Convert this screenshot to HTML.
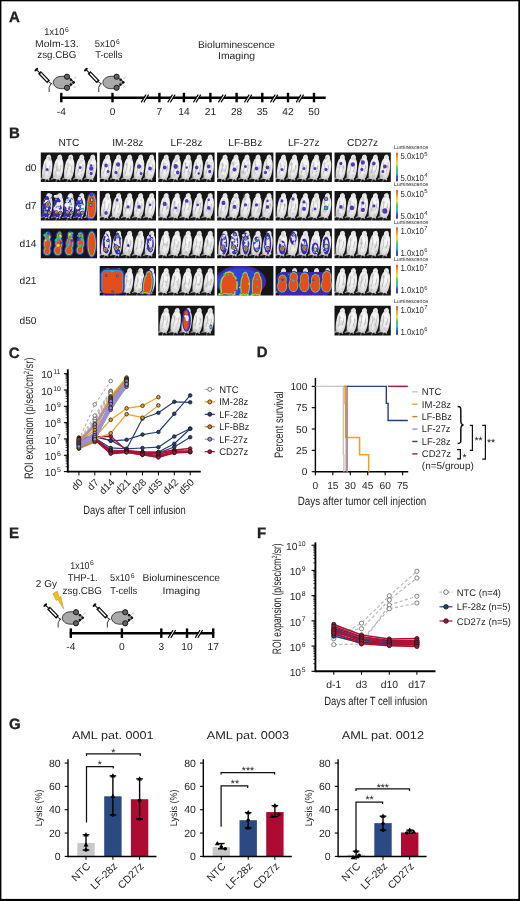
<!DOCTYPE html>
<html><head><meta charset="utf-8"><style>
html,body{margin:0;padding:0;background:#fff;}
svg{display:block;will-change:transform;}
text{font-family:"Liberation Sans", sans-serif;fill:#262626;text-rendering:geometricPrecision;}
</style></head><body>
<svg width="520" height="901" viewBox="0 0 520 901">
<defs>
<radialGradient id="mg" cx="0.55" cy="0.45" r="0.6" fx="0.6" fy="0.4">
<stop offset="0" stop-color="#fcfcfc"/><stop offset="0.55" stop-color="#ececec"/><stop offset="0.85" stop-color="#d0d0d0"/><stop offset="1" stop-color="#9a9a9a"/>
</radialGradient>
<filter id="soft" x="-5%" y="-5%" width="110%" height="110%"><feGaussianBlur stdDeviation="0.35"/></filter>
<linearGradient id="cb" x1="0" y1="0" x2="0" y2="1">
<stop offset="0" stop-color="#e0401a"/><stop offset="0.2" stop-color="#f0a020"/><stop offset="0.38" stop-color="#e8e030"/><stop offset="0.55" stop-color="#40c040"/><stop offset="0.72" stop-color="#20b0e0"/><stop offset="0.86" stop-color="#2040d0"/><stop offset="1" stop-color="#401a90"/>
</linearGradient>
</defs>
<rect x="0.00" y="0.00" width="520.00" height="901.00" fill="#fff" />
<text x="9.10" y="21.70" font-size="15" font-weight="bold" fill="#000" stroke="#000" stroke-width="0.3">A</text>
<text x="44.30" y="34.60" font-size="10.0" textLength="20.00" lengthAdjust="spacingAndGlyphs" >1x10</text>
<text x="65.00" y="31.60" font-size="6.8" >6</text>
<text x="35.10" y="47.35" font-size="10.0" textLength="43.50" lengthAdjust="spacingAndGlyphs" >Molm-13.</text>
<text x="37.30" y="58.30" font-size="10.0" textLength="39.10" lengthAdjust="spacingAndGlyphs" >zsg.CBG</text>
<text x="94.80" y="47.35" font-size="10.0" textLength="20.50" lengthAdjust="spacingAndGlyphs" >5x10</text>
<text x="116.00" y="44.20" font-size="6.8" >6</text>
<text x="95.20" y="58.30" font-size="10.0" textLength="27.20" lengthAdjust="spacingAndGlyphs" >T-cells</text>
<text x="198.00" y="47.70" font-size="10.0" textLength="77.00" lengthAdjust="spacingAndGlyphs" >Bioluminescence</text>
<text x="218.00" y="59.30" font-size="10.0" textLength="37.00" lengthAdjust="spacingAndGlyphs" >Imaging</text>
<g transform="translate(0.00 0.00)"><path d="M51.2,83.4 Q48.0,87 49.2,92.0" fill="none" stroke="#3a3a3a" stroke-width="1.0"/><ellipse cx="36.3" cy="69.6" rx="2.4" ry="1.1" transform="rotate(-45 36.3 69.6)" fill="#111"/><line x1="36.4" y1="69.6" x2="39.8" y2="72.8" stroke="#111" stroke-width="1.1"/><line x1="39.4" y1="72.4" x2="48.6" y2="81.8" stroke="#111" stroke-width="4.0"/><line x1="40.6" y1="73.6" x2="47.5" y2="80.7" stroke="#fff" stroke-width="1.5"/><line x1="48.4" y1="81.6" x2="52.2" y2="84.2" stroke="#111" stroke-width="0.9"/><path d="M53.2,82.5 C54,77.6 58.5,75.9 64,76.3 C68.5,76.8 71.6,79.2 74.3,82.3 C71.6,85.6 68.5,87.9 64,88.6 C58.5,89.2 54,87.4 53.2,82.5 Z" fill="#a9a9a9" stroke="#1a1a1a" stroke-width="0.8"/><circle cx="71.0" cy="79.8" r="1.25" fill="#111"/><circle cx="70.8" cy="84.4" r="1.25" fill="#111"/><circle cx="73.6" cy="82.3" r="1.35" fill="#111"/><circle cx="67.0" cy="76.7" r="2.6" fill="#626262" stroke="#111" stroke-width="0.9"/><circle cx="67.0" cy="87.8" r="2.6" fill="#626262" stroke="#111" stroke-width="0.9"/><path d="M73.6,78.4 l2.2,-2.0 M74.4,79.2 l2.2,-2.0 M73.0,86.4 l2.0,1.8 M73.8,85.6 l2.0,1.8" stroke="#c4c4c4" stroke-width="0.7"/></g>
<g transform="translate(49.60 0.00)"><path d="M51.2,83.4 Q48.0,87 49.2,92.0" fill="none" stroke="#3a3a3a" stroke-width="1.0"/><ellipse cx="36.3" cy="69.6" rx="2.4" ry="1.1" transform="rotate(-45 36.3 69.6)" fill="#111"/><line x1="36.4" y1="69.6" x2="39.8" y2="72.8" stroke="#111" stroke-width="1.1"/><line x1="39.4" y1="72.4" x2="48.6" y2="81.8" stroke="#111" stroke-width="4.0"/><line x1="40.6" y1="73.6" x2="47.5" y2="80.7" stroke="#fff" stroke-width="1.5"/><line x1="48.4" y1="81.6" x2="52.2" y2="84.2" stroke="#111" stroke-width="0.9"/><path d="M53.2,82.5 C54,77.6 58.5,75.9 64,76.3 C68.5,76.8 71.6,79.2 74.3,82.3 C71.6,85.6 68.5,87.9 64,88.6 C58.5,89.2 54,87.4 53.2,82.5 Z" fill="#a9a9a9" stroke="#1a1a1a" stroke-width="0.8"/><circle cx="71.0" cy="79.8" r="1.25" fill="#111"/><circle cx="70.8" cy="84.4" r="1.25" fill="#111"/><circle cx="73.6" cy="82.3" r="1.35" fill="#111"/><circle cx="67.0" cy="76.7" r="2.6" fill="#626262" stroke="#111" stroke-width="0.9"/><circle cx="67.0" cy="87.8" r="2.6" fill="#626262" stroke="#111" stroke-width="0.9"/><path d="M73.6,78.4 l2.2,-2.0 M74.4,79.2 l2.2,-2.0 M73.0,86.4 l2.0,1.8 M73.8,85.6 l2.0,1.8" stroke="#c4c4c4" stroke-width="0.7"/></g>
<line x1="60.30" y1="97.80" x2="325.70" y2="97.80" stroke="#000" stroke-width="2.4" />
<line x1="61.30" y1="92.80" x2="61.30" y2="102.30" stroke="#000" stroke-width="2.4" />
<line x1="112.50" y1="92.80" x2="112.50" y2="102.30" stroke="#000" stroke-width="2.4" />
<line x1="159.40" y1="92.80" x2="159.40" y2="102.30" stroke="#000" stroke-width="2.4" />
<line x1="183.90" y1="92.80" x2="183.90" y2="102.30" stroke="#000" stroke-width="2.4" />
<line x1="210.40" y1="92.80" x2="210.40" y2="102.30" stroke="#000" stroke-width="2.4" />
<line x1="236.60" y1="92.80" x2="236.60" y2="102.30" stroke="#000" stroke-width="2.4" />
<line x1="262.30" y1="92.80" x2="262.30" y2="102.30" stroke="#000" stroke-width="2.4" />
<line x1="288.00" y1="92.80" x2="288.00" y2="102.30" stroke="#000" stroke-width="2.4" />
<line x1="314.00" y1="92.80" x2="314.00" y2="102.30" stroke="#000" stroke-width="2.4" />
<polygon points="141.60,102.40 146.40,94.60 148.20,94.60 143.40,102.40" fill="#fff"/>
<line x1="141.20" y1="102.40" x2="146.00" y2="94.60" stroke="#000" stroke-width="1.1" />
<line x1="143.80" y1="102.40" x2="148.60" y2="94.60" stroke="#000" stroke-width="1.1" />
<polygon points="168.10,102.40 172.90,94.60 174.70,94.60 169.90,102.40" fill="#fff"/>
<line x1="167.70" y1="102.40" x2="172.50" y2="94.60" stroke="#000" stroke-width="1.1" />
<line x1="170.30" y1="102.40" x2="175.10" y2="94.60" stroke="#000" stroke-width="1.1" />
<polygon points="193.80,102.40 198.60,94.60 200.40,94.60 195.60,102.40" fill="#fff"/>
<line x1="193.40" y1="102.40" x2="198.20" y2="94.60" stroke="#000" stroke-width="1.1" />
<line x1="196.00" y1="102.40" x2="200.80" y2="94.60" stroke="#000" stroke-width="1.1" />
<polygon points="218.80,102.40 223.60,94.60 225.40,94.60 220.60,102.40" fill="#fff"/>
<line x1="218.40" y1="102.40" x2="223.20" y2="94.60" stroke="#000" stroke-width="1.1" />
<line x1="221.00" y1="102.40" x2="225.80" y2="94.60" stroke="#000" stroke-width="1.1" />
<polygon points="244.80,102.40 249.60,94.60 251.40,94.60 246.60,102.40" fill="#fff"/>
<line x1="244.40" y1="102.40" x2="249.20" y2="94.60" stroke="#000" stroke-width="1.1" />
<line x1="247.00" y1="102.40" x2="251.80" y2="94.60" stroke="#000" stroke-width="1.1" />
<polygon points="270.80,102.40 275.60,94.60 277.40,94.60 272.60,102.40" fill="#fff"/>
<line x1="270.40" y1="102.40" x2="275.20" y2="94.60" stroke="#000" stroke-width="1.1" />
<line x1="273.00" y1="102.40" x2="277.80" y2="94.60" stroke="#000" stroke-width="1.1" />
<polygon points="296.60,102.40 301.40,94.60 303.20,94.60 298.40,102.40" fill="#fff"/>
<line x1="296.20" y1="102.40" x2="301.00" y2="94.60" stroke="#000" stroke-width="1.1" />
<line x1="298.80" y1="102.40" x2="303.60" y2="94.60" stroke="#000" stroke-width="1.1" />
<text x="61.30" y="115.00" font-size="10.2" text-anchor="middle" >-4</text>
<text x="112.50" y="115.00" font-size="10.2" text-anchor="middle" >0</text>
<text x="159.40" y="115.00" font-size="10.2" text-anchor="middle" >7</text>
<text x="183.90" y="115.00" font-size="10.2" text-anchor="middle" >14</text>
<text x="210.40" y="115.00" font-size="10.2" text-anchor="middle" >21</text>
<text x="236.60" y="115.00" font-size="10.2" text-anchor="middle" >28</text>
<text x="262.30" y="115.00" font-size="10.2" text-anchor="middle" >35</text>
<text x="288.00" y="115.00" font-size="10.2" text-anchor="middle" >42</text>
<text x="314.00" y="115.00" font-size="10.2" text-anchor="middle" >50</text>
<text x="8.90" y="137.80" font-size="15" font-weight="bold" fill="#000" stroke="#000" stroke-width="0.3">B</text>
<text x="68.95" y="146.00" font-size="10.2" text-anchor="middle" >NTC</text>
<text x="127.85" y="146.00" font-size="10.2" text-anchor="middle" >IM-28z</text>
<text x="186.45" y="146.00" font-size="10.2" text-anchor="middle" >LF-28z</text>
<text x="245.25" y="146.00" font-size="10.2" text-anchor="middle" >LF-BBz</text>
<text x="303.75" y="146.00" font-size="10.2" text-anchor="middle" >LF-27z</text>
<text x="362.65" y="146.00" font-size="10.2" text-anchor="middle" >CD27z</text>
<text x="36.50" y="170.70" font-size="10.2" text-anchor="end" >d0</text>
<text x="36.50" y="209.10" font-size="10.2" text-anchor="end" >d7</text>
<text x="36.50" y="246.80" font-size="10.2" text-anchor="end" >d14</text>
<text x="36.50" y="284.20" font-size="10.2" text-anchor="end" >d21</text>
<text x="36.50" y="324.00" font-size="10.2" text-anchor="end" >d50</text>
<clipPath id="cp00"><rect x="40.80" y="152.50" width="56.3" height="29.6"/></clipPath>
<g clip-path="url(#cp00)"><g filter="url(#soft)">
<rect x="39.80" y="151.50" width="58.30" height="31.60" fill="#131313" />
<g transform="translate(47.40 152.80) rotate(7 0 15) scale(1.14 1)"><path d="M0.40,1.60 L1.50,2.40 L2.30,4.10 L2.20,5.70 L3.20,7.40 L3.90,10.00 L4.30,14.00 L4.30,18.00 L4.00,21.50 L3.50,24.00 L2.80,25.50 L3.20,27.00 L2.30,27.70 L1.20,26.40 L0.30,27.00 L-0.30,27.00 L-1.40,26.40 L-3.00,26.80 L-5.00,27.80 L-5.30,26.90 L-3.80,25.20 L-4.10,22.00 L-4.30,18.00 L-4.10,14.00 L-3.70,10.00 L-3.00,7.40 L-2.00,5.70 L-2.20,4.10 L-1.40,2.40 Z" fill="url(#mg)"/><path d="M-0.2,27 q-0.6,1.5 -0.3,2.8" stroke="#9a9a9a" stroke-width="0.7" fill="none"/><path d="M-1.8,10 q1.2,5 -0.2,11 M1.8,12 q0.8,3 -0.4,7 M-0.5,5 l1,0" stroke="#a8a8a8" stroke-width="0.9" fill="none" opacity="0.6"/><ellipse cx="1.66" cy="6.17" rx="1.28" ry="2.14" fill="#8a8a8a" opacity="0.2"/><ellipse cx="-2.29" cy="23.05" rx="1.31" ry="1.58" fill="#8a8a8a" opacity="0.2"/><ellipse cx="-0.70" cy="17.98" rx="0.96" ry="1.32" fill="#8a8a8a" opacity="0.2"/><ellipse cx="0.60" cy="6.01" rx="1.26" ry="1.91" fill="#8a8a8a" opacity="0.2"/><ellipse cx="2.36" cy="19.30" rx="1.19" ry="1.83" fill="#8a8a8a" opacity="0.2"/><ellipse cx="-1.75" cy="15.04" rx="1.41" ry="2.43" fill="#8a8a8a" opacity="0.2"/></g>
<g transform="translate(58.40 152.80) rotate(7 0 15) scale(1.14 1)"><path d="M0.40,1.60 L1.50,2.40 L2.30,4.10 L2.20,5.70 L3.20,7.40 L3.90,10.00 L4.30,14.00 L4.30,18.00 L4.00,21.50 L3.50,24.00 L2.80,25.50 L3.20,27.00 L2.30,27.70 L1.20,26.40 L0.30,27.00 L-0.30,27.00 L-1.40,26.40 L-3.00,26.80 L-5.00,27.80 L-5.30,26.90 L-3.80,25.20 L-4.10,22.00 L-4.30,18.00 L-4.10,14.00 L-3.70,10.00 L-3.00,7.40 L-2.00,5.70 L-2.20,4.10 L-1.40,2.40 Z" fill="url(#mg)"/><path d="M-0.2,27 q-0.6,1.5 -0.3,2.8" stroke="#9a9a9a" stroke-width="0.7" fill="none"/><path d="M-1.8,10 q1.2,5 -0.2,11 M1.8,12 q0.8,3 -0.4,7 M-0.5,5 l1,0" stroke="#a8a8a8" stroke-width="0.9" fill="none" opacity="0.6"/><ellipse cx="0.12" cy="13.43" rx="0.80" ry="0.74" fill="#8a8a8a" opacity="0.2"/><ellipse cx="-0.09" cy="17.52" rx="1.16" ry="1.75" fill="#8a8a8a" opacity="0.2"/><ellipse cx="-0.36" cy="5.96" rx="0.80" ry="1.28" fill="#8a8a8a" opacity="0.2"/><ellipse cx="-0.44" cy="16.30" rx="1.21" ry="1.88" fill="#8a8a8a" opacity="0.2"/><ellipse cx="-1.89" cy="14.32" rx="1.19" ry="2.06" fill="#8a8a8a" opacity="0.2"/><ellipse cx="-1.23" cy="23.01" rx="1.36" ry="1.81" fill="#8a8a8a" opacity="0.2"/></g>
<g transform="translate(69.40 152.80) rotate(7 0 15) scale(1.14 1)"><path d="M0.40,1.60 L1.50,2.40 L2.30,4.10 L2.20,5.70 L3.20,7.40 L3.90,10.00 L4.30,14.00 L4.30,18.00 L4.00,21.50 L3.50,24.00 L2.80,25.50 L3.20,27.00 L2.30,27.70 L1.20,26.40 L0.30,27.00 L-0.30,27.00 L-1.40,26.40 L-3.00,26.80 L-5.00,27.80 L-5.30,26.90 L-3.80,25.20 L-4.10,22.00 L-4.30,18.00 L-4.10,14.00 L-3.70,10.00 L-3.00,7.40 L-2.00,5.70 L-2.20,4.10 L-1.40,2.40 Z" fill="url(#mg)"/><path d="M-0.2,27 q-0.6,1.5 -0.3,2.8" stroke="#9a9a9a" stroke-width="0.7" fill="none"/><path d="M-1.8,10 q1.2,5 -0.2,11 M1.8,12 q0.8,3 -0.4,7 M-0.5,5 l1,0" stroke="#a8a8a8" stroke-width="0.9" fill="none" opacity="0.6"/><ellipse cx="-0.01" cy="12.20" rx="1.25" ry="1.56" fill="#8a8a8a" opacity="0.2"/><ellipse cx="-0.26" cy="5.52" rx="0.90" ry="1.15" fill="#8a8a8a" opacity="0.2"/><ellipse cx="-0.27" cy="6.76" rx="0.87" ry="0.99" fill="#8a8a8a" opacity="0.2"/><ellipse cx="2.25" cy="19.35" rx="1.41" ry="1.17" fill="#8a8a8a" opacity="0.2"/><ellipse cx="-1.52" cy="15.76" rx="0.66" ry="0.67" fill="#8a8a8a" opacity="0.2"/><ellipse cx="0.33" cy="5.02" rx="0.95" ry="0.79" fill="#8a8a8a" opacity="0.2"/></g>
<g transform="translate(80.40 152.80) rotate(7 0 15) scale(1.14 1)"><path d="M0.40,1.60 L1.50,2.40 L2.30,4.10 L2.20,5.70 L3.20,7.40 L3.90,10.00 L4.30,14.00 L4.30,18.00 L4.00,21.50 L3.50,24.00 L2.80,25.50 L3.20,27.00 L2.30,27.70 L1.20,26.40 L0.30,27.00 L-0.30,27.00 L-1.40,26.40 L-3.00,26.80 L-5.00,27.80 L-5.30,26.90 L-3.80,25.20 L-4.10,22.00 L-4.30,18.00 L-4.10,14.00 L-3.70,10.00 L-3.00,7.40 L-2.00,5.70 L-2.20,4.10 L-1.40,2.40 Z" fill="url(#mg)"/><path d="M-0.2,27 q-0.6,1.5 -0.3,2.8" stroke="#9a9a9a" stroke-width="0.7" fill="none"/><path d="M-1.8,10 q1.2,5 -0.2,11 M1.8,12 q0.8,3 -0.4,7 M-0.5,5 l1,0" stroke="#a8a8a8" stroke-width="0.9" fill="none" opacity="0.6"/><ellipse cx="-0.44" cy="24.52" rx="1.15" ry="1.72" fill="#8a8a8a" opacity="0.2"/><ellipse cx="0.05" cy="8.76" rx="1.35" ry="2.22" fill="#8a8a8a" opacity="0.2"/><ellipse cx="-1.63" cy="18.01" rx="1.23" ry="1.86" fill="#8a8a8a" opacity="0.2"/><ellipse cx="1.73" cy="21.90" rx="0.93" ry="1.22" fill="#8a8a8a" opacity="0.2"/><ellipse cx="1.24" cy="7.86" rx="0.62" ry="0.59" fill="#8a8a8a" opacity="0.2"/><ellipse cx="1.88" cy="11.49" rx="0.87" ry="0.80" fill="#8a8a8a" opacity="0.2"/></g>
<g transform="translate(91.40 152.80) rotate(7 0 15) scale(1.14 1)"><path d="M0.40,1.60 L1.50,2.40 L2.30,4.10 L2.20,5.70 L3.20,7.40 L3.90,10.00 L4.30,14.00 L4.30,18.00 L4.00,21.50 L3.50,24.00 L2.80,25.50 L3.20,27.00 L2.30,27.70 L1.20,26.40 L0.30,27.00 L-0.30,27.00 L-1.40,26.40 L-3.00,26.80 L-5.00,27.80 L-5.30,26.90 L-3.80,25.20 L-4.10,22.00 L-4.30,18.00 L-4.10,14.00 L-3.70,10.00 L-3.00,7.40 L-2.00,5.70 L-2.20,4.10 L-1.40,2.40 Z" fill="url(#mg)"/><path d="M-0.2,27 q-0.6,1.5 -0.3,2.8" stroke="#9a9a9a" stroke-width="0.7" fill="none"/><path d="M-1.8,10 q1.2,5 -0.2,11 M1.8,12 q0.8,3 -0.4,7 M-0.5,5 l1,0" stroke="#a8a8a8" stroke-width="0.9" fill="none" opacity="0.6"/><ellipse cx="-0.09" cy="23.04" rx="1.08" ry="1.82" fill="#8a8a8a" opacity="0.2"/><ellipse cx="0.41" cy="24.89" rx="0.92" ry="1.35" fill="#8a8a8a" opacity="0.2"/><ellipse cx="-0.07" cy="16.45" rx="0.89" ry="1.43" fill="#8a8a8a" opacity="0.2"/><ellipse cx="1.73" cy="18.22" rx="1.12" ry="0.95" fill="#8a8a8a" opacity="0.2"/><ellipse cx="1.53" cy="11.80" rx="0.69" ry="0.71" fill="#8a8a8a" opacity="0.2"/><ellipse cx="-1.15" cy="7.46" rx="1.03" ry="1.72" fill="#8a8a8a" opacity="0.2"/></g>
<ellipse cx="47.20" cy="169.50" rx="1.40" ry="1.53" fill="#5236b8"/>
<ellipse cx="80.20" cy="167.50" rx="1.40" ry="1.53" fill="#5236b8"/>
<ellipse cx="91.20" cy="168.50" rx="2.02" ry="2.22" fill="#5236b8"/>
<ellipse cx="91.20" cy="173.50" rx="1.55" ry="1.71" fill="#5236b8"/>
<ellipse cx="91.20" cy="165.50" rx="1.24" ry="1.36" fill="#5236b8"/>
</g></g>
<clipPath id="cp10"><rect x="99.70" y="152.50" width="56.3" height="29.6"/></clipPath>
<g clip-path="url(#cp10)"><g filter="url(#soft)">
<rect x="98.70" y="151.50" width="58.30" height="31.60" fill="#131313" />
<g transform="translate(106.30 152.80) rotate(7 0 15) scale(1.14 1)"><path d="M0.40,1.60 L1.50,2.40 L2.30,4.10 L2.20,5.70 L3.20,7.40 L3.90,10.00 L4.30,14.00 L4.30,18.00 L4.00,21.50 L3.50,24.00 L2.80,25.50 L3.20,27.00 L2.30,27.70 L1.20,26.40 L0.30,27.00 L-0.30,27.00 L-1.40,26.40 L-3.00,26.80 L-5.00,27.80 L-5.30,26.90 L-3.80,25.20 L-4.10,22.00 L-4.30,18.00 L-4.10,14.00 L-3.70,10.00 L-3.00,7.40 L-2.00,5.70 L-2.20,4.10 L-1.40,2.40 Z" fill="url(#mg)"/><path d="M-0.2,27 q-0.6,1.5 -0.3,2.8" stroke="#9a9a9a" stroke-width="0.7" fill="none"/><path d="M-1.8,10 q1.2,5 -0.2,11 M1.8,12 q0.8,3 -0.4,7 M-0.5,5 l1,0" stroke="#a8a8a8" stroke-width="0.9" fill="none" opacity="0.6"/><ellipse cx="-0.86" cy="9.57" rx="0.61" ry="1.06" fill="#8a8a8a" opacity="0.2"/><ellipse cx="-0.99" cy="5.01" rx="0.79" ry="1.04" fill="#8a8a8a" opacity="0.2"/><ellipse cx="1.47" cy="11.18" rx="0.74" ry="0.64" fill="#8a8a8a" opacity="0.2"/><ellipse cx="2.09" cy="11.15" rx="0.85" ry="1.51" fill="#8a8a8a" opacity="0.2"/><ellipse cx="1.34" cy="20.38" rx="1.26" ry="1.06" fill="#8a8a8a" opacity="0.2"/><ellipse cx="1.59" cy="24.78" rx="1.49" ry="1.33" fill="#8a8a8a" opacity="0.2"/></g>
<g transform="translate(117.30 152.80) rotate(7 0 15) scale(1.14 1)"><path d="M0.40,1.60 L1.50,2.40 L2.30,4.10 L2.20,5.70 L3.20,7.40 L3.90,10.00 L4.30,14.00 L4.30,18.00 L4.00,21.50 L3.50,24.00 L2.80,25.50 L3.20,27.00 L2.30,27.70 L1.20,26.40 L0.30,27.00 L-0.30,27.00 L-1.40,26.40 L-3.00,26.80 L-5.00,27.80 L-5.30,26.90 L-3.80,25.20 L-4.10,22.00 L-4.30,18.00 L-4.10,14.00 L-3.70,10.00 L-3.00,7.40 L-2.00,5.70 L-2.20,4.10 L-1.40,2.40 Z" fill="url(#mg)"/><path d="M-0.2,27 q-0.6,1.5 -0.3,2.8" stroke="#9a9a9a" stroke-width="0.7" fill="none"/><path d="M-1.8,10 q1.2,5 -0.2,11 M1.8,12 q0.8,3 -0.4,7 M-0.5,5 l1,0" stroke="#a8a8a8" stroke-width="0.9" fill="none" opacity="0.6"/><ellipse cx="1.99" cy="21.01" rx="1.13" ry="1.91" fill="#8a8a8a" opacity="0.2"/><ellipse cx="1.35" cy="21.20" rx="0.80" ry="1.42" fill="#8a8a8a" opacity="0.2"/><ellipse cx="0.75" cy="16.16" rx="1.00" ry="1.09" fill="#8a8a8a" opacity="0.2"/><ellipse cx="2.25" cy="5.65" rx="0.99" ry="0.98" fill="#8a8a8a" opacity="0.2"/><ellipse cx="2.38" cy="23.02" rx="0.71" ry="1.22" fill="#8a8a8a" opacity="0.2"/><ellipse cx="0.75" cy="22.83" rx="1.45" ry="2.10" fill="#8a8a8a" opacity="0.2"/></g>
<g transform="translate(128.30 152.80) rotate(7 0 15) scale(1.14 1)"><path d="M0.40,1.60 L1.50,2.40 L2.30,4.10 L2.20,5.70 L3.20,7.40 L3.90,10.00 L4.30,14.00 L4.30,18.00 L4.00,21.50 L3.50,24.00 L2.80,25.50 L3.20,27.00 L2.30,27.70 L1.20,26.40 L0.30,27.00 L-0.30,27.00 L-1.40,26.40 L-3.00,26.80 L-5.00,27.80 L-5.30,26.90 L-3.80,25.20 L-4.10,22.00 L-4.30,18.00 L-4.10,14.00 L-3.70,10.00 L-3.00,7.40 L-2.00,5.70 L-2.20,4.10 L-1.40,2.40 Z" fill="url(#mg)"/><path d="M-0.2,27 q-0.6,1.5 -0.3,2.8" stroke="#9a9a9a" stroke-width="0.7" fill="none"/><path d="M-1.8,10 q1.2,5 -0.2,11 M1.8,12 q0.8,3 -0.4,7 M-0.5,5 l1,0" stroke="#a8a8a8" stroke-width="0.9" fill="none" opacity="0.6"/><ellipse cx="0.11" cy="24.17" rx="0.91" ry="1.37" fill="#8a8a8a" opacity="0.2"/><ellipse cx="2.38" cy="6.01" rx="1.20" ry="1.94" fill="#8a8a8a" opacity="0.2"/><ellipse cx="2.09" cy="16.83" rx="0.70" ry="0.80" fill="#8a8a8a" opacity="0.2"/><ellipse cx="-2.74" cy="20.82" rx="0.90" ry="0.91" fill="#8a8a8a" opacity="0.2"/><ellipse cx="-1.98" cy="5.81" rx="0.73" ry="0.66" fill="#8a8a8a" opacity="0.2"/><ellipse cx="-1.51" cy="12.00" rx="1.38" ry="1.31" fill="#8a8a8a" opacity="0.2"/></g>
<g transform="translate(139.30 152.80) rotate(7 0 15) scale(1.14 1)"><path d="M0.40,1.60 L1.50,2.40 L2.30,4.10 L2.20,5.70 L3.20,7.40 L3.90,10.00 L4.30,14.00 L4.30,18.00 L4.00,21.50 L3.50,24.00 L2.80,25.50 L3.20,27.00 L2.30,27.70 L1.20,26.40 L0.30,27.00 L-0.30,27.00 L-1.40,26.40 L-3.00,26.80 L-5.00,27.80 L-5.30,26.90 L-3.80,25.20 L-4.10,22.00 L-4.30,18.00 L-4.10,14.00 L-3.70,10.00 L-3.00,7.40 L-2.00,5.70 L-2.20,4.10 L-1.40,2.40 Z" fill="url(#mg)"/><path d="M-0.2,27 q-0.6,1.5 -0.3,2.8" stroke="#9a9a9a" stroke-width="0.7" fill="none"/><path d="M-1.8,10 q1.2,5 -0.2,11 M1.8,12 q0.8,3 -0.4,7 M-0.5,5 l1,0" stroke="#a8a8a8" stroke-width="0.9" fill="none" opacity="0.6"/><ellipse cx="-1.79" cy="14.75" rx="0.67" ry="0.89" fill="#8a8a8a" opacity="0.2"/><ellipse cx="2.35" cy="22.53" rx="1.05" ry="1.70" fill="#8a8a8a" opacity="0.2"/><ellipse cx="1.71" cy="9.28" rx="0.68" ry="0.68" fill="#8a8a8a" opacity="0.2"/><ellipse cx="0.47" cy="18.47" rx="0.74" ry="1.15" fill="#8a8a8a" opacity="0.2"/><ellipse cx="0.40" cy="14.28" rx="1.06" ry="0.99" fill="#8a8a8a" opacity="0.2"/><ellipse cx="0.54" cy="24.41" rx="0.72" ry="1.08" fill="#8a8a8a" opacity="0.2"/></g>
<g transform="translate(150.30 152.80) rotate(7 0 15) scale(1.14 1)"><path d="M0.40,1.60 L1.50,2.40 L2.30,4.10 L2.20,5.70 L3.20,7.40 L3.90,10.00 L4.30,14.00 L4.30,18.00 L4.00,21.50 L3.50,24.00 L2.80,25.50 L3.20,27.00 L2.30,27.70 L1.20,26.40 L0.30,27.00 L-0.30,27.00 L-1.40,26.40 L-3.00,26.80 L-5.00,27.80 L-5.30,26.90 L-3.80,25.20 L-4.10,22.00 L-4.30,18.00 L-4.10,14.00 L-3.70,10.00 L-3.00,7.40 L-2.00,5.70 L-2.20,4.10 L-1.40,2.40 Z" fill="url(#mg)"/><path d="M-0.2,27 q-0.6,1.5 -0.3,2.8" stroke="#9a9a9a" stroke-width="0.7" fill="none"/><path d="M-1.8,10 q1.2,5 -0.2,11 M1.8,12 q0.8,3 -0.4,7 M-0.5,5 l1,0" stroke="#a8a8a8" stroke-width="0.9" fill="none" opacity="0.6"/><ellipse cx="0.96" cy="22.13" rx="0.82" ry="0.73" fill="#8a8a8a" opacity="0.2"/><ellipse cx="-0.37" cy="8.29" rx="0.99" ry="1.52" fill="#8a8a8a" opacity="0.2"/><ellipse cx="-1.66" cy="21.68" rx="1.06" ry="1.38" fill="#8a8a8a" opacity="0.2"/><ellipse cx="2.78" cy="16.51" rx="0.73" ry="0.93" fill="#8a8a8a" opacity="0.2"/><ellipse cx="1.52" cy="12.37" rx="0.67" ry="0.89" fill="#8a8a8a" opacity="0.2"/><ellipse cx="0.29" cy="10.71" rx="1.24" ry="1.17" fill="#8a8a8a" opacity="0.2"/></g>
<ellipse cx="106.10" cy="165.50" rx="1.71" ry="1.88" fill="#5236b8"/>
<ellipse cx="108.10" cy="171.50" rx="1.40" ry="1.53" fill="#5236b8"/>
<ellipse cx="118.10" cy="164.50" rx="2.02" ry="2.22" fill="#5236b8"/>
<ellipse cx="116.10" cy="172.50" rx="1.55" ry="1.71" fill="#5236b8"/>
<ellipse cx="139.10" cy="166.50" rx="2.02" ry="2.22" fill="#5236b8"/>
<ellipse cx="141.10" cy="173.50" rx="1.40" ry="1.53" fill="#5236b8"/>
<ellipse cx="150.10" cy="168.50" rx="1.71" ry="1.88" fill="#5236b8"/>
</g></g>
<clipPath id="cp20"><rect x="158.30" y="152.50" width="56.3" height="29.6"/></clipPath>
<g clip-path="url(#cp20)"><g filter="url(#soft)">
<rect x="157.30" y="151.50" width="58.30" height="31.60" fill="#131313" />
<g transform="translate(164.90 152.80) rotate(7 0 15) scale(1.14 1)"><path d="M0.40,1.60 L1.50,2.40 L2.30,4.10 L2.20,5.70 L3.20,7.40 L3.90,10.00 L4.30,14.00 L4.30,18.00 L4.00,21.50 L3.50,24.00 L2.80,25.50 L3.20,27.00 L2.30,27.70 L1.20,26.40 L0.30,27.00 L-0.30,27.00 L-1.40,26.40 L-3.00,26.80 L-5.00,27.80 L-5.30,26.90 L-3.80,25.20 L-4.10,22.00 L-4.30,18.00 L-4.10,14.00 L-3.70,10.00 L-3.00,7.40 L-2.00,5.70 L-2.20,4.10 L-1.40,2.40 Z" fill="url(#mg)"/><path d="M-0.2,27 q-0.6,1.5 -0.3,2.8" stroke="#9a9a9a" stroke-width="0.7" fill="none"/><path d="M-1.8,10 q1.2,5 -0.2,11 M1.8,12 q0.8,3 -0.4,7 M-0.5,5 l1,0" stroke="#a8a8a8" stroke-width="0.9" fill="none" opacity="0.6"/><ellipse cx="-0.75" cy="5.62" rx="0.76" ry="0.94" fill="#8a8a8a" opacity="0.2"/><ellipse cx="1.59" cy="13.85" rx="1.05" ry="1.03" fill="#8a8a8a" opacity="0.2"/><ellipse cx="-0.19" cy="10.93" rx="1.32" ry="1.55" fill="#8a8a8a" opacity="0.2"/><ellipse cx="0.66" cy="7.26" rx="0.79" ry="0.97" fill="#8a8a8a" opacity="0.2"/><ellipse cx="0.39" cy="14.55" rx="0.62" ry="1.01" fill="#8a8a8a" opacity="0.2"/><ellipse cx="1.84" cy="15.71" rx="1.22" ry="1.62" fill="#8a8a8a" opacity="0.2"/></g>
<g transform="translate(175.90 152.80) rotate(7 0 15) scale(1.14 1)"><path d="M0.40,1.60 L1.50,2.40 L2.30,4.10 L2.20,5.70 L3.20,7.40 L3.90,10.00 L4.30,14.00 L4.30,18.00 L4.00,21.50 L3.50,24.00 L2.80,25.50 L3.20,27.00 L2.30,27.70 L1.20,26.40 L0.30,27.00 L-0.30,27.00 L-1.40,26.40 L-3.00,26.80 L-5.00,27.80 L-5.30,26.90 L-3.80,25.20 L-4.10,22.00 L-4.30,18.00 L-4.10,14.00 L-3.70,10.00 L-3.00,7.40 L-2.00,5.70 L-2.20,4.10 L-1.40,2.40 Z" fill="url(#mg)"/><path d="M-0.2,27 q-0.6,1.5 -0.3,2.8" stroke="#9a9a9a" stroke-width="0.7" fill="none"/><path d="M-1.8,10 q1.2,5 -0.2,11 M1.8,12 q0.8,3 -0.4,7 M-0.5,5 l1,0" stroke="#a8a8a8" stroke-width="0.9" fill="none" opacity="0.6"/><ellipse cx="-0.90" cy="7.90" rx="0.79" ry="0.65" fill="#8a8a8a" opacity="0.2"/><ellipse cx="-1.36" cy="22.01" rx="1.08" ry="1.08" fill="#8a8a8a" opacity="0.2"/><ellipse cx="-1.94" cy="13.31" rx="0.96" ry="1.65" fill="#8a8a8a" opacity="0.2"/><ellipse cx="-0.13" cy="22.83" rx="1.46" ry="1.88" fill="#8a8a8a" opacity="0.2"/><ellipse cx="-0.78" cy="8.32" rx="1.15" ry="1.94" fill="#8a8a8a" opacity="0.2"/><ellipse cx="0.34" cy="7.52" rx="1.17" ry="1.58" fill="#8a8a8a" opacity="0.2"/></g>
<g transform="translate(186.90 152.80) rotate(7 0 15) scale(1.14 1)"><path d="M0.40,1.60 L1.50,2.40 L2.30,4.10 L2.20,5.70 L3.20,7.40 L3.90,10.00 L4.30,14.00 L4.30,18.00 L4.00,21.50 L3.50,24.00 L2.80,25.50 L3.20,27.00 L2.30,27.70 L1.20,26.40 L0.30,27.00 L-0.30,27.00 L-1.40,26.40 L-3.00,26.80 L-5.00,27.80 L-5.30,26.90 L-3.80,25.20 L-4.10,22.00 L-4.30,18.00 L-4.10,14.00 L-3.70,10.00 L-3.00,7.40 L-2.00,5.70 L-2.20,4.10 L-1.40,2.40 Z" fill="url(#mg)"/><path d="M-0.2,27 q-0.6,1.5 -0.3,2.8" stroke="#9a9a9a" stroke-width="0.7" fill="none"/><path d="M-1.8,10 q1.2,5 -0.2,11 M1.8,12 q0.8,3 -0.4,7 M-0.5,5 l1,0" stroke="#a8a8a8" stroke-width="0.9" fill="none" opacity="0.6"/><ellipse cx="2.27" cy="20.31" rx="1.22" ry="1.86" fill="#8a8a8a" opacity="0.2"/><ellipse cx="1.87" cy="18.95" rx="1.11" ry="0.92" fill="#8a8a8a" opacity="0.2"/><ellipse cx="2.05" cy="6.11" rx="0.82" ry="0.87" fill="#8a8a8a" opacity="0.2"/><ellipse cx="0.76" cy="6.49" rx="1.00" ry="1.13" fill="#8a8a8a" opacity="0.2"/><ellipse cx="-1.62" cy="10.93" rx="1.28" ry="1.23" fill="#8a8a8a" opacity="0.2"/><ellipse cx="2.55" cy="11.50" rx="1.45" ry="2.23" fill="#8a8a8a" opacity="0.2"/></g>
<g transform="translate(197.90 152.80) rotate(7 0 15) scale(1.14 1)"><path d="M0.40,1.60 L1.50,2.40 L2.30,4.10 L2.20,5.70 L3.20,7.40 L3.90,10.00 L4.30,14.00 L4.30,18.00 L4.00,21.50 L3.50,24.00 L2.80,25.50 L3.20,27.00 L2.30,27.70 L1.20,26.40 L0.30,27.00 L-0.30,27.00 L-1.40,26.40 L-3.00,26.80 L-5.00,27.80 L-5.30,26.90 L-3.80,25.20 L-4.10,22.00 L-4.30,18.00 L-4.10,14.00 L-3.70,10.00 L-3.00,7.40 L-2.00,5.70 L-2.20,4.10 L-1.40,2.40 Z" fill="url(#mg)"/><path d="M-0.2,27 q-0.6,1.5 -0.3,2.8" stroke="#9a9a9a" stroke-width="0.7" fill="none"/><path d="M-1.8,10 q1.2,5 -0.2,11 M1.8,12 q0.8,3 -0.4,7 M-0.5,5 l1,0" stroke="#a8a8a8" stroke-width="0.9" fill="none" opacity="0.6"/><ellipse cx="0.09" cy="9.79" rx="0.63" ry="0.78" fill="#8a8a8a" opacity="0.2"/><ellipse cx="2.65" cy="17.44" rx="1.02" ry="1.34" fill="#8a8a8a" opacity="0.2"/><ellipse cx="-1.40" cy="19.01" rx="1.13" ry="1.02" fill="#8a8a8a" opacity="0.2"/><ellipse cx="2.02" cy="20.04" rx="1.25" ry="1.31" fill="#8a8a8a" opacity="0.2"/><ellipse cx="2.16" cy="12.39" rx="0.90" ry="1.42" fill="#8a8a8a" opacity="0.2"/><ellipse cx="-1.42" cy="23.41" rx="0.65" ry="0.70" fill="#8a8a8a" opacity="0.2"/></g>
<g transform="translate(208.90 152.80) rotate(7 0 15) scale(1.14 1)"><path d="M0.40,1.60 L1.50,2.40 L2.30,4.10 L2.20,5.70 L3.20,7.40 L3.90,10.00 L4.30,14.00 L4.30,18.00 L4.00,21.50 L3.50,24.00 L2.80,25.50 L3.20,27.00 L2.30,27.70 L1.20,26.40 L0.30,27.00 L-0.30,27.00 L-1.40,26.40 L-3.00,26.80 L-5.00,27.80 L-5.30,26.90 L-3.80,25.20 L-4.10,22.00 L-4.30,18.00 L-4.10,14.00 L-3.70,10.00 L-3.00,7.40 L-2.00,5.70 L-2.20,4.10 L-1.40,2.40 Z" fill="url(#mg)"/><path d="M-0.2,27 q-0.6,1.5 -0.3,2.8" stroke="#9a9a9a" stroke-width="0.7" fill="none"/><path d="M-1.8,10 q1.2,5 -0.2,11 M1.8,12 q0.8,3 -0.4,7 M-0.5,5 l1,0" stroke="#a8a8a8" stroke-width="0.9" fill="none" opacity="0.6"/><ellipse cx="-2.22" cy="11.02" rx="1.44" ry="1.85" fill="#8a8a8a" opacity="0.2"/><ellipse cx="1.22" cy="20.20" rx="0.96" ry="1.19" fill="#8a8a8a" opacity="0.2"/><ellipse cx="0.91" cy="11.13" rx="1.26" ry="1.79" fill="#8a8a8a" opacity="0.2"/><ellipse cx="-2.75" cy="23.13" rx="0.70" ry="0.85" fill="#8a8a8a" opacity="0.2"/><ellipse cx="-0.02" cy="13.23" rx="0.90" ry="1.30" fill="#8a8a8a" opacity="0.2"/><ellipse cx="-1.51" cy="9.64" rx="0.64" ry="0.90" fill="#8a8a8a" opacity="0.2"/></g>
<ellipse cx="164.70" cy="167.50" rx="1.86" ry="2.05" fill="#5236b8"/>
<ellipse cx="175.70" cy="166.50" rx="2.17" ry="2.39" fill="#5236b8"/>
<ellipse cx="177.70" cy="172.50" rx="1.71" ry="1.88" fill="#5236b8"/>
<ellipse cx="186.70" cy="167.50" rx="1.24" ry="1.36" fill="#5236b8"/>
<ellipse cx="196.70" cy="167.50" rx="1.71" ry="1.88" fill="#5236b8"/>
<ellipse cx="198.70" cy="173.50" rx="1.24" ry="1.36" fill="#5236b8"/>
<ellipse cx="208.70" cy="166.50" rx="1.86" ry="2.05" fill="#5236b8"/>
<ellipse cx="209.70" cy="171.50" rx="1.55" ry="1.71" fill="#5236b8"/>
</g></g>
<clipPath id="cp30"><rect x="217.10" y="152.50" width="56.3" height="29.6"/></clipPath>
<g clip-path="url(#cp30)"><g filter="url(#soft)">
<rect x="216.10" y="151.50" width="58.30" height="31.60" fill="#131313" />
<g transform="translate(223.70 152.80) rotate(7 0 15) scale(1.14 1)"><path d="M0.40,1.60 L1.50,2.40 L2.30,4.10 L2.20,5.70 L3.20,7.40 L3.90,10.00 L4.30,14.00 L4.30,18.00 L4.00,21.50 L3.50,24.00 L2.80,25.50 L3.20,27.00 L2.30,27.70 L1.20,26.40 L0.30,27.00 L-0.30,27.00 L-1.40,26.40 L-3.00,26.80 L-5.00,27.80 L-5.30,26.90 L-3.80,25.20 L-4.10,22.00 L-4.30,18.00 L-4.10,14.00 L-3.70,10.00 L-3.00,7.40 L-2.00,5.70 L-2.20,4.10 L-1.40,2.40 Z" fill="url(#mg)"/><path d="M-0.2,27 q-0.6,1.5 -0.3,2.8" stroke="#9a9a9a" stroke-width="0.7" fill="none"/><path d="M-1.8,10 q1.2,5 -0.2,11 M1.8,12 q0.8,3 -0.4,7 M-0.5,5 l1,0" stroke="#a8a8a8" stroke-width="0.9" fill="none" opacity="0.6"/><ellipse cx="-0.76" cy="12.81" rx="0.91" ry="1.24" fill="#8a8a8a" opacity="0.2"/><ellipse cx="0.80" cy="18.08" rx="0.91" ry="1.18" fill="#8a8a8a" opacity="0.2"/><ellipse cx="-0.18" cy="23.16" rx="1.03" ry="1.35" fill="#8a8a8a" opacity="0.2"/><ellipse cx="0.62" cy="16.52" rx="0.76" ry="1.06" fill="#8a8a8a" opacity="0.2"/><ellipse cx="-0.98" cy="12.23" rx="1.39" ry="1.58" fill="#8a8a8a" opacity="0.2"/><ellipse cx="-1.16" cy="17.30" rx="1.33" ry="2.05" fill="#8a8a8a" opacity="0.2"/></g>
<g transform="translate(234.70 152.80) rotate(7 0 15) scale(1.14 1)"><path d="M0.40,1.60 L1.50,2.40 L2.30,4.10 L2.20,5.70 L3.20,7.40 L3.90,10.00 L4.30,14.00 L4.30,18.00 L4.00,21.50 L3.50,24.00 L2.80,25.50 L3.20,27.00 L2.30,27.70 L1.20,26.40 L0.30,27.00 L-0.30,27.00 L-1.40,26.40 L-3.00,26.80 L-5.00,27.80 L-5.30,26.90 L-3.80,25.20 L-4.10,22.00 L-4.30,18.00 L-4.10,14.00 L-3.70,10.00 L-3.00,7.40 L-2.00,5.70 L-2.20,4.10 L-1.40,2.40 Z" fill="url(#mg)"/><path d="M-0.2,27 q-0.6,1.5 -0.3,2.8" stroke="#9a9a9a" stroke-width="0.7" fill="none"/><path d="M-1.8,10 q1.2,5 -0.2,11 M1.8,12 q0.8,3 -0.4,7 M-0.5,5 l1,0" stroke="#a8a8a8" stroke-width="0.9" fill="none" opacity="0.6"/><ellipse cx="-0.10" cy="17.70" rx="0.77" ry="0.69" fill="#8a8a8a" opacity="0.2"/><ellipse cx="-1.05" cy="10.85" rx="1.29" ry="2.29" fill="#8a8a8a" opacity="0.2"/><ellipse cx="-2.75" cy="10.70" rx="1.03" ry="1.72" fill="#8a8a8a" opacity="0.2"/><ellipse cx="0.73" cy="17.48" rx="1.12" ry="1.19" fill="#8a8a8a" opacity="0.2"/><ellipse cx="1.29" cy="14.30" rx="0.67" ry="1.19" fill="#8a8a8a" opacity="0.2"/><ellipse cx="0.77" cy="10.05" rx="0.72" ry="1.23" fill="#8a8a8a" opacity="0.2"/></g>
<g transform="translate(245.70 152.80) rotate(7 0 15) scale(1.14 1)"><path d="M0.40,1.60 L1.50,2.40 L2.30,4.10 L2.20,5.70 L3.20,7.40 L3.90,10.00 L4.30,14.00 L4.30,18.00 L4.00,21.50 L3.50,24.00 L2.80,25.50 L3.20,27.00 L2.30,27.70 L1.20,26.40 L0.30,27.00 L-0.30,27.00 L-1.40,26.40 L-3.00,26.80 L-5.00,27.80 L-5.30,26.90 L-3.80,25.20 L-4.10,22.00 L-4.30,18.00 L-4.10,14.00 L-3.70,10.00 L-3.00,7.40 L-2.00,5.70 L-2.20,4.10 L-1.40,2.40 Z" fill="url(#mg)"/><path d="M-0.2,27 q-0.6,1.5 -0.3,2.8" stroke="#9a9a9a" stroke-width="0.7" fill="none"/><path d="M-1.8,10 q1.2,5 -0.2,11 M1.8,12 q0.8,3 -0.4,7 M-0.5,5 l1,0" stroke="#a8a8a8" stroke-width="0.9" fill="none" opacity="0.6"/><ellipse cx="-0.59" cy="20.42" rx="1.24" ry="1.83" fill="#8a8a8a" opacity="0.2"/><ellipse cx="1.60" cy="11.34" rx="1.26" ry="1.25" fill="#8a8a8a" opacity="0.2"/><ellipse cx="0.15" cy="19.89" rx="0.79" ry="1.23" fill="#8a8a8a" opacity="0.2"/><ellipse cx="-2.17" cy="19.23" rx="1.31" ry="2.07" fill="#8a8a8a" opacity="0.2"/><ellipse cx="0.96" cy="7.89" rx="0.95" ry="1.31" fill="#8a8a8a" opacity="0.2"/><ellipse cx="2.23" cy="24.26" rx="1.13" ry="1.35" fill="#8a8a8a" opacity="0.2"/></g>
<g transform="translate(256.70 152.80) rotate(7 0 15) scale(1.14 1)"><path d="M0.40,1.60 L1.50,2.40 L2.30,4.10 L2.20,5.70 L3.20,7.40 L3.90,10.00 L4.30,14.00 L4.30,18.00 L4.00,21.50 L3.50,24.00 L2.80,25.50 L3.20,27.00 L2.30,27.70 L1.20,26.40 L0.30,27.00 L-0.30,27.00 L-1.40,26.40 L-3.00,26.80 L-5.00,27.80 L-5.30,26.90 L-3.80,25.20 L-4.10,22.00 L-4.30,18.00 L-4.10,14.00 L-3.70,10.00 L-3.00,7.40 L-2.00,5.70 L-2.20,4.10 L-1.40,2.40 Z" fill="url(#mg)"/><path d="M-0.2,27 q-0.6,1.5 -0.3,2.8" stroke="#9a9a9a" stroke-width="0.7" fill="none"/><path d="M-1.8,10 q1.2,5 -0.2,11 M1.8,12 q0.8,3 -0.4,7 M-0.5,5 l1,0" stroke="#a8a8a8" stroke-width="0.9" fill="none" opacity="0.6"/><ellipse cx="-2.61" cy="9.28" rx="1.30" ry="1.62" fill="#8a8a8a" opacity="0.2"/><ellipse cx="2.72" cy="24.85" rx="0.81" ry="1.28" fill="#8a8a8a" opacity="0.2"/><ellipse cx="-1.15" cy="12.53" rx="0.86" ry="0.88" fill="#8a8a8a" opacity="0.2"/><ellipse cx="-2.22" cy="18.06" rx="0.97" ry="0.95" fill="#8a8a8a" opacity="0.2"/><ellipse cx="-0.31" cy="21.19" rx="1.19" ry="1.51" fill="#8a8a8a" opacity="0.2"/><ellipse cx="1.88" cy="14.88" rx="1.14" ry="1.13" fill="#8a8a8a" opacity="0.2"/></g>
<g transform="translate(267.70 152.80) rotate(7 0 15) scale(1.14 1)"><path d="M0.40,1.60 L1.50,2.40 L2.30,4.10 L2.20,5.70 L3.20,7.40 L3.90,10.00 L4.30,14.00 L4.30,18.00 L4.00,21.50 L3.50,24.00 L2.80,25.50 L3.20,27.00 L2.30,27.70 L1.20,26.40 L0.30,27.00 L-0.30,27.00 L-1.40,26.40 L-3.00,26.80 L-5.00,27.80 L-5.30,26.90 L-3.80,25.20 L-4.10,22.00 L-4.30,18.00 L-4.10,14.00 L-3.70,10.00 L-3.00,7.40 L-2.00,5.70 L-2.20,4.10 L-1.40,2.40 Z" fill="url(#mg)"/><path d="M-0.2,27 q-0.6,1.5 -0.3,2.8" stroke="#9a9a9a" stroke-width="0.7" fill="none"/><path d="M-1.8,10 q1.2,5 -0.2,11 M1.8,12 q0.8,3 -0.4,7 M-0.5,5 l1,0" stroke="#a8a8a8" stroke-width="0.9" fill="none" opacity="0.6"/><ellipse cx="-2.17" cy="14.24" rx="0.96" ry="0.95" fill="#8a8a8a" opacity="0.2"/><ellipse cx="1.57" cy="17.03" rx="0.93" ry="1.23" fill="#8a8a8a" opacity="0.2"/><ellipse cx="-1.26" cy="11.14" rx="0.97" ry="1.21" fill="#8a8a8a" opacity="0.2"/><ellipse cx="-2.55" cy="19.89" rx="0.77" ry="1.06" fill="#8a8a8a" opacity="0.2"/><ellipse cx="-2.10" cy="8.07" rx="1.30" ry="1.73" fill="#8a8a8a" opacity="0.2"/><ellipse cx="0.71" cy="5.00" rx="0.96" ry="0.93" fill="#8a8a8a" opacity="0.2"/></g>
<ellipse cx="234.50" cy="169.50" rx="1.86" ry="2.05" fill="#5236b8"/>
<ellipse cx="245.50" cy="166.50" rx="1.40" ry="1.53" fill="#5236b8"/>
<ellipse cx="256.50" cy="168.50" rx="1.71" ry="1.88" fill="#5236b8"/>
<ellipse cx="267.50" cy="167.50" rx="1.86" ry="2.05" fill="#5236b8"/>
<ellipse cx="265.50" cy="172.50" rx="1.55" ry="1.71" fill="#5236b8"/>
</g></g>
<clipPath id="cp40"><rect x="275.60" y="152.50" width="56.3" height="29.6"/></clipPath>
<g clip-path="url(#cp40)"><g filter="url(#soft)">
<rect x="274.60" y="151.50" width="58.30" height="31.60" fill="#131313" />
<g transform="translate(282.20 152.80) rotate(7 0 15) scale(1.14 1)"><path d="M0.40,1.60 L1.50,2.40 L2.30,4.10 L2.20,5.70 L3.20,7.40 L3.90,10.00 L4.30,14.00 L4.30,18.00 L4.00,21.50 L3.50,24.00 L2.80,25.50 L3.20,27.00 L2.30,27.70 L1.20,26.40 L0.30,27.00 L-0.30,27.00 L-1.40,26.40 L-3.00,26.80 L-5.00,27.80 L-5.30,26.90 L-3.80,25.20 L-4.10,22.00 L-4.30,18.00 L-4.10,14.00 L-3.70,10.00 L-3.00,7.40 L-2.00,5.70 L-2.20,4.10 L-1.40,2.40 Z" fill="url(#mg)"/><path d="M-0.2,27 q-0.6,1.5 -0.3,2.8" stroke="#9a9a9a" stroke-width="0.7" fill="none"/><path d="M-1.8,10 q1.2,5 -0.2,11 M1.8,12 q0.8,3 -0.4,7 M-0.5,5 l1,0" stroke="#a8a8a8" stroke-width="0.9" fill="none" opacity="0.6"/><ellipse cx="0.17" cy="8.57" rx="0.82" ry="0.86" fill="#8a8a8a" opacity="0.2"/><ellipse cx="-0.51" cy="13.60" rx="0.97" ry="0.88" fill="#8a8a8a" opacity="0.2"/><ellipse cx="1.74" cy="10.15" rx="0.98" ry="1.49" fill="#8a8a8a" opacity="0.2"/><ellipse cx="2.28" cy="5.42" rx="1.18" ry="1.22" fill="#8a8a8a" opacity="0.2"/><ellipse cx="0.55" cy="11.93" rx="0.69" ry="0.79" fill="#8a8a8a" opacity="0.2"/><ellipse cx="-0.62" cy="22.58" rx="0.95" ry="0.78" fill="#8a8a8a" opacity="0.2"/></g>
<g transform="translate(293.20 152.80) rotate(7 0 15) scale(1.14 1)"><path d="M0.40,1.60 L1.50,2.40 L2.30,4.10 L2.20,5.70 L3.20,7.40 L3.90,10.00 L4.30,14.00 L4.30,18.00 L4.00,21.50 L3.50,24.00 L2.80,25.50 L3.20,27.00 L2.30,27.70 L1.20,26.40 L0.30,27.00 L-0.30,27.00 L-1.40,26.40 L-3.00,26.80 L-5.00,27.80 L-5.30,26.90 L-3.80,25.20 L-4.10,22.00 L-4.30,18.00 L-4.10,14.00 L-3.70,10.00 L-3.00,7.40 L-2.00,5.70 L-2.20,4.10 L-1.40,2.40 Z" fill="url(#mg)"/><path d="M-0.2,27 q-0.6,1.5 -0.3,2.8" stroke="#9a9a9a" stroke-width="0.7" fill="none"/><path d="M-1.8,10 q1.2,5 -0.2,11 M1.8,12 q0.8,3 -0.4,7 M-0.5,5 l1,0" stroke="#a8a8a8" stroke-width="0.9" fill="none" opacity="0.6"/><ellipse cx="-2.06" cy="23.60" rx="0.92" ry="1.49" fill="#8a8a8a" opacity="0.2"/><ellipse cx="0.25" cy="18.22" rx="1.25" ry="2.07" fill="#8a8a8a" opacity="0.2"/><ellipse cx="-1.47" cy="6.10" rx="0.85" ry="1.30" fill="#8a8a8a" opacity="0.2"/><ellipse cx="1.90" cy="12.50" rx="0.71" ry="0.85" fill="#8a8a8a" opacity="0.2"/><ellipse cx="2.64" cy="14.10" rx="0.65" ry="1.08" fill="#8a8a8a" opacity="0.2"/><ellipse cx="-1.86" cy="11.31" rx="1.45" ry="2.08" fill="#8a8a8a" opacity="0.2"/></g>
<g transform="translate(304.20 152.80) rotate(7 0 15) scale(1.14 1)"><path d="M0.40,1.60 L1.50,2.40 L2.30,4.10 L2.20,5.70 L3.20,7.40 L3.90,10.00 L4.30,14.00 L4.30,18.00 L4.00,21.50 L3.50,24.00 L2.80,25.50 L3.20,27.00 L2.30,27.70 L1.20,26.40 L0.30,27.00 L-0.30,27.00 L-1.40,26.40 L-3.00,26.80 L-5.00,27.80 L-5.30,26.90 L-3.80,25.20 L-4.10,22.00 L-4.30,18.00 L-4.10,14.00 L-3.70,10.00 L-3.00,7.40 L-2.00,5.70 L-2.20,4.10 L-1.40,2.40 Z" fill="url(#mg)"/><path d="M-0.2,27 q-0.6,1.5 -0.3,2.8" stroke="#9a9a9a" stroke-width="0.7" fill="none"/><path d="M-1.8,10 q1.2,5 -0.2,11 M1.8,12 q0.8,3 -0.4,7 M-0.5,5 l1,0" stroke="#a8a8a8" stroke-width="0.9" fill="none" opacity="0.6"/><ellipse cx="-0.06" cy="14.04" rx="1.50" ry="1.83" fill="#8a8a8a" opacity="0.2"/><ellipse cx="-2.79" cy="23.91" rx="0.98" ry="1.55" fill="#8a8a8a" opacity="0.2"/><ellipse cx="-0.74" cy="13.30" rx="0.66" ry="1.19" fill="#8a8a8a" opacity="0.2"/><ellipse cx="-1.31" cy="24.07" rx="1.16" ry="2.00" fill="#8a8a8a" opacity="0.2"/><ellipse cx="-1.72" cy="18.72" rx="0.69" ry="0.74" fill="#8a8a8a" opacity="0.2"/><ellipse cx="2.09" cy="20.63" rx="1.27" ry="1.62" fill="#8a8a8a" opacity="0.2"/></g>
<g transform="translate(315.20 152.80) rotate(7 0 15) scale(1.14 1)"><path d="M0.40,1.60 L1.50,2.40 L2.30,4.10 L2.20,5.70 L3.20,7.40 L3.90,10.00 L4.30,14.00 L4.30,18.00 L4.00,21.50 L3.50,24.00 L2.80,25.50 L3.20,27.00 L2.30,27.70 L1.20,26.40 L0.30,27.00 L-0.30,27.00 L-1.40,26.40 L-3.00,26.80 L-5.00,27.80 L-5.30,26.90 L-3.80,25.20 L-4.10,22.00 L-4.30,18.00 L-4.10,14.00 L-3.70,10.00 L-3.00,7.40 L-2.00,5.70 L-2.20,4.10 L-1.40,2.40 Z" fill="url(#mg)"/><path d="M-0.2,27 q-0.6,1.5 -0.3,2.8" stroke="#9a9a9a" stroke-width="0.7" fill="none"/><path d="M-1.8,10 q1.2,5 -0.2,11 M1.8,12 q0.8,3 -0.4,7 M-0.5,5 l1,0" stroke="#a8a8a8" stroke-width="0.9" fill="none" opacity="0.6"/><ellipse cx="1.66" cy="14.67" rx="0.95" ry="1.55" fill="#8a8a8a" opacity="0.2"/><ellipse cx="2.07" cy="7.01" rx="1.06" ry="1.86" fill="#8a8a8a" opacity="0.2"/><ellipse cx="1.24" cy="19.32" rx="0.95" ry="1.69" fill="#8a8a8a" opacity="0.2"/><ellipse cx="1.18" cy="22.47" rx="1.32" ry="1.19" fill="#8a8a8a" opacity="0.2"/><ellipse cx="-1.93" cy="14.48" rx="1.26" ry="2.07" fill="#8a8a8a" opacity="0.2"/><ellipse cx="-0.86" cy="24.63" rx="1.15" ry="0.96" fill="#8a8a8a" opacity="0.2"/></g>
<g transform="translate(326.20 152.80) rotate(7 0 15) scale(1.14 1)"><path d="M0.40,1.60 L1.50,2.40 L2.30,4.10 L2.20,5.70 L3.20,7.40 L3.90,10.00 L4.30,14.00 L4.30,18.00 L4.00,21.50 L3.50,24.00 L2.80,25.50 L3.20,27.00 L2.30,27.70 L1.20,26.40 L0.30,27.00 L-0.30,27.00 L-1.40,26.40 L-3.00,26.80 L-5.00,27.80 L-5.30,26.90 L-3.80,25.20 L-4.10,22.00 L-4.30,18.00 L-4.10,14.00 L-3.70,10.00 L-3.00,7.40 L-2.00,5.70 L-2.20,4.10 L-1.40,2.40 Z" fill="url(#mg)"/><path d="M-0.2,27 q-0.6,1.5 -0.3,2.8" stroke="#9a9a9a" stroke-width="0.7" fill="none"/><path d="M-1.8,10 q1.2,5 -0.2,11 M1.8,12 q0.8,3 -0.4,7 M-0.5,5 l1,0" stroke="#a8a8a8" stroke-width="0.9" fill="none" opacity="0.6"/><ellipse cx="-1.62" cy="5.89" rx="0.91" ry="0.94" fill="#8a8a8a" opacity="0.2"/><ellipse cx="0.99" cy="12.68" rx="0.88" ry="1.50" fill="#8a8a8a" opacity="0.2"/><ellipse cx="-2.04" cy="10.88" rx="0.66" ry="0.60" fill="#8a8a8a" opacity="0.2"/><ellipse cx="0.35" cy="9.13" rx="1.11" ry="1.22" fill="#8a8a8a" opacity="0.2"/><ellipse cx="1.12" cy="7.26" rx="1.07" ry="0.86" fill="#8a8a8a" opacity="0.2"/><ellipse cx="-1.29" cy="5.75" rx="0.91" ry="1.34" fill="#8a8a8a" opacity="0.2"/></g>
<ellipse cx="282.00" cy="169.50" rx="1.40" ry="1.53" fill="#5236b8"/>
<ellipse cx="304.00" cy="168.50" rx="1.40" ry="1.53" fill="#5236b8"/>
<ellipse cx="315.00" cy="168.50" rx="1.40" ry="1.53" fill="#5236b8"/>
<ellipse cx="326.00" cy="169.50" rx="1.55" ry="1.71" fill="#5236b8"/>
</g></g>
<clipPath id="cp50"><rect x="334.50" y="152.50" width="56.3" height="29.6"/></clipPath>
<g clip-path="url(#cp50)"><g filter="url(#soft)">
<rect x="333.50" y="151.50" width="58.30" height="31.60" fill="#131313" />
<g transform="translate(341.10 152.80) rotate(7 0 15) scale(1.14 1)"><path d="M0.40,1.60 L1.50,2.40 L2.30,4.10 L2.20,5.70 L3.20,7.40 L3.90,10.00 L4.30,14.00 L4.30,18.00 L4.00,21.50 L3.50,24.00 L2.80,25.50 L3.20,27.00 L2.30,27.70 L1.20,26.40 L0.30,27.00 L-0.30,27.00 L-1.40,26.40 L-3.00,26.80 L-5.00,27.80 L-5.30,26.90 L-3.80,25.20 L-4.10,22.00 L-4.30,18.00 L-4.10,14.00 L-3.70,10.00 L-3.00,7.40 L-2.00,5.70 L-2.20,4.10 L-1.40,2.40 Z" fill="url(#mg)"/><path d="M-0.2,27 q-0.6,1.5 -0.3,2.8" stroke="#9a9a9a" stroke-width="0.7" fill="none"/><path d="M-1.8,10 q1.2,5 -0.2,11 M1.8,12 q0.8,3 -0.4,7 M-0.5,5 l1,0" stroke="#a8a8a8" stroke-width="0.9" fill="none" opacity="0.6"/><ellipse cx="-2.66" cy="14.48" rx="0.95" ry="1.01" fill="#8a8a8a" opacity="0.2"/><ellipse cx="0.43" cy="13.30" rx="1.25" ry="1.40" fill="#8a8a8a" opacity="0.2"/><ellipse cx="0.22" cy="15.50" rx="0.69" ry="0.98" fill="#8a8a8a" opacity="0.2"/><ellipse cx="-1.15" cy="23.08" rx="1.24" ry="1.88" fill="#8a8a8a" opacity="0.2"/><ellipse cx="1.78" cy="5.02" rx="0.61" ry="0.90" fill="#8a8a8a" opacity="0.2"/><ellipse cx="2.09" cy="14.20" rx="1.39" ry="1.35" fill="#8a8a8a" opacity="0.2"/></g>
<g transform="translate(352.10 152.80) rotate(7 0 15) scale(1.14 1)"><path d="M0.40,1.60 L1.50,2.40 L2.30,4.10 L2.20,5.70 L3.20,7.40 L3.90,10.00 L4.30,14.00 L4.30,18.00 L4.00,21.50 L3.50,24.00 L2.80,25.50 L3.20,27.00 L2.30,27.70 L1.20,26.40 L0.30,27.00 L-0.30,27.00 L-1.40,26.40 L-3.00,26.80 L-5.00,27.80 L-5.30,26.90 L-3.80,25.20 L-4.10,22.00 L-4.30,18.00 L-4.10,14.00 L-3.70,10.00 L-3.00,7.40 L-2.00,5.70 L-2.20,4.10 L-1.40,2.40 Z" fill="url(#mg)"/><path d="M-0.2,27 q-0.6,1.5 -0.3,2.8" stroke="#9a9a9a" stroke-width="0.7" fill="none"/><path d="M-1.8,10 q1.2,5 -0.2,11 M1.8,12 q0.8,3 -0.4,7 M-0.5,5 l1,0" stroke="#a8a8a8" stroke-width="0.9" fill="none" opacity="0.6"/><ellipse cx="-2.69" cy="23.13" rx="1.09" ry="1.85" fill="#8a8a8a" opacity="0.2"/><ellipse cx="1.84" cy="14.83" rx="0.60" ry="0.84" fill="#8a8a8a" opacity="0.2"/><ellipse cx="1.12" cy="22.46" rx="1.08" ry="0.90" fill="#8a8a8a" opacity="0.2"/><ellipse cx="1.91" cy="6.02" rx="1.11" ry="1.53" fill="#8a8a8a" opacity="0.2"/><ellipse cx="1.64" cy="18.21" rx="0.93" ry="1.00" fill="#8a8a8a" opacity="0.2"/><ellipse cx="-0.11" cy="6.20" rx="1.41" ry="1.25" fill="#8a8a8a" opacity="0.2"/></g>
<g transform="translate(363.10 152.80) rotate(7 0 15) scale(1.14 1)"><path d="M0.40,1.60 L1.50,2.40 L2.30,4.10 L2.20,5.70 L3.20,7.40 L3.90,10.00 L4.30,14.00 L4.30,18.00 L4.00,21.50 L3.50,24.00 L2.80,25.50 L3.20,27.00 L2.30,27.70 L1.20,26.40 L0.30,27.00 L-0.30,27.00 L-1.40,26.40 L-3.00,26.80 L-5.00,27.80 L-5.30,26.90 L-3.80,25.20 L-4.10,22.00 L-4.30,18.00 L-4.10,14.00 L-3.70,10.00 L-3.00,7.40 L-2.00,5.70 L-2.20,4.10 L-1.40,2.40 Z" fill="url(#mg)"/><path d="M-0.2,27 q-0.6,1.5 -0.3,2.8" stroke="#9a9a9a" stroke-width="0.7" fill="none"/><path d="M-1.8,10 q1.2,5 -0.2,11 M1.8,12 q0.8,3 -0.4,7 M-0.5,5 l1,0" stroke="#a8a8a8" stroke-width="0.9" fill="none" opacity="0.6"/><ellipse cx="-0.21" cy="12.87" rx="1.17" ry="1.23" fill="#8a8a8a" opacity="0.2"/><ellipse cx="2.22" cy="14.33" rx="1.09" ry="1.80" fill="#8a8a8a" opacity="0.2"/><ellipse cx="-2.66" cy="7.25" rx="1.30" ry="1.88" fill="#8a8a8a" opacity="0.2"/><ellipse cx="2.41" cy="22.46" rx="1.44" ry="1.97" fill="#8a8a8a" opacity="0.2"/><ellipse cx="-2.37" cy="7.12" rx="0.88" ry="1.49" fill="#8a8a8a" opacity="0.2"/><ellipse cx="-2.48" cy="8.47" rx="1.15" ry="1.18" fill="#8a8a8a" opacity="0.2"/></g>
<g transform="translate(374.10 152.80) rotate(7 0 15) scale(1.14 1)"><path d="M0.40,1.60 L1.50,2.40 L2.30,4.10 L2.20,5.70 L3.20,7.40 L3.90,10.00 L4.30,14.00 L4.30,18.00 L4.00,21.50 L3.50,24.00 L2.80,25.50 L3.20,27.00 L2.30,27.70 L1.20,26.40 L0.30,27.00 L-0.30,27.00 L-1.40,26.40 L-3.00,26.80 L-5.00,27.80 L-5.30,26.90 L-3.80,25.20 L-4.10,22.00 L-4.30,18.00 L-4.10,14.00 L-3.70,10.00 L-3.00,7.40 L-2.00,5.70 L-2.20,4.10 L-1.40,2.40 Z" fill="url(#mg)"/><path d="M-0.2,27 q-0.6,1.5 -0.3,2.8" stroke="#9a9a9a" stroke-width="0.7" fill="none"/><path d="M-1.8,10 q1.2,5 -0.2,11 M1.8,12 q0.8,3 -0.4,7 M-0.5,5 l1,0" stroke="#a8a8a8" stroke-width="0.9" fill="none" opacity="0.6"/><ellipse cx="0.58" cy="19.05" rx="1.07" ry="1.66" fill="#8a8a8a" opacity="0.2"/><ellipse cx="0.34" cy="22.16" rx="1.32" ry="2.22" fill="#8a8a8a" opacity="0.2"/><ellipse cx="-1.36" cy="12.55" rx="1.36" ry="2.36" fill="#8a8a8a" opacity="0.2"/><ellipse cx="-1.27" cy="10.46" rx="1.20" ry="1.54" fill="#8a8a8a" opacity="0.2"/><ellipse cx="0.04" cy="24.32" rx="1.49" ry="2.50" fill="#8a8a8a" opacity="0.2"/><ellipse cx="-1.69" cy="18.90" rx="1.49" ry="2.54" fill="#8a8a8a" opacity="0.2"/></g>
<g transform="translate(385.10 152.80) rotate(7 0 15) scale(1.14 1)"><path d="M0.40,1.60 L1.50,2.40 L2.30,4.10 L2.20,5.70 L3.20,7.40 L3.90,10.00 L4.30,14.00 L4.30,18.00 L4.00,21.50 L3.50,24.00 L2.80,25.50 L3.20,27.00 L2.30,27.70 L1.20,26.40 L0.30,27.00 L-0.30,27.00 L-1.40,26.40 L-3.00,26.80 L-5.00,27.80 L-5.30,26.90 L-3.80,25.20 L-4.10,22.00 L-4.30,18.00 L-4.10,14.00 L-3.70,10.00 L-3.00,7.40 L-2.00,5.70 L-2.20,4.10 L-1.40,2.40 Z" fill="url(#mg)"/><path d="M-0.2,27 q-0.6,1.5 -0.3,2.8" stroke="#9a9a9a" stroke-width="0.7" fill="none"/><path d="M-1.8,10 q1.2,5 -0.2,11 M1.8,12 q0.8,3 -0.4,7 M-0.5,5 l1,0" stroke="#a8a8a8" stroke-width="0.9" fill="none" opacity="0.6"/><ellipse cx="2.56" cy="13.52" rx="1.14" ry="1.66" fill="#8a8a8a" opacity="0.2"/><ellipse cx="-1.74" cy="23.98" rx="1.45" ry="1.90" fill="#8a8a8a" opacity="0.2"/><ellipse cx="2.03" cy="20.08" rx="1.00" ry="0.95" fill="#8a8a8a" opacity="0.2"/><ellipse cx="-1.75" cy="22.89" rx="0.73" ry="0.60" fill="#8a8a8a" opacity="0.2"/><ellipse cx="1.88" cy="11.01" rx="1.28" ry="1.49" fill="#8a8a8a" opacity="0.2"/><ellipse cx="1.12" cy="13.60" rx="1.17" ry="1.40" fill="#8a8a8a" opacity="0.2"/></g>
<ellipse cx="340.90" cy="163.50" rx="1.55" ry="1.71" fill="#5236b8"/>
<ellipse cx="352.90" cy="164.50" rx="2.02" ry="2.22" fill="#5236b8"/>
<ellipse cx="362.90" cy="162.50" rx="2.02" ry="2.22" fill="#5236b8"/>
<ellipse cx="361.90" cy="169.50" rx="1.55" ry="1.71" fill="#5236b8"/>
<ellipse cx="373.90" cy="163.50" rx="1.71" ry="1.88" fill="#5236b8"/>
<ellipse cx="384.90" cy="166.50" rx="1.86" ry="2.05" fill="#5236b8"/>
<ellipse cx="382.90" cy="171.50" rx="1.40" ry="1.53" fill="#5236b8"/>
</g></g>
<clipPath id="cp01"><rect x="40.80" y="190.90" width="56.3" height="29.6"/></clipPath>
<g clip-path="url(#cp01)"><g filter="url(#soft)">
<rect x="39.80" y="189.90" width="58.30" height="31.60" fill="#131313" />
<g transform="translate(47.40 191.20) rotate(7 0 15) scale(1.14 1)"><path d="M0.40,1.60 L1.50,2.40 L2.30,4.10 L2.20,5.70 L3.20,7.40 L3.90,10.00 L4.30,14.00 L4.30,18.00 L4.00,21.50 L3.50,24.00 L2.80,25.50 L3.20,27.00 L2.30,27.70 L1.20,26.40 L0.30,27.00 L-0.30,27.00 L-1.40,26.40 L-3.00,26.80 L-5.00,27.80 L-5.30,26.90 L-3.80,25.20 L-4.10,22.00 L-4.30,18.00 L-4.10,14.00 L-3.70,10.00 L-3.00,7.40 L-2.00,5.70 L-2.20,4.10 L-1.40,2.40 Z" fill="url(#mg)"/><path d="M-0.2,27 q-0.6,1.5 -0.3,2.8" stroke="#9a9a9a" stroke-width="0.7" fill="none"/><path d="M-1.8,10 q1.2,5 -0.2,11 M1.8,12 q0.8,3 -0.4,7 M-0.5,5 l1,0" stroke="#a8a8a8" stroke-width="0.9" fill="none" opacity="0.6"/><ellipse cx="1.13" cy="16.02" rx="1.47" ry="2.43" fill="#8a8a8a" opacity="0.2"/><ellipse cx="-1.04" cy="5.92" rx="1.33" ry="1.56" fill="#8a8a8a" opacity="0.2"/><ellipse cx="1.83" cy="10.52" rx="1.31" ry="1.64" fill="#8a8a8a" opacity="0.2"/><ellipse cx="2.66" cy="6.10" rx="1.43" ry="1.41" fill="#8a8a8a" opacity="0.2"/><ellipse cx="2.51" cy="8.65" rx="1.12" ry="1.68" fill="#8a8a8a" opacity="0.2"/><ellipse cx="-2.62" cy="19.25" rx="1.28" ry="2.24" fill="#8a8a8a" opacity="0.2"/></g>
<g transform="translate(58.40 191.20) rotate(7 0 15) scale(1.14 1)"><path d="M0.40,1.60 L1.50,2.40 L2.30,4.10 L2.20,5.70 L3.20,7.40 L3.90,10.00 L4.30,14.00 L4.30,18.00 L4.00,21.50 L3.50,24.00 L2.80,25.50 L3.20,27.00 L2.30,27.70 L1.20,26.40 L0.30,27.00 L-0.30,27.00 L-1.40,26.40 L-3.00,26.80 L-5.00,27.80 L-5.30,26.90 L-3.80,25.20 L-4.10,22.00 L-4.30,18.00 L-4.10,14.00 L-3.70,10.00 L-3.00,7.40 L-2.00,5.70 L-2.20,4.10 L-1.40,2.40 Z" fill="url(#mg)"/><path d="M-0.2,27 q-0.6,1.5 -0.3,2.8" stroke="#9a9a9a" stroke-width="0.7" fill="none"/><path d="M-1.8,10 q1.2,5 -0.2,11 M1.8,12 q0.8,3 -0.4,7 M-0.5,5 l1,0" stroke="#a8a8a8" stroke-width="0.9" fill="none" opacity="0.6"/><ellipse cx="-0.63" cy="15.93" rx="1.30" ry="1.48" fill="#8a8a8a" opacity="0.2"/><ellipse cx="-0.23" cy="19.35" rx="0.65" ry="0.75" fill="#8a8a8a" opacity="0.2"/><ellipse cx="-1.73" cy="12.60" rx="0.72" ry="0.84" fill="#8a8a8a" opacity="0.2"/><ellipse cx="2.62" cy="5.52" rx="1.39" ry="1.90" fill="#8a8a8a" opacity="0.2"/><ellipse cx="1.76" cy="10.03" rx="0.83" ry="0.96" fill="#8a8a8a" opacity="0.2"/><ellipse cx="-0.39" cy="20.69" rx="0.80" ry="1.08" fill="#8a8a8a" opacity="0.2"/></g>
<g transform="translate(69.40 191.20) rotate(7 0 15) scale(1.14 1)"><path d="M0.40,1.60 L1.50,2.40 L2.30,4.10 L2.20,5.70 L3.20,7.40 L3.90,10.00 L4.30,14.00 L4.30,18.00 L4.00,21.50 L3.50,24.00 L2.80,25.50 L3.20,27.00 L2.30,27.70 L1.20,26.40 L0.30,27.00 L-0.30,27.00 L-1.40,26.40 L-3.00,26.80 L-5.00,27.80 L-5.30,26.90 L-3.80,25.20 L-4.10,22.00 L-4.30,18.00 L-4.10,14.00 L-3.70,10.00 L-3.00,7.40 L-2.00,5.70 L-2.20,4.10 L-1.40,2.40 Z" fill="url(#mg)"/><path d="M-0.2,27 q-0.6,1.5 -0.3,2.8" stroke="#9a9a9a" stroke-width="0.7" fill="none"/><path d="M-1.8,10 q1.2,5 -0.2,11 M1.8,12 q0.8,3 -0.4,7 M-0.5,5 l1,0" stroke="#a8a8a8" stroke-width="0.9" fill="none" opacity="0.6"/><ellipse cx="2.57" cy="9.19" rx="0.85" ry="1.44" fill="#8a8a8a" opacity="0.2"/><ellipse cx="-2.42" cy="6.53" rx="1.23" ry="1.27" fill="#8a8a8a" opacity="0.2"/><ellipse cx="-0.68" cy="12.50" rx="1.32" ry="1.27" fill="#8a8a8a" opacity="0.2"/><ellipse cx="1.85" cy="18.42" rx="0.65" ry="0.84" fill="#8a8a8a" opacity="0.2"/><ellipse cx="-2.28" cy="15.00" rx="1.02" ry="0.85" fill="#8a8a8a" opacity="0.2"/><ellipse cx="-0.61" cy="24.01" rx="0.88" ry="0.99" fill="#8a8a8a" opacity="0.2"/></g>
<g transform="translate(80.40 191.20) rotate(7 0 15) scale(1.14 1)"><path d="M0.40,1.60 L1.50,2.40 L2.30,4.10 L2.20,5.70 L3.20,7.40 L3.90,10.00 L4.30,14.00 L4.30,18.00 L4.00,21.50 L3.50,24.00 L2.80,25.50 L3.20,27.00 L2.30,27.70 L1.20,26.40 L0.30,27.00 L-0.30,27.00 L-1.40,26.40 L-3.00,26.80 L-5.00,27.80 L-5.30,26.90 L-3.80,25.20 L-4.10,22.00 L-4.30,18.00 L-4.10,14.00 L-3.70,10.00 L-3.00,7.40 L-2.00,5.70 L-2.20,4.10 L-1.40,2.40 Z" fill="url(#mg)"/><path d="M-0.2,27 q-0.6,1.5 -0.3,2.8" stroke="#9a9a9a" stroke-width="0.7" fill="none"/><path d="M-1.8,10 q1.2,5 -0.2,11 M1.8,12 q0.8,3 -0.4,7 M-0.5,5 l1,0" stroke="#a8a8a8" stroke-width="0.9" fill="none" opacity="0.6"/><ellipse cx="1.81" cy="17.64" rx="0.68" ry="0.80" fill="#8a8a8a" opacity="0.2"/><ellipse cx="-1.49" cy="12.60" rx="1.50" ry="1.47" fill="#8a8a8a" opacity="0.2"/><ellipse cx="-0.97" cy="8.16" rx="0.86" ry="1.08" fill="#8a8a8a" opacity="0.2"/><ellipse cx="-1.50" cy="14.27" rx="0.71" ry="0.66" fill="#8a8a8a" opacity="0.2"/><ellipse cx="-1.45" cy="7.00" rx="1.39" ry="1.89" fill="#8a8a8a" opacity="0.2"/><ellipse cx="-0.67" cy="22.41" rx="0.92" ry="0.74" fill="#8a8a8a" opacity="0.2"/></g>
<g transform="translate(91.40 191.20) rotate(7 0 15) scale(1.14 1)"><path d="M0.40,1.60 L1.50,2.40 L2.30,4.10 L2.20,5.70 L3.20,7.40 L3.90,10.00 L4.30,14.00 L4.30,18.00 L4.00,21.50 L3.50,24.00 L2.80,25.50 L3.20,27.00 L2.30,27.70 L1.20,26.40 L0.30,27.00 L-0.30,27.00 L-1.40,26.40 L-3.00,26.80 L-5.00,27.80 L-5.30,26.90 L-3.80,25.20 L-4.10,22.00 L-4.30,18.00 L-4.10,14.00 L-3.70,10.00 L-3.00,7.40 L-2.00,5.70 L-2.20,4.10 L-1.40,2.40 Z" fill="url(#mg)"/><path d="M-0.2,27 q-0.6,1.5 -0.3,2.8" stroke="#9a9a9a" stroke-width="0.7" fill="none"/><path d="M-1.8,10 q1.2,5 -0.2,11 M1.8,12 q0.8,3 -0.4,7 M-0.5,5 l1,0" stroke="#a8a8a8" stroke-width="0.9" fill="none" opacity="0.6"/><ellipse cx="1.46" cy="22.79" rx="1.00" ry="1.06" fill="#8a8a8a" opacity="0.2"/><ellipse cx="-2.40" cy="12.58" rx="1.06" ry="1.10" fill="#8a8a8a" opacity="0.2"/><ellipse cx="-1.47" cy="11.79" rx="0.87" ry="1.21" fill="#8a8a8a" opacity="0.2"/><ellipse cx="-1.47" cy="8.18" rx="1.46" ry="1.73" fill="#8a8a8a" opacity="0.2"/><ellipse cx="1.71" cy="8.09" rx="1.27" ry="1.40" fill="#8a8a8a" opacity="0.2"/><ellipse cx="2.56" cy="5.09" rx="1.37" ry="2.38" fill="#8a8a8a" opacity="0.2"/></g>
<path d="M0.40,1.60 L1.50,2.40 L2.30,4.10 L2.20,5.70 L3.20,7.40 L3.90,10.00 L4.30,14.00 L4.30,18.00 L4.00,21.50 L3.50,24.00 L2.80,25.50 L3.20,27.00 L2.30,27.70 L1.20,26.40 L0.30,27.00 L-0.30,27.00 L-1.40,26.40 L-3.00,26.80 L-5.00,27.80 L-5.30,26.90 L-3.80,25.20 L-4.10,22.00 L-4.30,18.00 L-4.10,14.00 L-3.70,10.00 L-3.00,7.40 L-2.00,5.70 L-2.20,4.10 L-1.40,2.40 Z" fill="#4026a8" transform="translate(47.40 191.20) rotate(4) translate(0 16) scale(0.95 0.84) translate(0 -15)"/>
<ellipse cx="50.00" cy="207.88" rx="1.06" ry="1.17" fill="#2a44d8"/>
<ellipse cx="45.86" cy="207.07" rx="1.14" ry="1.26" fill="#2a44d8"/>
<ellipse cx="47.87" cy="199.61" rx="0.85" ry="0.93" fill="#2a44d8"/>
<ellipse cx="44.86" cy="202.01" rx="1.17" ry="1.29" fill="#2a44d8"/>
<ellipse cx="46.84" cy="200.10" rx="0.98" ry="1.07" fill="#2a44d8"/>
<ellipse cx="46.30" cy="198.38" rx="0.91" ry="1.00" fill="#2a44d8"/>
<ellipse cx="47.86" cy="201.76" rx="1.34" ry="1.47" fill="#e8e8e8"/>
<ellipse cx="47.16" cy="202.76" rx="1.01" ry="1.11" fill="#e8e8e8"/>
<ellipse cx="44.42" cy="202.74" rx="0.78" ry="0.86" fill="#d8d8f0"/>
<ellipse cx="50.58" cy="195.61" rx="1.65" ry="1.81" fill="#d8d8f0"/>
<ellipse cx="46.47" cy="201.64" rx="1.61" ry="1.77" fill="#f4f4f4"/>
<ellipse cx="47.12" cy="205.87" rx="1.43" ry="1.57" fill="#e8e8e8"/>
<ellipse cx="47.12" cy="208.66" rx="0.96" ry="1.06" fill="#f4f4f4"/>
<ellipse cx="48.13" cy="195.61" rx="0.70" ry="0.77" fill="#e8e8e8"/>
<ellipse cx="47.62" cy="201.37" rx="0.51" ry="0.56" fill="#22b4dc"/>
<ellipse cx="50.07" cy="198.48" rx="0.65" ry="0.72" fill="#22b4dc"/>
<ellipse cx="50.14" cy="203.44" rx="0.90" ry="0.99" fill="#22b4dc"/>
<ellipse cx="44.74" cy="209.90" rx="0.86" ry="0.95" fill="#38c23a"/>
<ellipse cx="45.50" cy="212.20" rx="2.00" ry="1.90" fill="#4026a8"/>
<ellipse cx="49.40" cy="212.70" rx="1.90" ry="1.90" fill="#4026a8"/>
<ellipse cx="45.50" cy="212.20" rx="1.60" ry="1.50" fill="#2a44d8"/>
<ellipse cx="49.40" cy="212.70" rx="1.50" ry="1.50" fill="#2a44d8"/>
<ellipse cx="45.50" cy="212.20" rx="1.30" ry="1.20" fill="#22b4dc"/>
<ellipse cx="49.40" cy="212.70" rx="1.20" ry="1.20" fill="#22b4dc"/>
<ellipse cx="45.50" cy="212.20" rx="1.10" ry="1.00" fill="#38c23a"/>
<ellipse cx="49.40" cy="212.70" rx="1.00" ry="1.00" fill="#38c23a"/>
<ellipse cx="45.50" cy="212.20" rx="0.95" ry="0.85" fill="#e4e030"/>
<ellipse cx="49.40" cy="212.70" rx="0.85" ry="0.85" fill="#e4e030"/>
<ellipse cx="45.50" cy="212.20" rx="0.80" ry="0.70" fill="#e2501a"/>
<ellipse cx="49.40" cy="212.70" rx="0.70" ry="0.70" fill="#e2501a"/>
<ellipse cx="47.90" cy="204.40" rx="2.60" ry="3.00" fill="#4026a8"/>
<ellipse cx="47.90" cy="204.40" rx="2.20" ry="2.60" fill="#2a44d8"/>
<ellipse cx="47.90" cy="204.40" rx="1.90" ry="2.30" fill="#22b4dc"/>
<ellipse cx="47.90" cy="204.40" rx="1.70" ry="2.10" fill="#38c23a"/>
<ellipse cx="47.90" cy="204.40" rx="1.55" ry="1.95" fill="#e4e030"/>
<ellipse cx="47.90" cy="204.40" rx="1.40" ry="1.80" fill="#e2501a"/>
<path d="M0.40,1.60 L1.50,2.40 L2.30,4.10 L2.20,5.70 L3.20,7.40 L3.90,10.00 L4.30,14.00 L4.30,18.00 L4.00,21.50 L3.50,24.00 L2.80,25.50 L3.20,27.00 L2.30,27.70 L1.20,26.40 L0.30,27.00 L-0.30,27.00 L-1.40,26.40 L-3.00,26.80 L-5.00,27.80 L-5.30,26.90 L-3.80,25.20 L-4.10,22.00 L-4.30,18.00 L-4.10,14.00 L-3.70,10.00 L-3.00,7.40 L-2.00,5.70 L-2.20,4.10 L-1.40,2.40 Z" fill="#4026a8" transform="translate(58.40 191.20) rotate(4) translate(0 16) scale(0.95 0.84) translate(0 -15)"/>
<ellipse cx="56.26" cy="207.94" rx="0.98" ry="1.08" fill="#2a44d8"/>
<ellipse cx="60.60" cy="212.74" rx="0.88" ry="0.97" fill="#2a44d8"/>
<ellipse cx="58.43" cy="200.68" rx="0.60" ry="0.66" fill="#2a44d8"/>
<ellipse cx="61.17" cy="203.75" rx="0.69" ry="0.76" fill="#2a44d8"/>
<ellipse cx="61.10" cy="208.00" rx="0.86" ry="0.95" fill="#2a44d8"/>
<ellipse cx="59.14" cy="197.45" rx="0.80" ry="0.88" fill="#2a44d8"/>
<ellipse cx="58.10" cy="203.86" rx="1.72" ry="1.89" fill="#f4f4f4"/>
<ellipse cx="58.09" cy="208.58" rx="0.91" ry="1.00" fill="#d8d8f0"/>
<ellipse cx="58.24" cy="204.72" rx="0.90" ry="1.00" fill="#f4f4f4"/>
<ellipse cx="57.14" cy="196.35" rx="1.59" ry="1.75" fill="#d8d8f0"/>
<ellipse cx="59.26" cy="204.43" rx="1.14" ry="1.25" fill="#f4f4f4"/>
<ellipse cx="59.39" cy="204.75" rx="0.87" ry="0.96" fill="#e8e8e8"/>
<ellipse cx="60.52" cy="195.91" rx="0.74" ry="0.81" fill="#e8e8e8"/>
<ellipse cx="59.04" cy="207.35" rx="1.06" ry="1.16" fill="#d8d8f0"/>
<ellipse cx="60.59" cy="203.21" rx="1.40" ry="1.54" fill="#f4f4f4"/>
<ellipse cx="55.23" cy="196.26" rx="1.42" ry="1.56" fill="#f4f4f4"/>
<ellipse cx="61.58" cy="210.83" rx="1.62" ry="1.79" fill="#d8d8f0"/>
<ellipse cx="56.83" cy="207.03" rx="1.26" ry="1.39" fill="#e8e8e8"/>
<ellipse cx="55.65" cy="207.16" rx="1.14" ry="1.25" fill="#f4f4f4"/>
<ellipse cx="57.67" cy="210.23" rx="1.63" ry="1.80" fill="#e8e8e8"/>
<ellipse cx="56.57" cy="209.73" rx="0.76" ry="0.83" fill="#f4f4f4"/>
<ellipse cx="61.47" cy="201.26" rx="0.78" ry="0.86" fill="#d8d8f0"/>
<ellipse cx="56.47" cy="205.70" rx="1.07" ry="1.18" fill="#f4f4f4"/>
<ellipse cx="57.33" cy="210.33" rx="1.53" ry="1.69" fill="#e8e8e8"/>
<ellipse cx="56.06" cy="206.21" rx="0.71" ry="0.78" fill="#f4f4f4"/>
<ellipse cx="60.30" cy="197.74" rx="1.32" ry="1.45" fill="#f4f4f4"/>
<ellipse cx="58.46" cy="210.66" rx="1.55" ry="1.70" fill="#f4f4f4"/>
<ellipse cx="59.32" cy="196.76" rx="1.16" ry="1.28" fill="#e8e8e8"/>
<ellipse cx="55.20" cy="208.73" rx="1.77" ry="1.95" fill="#d8d8f0"/>
<ellipse cx="57.15" cy="209.06" rx="0.93" ry="1.02" fill="#f4f4f4"/>
<ellipse cx="61.57" cy="204.53" rx="1.33" ry="1.47" fill="#e8e8e8"/>
<ellipse cx="61.53" cy="198.31" rx="0.98" ry="1.08" fill="#d8d8f0"/>
<ellipse cx="55.67" cy="199.25" rx="0.66" ry="0.72" fill="#22b4dc"/>
<ellipse cx="56.38" cy="199.25" rx="0.59" ry="0.65" fill="#22b4dc"/>
<ellipse cx="56.43" cy="206.79" rx="0.76" ry="0.84" fill="#22b4dc"/>
<ellipse cx="56.89" cy="206.69" rx="0.71" ry="0.78" fill="#22b4dc"/>
<ellipse cx="56.50" cy="212.20" rx="2.00" ry="1.90" fill="#4026a8"/>
<ellipse cx="60.40" cy="212.70" rx="1.90" ry="1.90" fill="#4026a8"/>
<ellipse cx="56.50" cy="212.20" rx="1.60" ry="1.50" fill="#2a44d8"/>
<ellipse cx="60.40" cy="212.70" rx="1.50" ry="1.50" fill="#2a44d8"/>
<ellipse cx="56.50" cy="212.20" rx="1.30" ry="1.20" fill="#22b4dc"/>
<ellipse cx="60.40" cy="212.70" rx="1.20" ry="1.20" fill="#22b4dc"/>
<ellipse cx="56.50" cy="212.20" rx="1.10" ry="1.00" fill="#38c23a"/>
<ellipse cx="60.40" cy="212.70" rx="1.00" ry="1.00" fill="#38c23a"/>
<ellipse cx="56.50" cy="212.20" rx="0.95" ry="0.85" fill="#e4e030"/>
<ellipse cx="60.40" cy="212.70" rx="0.85" ry="0.85" fill="#e4e030"/>
<ellipse cx="56.50" cy="212.20" rx="0.80" ry="0.70" fill="#e2501a"/>
<ellipse cx="60.40" cy="212.70" rx="0.70" ry="0.70" fill="#e2501a"/>
<path d="M0.40,1.60 L1.50,2.40 L2.30,4.10 L2.20,5.70 L3.20,7.40 L3.90,10.00 L4.30,14.00 L4.30,18.00 L4.00,21.50 L3.50,24.00 L2.80,25.50 L3.20,27.00 L2.30,27.70 L1.20,26.40 L0.30,27.00 L-0.30,27.00 L-1.40,26.40 L-3.00,26.80 L-5.00,27.80 L-5.30,26.90 L-3.80,25.20 L-4.10,22.00 L-4.30,18.00 L-4.10,14.00 L-3.70,10.00 L-3.00,7.40 L-2.00,5.70 L-2.20,4.10 L-1.40,2.40 Z" fill="#4026a8" transform="translate(69.40 191.20) rotate(4) translate(0 16) scale(0.95 0.84) translate(0 -15)"/>
<ellipse cx="72.33" cy="199.15" rx="0.61" ry="0.68" fill="#2a44d8"/>
<ellipse cx="67.38" cy="198.83" rx="0.99" ry="1.09" fill="#2a44d8"/>
<ellipse cx="71.27" cy="198.17" rx="0.76" ry="0.84" fill="#2a44d8"/>
<ellipse cx="68.24" cy="206.52" rx="1.16" ry="1.28" fill="#2a44d8"/>
<ellipse cx="70.73" cy="197.68" rx="1.13" ry="1.24" fill="#2a44d8"/>
<ellipse cx="68.19" cy="199.94" rx="1.11" ry="1.22" fill="#2a44d8"/>
<ellipse cx="69.24" cy="205.42" rx="1.43" ry="1.58" fill="#e8e8e8"/>
<ellipse cx="68.64" cy="210.85" rx="1.23" ry="1.35" fill="#d8d8f0"/>
<ellipse cx="71.39" cy="205.95" rx="1.36" ry="1.50" fill="#d8d8f0"/>
<ellipse cx="66.21" cy="204.89" rx="1.78" ry="1.95" fill="#f4f4f4"/>
<ellipse cx="67.24" cy="209.40" rx="0.76" ry="0.84" fill="#e8e8e8"/>
<ellipse cx="66.68" cy="205.89" rx="1.07" ry="1.18" fill="#f4f4f4"/>
<ellipse cx="71.31" cy="196.30" rx="1.71" ry="1.88" fill="#d8d8f0"/>
<ellipse cx="69.46" cy="196.36" rx="1.79" ry="1.96" fill="#f4f4f4"/>
<ellipse cx="66.92" cy="201.67" rx="0.85" ry="0.93" fill="#f4f4f4"/>
<ellipse cx="71.84" cy="203.83" rx="1.77" ry="1.95" fill="#e8e8e8"/>
<ellipse cx="69.75" cy="203.02" rx="0.79" ry="0.87" fill="#d8d8f0"/>
<ellipse cx="68.88" cy="204.44" rx="1.22" ry="1.35" fill="#f4f4f4"/>
<ellipse cx="69.66" cy="205.15" rx="0.79" ry="0.87" fill="#e8e8e8"/>
<ellipse cx="72.45" cy="205.52" rx="1.09" ry="1.20" fill="#f4f4f4"/>
<ellipse cx="71.74" cy="201.07" rx="1.04" ry="1.14" fill="#f4f4f4"/>
<ellipse cx="67.70" cy="200.71" rx="1.26" ry="1.39" fill="#d8d8f0"/>
<ellipse cx="67.35" cy="200.99" rx="1.64" ry="1.81" fill="#e8e8e8"/>
<ellipse cx="69.52" cy="198.45" rx="1.17" ry="1.29" fill="#f4f4f4"/>
<ellipse cx="67.51" cy="204.62" rx="1.53" ry="1.68" fill="#e8e8e8"/>
<ellipse cx="67.34" cy="206.03" rx="0.74" ry="0.81" fill="#f4f4f4"/>
<ellipse cx="69.39" cy="204.53" rx="1.50" ry="1.65" fill="#d8d8f0"/>
<ellipse cx="69.14" cy="198.24" rx="1.01" ry="1.11" fill="#f4f4f4"/>
<ellipse cx="70.66" cy="208.59" rx="0.96" ry="1.06" fill="#e8e8e8"/>
<ellipse cx="69.17" cy="203.68" rx="0.90" ry="0.99" fill="#d8d8f0"/>
<ellipse cx="67.61" cy="204.61" rx="1.74" ry="1.92" fill="#f4f4f4"/>
<ellipse cx="67.35" cy="207.62" rx="1.25" ry="1.38" fill="#e8e8e8"/>
<ellipse cx="67.03" cy="200.46" rx="0.62" ry="0.68" fill="#22b4dc"/>
<ellipse cx="69.38" cy="206.54" rx="0.54" ry="0.59" fill="#38c23a"/>
<ellipse cx="71.32" cy="204.17" rx="0.88" ry="0.97" fill="#38c23a"/>
<ellipse cx="68.68" cy="197.91" rx="0.80" ry="0.88" fill="#22b4dc"/>
<ellipse cx="67.50" cy="212.20" rx="2.00" ry="1.90" fill="#4026a8"/>
<ellipse cx="71.40" cy="212.70" rx="1.90" ry="1.90" fill="#4026a8"/>
<ellipse cx="67.50" cy="212.20" rx="1.60" ry="1.50" fill="#2a44d8"/>
<ellipse cx="71.40" cy="212.70" rx="1.50" ry="1.50" fill="#2a44d8"/>
<ellipse cx="67.50" cy="212.20" rx="1.30" ry="1.20" fill="#22b4dc"/>
<ellipse cx="71.40" cy="212.70" rx="1.20" ry="1.20" fill="#22b4dc"/>
<ellipse cx="67.50" cy="212.20" rx="1.10" ry="1.00" fill="#38c23a"/>
<ellipse cx="71.40" cy="212.70" rx="1.00" ry="1.00" fill="#38c23a"/>
<ellipse cx="67.50" cy="212.20" rx="0.95" ry="0.85" fill="#e4e030"/>
<ellipse cx="71.40" cy="212.70" rx="0.85" ry="0.85" fill="#e4e030"/>
<ellipse cx="67.50" cy="212.20" rx="0.80" ry="0.70" fill="#e2501a"/>
<ellipse cx="71.40" cy="212.70" rx="0.70" ry="0.70" fill="#e2501a"/>
<path d="M0.40,1.60 L1.50,2.40 L2.30,4.10 L2.20,5.70 L3.20,7.40 L3.90,10.00 L4.30,14.00 L4.30,18.00 L4.00,21.50 L3.50,24.00 L2.80,25.50 L3.20,27.00 L2.30,27.70 L1.20,26.40 L0.30,27.00 L-0.30,27.00 L-1.40,26.40 L-3.00,26.80 L-5.00,27.80 L-5.30,26.90 L-3.80,25.20 L-4.10,22.00 L-4.30,18.00 L-4.10,14.00 L-3.70,10.00 L-3.00,7.40 L-2.00,5.70 L-2.20,4.10 L-1.40,2.40 Z" fill="#4026a8" transform="translate(80.40 191.20) rotate(4) translate(0 16) scale(0.95 0.84) translate(0 -15)"/>
<ellipse cx="83.12" cy="212.08" rx="1.14" ry="1.25" fill="#2a44d8"/>
<ellipse cx="77.31" cy="201.81" rx="0.83" ry="0.91" fill="#2a44d8"/>
<ellipse cx="78.03" cy="199.97" rx="0.87" ry="0.95" fill="#2a44d8"/>
<ellipse cx="81.17" cy="211.33" rx="0.66" ry="0.73" fill="#2a44d8"/>
<ellipse cx="79.90" cy="205.10" rx="1.04" ry="1.14" fill="#2a44d8"/>
<ellipse cx="82.13" cy="200.19" rx="0.62" ry="0.68" fill="#2a44d8"/>
<ellipse cx="78.86" cy="205.86" rx="1.45" ry="1.60" fill="#e8e8e8"/>
<ellipse cx="81.37" cy="205.56" rx="1.66" ry="1.82" fill="#d8d8f0"/>
<ellipse cx="81.90" cy="196.98" rx="1.28" ry="1.41" fill="#e8e8e8"/>
<ellipse cx="81.97" cy="195.38" rx="0.84" ry="0.92" fill="#d8d8f0"/>
<ellipse cx="81.09" cy="195.13" rx="1.00" ry="1.10" fill="#e8e8e8"/>
<ellipse cx="77.74" cy="207.61" rx="1.68" ry="1.84" fill="#f4f4f4"/>
<ellipse cx="82.49" cy="206.82" rx="1.74" ry="1.92" fill="#f4f4f4"/>
<ellipse cx="79.48" cy="198.64" rx="1.69" ry="1.86" fill="#d8d8f0"/>
<ellipse cx="80.81" cy="201.77" rx="1.10" ry="1.21" fill="#f4f4f4"/>
<ellipse cx="81.29" cy="205.38" rx="1.08" ry="1.19" fill="#d8d8f0"/>
<ellipse cx="82.31" cy="210.67" rx="1.46" ry="1.61" fill="#d8d8f0"/>
<ellipse cx="81.11" cy="210.69" rx="1.18" ry="1.30" fill="#d8d8f0"/>
<ellipse cx="80.79" cy="205.49" rx="0.83" ry="0.91" fill="#38c23a"/>
<ellipse cx="80.28" cy="208.46" rx="0.71" ry="0.78" fill="#22b4dc"/>
<ellipse cx="83.08" cy="208.76" rx="0.88" ry="0.97" fill="#38c23a"/>
<ellipse cx="83.01" cy="204.24" rx="0.68" ry="0.75" fill="#22b4dc"/>
<ellipse cx="78.50" cy="212.20" rx="2.00" ry="1.90" fill="#4026a8"/>
<ellipse cx="82.40" cy="212.70" rx="1.90" ry="1.90" fill="#4026a8"/>
<ellipse cx="78.50" cy="212.20" rx="1.60" ry="1.50" fill="#2a44d8"/>
<ellipse cx="82.40" cy="212.70" rx="1.50" ry="1.50" fill="#2a44d8"/>
<ellipse cx="78.50" cy="212.20" rx="1.30" ry="1.20" fill="#22b4dc"/>
<ellipse cx="82.40" cy="212.70" rx="1.20" ry="1.20" fill="#22b4dc"/>
<ellipse cx="78.50" cy="212.20" rx="1.10" ry="1.00" fill="#38c23a"/>
<ellipse cx="82.40" cy="212.70" rx="1.00" ry="1.00" fill="#38c23a"/>
<ellipse cx="78.50" cy="212.20" rx="0.95" ry="0.85" fill="#e4e030"/>
<ellipse cx="82.40" cy="212.70" rx="0.85" ry="0.85" fill="#e4e030"/>
<ellipse cx="78.50" cy="212.20" rx="0.80" ry="0.70" fill="#e2501a"/>
<ellipse cx="82.40" cy="212.70" rx="0.70" ry="0.70" fill="#e2501a"/>
<ellipse cx="80.70" cy="201.90" rx="1.50" ry="1.60" fill="#4026a8"/>
<ellipse cx="79.40" cy="205.90" rx="1.30" ry="1.30" fill="#4026a8"/>
<ellipse cx="80.70" cy="201.90" rx="1.10" ry="1.20" fill="#2a44d8"/>
<ellipse cx="79.40" cy="205.90" rx="0.90" ry="0.90" fill="#2a44d8"/>
<ellipse cx="80.70" cy="201.90" rx="0.80" ry="0.90" fill="#22b4dc"/>
<ellipse cx="79.40" cy="205.90" rx="0.60" ry="0.60" fill="#22b4dc"/>
<ellipse cx="80.70" cy="201.90" rx="0.60" ry="0.70" fill="#38c23a"/>
<ellipse cx="79.40" cy="205.90" rx="0.40" ry="0.40" fill="#38c23a"/>
<ellipse cx="91.70" cy="205.90" rx="5.70" ry="13.60" fill="#4026a8"/>
<ellipse cx="89.90" cy="216.40" rx="3.40" ry="3.00" fill="#4026a8"/>
<ellipse cx="91.70" cy="205.90" rx="5.00" ry="12.90" fill="#2a44d8"/>
<ellipse cx="89.90" cy="216.40" rx="2.70" ry="2.30" fill="#2a44d8"/>
<ellipse cx="91.70" cy="205.90" rx="4.60" ry="12.50" fill="#22b4dc"/>
<ellipse cx="89.90" cy="216.40" rx="2.30" ry="1.90" fill="#22b4dc"/>
<ellipse cx="91.70" cy="205.90" rx="4.30" ry="12.20" fill="#38c23a"/>
<ellipse cx="89.90" cy="216.40" rx="2.00" ry="1.60" fill="#38c23a"/>
<ellipse cx="91.70" cy="205.90" rx="4.10" ry="12.00" fill="#e4e030"/>
<ellipse cx="89.90" cy="216.40" rx="1.80" ry="1.40" fill="#e4e030"/>
<ellipse cx="91.70" cy="205.90" rx="3.90" ry="11.80" fill="#e2501a"/>
<ellipse cx="89.90" cy="216.40" rx="1.60" ry="1.20" fill="#e2501a"/>
<ellipse cx="91.70" cy="199.90" rx="1.60" ry="2.20" fill="#4026a8"/>
<ellipse cx="90.90" cy="204.90" rx="1.40" ry="1.80" fill="#4026a8"/>
<ellipse cx="91.70" cy="199.90" rx="1.20" ry="1.80" fill="#2a44d8"/>
<ellipse cx="90.90" cy="204.90" rx="1.00" ry="1.40" fill="#2a44d8"/>
<ellipse cx="91.70" cy="199.90" rx="0.90" ry="1.50" fill="#22b4dc"/>
<ellipse cx="90.90" cy="204.90" rx="0.70" ry="1.10" fill="#22b4dc"/>
<ellipse cx="91.70" cy="199.90" rx="0.70" ry="1.30" fill="#38c23a"/>
<ellipse cx="90.90" cy="204.90" rx="0.50" ry="0.90" fill="#38c23a"/>
<ellipse cx="91.70" cy="199.90" rx="0.55" ry="1.15" fill="#e4e030"/>
<ellipse cx="90.90" cy="204.90" rx="0.35" ry="0.75" fill="#e4e030"/>
<ellipse cx="91.40" cy="194.70" rx="1.8" ry="1.8" fill="#2a44d8"/>
</g></g>
<clipPath id="cp11"><rect x="99.70" y="190.90" width="56.3" height="29.6"/></clipPath>
<g clip-path="url(#cp11)"><g filter="url(#soft)">
<rect x="98.70" y="189.90" width="58.30" height="31.60" fill="#131313" />
<g transform="translate(106.30 191.20) rotate(7 0 15) scale(1.14 1)"><path d="M0.40,1.60 L1.50,2.40 L2.30,4.10 L2.20,5.70 L3.20,7.40 L3.90,10.00 L4.30,14.00 L4.30,18.00 L4.00,21.50 L3.50,24.00 L2.80,25.50 L3.20,27.00 L2.30,27.70 L1.20,26.40 L0.30,27.00 L-0.30,27.00 L-1.40,26.40 L-3.00,26.80 L-5.00,27.80 L-5.30,26.90 L-3.80,25.20 L-4.10,22.00 L-4.30,18.00 L-4.10,14.00 L-3.70,10.00 L-3.00,7.40 L-2.00,5.70 L-2.20,4.10 L-1.40,2.40 Z" fill="url(#mg)"/><path d="M-0.2,27 q-0.6,1.5 -0.3,2.8" stroke="#9a9a9a" stroke-width="0.7" fill="none"/><path d="M-1.8,10 q1.2,5 -0.2,11 M1.8,12 q0.8,3 -0.4,7 M-0.5,5 l1,0" stroke="#a8a8a8" stroke-width="0.9" fill="none" opacity="0.6"/><ellipse cx="-0.47" cy="19.62" rx="1.38" ry="2.10" fill="#8a8a8a" opacity="0.2"/><ellipse cx="-2.59" cy="12.34" rx="0.73" ry="0.84" fill="#8a8a8a" opacity="0.2"/><ellipse cx="0.67" cy="7.10" rx="1.06" ry="1.70" fill="#8a8a8a" opacity="0.2"/><ellipse cx="-1.39" cy="23.39" rx="1.30" ry="2.29" fill="#8a8a8a" opacity="0.2"/><ellipse cx="0.45" cy="22.02" rx="0.66" ry="0.72" fill="#8a8a8a" opacity="0.2"/><ellipse cx="-0.73" cy="21.81" rx="0.83" ry="0.80" fill="#8a8a8a" opacity="0.2"/></g>
<g transform="translate(117.30 191.20) rotate(7 0 15) scale(1.14 1)"><path d="M0.40,1.60 L1.50,2.40 L2.30,4.10 L2.20,5.70 L3.20,7.40 L3.90,10.00 L4.30,14.00 L4.30,18.00 L4.00,21.50 L3.50,24.00 L2.80,25.50 L3.20,27.00 L2.30,27.70 L1.20,26.40 L0.30,27.00 L-0.30,27.00 L-1.40,26.40 L-3.00,26.80 L-5.00,27.80 L-5.30,26.90 L-3.80,25.20 L-4.10,22.00 L-4.30,18.00 L-4.10,14.00 L-3.70,10.00 L-3.00,7.40 L-2.00,5.70 L-2.20,4.10 L-1.40,2.40 Z" fill="url(#mg)"/><path d="M-0.2,27 q-0.6,1.5 -0.3,2.8" stroke="#9a9a9a" stroke-width="0.7" fill="none"/><path d="M-1.8,10 q1.2,5 -0.2,11 M1.8,12 q0.8,3 -0.4,7 M-0.5,5 l1,0" stroke="#a8a8a8" stroke-width="0.9" fill="none" opacity="0.6"/><ellipse cx="-2.33" cy="18.46" rx="1.20" ry="1.01" fill="#8a8a8a" opacity="0.2"/><ellipse cx="-0.83" cy="10.71" rx="0.82" ry="0.77" fill="#8a8a8a" opacity="0.2"/><ellipse cx="0.53" cy="5.01" rx="0.74" ry="0.80" fill="#8a8a8a" opacity="0.2"/><ellipse cx="0.19" cy="11.72" rx="1.39" ry="2.13" fill="#8a8a8a" opacity="0.2"/><ellipse cx="1.92" cy="11.09" rx="0.60" ry="0.71" fill="#8a8a8a" opacity="0.2"/><ellipse cx="1.35" cy="22.81" rx="0.82" ry="1.35" fill="#8a8a8a" opacity="0.2"/></g>
<g transform="translate(128.30 191.20) rotate(7 0 15) scale(1.14 1)"><path d="M0.40,1.60 L1.50,2.40 L2.30,4.10 L2.20,5.70 L3.20,7.40 L3.90,10.00 L4.30,14.00 L4.30,18.00 L4.00,21.50 L3.50,24.00 L2.80,25.50 L3.20,27.00 L2.30,27.70 L1.20,26.40 L0.30,27.00 L-0.30,27.00 L-1.40,26.40 L-3.00,26.80 L-5.00,27.80 L-5.30,26.90 L-3.80,25.20 L-4.10,22.00 L-4.30,18.00 L-4.10,14.00 L-3.70,10.00 L-3.00,7.40 L-2.00,5.70 L-2.20,4.10 L-1.40,2.40 Z" fill="url(#mg)"/><path d="M-0.2,27 q-0.6,1.5 -0.3,2.8" stroke="#9a9a9a" stroke-width="0.7" fill="none"/><path d="M-1.8,10 q1.2,5 -0.2,11 M1.8,12 q0.8,3 -0.4,7 M-0.5,5 l1,0" stroke="#a8a8a8" stroke-width="0.9" fill="none" opacity="0.6"/><ellipse cx="-2.17" cy="10.08" rx="0.71" ry="0.92" fill="#8a8a8a" opacity="0.2"/><ellipse cx="-0.23" cy="14.37" rx="0.73" ry="0.62" fill="#8a8a8a" opacity="0.2"/><ellipse cx="2.41" cy="10.32" rx="0.68" ry="1.12" fill="#8a8a8a" opacity="0.2"/><ellipse cx="-2.40" cy="17.63" rx="1.18" ry="2.02" fill="#8a8a8a" opacity="0.2"/><ellipse cx="2.35" cy="24.96" rx="0.95" ry="1.21" fill="#8a8a8a" opacity="0.2"/><ellipse cx="-1.02" cy="8.40" rx="0.99" ry="0.97" fill="#8a8a8a" opacity="0.2"/></g>
<g transform="translate(139.30 191.20) rotate(7 0 15) scale(1.14 1)"><path d="M0.40,1.60 L1.50,2.40 L2.30,4.10 L2.20,5.70 L3.20,7.40 L3.90,10.00 L4.30,14.00 L4.30,18.00 L4.00,21.50 L3.50,24.00 L2.80,25.50 L3.20,27.00 L2.30,27.70 L1.20,26.40 L0.30,27.00 L-0.30,27.00 L-1.40,26.40 L-3.00,26.80 L-5.00,27.80 L-5.30,26.90 L-3.80,25.20 L-4.10,22.00 L-4.30,18.00 L-4.10,14.00 L-3.70,10.00 L-3.00,7.40 L-2.00,5.70 L-2.20,4.10 L-1.40,2.40 Z" fill="url(#mg)"/><path d="M-0.2,27 q-0.6,1.5 -0.3,2.8" stroke="#9a9a9a" stroke-width="0.7" fill="none"/><path d="M-1.8,10 q1.2,5 -0.2,11 M1.8,12 q0.8,3 -0.4,7 M-0.5,5 l1,0" stroke="#a8a8a8" stroke-width="0.9" fill="none" opacity="0.6"/><ellipse cx="0.99" cy="8.73" rx="1.22" ry="1.04" fill="#8a8a8a" opacity="0.2"/><ellipse cx="2.24" cy="20.94" rx="1.43" ry="1.37" fill="#8a8a8a" opacity="0.2"/><ellipse cx="-1.85" cy="7.92" rx="0.70" ry="0.82" fill="#8a8a8a" opacity="0.2"/><ellipse cx="-2.65" cy="15.36" rx="1.28" ry="1.38" fill="#8a8a8a" opacity="0.2"/><ellipse cx="1.66" cy="23.19" rx="1.26" ry="2.02" fill="#8a8a8a" opacity="0.2"/><ellipse cx="-0.99" cy="12.90" rx="1.47" ry="1.61" fill="#8a8a8a" opacity="0.2"/></g>
<g transform="translate(150.30 191.20) rotate(7 0 15) scale(1.14 1)"><path d="M0.40,1.60 L1.50,2.40 L2.30,4.10 L2.20,5.70 L3.20,7.40 L3.90,10.00 L4.30,14.00 L4.30,18.00 L4.00,21.50 L3.50,24.00 L2.80,25.50 L3.20,27.00 L2.30,27.70 L1.20,26.40 L0.30,27.00 L-0.30,27.00 L-1.40,26.40 L-3.00,26.80 L-5.00,27.80 L-5.30,26.90 L-3.80,25.20 L-4.10,22.00 L-4.30,18.00 L-4.10,14.00 L-3.70,10.00 L-3.00,7.40 L-2.00,5.70 L-2.20,4.10 L-1.40,2.40 Z" fill="url(#mg)"/><path d="M-0.2,27 q-0.6,1.5 -0.3,2.8" stroke="#9a9a9a" stroke-width="0.7" fill="none"/><path d="M-1.8,10 q1.2,5 -0.2,11 M1.8,12 q0.8,3 -0.4,7 M-0.5,5 l1,0" stroke="#a8a8a8" stroke-width="0.9" fill="none" opacity="0.6"/><ellipse cx="-1.09" cy="16.32" rx="0.81" ry="0.95" fill="#8a8a8a" opacity="0.2"/><ellipse cx="1.97" cy="10.45" rx="1.31" ry="1.84" fill="#8a8a8a" opacity="0.2"/><ellipse cx="-1.09" cy="23.27" rx="1.30" ry="1.83" fill="#8a8a8a" opacity="0.2"/><ellipse cx="0.93" cy="12.55" rx="0.77" ry="0.90" fill="#8a8a8a" opacity="0.2"/><ellipse cx="1.62" cy="10.91" rx="1.32" ry="1.14" fill="#8a8a8a" opacity="0.2"/><ellipse cx="1.78" cy="24.31" rx="0.93" ry="1.28" fill="#8a8a8a" opacity="0.2"/></g>
<ellipse cx="117.10" cy="199.90" rx="1.40" ry="1.53" fill="#5236b8"/>
<ellipse cx="128.10" cy="206.90" rx="1.55" ry="1.71" fill="#5236b8"/>
<ellipse cx="139.10" cy="206.90" rx="1.71" ry="1.88" fill="#5236b8"/>
<ellipse cx="106.10" cy="212.90" rx="1.71" ry="1.88" fill="#5236b8"/>
<ellipse cx="150.10" cy="204.90" rx="1.24" ry="1.36" fill="#5236b8"/>
</g></g>
<clipPath id="cp21"><rect x="158.30" y="190.90" width="56.3" height="29.6"/></clipPath>
<g clip-path="url(#cp21)"><g filter="url(#soft)">
<rect x="157.30" y="189.90" width="58.30" height="31.60" fill="#131313" />
<g transform="translate(164.90 191.20) rotate(7 0 15) scale(1.14 1)"><path d="M0.40,1.60 L1.50,2.40 L2.30,4.10 L2.20,5.70 L3.20,7.40 L3.90,10.00 L4.30,14.00 L4.30,18.00 L4.00,21.50 L3.50,24.00 L2.80,25.50 L3.20,27.00 L2.30,27.70 L1.20,26.40 L0.30,27.00 L-0.30,27.00 L-1.40,26.40 L-3.00,26.80 L-5.00,27.80 L-5.30,26.90 L-3.80,25.20 L-4.10,22.00 L-4.30,18.00 L-4.10,14.00 L-3.70,10.00 L-3.00,7.40 L-2.00,5.70 L-2.20,4.10 L-1.40,2.40 Z" fill="url(#mg)"/><path d="M-0.2,27 q-0.6,1.5 -0.3,2.8" stroke="#9a9a9a" stroke-width="0.7" fill="none"/><path d="M-1.8,10 q1.2,5 -0.2,11 M1.8,12 q0.8,3 -0.4,7 M-0.5,5 l1,0" stroke="#a8a8a8" stroke-width="0.9" fill="none" opacity="0.6"/><ellipse cx="-0.32" cy="14.06" rx="0.61" ry="0.96" fill="#8a8a8a" opacity="0.2"/><ellipse cx="-1.64" cy="6.55" rx="0.95" ry="1.63" fill="#8a8a8a" opacity="0.2"/><ellipse cx="1.83" cy="15.41" rx="1.46" ry="2.33" fill="#8a8a8a" opacity="0.2"/><ellipse cx="-0.24" cy="9.47" rx="1.02" ry="1.50" fill="#8a8a8a" opacity="0.2"/><ellipse cx="-2.19" cy="24.40" rx="1.34" ry="2.02" fill="#8a8a8a" opacity="0.2"/><ellipse cx="2.55" cy="16.38" rx="1.19" ry="1.18" fill="#8a8a8a" opacity="0.2"/></g>
<g transform="translate(175.90 191.20) rotate(7 0 15) scale(1.14 1)"><path d="M0.40,1.60 L1.50,2.40 L2.30,4.10 L2.20,5.70 L3.20,7.40 L3.90,10.00 L4.30,14.00 L4.30,18.00 L4.00,21.50 L3.50,24.00 L2.80,25.50 L3.20,27.00 L2.30,27.70 L1.20,26.40 L0.30,27.00 L-0.30,27.00 L-1.40,26.40 L-3.00,26.80 L-5.00,27.80 L-5.30,26.90 L-3.80,25.20 L-4.10,22.00 L-4.30,18.00 L-4.10,14.00 L-3.70,10.00 L-3.00,7.40 L-2.00,5.70 L-2.20,4.10 L-1.40,2.40 Z" fill="url(#mg)"/><path d="M-0.2,27 q-0.6,1.5 -0.3,2.8" stroke="#9a9a9a" stroke-width="0.7" fill="none"/><path d="M-1.8,10 q1.2,5 -0.2,11 M1.8,12 q0.8,3 -0.4,7 M-0.5,5 l1,0" stroke="#a8a8a8" stroke-width="0.9" fill="none" opacity="0.6"/><ellipse cx="-1.40" cy="12.10" rx="1.44" ry="2.43" fill="#8a8a8a" opacity="0.2"/><ellipse cx="-0.06" cy="24.94" rx="1.28" ry="1.64" fill="#8a8a8a" opacity="0.2"/><ellipse cx="-1.84" cy="17.52" rx="1.26" ry="2.12" fill="#8a8a8a" opacity="0.2"/><ellipse cx="-1.23" cy="22.47" rx="0.92" ry="1.44" fill="#8a8a8a" opacity="0.2"/><ellipse cx="1.95" cy="19.29" rx="1.45" ry="1.91" fill="#8a8a8a" opacity="0.2"/><ellipse cx="1.47" cy="9.06" rx="0.69" ry="0.57" fill="#8a8a8a" opacity="0.2"/></g>
<g transform="translate(186.90 191.20) rotate(7 0 15) scale(1.14 1)"><path d="M0.40,1.60 L1.50,2.40 L2.30,4.10 L2.20,5.70 L3.20,7.40 L3.90,10.00 L4.30,14.00 L4.30,18.00 L4.00,21.50 L3.50,24.00 L2.80,25.50 L3.20,27.00 L2.30,27.70 L1.20,26.40 L0.30,27.00 L-0.30,27.00 L-1.40,26.40 L-3.00,26.80 L-5.00,27.80 L-5.30,26.90 L-3.80,25.20 L-4.10,22.00 L-4.30,18.00 L-4.10,14.00 L-3.70,10.00 L-3.00,7.40 L-2.00,5.70 L-2.20,4.10 L-1.40,2.40 Z" fill="url(#mg)"/><path d="M-0.2,27 q-0.6,1.5 -0.3,2.8" stroke="#9a9a9a" stroke-width="0.7" fill="none"/><path d="M-1.8,10 q1.2,5 -0.2,11 M1.8,12 q0.8,3 -0.4,7 M-0.5,5 l1,0" stroke="#a8a8a8" stroke-width="0.9" fill="none" opacity="0.6"/><ellipse cx="2.55" cy="12.27" rx="1.02" ry="1.52" fill="#8a8a8a" opacity="0.2"/><ellipse cx="2.21" cy="11.44" rx="1.43" ry="2.22" fill="#8a8a8a" opacity="0.2"/><ellipse cx="1.47" cy="9.62" rx="1.26" ry="1.38" fill="#8a8a8a" opacity="0.2"/><ellipse cx="-2.32" cy="13.55" rx="0.89" ry="0.91" fill="#8a8a8a" opacity="0.2"/><ellipse cx="0.66" cy="10.78" rx="1.17" ry="1.98" fill="#8a8a8a" opacity="0.2"/><ellipse cx="1.58" cy="17.48" rx="0.74" ry="0.86" fill="#8a8a8a" opacity="0.2"/></g>
<g transform="translate(197.90 191.20) rotate(7 0 15) scale(1.14 1)"><path d="M0.40,1.60 L1.50,2.40 L2.30,4.10 L2.20,5.70 L3.20,7.40 L3.90,10.00 L4.30,14.00 L4.30,18.00 L4.00,21.50 L3.50,24.00 L2.80,25.50 L3.20,27.00 L2.30,27.70 L1.20,26.40 L0.30,27.00 L-0.30,27.00 L-1.40,26.40 L-3.00,26.80 L-5.00,27.80 L-5.30,26.90 L-3.80,25.20 L-4.10,22.00 L-4.30,18.00 L-4.10,14.00 L-3.70,10.00 L-3.00,7.40 L-2.00,5.70 L-2.20,4.10 L-1.40,2.40 Z" fill="url(#mg)"/><path d="M-0.2,27 q-0.6,1.5 -0.3,2.8" stroke="#9a9a9a" stroke-width="0.7" fill="none"/><path d="M-1.8,10 q1.2,5 -0.2,11 M1.8,12 q0.8,3 -0.4,7 M-0.5,5 l1,0" stroke="#a8a8a8" stroke-width="0.9" fill="none" opacity="0.6"/><ellipse cx="1.67" cy="12.14" rx="1.28" ry="1.59" fill="#8a8a8a" opacity="0.2"/><ellipse cx="1.36" cy="20.96" rx="1.38" ry="2.06" fill="#8a8a8a" opacity="0.2"/><ellipse cx="2.77" cy="16.02" rx="1.04" ry="0.86" fill="#8a8a8a" opacity="0.2"/><ellipse cx="2.20" cy="11.58" rx="0.65" ry="0.64" fill="#8a8a8a" opacity="0.2"/><ellipse cx="-0.51" cy="10.66" rx="1.22" ry="1.33" fill="#8a8a8a" opacity="0.2"/><ellipse cx="-0.33" cy="8.29" rx="1.44" ry="2.29" fill="#8a8a8a" opacity="0.2"/></g>
<g transform="translate(208.90 191.20) rotate(7 0 15) scale(1.14 1)"><path d="M0.40,1.60 L1.50,2.40 L2.30,4.10 L2.20,5.70 L3.20,7.40 L3.90,10.00 L4.30,14.00 L4.30,18.00 L4.00,21.50 L3.50,24.00 L2.80,25.50 L3.20,27.00 L2.30,27.70 L1.20,26.40 L0.30,27.00 L-0.30,27.00 L-1.40,26.40 L-3.00,26.80 L-5.00,27.80 L-5.30,26.90 L-3.80,25.20 L-4.10,22.00 L-4.30,18.00 L-4.10,14.00 L-3.70,10.00 L-3.00,7.40 L-2.00,5.70 L-2.20,4.10 L-1.40,2.40 Z" fill="url(#mg)"/><path d="M-0.2,27 q-0.6,1.5 -0.3,2.8" stroke="#9a9a9a" stroke-width="0.7" fill="none"/><path d="M-1.8,10 q1.2,5 -0.2,11 M1.8,12 q0.8,3 -0.4,7 M-0.5,5 l1,0" stroke="#a8a8a8" stroke-width="0.9" fill="none" opacity="0.6"/><ellipse cx="2.35" cy="18.53" rx="1.50" ry="2.48" fill="#8a8a8a" opacity="0.2"/><ellipse cx="1.13" cy="18.39" rx="1.36" ry="1.67" fill="#8a8a8a" opacity="0.2"/><ellipse cx="-0.13" cy="20.14" rx="1.02" ry="1.15" fill="#8a8a8a" opacity="0.2"/><ellipse cx="1.22" cy="21.88" rx="1.21" ry="1.60" fill="#8a8a8a" opacity="0.2"/><ellipse cx="0.48" cy="15.06" rx="0.81" ry="1.11" fill="#8a8a8a" opacity="0.2"/><ellipse cx="-0.98" cy="6.96" rx="0.82" ry="1.16" fill="#8a8a8a" opacity="0.2"/></g>
<ellipse cx="164.70" cy="203.90" rx="2.02" ry="2.22" fill="#5236b8"/>
<ellipse cx="175.70" cy="207.90" rx="1.30" ry="1.43" fill="#4026a8"/>
<ellipse cx="186.70" cy="200.90" rx="1.71" ry="1.88" fill="#5236b8"/>
<ellipse cx="197.70" cy="204.90" rx="1.20" ry="1.32" fill="#4026a8"/>
<ellipse cx="208.70" cy="207.90" rx="1.71" ry="1.88" fill="#5236b8"/>
<ellipse cx="208.70" cy="199.90" rx="1.24" ry="1.36" fill="#5236b8"/>
<ellipse cx="175.70" cy="207.90" rx="0.85" ry="0.98" fill="#2a44d8"/>
<ellipse cx="197.70" cy="204.90" rx="0.75" ry="0.87" fill="#2a44d8"/>
</g></g>
<clipPath id="cp31"><rect x="217.10" y="190.90" width="56.3" height="29.6"/></clipPath>
<g clip-path="url(#cp31)"><g filter="url(#soft)">
<rect x="216.10" y="189.90" width="58.30" height="31.60" fill="#131313" />
<g transform="translate(223.70 191.20) rotate(7 0 15) scale(1.14 1)"><path d="M0.40,1.60 L1.50,2.40 L2.30,4.10 L2.20,5.70 L3.20,7.40 L3.90,10.00 L4.30,14.00 L4.30,18.00 L4.00,21.50 L3.50,24.00 L2.80,25.50 L3.20,27.00 L2.30,27.70 L1.20,26.40 L0.30,27.00 L-0.30,27.00 L-1.40,26.40 L-3.00,26.80 L-5.00,27.80 L-5.30,26.90 L-3.80,25.20 L-4.10,22.00 L-4.30,18.00 L-4.10,14.00 L-3.70,10.00 L-3.00,7.40 L-2.00,5.70 L-2.20,4.10 L-1.40,2.40 Z" fill="url(#mg)"/><path d="M-0.2,27 q-0.6,1.5 -0.3,2.8" stroke="#9a9a9a" stroke-width="0.7" fill="none"/><path d="M-1.8,10 q1.2,5 -0.2,11 M1.8,12 q0.8,3 -0.4,7 M-0.5,5 l1,0" stroke="#a8a8a8" stroke-width="0.9" fill="none" opacity="0.6"/><ellipse cx="-0.22" cy="21.16" rx="0.68" ry="0.79" fill="#8a8a8a" opacity="0.2"/><ellipse cx="-1.75" cy="22.37" rx="1.35" ry="2.25" fill="#8a8a8a" opacity="0.2"/><ellipse cx="0.83" cy="8.57" rx="0.67" ry="0.70" fill="#8a8a8a" opacity="0.2"/><ellipse cx="1.36" cy="15.66" rx="1.12" ry="1.36" fill="#8a8a8a" opacity="0.2"/><ellipse cx="-0.56" cy="9.43" rx="1.27" ry="1.71" fill="#8a8a8a" opacity="0.2"/><ellipse cx="-2.23" cy="5.30" rx="1.01" ry="0.96" fill="#8a8a8a" opacity="0.2"/></g>
<g transform="translate(234.70 191.20) rotate(7 0 15) scale(1.14 1)"><path d="M0.40,1.60 L1.50,2.40 L2.30,4.10 L2.20,5.70 L3.20,7.40 L3.90,10.00 L4.30,14.00 L4.30,18.00 L4.00,21.50 L3.50,24.00 L2.80,25.50 L3.20,27.00 L2.30,27.70 L1.20,26.40 L0.30,27.00 L-0.30,27.00 L-1.40,26.40 L-3.00,26.80 L-5.00,27.80 L-5.30,26.90 L-3.80,25.20 L-4.10,22.00 L-4.30,18.00 L-4.10,14.00 L-3.70,10.00 L-3.00,7.40 L-2.00,5.70 L-2.20,4.10 L-1.40,2.40 Z" fill="url(#mg)"/><path d="M-0.2,27 q-0.6,1.5 -0.3,2.8" stroke="#9a9a9a" stroke-width="0.7" fill="none"/><path d="M-1.8,10 q1.2,5 -0.2,11 M1.8,12 q0.8,3 -0.4,7 M-0.5,5 l1,0" stroke="#a8a8a8" stroke-width="0.9" fill="none" opacity="0.6"/><ellipse cx="-2.36" cy="12.50" rx="1.02" ry="1.29" fill="#8a8a8a" opacity="0.2"/><ellipse cx="-0.76" cy="9.98" rx="1.35" ry="1.17" fill="#8a8a8a" opacity="0.2"/><ellipse cx="0.24" cy="6.47" rx="1.15" ry="1.44" fill="#8a8a8a" opacity="0.2"/><ellipse cx="0.79" cy="6.91" rx="1.25" ry="1.23" fill="#8a8a8a" opacity="0.2"/><ellipse cx="0.23" cy="10.48" rx="0.96" ry="1.68" fill="#8a8a8a" opacity="0.2"/><ellipse cx="-0.94" cy="6.46" rx="0.88" ry="0.85" fill="#8a8a8a" opacity="0.2"/></g>
<g transform="translate(245.70 191.20) rotate(7 0 15) scale(1.14 1)"><path d="M0.40,1.60 L1.50,2.40 L2.30,4.10 L2.20,5.70 L3.20,7.40 L3.90,10.00 L4.30,14.00 L4.30,18.00 L4.00,21.50 L3.50,24.00 L2.80,25.50 L3.20,27.00 L2.30,27.70 L1.20,26.40 L0.30,27.00 L-0.30,27.00 L-1.40,26.40 L-3.00,26.80 L-5.00,27.80 L-5.30,26.90 L-3.80,25.20 L-4.10,22.00 L-4.30,18.00 L-4.10,14.00 L-3.70,10.00 L-3.00,7.40 L-2.00,5.70 L-2.20,4.10 L-1.40,2.40 Z" fill="url(#mg)"/><path d="M-0.2,27 q-0.6,1.5 -0.3,2.8" stroke="#9a9a9a" stroke-width="0.7" fill="none"/><path d="M-1.8,10 q1.2,5 -0.2,11 M1.8,12 q0.8,3 -0.4,7 M-0.5,5 l1,0" stroke="#a8a8a8" stroke-width="0.9" fill="none" opacity="0.6"/><ellipse cx="-1.30" cy="8.20" rx="1.48" ry="2.16" fill="#8a8a8a" opacity="0.2"/><ellipse cx="-1.13" cy="12.84" rx="0.67" ry="0.81" fill="#8a8a8a" opacity="0.2"/><ellipse cx="-2.28" cy="5.27" rx="0.72" ry="1.03" fill="#8a8a8a" opacity="0.2"/><ellipse cx="2.73" cy="23.34" rx="0.79" ry="1.23" fill="#8a8a8a" opacity="0.2"/><ellipse cx="-2.26" cy="6.05" rx="1.48" ry="2.66" fill="#8a8a8a" opacity="0.2"/><ellipse cx="-0.66" cy="8.73" rx="0.81" ry="1.20" fill="#8a8a8a" opacity="0.2"/></g>
<g transform="translate(256.70 191.20) rotate(7 0 15) scale(1.14 1)"><path d="M0.40,1.60 L1.50,2.40 L2.30,4.10 L2.20,5.70 L3.20,7.40 L3.90,10.00 L4.30,14.00 L4.30,18.00 L4.00,21.50 L3.50,24.00 L2.80,25.50 L3.20,27.00 L2.30,27.70 L1.20,26.40 L0.30,27.00 L-0.30,27.00 L-1.40,26.40 L-3.00,26.80 L-5.00,27.80 L-5.30,26.90 L-3.80,25.20 L-4.10,22.00 L-4.30,18.00 L-4.10,14.00 L-3.70,10.00 L-3.00,7.40 L-2.00,5.70 L-2.20,4.10 L-1.40,2.40 Z" fill="url(#mg)"/><path d="M-0.2,27 q-0.6,1.5 -0.3,2.8" stroke="#9a9a9a" stroke-width="0.7" fill="none"/><path d="M-1.8,10 q1.2,5 -0.2,11 M1.8,12 q0.8,3 -0.4,7 M-0.5,5 l1,0" stroke="#a8a8a8" stroke-width="0.9" fill="none" opacity="0.6"/><ellipse cx="2.79" cy="18.41" rx="1.43" ry="2.27" fill="#8a8a8a" opacity="0.2"/><ellipse cx="-2.45" cy="14.57" rx="1.41" ry="1.50" fill="#8a8a8a" opacity="0.2"/><ellipse cx="-1.80" cy="5.30" rx="0.70" ry="0.78" fill="#8a8a8a" opacity="0.2"/><ellipse cx="-1.71" cy="9.17" rx="0.91" ry="1.30" fill="#8a8a8a" opacity="0.2"/><ellipse cx="1.75" cy="12.91" rx="1.32" ry="1.85" fill="#8a8a8a" opacity="0.2"/><ellipse cx="1.02" cy="20.50" rx="1.38" ry="1.84" fill="#8a8a8a" opacity="0.2"/></g>
<g transform="translate(267.70 191.20) rotate(7 0 15) scale(1.14 1)"><path d="M0.40,1.60 L1.50,2.40 L2.30,4.10 L2.20,5.70 L3.20,7.40 L3.90,10.00 L4.30,14.00 L4.30,18.00 L4.00,21.50 L3.50,24.00 L2.80,25.50 L3.20,27.00 L2.30,27.70 L1.20,26.40 L0.30,27.00 L-0.30,27.00 L-1.40,26.40 L-3.00,26.80 L-5.00,27.80 L-5.30,26.90 L-3.80,25.20 L-4.10,22.00 L-4.30,18.00 L-4.10,14.00 L-3.70,10.00 L-3.00,7.40 L-2.00,5.70 L-2.20,4.10 L-1.40,2.40 Z" fill="url(#mg)"/><path d="M-0.2,27 q-0.6,1.5 -0.3,2.8" stroke="#9a9a9a" stroke-width="0.7" fill="none"/><path d="M-1.8,10 q1.2,5 -0.2,11 M1.8,12 q0.8,3 -0.4,7 M-0.5,5 l1,0" stroke="#a8a8a8" stroke-width="0.9" fill="none" opacity="0.6"/><ellipse cx="-1.00" cy="17.21" rx="1.00" ry="1.15" fill="#8a8a8a" opacity="0.2"/><ellipse cx="1.83" cy="22.52" rx="0.75" ry="1.19" fill="#8a8a8a" opacity="0.2"/><ellipse cx="1.79" cy="13.54" rx="1.45" ry="2.03" fill="#8a8a8a" opacity="0.2"/><ellipse cx="-2.36" cy="6.94" rx="1.46" ry="1.86" fill="#8a8a8a" opacity="0.2"/><ellipse cx="-0.29" cy="20.34" rx="1.33" ry="1.49" fill="#8a8a8a" opacity="0.2"/><ellipse cx="1.83" cy="8.98" rx="1.11" ry="1.41" fill="#8a8a8a" opacity="0.2"/></g>
<ellipse cx="223.50" cy="202.90" rx="2.02" ry="2.22" fill="#5236b8"/>
<ellipse cx="234.50" cy="206.90" rx="1.86" ry="2.05" fill="#5236b8"/>
<ellipse cx="245.50" cy="204.90" rx="1.55" ry="1.71" fill="#5236b8"/>
<ellipse cx="256.50" cy="204.90" rx="1.55" ry="1.71" fill="#5236b8"/>
<ellipse cx="267.50" cy="206.90" rx="1.71" ry="1.88" fill="#5236b8"/>
<ellipse cx="267.50" cy="200.90" rx="1.24" ry="1.36" fill="#5236b8"/>
</g></g>
<clipPath id="cp41"><rect x="275.60" y="190.90" width="56.3" height="29.6"/></clipPath>
<g clip-path="url(#cp41)"><g filter="url(#soft)">
<rect x="274.60" y="189.90" width="58.30" height="31.60" fill="#131313" />
<g transform="translate(282.20 191.20) rotate(7 0 15) scale(1.14 1)"><path d="M0.40,1.60 L1.50,2.40 L2.30,4.10 L2.20,5.70 L3.20,7.40 L3.90,10.00 L4.30,14.00 L4.30,18.00 L4.00,21.50 L3.50,24.00 L2.80,25.50 L3.20,27.00 L2.30,27.70 L1.20,26.40 L0.30,27.00 L-0.30,27.00 L-1.40,26.40 L-3.00,26.80 L-5.00,27.80 L-5.30,26.90 L-3.80,25.20 L-4.10,22.00 L-4.30,18.00 L-4.10,14.00 L-3.70,10.00 L-3.00,7.40 L-2.00,5.70 L-2.20,4.10 L-1.40,2.40 Z" fill="url(#mg)"/><path d="M-0.2,27 q-0.6,1.5 -0.3,2.8" stroke="#9a9a9a" stroke-width="0.7" fill="none"/><path d="M-1.8,10 q1.2,5 -0.2,11 M1.8,12 q0.8,3 -0.4,7 M-0.5,5 l1,0" stroke="#a8a8a8" stroke-width="0.9" fill="none" opacity="0.6"/><ellipse cx="-2.54" cy="7.32" rx="1.02" ry="1.47" fill="#8a8a8a" opacity="0.2"/><ellipse cx="-1.34" cy="13.83" rx="0.68" ry="1.07" fill="#8a8a8a" opacity="0.2"/><ellipse cx="2.29" cy="13.87" rx="1.22" ry="1.19" fill="#8a8a8a" opacity="0.2"/><ellipse cx="-0.22" cy="12.84" rx="1.16" ry="1.48" fill="#8a8a8a" opacity="0.2"/><ellipse cx="2.11" cy="13.41" rx="1.07" ry="1.15" fill="#8a8a8a" opacity="0.2"/><ellipse cx="-2.10" cy="8.40" rx="1.08" ry="1.36" fill="#8a8a8a" opacity="0.2"/></g>
<g transform="translate(293.20 191.20) rotate(7 0 15) scale(1.14 1)"><path d="M0.40,1.60 L1.50,2.40 L2.30,4.10 L2.20,5.70 L3.20,7.40 L3.90,10.00 L4.30,14.00 L4.30,18.00 L4.00,21.50 L3.50,24.00 L2.80,25.50 L3.20,27.00 L2.30,27.70 L1.20,26.40 L0.30,27.00 L-0.30,27.00 L-1.40,26.40 L-3.00,26.80 L-5.00,27.80 L-5.30,26.90 L-3.80,25.20 L-4.10,22.00 L-4.30,18.00 L-4.10,14.00 L-3.70,10.00 L-3.00,7.40 L-2.00,5.70 L-2.20,4.10 L-1.40,2.40 Z" fill="url(#mg)"/><path d="M-0.2,27 q-0.6,1.5 -0.3,2.8" stroke="#9a9a9a" stroke-width="0.7" fill="none"/><path d="M-1.8,10 q1.2,5 -0.2,11 M1.8,12 q0.8,3 -0.4,7 M-0.5,5 l1,0" stroke="#a8a8a8" stroke-width="0.9" fill="none" opacity="0.6"/><ellipse cx="2.45" cy="17.74" rx="0.71" ry="0.66" fill="#8a8a8a" opacity="0.2"/><ellipse cx="-0.25" cy="10.22" rx="1.04" ry="1.31" fill="#8a8a8a" opacity="0.2"/><ellipse cx="0.64" cy="22.72" rx="0.86" ry="1.35" fill="#8a8a8a" opacity="0.2"/><ellipse cx="0.10" cy="13.75" rx="0.96" ry="1.59" fill="#8a8a8a" opacity="0.2"/><ellipse cx="-0.74" cy="8.15" rx="1.24" ry="1.52" fill="#8a8a8a" opacity="0.2"/><ellipse cx="-1.97" cy="21.91" rx="0.60" ry="0.77" fill="#8a8a8a" opacity="0.2"/></g>
<g transform="translate(304.20 191.20) rotate(7 0 15) scale(1.14 1)"><path d="M0.40,1.60 L1.50,2.40 L2.30,4.10 L2.20,5.70 L3.20,7.40 L3.90,10.00 L4.30,14.00 L4.30,18.00 L4.00,21.50 L3.50,24.00 L2.80,25.50 L3.20,27.00 L2.30,27.70 L1.20,26.40 L0.30,27.00 L-0.30,27.00 L-1.40,26.40 L-3.00,26.80 L-5.00,27.80 L-5.30,26.90 L-3.80,25.20 L-4.10,22.00 L-4.30,18.00 L-4.10,14.00 L-3.70,10.00 L-3.00,7.40 L-2.00,5.70 L-2.20,4.10 L-1.40,2.40 Z" fill="url(#mg)"/><path d="M-0.2,27 q-0.6,1.5 -0.3,2.8" stroke="#9a9a9a" stroke-width="0.7" fill="none"/><path d="M-1.8,10 q1.2,5 -0.2,11 M1.8,12 q0.8,3 -0.4,7 M-0.5,5 l1,0" stroke="#a8a8a8" stroke-width="0.9" fill="none" opacity="0.6"/><ellipse cx="1.42" cy="12.09" rx="1.20" ry="1.40" fill="#8a8a8a" opacity="0.2"/><ellipse cx="1.29" cy="11.99" rx="0.98" ry="1.10" fill="#8a8a8a" opacity="0.2"/><ellipse cx="-2.32" cy="7.62" rx="1.05" ry="1.05" fill="#8a8a8a" opacity="0.2"/><ellipse cx="-2.27" cy="18.04" rx="0.92" ry="1.63" fill="#8a8a8a" opacity="0.2"/><ellipse cx="-2.47" cy="21.97" rx="1.16" ry="1.82" fill="#8a8a8a" opacity="0.2"/><ellipse cx="0.94" cy="18.15" rx="1.07" ry="1.44" fill="#8a8a8a" opacity="0.2"/></g>
<g transform="translate(315.20 191.20) rotate(7 0 15) scale(1.14 1)"><path d="M0.40,1.60 L1.50,2.40 L2.30,4.10 L2.20,5.70 L3.20,7.40 L3.90,10.00 L4.30,14.00 L4.30,18.00 L4.00,21.50 L3.50,24.00 L2.80,25.50 L3.20,27.00 L2.30,27.70 L1.20,26.40 L0.30,27.00 L-0.30,27.00 L-1.40,26.40 L-3.00,26.80 L-5.00,27.80 L-5.30,26.90 L-3.80,25.20 L-4.10,22.00 L-4.30,18.00 L-4.10,14.00 L-3.70,10.00 L-3.00,7.40 L-2.00,5.70 L-2.20,4.10 L-1.40,2.40 Z" fill="url(#mg)"/><path d="M-0.2,27 q-0.6,1.5 -0.3,2.8" stroke="#9a9a9a" stroke-width="0.7" fill="none"/><path d="M-1.8,10 q1.2,5 -0.2,11 M1.8,12 q0.8,3 -0.4,7 M-0.5,5 l1,0" stroke="#a8a8a8" stroke-width="0.9" fill="none" opacity="0.6"/><ellipse cx="-2.10" cy="21.81" rx="0.60" ry="0.84" fill="#8a8a8a" opacity="0.2"/><ellipse cx="0.97" cy="8.44" rx="1.37" ry="2.22" fill="#8a8a8a" opacity="0.2"/><ellipse cx="0.60" cy="10.77" rx="1.11" ry="1.96" fill="#8a8a8a" opacity="0.2"/><ellipse cx="-1.68" cy="18.95" rx="1.27" ry="1.51" fill="#8a8a8a" opacity="0.2"/><ellipse cx="-0.92" cy="5.39" rx="1.04" ry="1.82" fill="#8a8a8a" opacity="0.2"/><ellipse cx="0.41" cy="18.91" rx="1.50" ry="2.38" fill="#8a8a8a" opacity="0.2"/></g>
<g transform="translate(326.20 191.20) rotate(7 0 15) scale(1.14 1)"><path d="M0.40,1.60 L1.50,2.40 L2.30,4.10 L2.20,5.70 L3.20,7.40 L3.90,10.00 L4.30,14.00 L4.30,18.00 L4.00,21.50 L3.50,24.00 L2.80,25.50 L3.20,27.00 L2.30,27.70 L1.20,26.40 L0.30,27.00 L-0.30,27.00 L-1.40,26.40 L-3.00,26.80 L-5.00,27.80 L-5.30,26.90 L-3.80,25.20 L-4.10,22.00 L-4.30,18.00 L-4.10,14.00 L-3.70,10.00 L-3.00,7.40 L-2.00,5.70 L-2.20,4.10 L-1.40,2.40 Z" fill="url(#mg)"/><path d="M-0.2,27 q-0.6,1.5 -0.3,2.8" stroke="#9a9a9a" stroke-width="0.7" fill="none"/><path d="M-1.8,10 q1.2,5 -0.2,11 M1.8,12 q0.8,3 -0.4,7 M-0.5,5 l1,0" stroke="#a8a8a8" stroke-width="0.9" fill="none" opacity="0.6"/><ellipse cx="-2.32" cy="11.96" rx="1.11" ry="1.12" fill="#8a8a8a" opacity="0.2"/><ellipse cx="-0.33" cy="20.11" rx="1.33" ry="2.02" fill="#8a8a8a" opacity="0.2"/><ellipse cx="-0.43" cy="16.81" rx="1.20" ry="1.85" fill="#8a8a8a" opacity="0.2"/><ellipse cx="0.14" cy="17.61" rx="1.41" ry="1.39" fill="#8a8a8a" opacity="0.2"/><ellipse cx="1.52" cy="7.81" rx="0.92" ry="1.65" fill="#8a8a8a" opacity="0.2"/><ellipse cx="-0.25" cy="20.07" rx="0.94" ry="1.44" fill="#8a8a8a" opacity="0.2"/></g>
<ellipse cx="282.00" cy="200.90" rx="1.40" ry="1.53" fill="#5236b8"/>
<ellipse cx="293.00" cy="198.90" rx="1.55" ry="1.71" fill="#5236b8"/>
<ellipse cx="304.00" cy="201.90" rx="1.55" ry="1.71" fill="#5236b8"/>
<ellipse cx="304.00" cy="208.90" rx="1.86" ry="2.05" fill="#5236b8"/>
<ellipse cx="326.00" cy="198.90" rx="2.00" ry="2.20" fill="#4026a8"/>
<ellipse cx="326.00" cy="207.90" rx="2.20" ry="2.42" fill="#4026a8"/>
<ellipse cx="315.00" cy="208.90" rx="1.24" ry="1.36" fill="#5236b8"/>
<ellipse cx="326.00" cy="198.90" rx="1.60" ry="1.80" fill="#2a44d8"/>
<ellipse cx="326.00" cy="207.90" rx="1.80" ry="2.02" fill="#2a44d8"/>
<ellipse cx="326.00" cy="198.90" rx="1.30" ry="1.50" fill="#22b4dc"/>
<ellipse cx="326.00" cy="207.90" rx="1.50" ry="1.72" fill="#22b4dc"/>
<ellipse cx="326.00" cy="198.90" rx="1.10" ry="1.30" fill="#38c23a"/>
<ellipse cx="326.00" cy="207.90" rx="1.30" ry="1.52" fill="#38c23a"/>
<ellipse cx="326.00" cy="198.90" rx="0.95" ry="1.15" fill="#e4e030"/>
<ellipse cx="326.00" cy="198.90" rx="0.80" ry="1.00" fill="#e2501a"/>
</g></g>
<clipPath id="cp51"><rect x="334.50" y="190.90" width="56.3" height="29.6"/></clipPath>
<g clip-path="url(#cp51)"><g filter="url(#soft)">
<rect x="333.50" y="189.90" width="58.30" height="31.60" fill="#131313" />
<g transform="translate(341.10 191.20) rotate(7 0 15) scale(1.14 1)"><path d="M0.40,1.60 L1.50,2.40 L2.30,4.10 L2.20,5.70 L3.20,7.40 L3.90,10.00 L4.30,14.00 L4.30,18.00 L4.00,21.50 L3.50,24.00 L2.80,25.50 L3.20,27.00 L2.30,27.70 L1.20,26.40 L0.30,27.00 L-0.30,27.00 L-1.40,26.40 L-3.00,26.80 L-5.00,27.80 L-5.30,26.90 L-3.80,25.20 L-4.10,22.00 L-4.30,18.00 L-4.10,14.00 L-3.70,10.00 L-3.00,7.40 L-2.00,5.70 L-2.20,4.10 L-1.40,2.40 Z" fill="url(#mg)"/><path d="M-0.2,27 q-0.6,1.5 -0.3,2.8" stroke="#9a9a9a" stroke-width="0.7" fill="none"/><path d="M-1.8,10 q1.2,5 -0.2,11 M1.8,12 q0.8,3 -0.4,7 M-0.5,5 l1,0" stroke="#a8a8a8" stroke-width="0.9" fill="none" opacity="0.6"/><ellipse cx="-2.17" cy="22.32" rx="1.31" ry="2.33" fill="#8a8a8a" opacity="0.2"/><ellipse cx="-0.81" cy="23.28" rx="1.42" ry="1.99" fill="#8a8a8a" opacity="0.2"/><ellipse cx="0.05" cy="23.40" rx="0.66" ry="0.96" fill="#8a8a8a" opacity="0.2"/><ellipse cx="-2.22" cy="19.30" rx="1.42" ry="1.72" fill="#8a8a8a" opacity="0.2"/><ellipse cx="-0.21" cy="14.64" rx="0.63" ry="0.53" fill="#8a8a8a" opacity="0.2"/><ellipse cx="2.26" cy="16.81" rx="1.47" ry="1.53" fill="#8a8a8a" opacity="0.2"/></g>
<g transform="translate(352.10 191.20) rotate(7 0 15) scale(1.14 1)"><path d="M0.40,1.60 L1.50,2.40 L2.30,4.10 L2.20,5.70 L3.20,7.40 L3.90,10.00 L4.30,14.00 L4.30,18.00 L4.00,21.50 L3.50,24.00 L2.80,25.50 L3.20,27.00 L2.30,27.70 L1.20,26.40 L0.30,27.00 L-0.30,27.00 L-1.40,26.40 L-3.00,26.80 L-5.00,27.80 L-5.30,26.90 L-3.80,25.20 L-4.10,22.00 L-4.30,18.00 L-4.10,14.00 L-3.70,10.00 L-3.00,7.40 L-2.00,5.70 L-2.20,4.10 L-1.40,2.40 Z" fill="url(#mg)"/><path d="M-0.2,27 q-0.6,1.5 -0.3,2.8" stroke="#9a9a9a" stroke-width="0.7" fill="none"/><path d="M-1.8,10 q1.2,5 -0.2,11 M1.8,12 q0.8,3 -0.4,7 M-0.5,5 l1,0" stroke="#a8a8a8" stroke-width="0.9" fill="none" opacity="0.6"/><ellipse cx="1.88" cy="16.18" rx="0.74" ry="0.86" fill="#8a8a8a" opacity="0.2"/><ellipse cx="-1.56" cy="16.68" rx="0.83" ry="0.96" fill="#8a8a8a" opacity="0.2"/><ellipse cx="-2.22" cy="13.28" rx="1.19" ry="1.88" fill="#8a8a8a" opacity="0.2"/><ellipse cx="0.24" cy="11.49" rx="0.81" ry="0.69" fill="#8a8a8a" opacity="0.2"/><ellipse cx="-2.20" cy="10.14" rx="1.32" ry="1.14" fill="#8a8a8a" opacity="0.2"/><ellipse cx="-2.17" cy="20.77" rx="1.25" ry="2.22" fill="#8a8a8a" opacity="0.2"/></g>
<g transform="translate(363.10 191.20) rotate(7 0 15) scale(1.14 1)"><path d="M0.40,1.60 L1.50,2.40 L2.30,4.10 L2.20,5.70 L3.20,7.40 L3.90,10.00 L4.30,14.00 L4.30,18.00 L4.00,21.50 L3.50,24.00 L2.80,25.50 L3.20,27.00 L2.30,27.70 L1.20,26.40 L0.30,27.00 L-0.30,27.00 L-1.40,26.40 L-3.00,26.80 L-5.00,27.80 L-5.30,26.90 L-3.80,25.20 L-4.10,22.00 L-4.30,18.00 L-4.10,14.00 L-3.70,10.00 L-3.00,7.40 L-2.00,5.70 L-2.20,4.10 L-1.40,2.40 Z" fill="url(#mg)"/><path d="M-0.2,27 q-0.6,1.5 -0.3,2.8" stroke="#9a9a9a" stroke-width="0.7" fill="none"/><path d="M-1.8,10 q1.2,5 -0.2,11 M1.8,12 q0.8,3 -0.4,7 M-0.5,5 l1,0" stroke="#a8a8a8" stroke-width="0.9" fill="none" opacity="0.6"/><ellipse cx="-1.11" cy="7.56" rx="1.38" ry="1.86" fill="#8a8a8a" opacity="0.2"/><ellipse cx="-0.01" cy="9.03" rx="0.66" ry="0.61" fill="#8a8a8a" opacity="0.2"/><ellipse cx="2.53" cy="6.30" rx="1.08" ry="1.42" fill="#8a8a8a" opacity="0.2"/><ellipse cx="-0.18" cy="8.24" rx="1.10" ry="1.39" fill="#8a8a8a" opacity="0.2"/><ellipse cx="1.34" cy="23.18" rx="1.27" ry="1.05" fill="#8a8a8a" opacity="0.2"/><ellipse cx="0.00" cy="13.84" rx="0.92" ry="1.29" fill="#8a8a8a" opacity="0.2"/></g>
<g transform="translate(374.10 191.20) rotate(7 0 15) scale(1.14 1)"><path d="M0.40,1.60 L1.50,2.40 L2.30,4.10 L2.20,5.70 L3.20,7.40 L3.90,10.00 L4.30,14.00 L4.30,18.00 L4.00,21.50 L3.50,24.00 L2.80,25.50 L3.20,27.00 L2.30,27.70 L1.20,26.40 L0.30,27.00 L-0.30,27.00 L-1.40,26.40 L-3.00,26.80 L-5.00,27.80 L-5.30,26.90 L-3.80,25.20 L-4.10,22.00 L-4.30,18.00 L-4.10,14.00 L-3.70,10.00 L-3.00,7.40 L-2.00,5.70 L-2.20,4.10 L-1.40,2.40 Z" fill="url(#mg)"/><path d="M-0.2,27 q-0.6,1.5 -0.3,2.8" stroke="#9a9a9a" stroke-width="0.7" fill="none"/><path d="M-1.8,10 q1.2,5 -0.2,11 M1.8,12 q0.8,3 -0.4,7 M-0.5,5 l1,0" stroke="#a8a8a8" stroke-width="0.9" fill="none" opacity="0.6"/><ellipse cx="-2.57" cy="16.96" rx="0.82" ry="1.40" fill="#8a8a8a" opacity="0.2"/><ellipse cx="-0.46" cy="18.96" rx="1.33" ry="2.11" fill="#8a8a8a" opacity="0.2"/><ellipse cx="-2.20" cy="18.55" rx="0.65" ry="1.15" fill="#8a8a8a" opacity="0.2"/><ellipse cx="2.39" cy="15.47" rx="0.77" ry="0.91" fill="#8a8a8a" opacity="0.2"/><ellipse cx="1.35" cy="8.89" rx="0.68" ry="0.95" fill="#8a8a8a" opacity="0.2"/><ellipse cx="1.16" cy="23.93" rx="1.48" ry="1.84" fill="#8a8a8a" opacity="0.2"/></g>
<g transform="translate(385.10 191.20) rotate(7 0 15) scale(1.14 1)"><path d="M0.40,1.60 L1.50,2.40 L2.30,4.10 L2.20,5.70 L3.20,7.40 L3.90,10.00 L4.30,14.00 L4.30,18.00 L4.00,21.50 L3.50,24.00 L2.80,25.50 L3.20,27.00 L2.30,27.70 L1.20,26.40 L0.30,27.00 L-0.30,27.00 L-1.40,26.40 L-3.00,26.80 L-5.00,27.80 L-5.30,26.90 L-3.80,25.20 L-4.10,22.00 L-4.30,18.00 L-4.10,14.00 L-3.70,10.00 L-3.00,7.40 L-2.00,5.70 L-2.20,4.10 L-1.40,2.40 Z" fill="url(#mg)"/><path d="M-0.2,27 q-0.6,1.5 -0.3,2.8" stroke="#9a9a9a" stroke-width="0.7" fill="none"/><path d="M-1.8,10 q1.2,5 -0.2,11 M1.8,12 q0.8,3 -0.4,7 M-0.5,5 l1,0" stroke="#a8a8a8" stroke-width="0.9" fill="none" opacity="0.6"/><ellipse cx="-1.43" cy="5.33" rx="1.19" ry="1.12" fill="#8a8a8a" opacity="0.2"/><ellipse cx="2.01" cy="21.04" rx="0.75" ry="0.82" fill="#8a8a8a" opacity="0.2"/><ellipse cx="-2.18" cy="19.27" rx="1.07" ry="1.21" fill="#8a8a8a" opacity="0.2"/><ellipse cx="1.16" cy="15.84" rx="0.80" ry="1.29" fill="#8a8a8a" opacity="0.2"/><ellipse cx="-1.53" cy="5.73" rx="1.04" ry="0.98" fill="#8a8a8a" opacity="0.2"/><ellipse cx="-0.69" cy="11.09" rx="0.90" ry="1.18" fill="#8a8a8a" opacity="0.2"/></g>
<ellipse cx="340.90" cy="206.90" rx="1.71" ry="1.88" fill="#5236b8"/>
<ellipse cx="351.90" cy="207.90" rx="2.17" ry="2.39" fill="#5236b8"/>
<ellipse cx="362.90" cy="202.90" rx="1.55" ry="1.71" fill="#5236b8"/>
<ellipse cx="362.90" cy="209.90" rx="2.02" ry="2.22" fill="#5236b8"/>
<ellipse cx="373.90" cy="205.90" rx="1.55" ry="1.71" fill="#5236b8"/>
<ellipse cx="384.90" cy="210.90" rx="2.48" ry="2.73" fill="#5236b8"/>
</g></g>
<clipPath id="cp02"><rect x="40.80" y="228.60" width="56.3" height="29.6"/></clipPath>
<g clip-path="url(#cp02)"><g filter="url(#soft)">
<rect x="39.80" y="227.60" width="58.30" height="31.60" fill="#131313" />
<ellipse cx="47.70" cy="236.60" rx="3.80" ry="5.60" fill="#4026a8"/>
<ellipse cx="47.40" cy="244.10" rx="4.90" ry="7.20" fill="#4026a8"/>
<ellipse cx="47.10" cy="251.10" rx="4.70" ry="5.20" fill="#4026a8"/>
<ellipse cx="59.20" cy="236.10" rx="3.50" ry="5.00" fill="#4026a8"/>
<ellipse cx="58.80" cy="243.60" rx="4.70" ry="7.20" fill="#4026a8"/>
<ellipse cx="57.80" cy="250.60" rx="5.00" ry="5.80" fill="#4026a8"/>
<ellipse cx="70.20" cy="236.10" rx="3.50" ry="5.00" fill="#4026a8"/>
<ellipse cx="69.80" cy="243.60" rx="4.80" ry="7.20" fill="#4026a8"/>
<ellipse cx="69.00" cy="250.60" rx="5.00" ry="5.80" fill="#4026a8"/>
<ellipse cx="81.00" cy="236.60" rx="3.50" ry="5.40" fill="#4026a8"/>
<ellipse cx="80.70" cy="243.60" rx="4.60" ry="6.80" fill="#4026a8"/>
<ellipse cx="79.90" cy="250.10" rx="4.60" ry="5.20" fill="#4026a8"/>
<ellipse cx="91.70" cy="244.10" rx="5.60" ry="13.80" fill="#4026a8"/>
<ellipse cx="47.70" cy="236.60" rx="3.00" ry="4.80" fill="#2a44d8"/>
<ellipse cx="47.40" cy="244.10" rx="4.10" ry="6.40" fill="#2a44d8"/>
<ellipse cx="47.10" cy="251.10" rx="3.90" ry="4.40" fill="#2a44d8"/>
<ellipse cx="59.20" cy="236.10" rx="2.70" ry="4.20" fill="#2a44d8"/>
<ellipse cx="58.80" cy="243.60" rx="3.90" ry="6.40" fill="#2a44d8"/>
<ellipse cx="57.80" cy="250.60" rx="4.20" ry="5.00" fill="#2a44d8"/>
<ellipse cx="70.20" cy="236.10" rx="2.70" ry="4.20" fill="#2a44d8"/>
<ellipse cx="69.80" cy="243.60" rx="4.00" ry="6.40" fill="#2a44d8"/>
<ellipse cx="69.00" cy="250.60" rx="4.20" ry="5.00" fill="#2a44d8"/>
<ellipse cx="81.00" cy="236.60" rx="2.70" ry="4.60" fill="#2a44d8"/>
<ellipse cx="80.70" cy="243.60" rx="3.80" ry="6.00" fill="#2a44d8"/>
<ellipse cx="79.90" cy="250.10" rx="3.80" ry="4.40" fill="#2a44d8"/>
<ellipse cx="91.70" cy="244.10" rx="4.80" ry="13.00" fill="#2a44d8"/>
<ellipse cx="47.70" cy="236.60" rx="2.50" ry="4.30" fill="#22b4dc"/>
<ellipse cx="47.40" cy="244.10" rx="3.60" ry="5.90" fill="#22b4dc"/>
<ellipse cx="47.10" cy="251.10" rx="3.40" ry="3.90" fill="#22b4dc"/>
<ellipse cx="59.20" cy="236.10" rx="2.20" ry="3.70" fill="#22b4dc"/>
<ellipse cx="58.80" cy="243.60" rx="3.40" ry="5.90" fill="#22b4dc"/>
<ellipse cx="57.80" cy="250.60" rx="3.70" ry="4.50" fill="#22b4dc"/>
<ellipse cx="70.20" cy="236.10" rx="2.20" ry="3.70" fill="#22b4dc"/>
<ellipse cx="69.80" cy="243.60" rx="3.50" ry="5.90" fill="#22b4dc"/>
<ellipse cx="69.00" cy="250.60" rx="3.70" ry="4.50" fill="#22b4dc"/>
<ellipse cx="81.00" cy="236.60" rx="2.20" ry="4.10" fill="#22b4dc"/>
<ellipse cx="80.70" cy="243.60" rx="3.30" ry="5.50" fill="#22b4dc"/>
<ellipse cx="79.90" cy="250.10" rx="3.30" ry="3.90" fill="#22b4dc"/>
<ellipse cx="91.70" cy="244.10" rx="4.30" ry="12.50" fill="#22b4dc"/>
<ellipse cx="47.70" cy="236.60" rx="2.15" ry="3.95" fill="#38c23a"/>
<ellipse cx="47.40" cy="244.10" rx="3.25" ry="5.55" fill="#38c23a"/>
<ellipse cx="47.10" cy="251.10" rx="3.05" ry="3.55" fill="#38c23a"/>
<ellipse cx="59.20" cy="236.10" rx="1.85" ry="3.35" fill="#38c23a"/>
<ellipse cx="58.80" cy="243.60" rx="3.05" ry="5.55" fill="#38c23a"/>
<ellipse cx="57.80" cy="250.60" rx="3.35" ry="4.15" fill="#38c23a"/>
<ellipse cx="70.20" cy="236.10" rx="1.85" ry="3.35" fill="#38c23a"/>
<ellipse cx="69.80" cy="243.60" rx="3.15" ry="5.55" fill="#38c23a"/>
<ellipse cx="69.00" cy="250.60" rx="3.35" ry="4.15" fill="#38c23a"/>
<ellipse cx="81.00" cy="236.60" rx="1.85" ry="3.75" fill="#38c23a"/>
<ellipse cx="80.70" cy="243.60" rx="2.95" ry="5.15" fill="#38c23a"/>
<ellipse cx="79.90" cy="250.10" rx="2.95" ry="3.55" fill="#38c23a"/>
<ellipse cx="91.70" cy="244.10" rx="3.95" ry="12.15" fill="#38c23a"/>
<ellipse cx="47.70" cy="236.60" rx="1.90" ry="3.70" fill="#e4e030"/>
<ellipse cx="47.40" cy="244.10" rx="3.00" ry="5.30" fill="#e4e030"/>
<ellipse cx="47.10" cy="251.10" rx="2.80" ry="3.30" fill="#e4e030"/>
<ellipse cx="59.20" cy="236.10" rx="1.60" ry="3.10" fill="#e4e030"/>
<ellipse cx="58.80" cy="243.60" rx="2.80" ry="5.30" fill="#e4e030"/>
<ellipse cx="57.80" cy="250.60" rx="3.10" ry="3.90" fill="#e4e030"/>
<ellipse cx="70.20" cy="236.10" rx="1.60" ry="3.10" fill="#e4e030"/>
<ellipse cx="69.80" cy="243.60" rx="2.90" ry="5.30" fill="#e4e030"/>
<ellipse cx="69.00" cy="250.60" rx="3.10" ry="3.90" fill="#e4e030"/>
<ellipse cx="81.00" cy="236.60" rx="1.60" ry="3.50" fill="#e4e030"/>
<ellipse cx="80.70" cy="243.60" rx="2.70" ry="4.90" fill="#e4e030"/>
<ellipse cx="79.90" cy="250.10" rx="2.70" ry="3.30" fill="#e4e030"/>
<ellipse cx="91.70" cy="244.10" rx="3.70" ry="11.90" fill="#e4e030"/>
<ellipse cx="47.70" cy="236.60" rx="1.70" ry="3.50" fill="#e2501a"/>
<ellipse cx="47.40" cy="244.10" rx="2.80" ry="5.10" fill="#e2501a"/>
<ellipse cx="47.10" cy="251.10" rx="2.60" ry="3.10" fill="#e2501a"/>
<ellipse cx="59.20" cy="236.10" rx="1.40" ry="2.90" fill="#e2501a"/>
<ellipse cx="58.80" cy="243.60" rx="2.60" ry="5.10" fill="#e2501a"/>
<ellipse cx="57.80" cy="250.60" rx="2.90" ry="3.70" fill="#e2501a"/>
<ellipse cx="70.20" cy="236.10" rx="1.40" ry="2.90" fill="#e2501a"/>
<ellipse cx="69.80" cy="243.60" rx="2.70" ry="5.10" fill="#e2501a"/>
<ellipse cx="69.00" cy="250.60" rx="2.90" ry="3.70" fill="#e2501a"/>
<ellipse cx="81.00" cy="236.60" rx="1.40" ry="3.30" fill="#e2501a"/>
<ellipse cx="80.70" cy="243.60" rx="2.50" ry="4.70" fill="#e2501a"/>
<ellipse cx="79.90" cy="250.10" rx="2.50" ry="3.10" fill="#e2501a"/>
<ellipse cx="91.70" cy="244.10" rx="3.50" ry="11.70" fill="#e2501a"/>
<ellipse cx="47.39" cy="234.73" rx="1.21" ry="1.33" fill="#38c23a"/>
<ellipse cx="48.48" cy="238.74" rx="0.96" ry="1.06" fill="#e4e030"/>
<ellipse cx="46.38" cy="238.01" rx="0.77" ry="0.85" fill="#38c23a"/>
<ellipse cx="46.54" cy="233.39" rx="0.98" ry="1.08" fill="#38c23a"/>
<ellipse cx="45.66" cy="240.38" rx="0.96" ry="1.06" fill="#e4e030"/>
<ellipse cx="49.60" cy="236.03" rx="0.77" ry="0.85" fill="#22b4dc"/>
<ellipse cx="48.48" cy="239.20" rx="1.34" ry="1.47" fill="#22b4dc"/>
<ellipse cx="44.63" cy="235.30" rx="1.34" ry="1.47" fill="#22b4dc"/>
<ellipse cx="48.52" cy="233.45" rx="1.43" ry="1.57" fill="#2a44d8"/>
<ellipse cx="49.67" cy="237.25" rx="0.80" ry="0.88" fill="#e4e030"/>
<ellipse cx="56.96" cy="239.63" rx="0.83" ry="0.91" fill="#38c23a"/>
<ellipse cx="60.26" cy="236.18" rx="1.39" ry="1.53" fill="#e4e030"/>
<ellipse cx="61.02" cy="242.84" rx="1.14" ry="1.25" fill="#2a44d8"/>
<ellipse cx="58.88" cy="237.64" rx="1.50" ry="1.65" fill="#22b4dc"/>
<ellipse cx="59.50" cy="232.71" rx="0.79" ry="0.87" fill="#e4e030"/>
<ellipse cx="57.05" cy="239.29" rx="1.35" ry="1.49" fill="#38c23a"/>
<ellipse cx="57.54" cy="236.80" rx="1.06" ry="1.17" fill="#38c23a"/>
<ellipse cx="59.88" cy="233.01" rx="1.47" ry="1.61" fill="#38c23a"/>
<ellipse cx="58.23" cy="245.29" rx="1.49" ry="1.64" fill="#e4e030"/>
<ellipse cx="56.20" cy="240.29" rx="1.46" ry="1.60" fill="#22b4dc"/>
<ellipse cx="72.08" cy="233.36" rx="1.28" ry="1.41" fill="#22b4dc"/>
<ellipse cx="71.39" cy="237.79" rx="0.73" ry="0.80" fill="#38c23a"/>
<ellipse cx="67.49" cy="246.53" rx="1.03" ry="1.13" fill="#38c23a"/>
<ellipse cx="72.01" cy="238.75" rx="0.70" ry="0.77" fill="#e4e030"/>
<ellipse cx="68.77" cy="232.76" rx="0.76" ry="0.83" fill="#38c23a"/>
<ellipse cx="69.30" cy="241.35" rx="1.09" ry="1.20" fill="#22b4dc"/>
<ellipse cx="68.93" cy="244.60" rx="1.42" ry="1.56" fill="#22b4dc"/>
<ellipse cx="71.91" cy="240.66" rx="1.24" ry="1.36" fill="#2a44d8"/>
<ellipse cx="69.64" cy="234.59" rx="1.12" ry="1.23" fill="#e4e030"/>
<ellipse cx="70.54" cy="236.52" rx="0.96" ry="1.05" fill="#22b4dc"/>
<ellipse cx="81.06" cy="245.06" rx="1.07" ry="1.17" fill="#22b4dc"/>
<ellipse cx="82.85" cy="239.89" rx="1.29" ry="1.42" fill="#22b4dc"/>
<ellipse cx="82.41" cy="233.12" rx="0.84" ry="0.92" fill="#2a44d8"/>
<ellipse cx="81.78" cy="236.25" rx="1.29" ry="1.42" fill="#38c23a"/>
<ellipse cx="77.86" cy="235.81" rx="0.86" ry="0.94" fill="#38c23a"/>
<ellipse cx="78.37" cy="239.71" rx="1.22" ry="1.34" fill="#2a44d8"/>
<ellipse cx="80.46" cy="238.25" rx="1.45" ry="1.60" fill="#2a44d8"/>
<ellipse cx="79.16" cy="233.87" rx="1.24" ry="1.37" fill="#22b4dc"/>
<ellipse cx="79.77" cy="246.45" rx="1.23" ry="1.35" fill="#38c23a"/>
<ellipse cx="81.85" cy="238.86" rx="1.36" ry="1.50" fill="#38c23a"/>
</g></g>
<clipPath id="cp12"><rect x="99.70" y="228.60" width="56.3" height="29.6"/></clipPath>
<g clip-path="url(#cp12)"><g filter="url(#soft)">
<rect x="98.70" y="227.60" width="58.30" height="31.60" fill="#131313" />
<g transform="translate(106.30 228.90) rotate(7 0 15) scale(1.14 1)"><path d="M0.40,1.60 L1.50,2.40 L2.30,4.10 L2.20,5.70 L3.20,7.40 L3.90,10.00 L4.30,14.00 L4.30,18.00 L4.00,21.50 L3.50,24.00 L2.80,25.50 L3.20,27.00 L2.30,27.70 L1.20,26.40 L0.30,27.00 L-0.30,27.00 L-1.40,26.40 L-3.00,26.80 L-5.00,27.80 L-5.30,26.90 L-3.80,25.20 L-4.10,22.00 L-4.30,18.00 L-4.10,14.00 L-3.70,10.00 L-3.00,7.40 L-2.00,5.70 L-2.20,4.10 L-1.40,2.40 Z" fill="url(#mg)"/><path d="M-0.2,27 q-0.6,1.5 -0.3,2.8" stroke="#9a9a9a" stroke-width="0.7" fill="none"/><path d="M-1.8,10 q1.2,5 -0.2,11 M1.8,12 q0.8,3 -0.4,7 M-0.5,5 l1,0" stroke="#a8a8a8" stroke-width="0.9" fill="none" opacity="0.6"/><ellipse cx="0.19" cy="11.55" rx="1.49" ry="1.71" fill="#8a8a8a" opacity="0.2"/><ellipse cx="-2.22" cy="12.99" rx="0.72" ry="0.83" fill="#8a8a8a" opacity="0.2"/><ellipse cx="2.34" cy="14.93" rx="1.08" ry="1.85" fill="#8a8a8a" opacity="0.2"/><ellipse cx="-1.05" cy="14.20" rx="1.16" ry="1.95" fill="#8a8a8a" opacity="0.2"/><ellipse cx="-2.40" cy="6.79" rx="1.19" ry="1.49" fill="#8a8a8a" opacity="0.2"/><ellipse cx="-2.51" cy="15.37" rx="1.45" ry="2.50" fill="#8a8a8a" opacity="0.2"/></g>
<g transform="translate(117.30 228.90) rotate(7 0 15) scale(1.14 1)"><path d="M0.40,1.60 L1.50,2.40 L2.30,4.10 L2.20,5.70 L3.20,7.40 L3.90,10.00 L4.30,14.00 L4.30,18.00 L4.00,21.50 L3.50,24.00 L2.80,25.50 L3.20,27.00 L2.30,27.70 L1.20,26.40 L0.30,27.00 L-0.30,27.00 L-1.40,26.40 L-3.00,26.80 L-5.00,27.80 L-5.30,26.90 L-3.80,25.20 L-4.10,22.00 L-4.30,18.00 L-4.10,14.00 L-3.70,10.00 L-3.00,7.40 L-2.00,5.70 L-2.20,4.10 L-1.40,2.40 Z" fill="url(#mg)"/><path d="M-0.2,27 q-0.6,1.5 -0.3,2.8" stroke="#9a9a9a" stroke-width="0.7" fill="none"/><path d="M-1.8,10 q1.2,5 -0.2,11 M1.8,12 q0.8,3 -0.4,7 M-0.5,5 l1,0" stroke="#a8a8a8" stroke-width="0.9" fill="none" opacity="0.6"/><ellipse cx="-2.15" cy="12.06" rx="1.24" ry="2.02" fill="#8a8a8a" opacity="0.2"/><ellipse cx="-2.58" cy="14.18" rx="0.66" ry="1.08" fill="#8a8a8a" opacity="0.2"/><ellipse cx="-2.16" cy="6.32" rx="0.92" ry="1.07" fill="#8a8a8a" opacity="0.2"/><ellipse cx="2.00" cy="15.46" rx="0.91" ry="1.35" fill="#8a8a8a" opacity="0.2"/><ellipse cx="1.60" cy="7.16" rx="0.61" ry="0.53" fill="#8a8a8a" opacity="0.2"/><ellipse cx="1.65" cy="12.26" rx="0.76" ry="1.20" fill="#8a8a8a" opacity="0.2"/></g>
<g transform="translate(128.30 228.90) rotate(7 0 15) scale(1.14 1)"><path d="M0.40,1.60 L1.50,2.40 L2.30,4.10 L2.20,5.70 L3.20,7.40 L3.90,10.00 L4.30,14.00 L4.30,18.00 L4.00,21.50 L3.50,24.00 L2.80,25.50 L3.20,27.00 L2.30,27.70 L1.20,26.40 L0.30,27.00 L-0.30,27.00 L-1.40,26.40 L-3.00,26.80 L-5.00,27.80 L-5.30,26.90 L-3.80,25.20 L-4.10,22.00 L-4.30,18.00 L-4.10,14.00 L-3.70,10.00 L-3.00,7.40 L-2.00,5.70 L-2.20,4.10 L-1.40,2.40 Z" fill="url(#mg)"/><path d="M-0.2,27 q-0.6,1.5 -0.3,2.8" stroke="#9a9a9a" stroke-width="0.7" fill="none"/><path d="M-1.8,10 q1.2,5 -0.2,11 M1.8,12 q0.8,3 -0.4,7 M-0.5,5 l1,0" stroke="#a8a8a8" stroke-width="0.9" fill="none" opacity="0.6"/><ellipse cx="-1.69" cy="24.68" rx="1.09" ry="1.81" fill="#8a8a8a" opacity="0.2"/><ellipse cx="1.41" cy="21.37" rx="1.11" ry="1.84" fill="#8a8a8a" opacity="0.2"/><ellipse cx="-1.48" cy="12.36" rx="0.89" ry="1.59" fill="#8a8a8a" opacity="0.2"/><ellipse cx="1.37" cy="11.88" rx="1.10" ry="1.68" fill="#8a8a8a" opacity="0.2"/><ellipse cx="1.21" cy="22.52" rx="1.35" ry="2.34" fill="#8a8a8a" opacity="0.2"/><ellipse cx="-0.02" cy="14.94" rx="1.22" ry="1.85" fill="#8a8a8a" opacity="0.2"/></g>
<g transform="translate(139.30 228.90) rotate(7 0 15) scale(1.14 1)"><path d="M0.40,1.60 L1.50,2.40 L2.30,4.10 L2.20,5.70 L3.20,7.40 L3.90,10.00 L4.30,14.00 L4.30,18.00 L4.00,21.50 L3.50,24.00 L2.80,25.50 L3.20,27.00 L2.30,27.70 L1.20,26.40 L0.30,27.00 L-0.30,27.00 L-1.40,26.40 L-3.00,26.80 L-5.00,27.80 L-5.30,26.90 L-3.80,25.20 L-4.10,22.00 L-4.30,18.00 L-4.10,14.00 L-3.70,10.00 L-3.00,7.40 L-2.00,5.70 L-2.20,4.10 L-1.40,2.40 Z" fill="url(#mg)"/><path d="M-0.2,27 q-0.6,1.5 -0.3,2.8" stroke="#9a9a9a" stroke-width="0.7" fill="none"/><path d="M-1.8,10 q1.2,5 -0.2,11 M1.8,12 q0.8,3 -0.4,7 M-0.5,5 l1,0" stroke="#a8a8a8" stroke-width="0.9" fill="none" opacity="0.6"/><ellipse cx="-1.41" cy="6.13" rx="1.10" ry="1.42" fill="#8a8a8a" opacity="0.2"/><ellipse cx="-2.05" cy="6.29" rx="1.49" ry="2.34" fill="#8a8a8a" opacity="0.2"/><ellipse cx="-0.22" cy="8.30" rx="0.95" ry="1.44" fill="#8a8a8a" opacity="0.2"/><ellipse cx="-1.63" cy="19.81" rx="0.86" ry="1.52" fill="#8a8a8a" opacity="0.2"/><ellipse cx="1.26" cy="11.81" rx="1.14" ry="1.60" fill="#8a8a8a" opacity="0.2"/><ellipse cx="2.07" cy="13.59" rx="0.94" ry="0.83" fill="#8a8a8a" opacity="0.2"/></g>
<g transform="translate(150.30 228.90) rotate(7 0 15) scale(1.14 1)"><path d="M0.40,1.60 L1.50,2.40 L2.30,4.10 L2.20,5.70 L3.20,7.40 L3.90,10.00 L4.30,14.00 L4.30,18.00 L4.00,21.50 L3.50,24.00 L2.80,25.50 L3.20,27.00 L2.30,27.70 L1.20,26.40 L0.30,27.00 L-0.30,27.00 L-1.40,26.40 L-3.00,26.80 L-5.00,27.80 L-5.30,26.90 L-3.80,25.20 L-4.10,22.00 L-4.30,18.00 L-4.10,14.00 L-3.70,10.00 L-3.00,7.40 L-2.00,5.70 L-2.20,4.10 L-1.40,2.40 Z" fill="url(#mg)"/><path d="M-0.2,27 q-0.6,1.5 -0.3,2.8" stroke="#9a9a9a" stroke-width="0.7" fill="none"/><path d="M-1.8,10 q1.2,5 -0.2,11 M1.8,12 q0.8,3 -0.4,7 M-0.5,5 l1,0" stroke="#a8a8a8" stroke-width="0.9" fill="none" opacity="0.6"/><ellipse cx="2.20" cy="7.46" rx="1.35" ry="1.58" fill="#8a8a8a" opacity="0.2"/><ellipse cx="-1.69" cy="6.28" rx="1.45" ry="2.01" fill="#8a8a8a" opacity="0.2"/><ellipse cx="1.77" cy="14.42" rx="0.77" ry="1.14" fill="#8a8a8a" opacity="0.2"/><ellipse cx="-2.08" cy="20.14" rx="0.81" ry="0.88" fill="#8a8a8a" opacity="0.2"/><ellipse cx="1.60" cy="20.49" rx="0.84" ry="0.72" fill="#8a8a8a" opacity="0.2"/><ellipse cx="-2.29" cy="21.15" rx="1.13" ry="2.00" fill="#8a8a8a" opacity="0.2"/></g>
<ellipse cx="106.30" cy="243.60" rx="3.50" ry="10.00" fill="#4026a8"/>
<ellipse cx="106.60" cy="243.10" rx="1.75" ry="6.20" fill="#e4e4ec"/>
<ellipse cx="106.89" cy="240.80" rx="0.60" ry="0.66" fill="#2a44d8"/>
<ellipse cx="106.47" cy="250.75" rx="0.94" ry="1.04" fill="#2a44d8"/>
<ellipse cx="104.27" cy="242.30" rx="0.82" ry="0.90" fill="#2a44d8"/>
<ellipse cx="107.09" cy="250.19" rx="1.14" ry="1.25" fill="#2a44d8"/>
<ellipse cx="107.44" cy="239.94" rx="1.13" ry="1.25" fill="#2a44d8"/>
<ellipse cx="108.48" cy="249.04" rx="0.92" ry="1.01" fill="#d4d4ee"/>
<ellipse cx="105.25" cy="240.99" rx="0.81" ry="0.89" fill="#e6e6e6"/>
<ellipse cx="108.61" cy="243.40" rx="1.15" ry="1.27" fill="#e6e6e6"/>
<ellipse cx="106.22" cy="238.85" rx="1.21" ry="1.33" fill="#f2f2f2"/>
<ellipse cx="105.54" cy="235.20" rx="1.16" ry="1.28" fill="#f2f2f2"/>
<ellipse cx="106.95" cy="243.44" rx="0.72" ry="0.79" fill="#d4d4ee"/>
<ellipse cx="105.90" cy="247.57" rx="1.03" ry="1.14" fill="#f2f2f2"/>
<ellipse cx="106.90" cy="237.21" rx="1.12" ry="1.23" fill="#f2f2f2"/>
<ellipse cx="107.96" cy="241.27" rx="1.15" ry="1.27" fill="#f2f2f2"/>
<ellipse cx="108.74" cy="238.00" rx="0.75" ry="0.82" fill="#d4d4ee"/>
<ellipse cx="105.30" cy="249.60" rx="2.30" ry="2.50" fill="#4026a8"/>
<ellipse cx="107.80" cy="240.60" rx="1.50" ry="1.50" fill="#4026a8"/>
<ellipse cx="105.30" cy="249.60" rx="1.90" ry="2.10" fill="#2a44d8"/>
<ellipse cx="107.80" cy="240.60" rx="1.10" ry="1.10" fill="#2a44d8"/>
<ellipse cx="105.30" cy="249.60" rx="1.60" ry="1.80" fill="#22b4dc"/>
<ellipse cx="107.80" cy="240.60" rx="0.80" ry="0.80" fill="#22b4dc"/>
<ellipse cx="105.30" cy="249.60" rx="1.40" ry="1.60" fill="#38c23a"/>
<ellipse cx="107.80" cy="240.60" rx="0.60" ry="0.60" fill="#38c23a"/>
<ellipse cx="105.30" cy="249.60" rx="1.25" ry="1.45" fill="#e4e030"/>
<ellipse cx="107.80" cy="240.60" rx="0.45" ry="0.45" fill="#e4e030"/>
<ellipse cx="105.30" cy="249.60" rx="1.10" ry="1.30" fill="#e2501a"/>
<ellipse cx="117.30" cy="243.60" rx="3.50" ry="11.00" fill="#4026a8"/>
<ellipse cx="117.60" cy="243.10" rx="1.75" ry="6.82" fill="#e4e4ec"/>
<ellipse cx="116.69" cy="249.59" rx="0.90" ry="0.99" fill="#2a44d8"/>
<ellipse cx="118.21" cy="252.59" rx="0.97" ry="1.07" fill="#2a44d8"/>
<ellipse cx="120.13" cy="238.46" rx="1.18" ry="1.29" fill="#2a44d8"/>
<ellipse cx="119.18" cy="253.46" rx="1.03" ry="1.13" fill="#2a44d8"/>
<ellipse cx="114.51" cy="246.92" rx="1.05" ry="1.15" fill="#2a44d8"/>
<ellipse cx="119.30" cy="245.11" rx="0.86" ry="0.94" fill="#f2f2f2"/>
<ellipse cx="116.29" cy="248.13" rx="1.10" ry="1.20" fill="#f2f2f2"/>
<ellipse cx="115.73" cy="242.96" rx="0.78" ry="0.86" fill="#d4d4ee"/>
<ellipse cx="115.99" cy="246.27" rx="1.25" ry="1.37" fill="#f2f2f2"/>
<ellipse cx="119.81" cy="248.82" rx="0.88" ry="0.96" fill="#d4d4ee"/>
<ellipse cx="117.20" cy="235.38" rx="0.63" ry="0.69" fill="#f2f2f2"/>
<ellipse cx="118.32" cy="236.04" rx="1.09" ry="1.20" fill="#e6e6e6"/>
<ellipse cx="115.41" cy="242.32" rx="1.36" ry="1.49" fill="#e6e6e6"/>
<ellipse cx="117.30" cy="236.60" rx="1.80" ry="1.80" fill="#4026a8"/>
<ellipse cx="116.30" cy="247.60" rx="2.60" ry="3.00" fill="#4026a8"/>
<ellipse cx="118.80" cy="252.10" rx="1.50" ry="1.50" fill="#4026a8"/>
<ellipse cx="117.30" cy="236.60" rx="1.40" ry="1.40" fill="#2a44d8"/>
<ellipse cx="116.30" cy="247.60" rx="2.20" ry="2.60" fill="#2a44d8"/>
<ellipse cx="118.80" cy="252.10" rx="1.10" ry="1.10" fill="#2a44d8"/>
<ellipse cx="117.30" cy="236.60" rx="1.10" ry="1.10" fill="#22b4dc"/>
<ellipse cx="116.30" cy="247.60" rx="1.90" ry="2.30" fill="#22b4dc"/>
<ellipse cx="118.80" cy="252.10" rx="0.80" ry="0.80" fill="#22b4dc"/>
<ellipse cx="117.30" cy="236.60" rx="0.90" ry="0.90" fill="#38c23a"/>
<ellipse cx="116.30" cy="247.60" rx="1.70" ry="2.10" fill="#38c23a"/>
<ellipse cx="118.80" cy="252.10" rx="0.60" ry="0.60" fill="#38c23a"/>
<ellipse cx="117.30" cy="236.60" rx="0.75" ry="0.75" fill="#e4e030"/>
<ellipse cx="116.30" cy="247.60" rx="1.55" ry="1.95" fill="#e4e030"/>
<ellipse cx="118.80" cy="252.10" rx="0.45" ry="0.45" fill="#e4e030"/>
<ellipse cx="117.30" cy="236.60" rx="0.60" ry="0.60" fill="#e2501a"/>
<ellipse cx="116.30" cy="247.60" rx="1.40" ry="1.80" fill="#e2501a"/>
<ellipse cx="128.30" cy="245.60" rx="1.20" ry="1.50" fill="#4026a8"/>
<ellipse cx="150.30" cy="243.60" rx="3.50" ry="9.00" fill="#4026a8"/>
<ellipse cx="150.60" cy="243.10" rx="1.75" ry="5.58" fill="#e4e4ec"/>
<ellipse cx="148.10" cy="242.43" rx="1.11" ry="1.22" fill="#2a44d8"/>
<ellipse cx="147.63" cy="248.30" rx="1.03" ry="1.14" fill="#2a44d8"/>
<ellipse cx="150.80" cy="239.28" rx="1.05" ry="1.16" fill="#2a44d8"/>
<ellipse cx="147.61" cy="239.82" rx="1.01" ry="1.11" fill="#2a44d8"/>
<ellipse cx="148.70" cy="236.99" rx="0.68" ry="0.74" fill="#d4d4ee"/>
<ellipse cx="148.35" cy="237.29" rx="1.38" ry="1.52" fill="#d4d4ee"/>
<ellipse cx="151.19" cy="242.42" rx="0.74" ry="0.81" fill="#f2f2f2"/>
<ellipse cx="149.86" cy="250.72" rx="0.73" ry="0.81" fill="#d4d4ee"/>
<ellipse cx="152.70" cy="248.37" rx="0.89" ry="0.98" fill="#f2f2f2"/>
<ellipse cx="151.56" cy="239.46" rx="1.08" ry="1.18" fill="#f2f2f2"/>
<ellipse cx="149.07" cy="244.12" rx="1.00" ry="1.10" fill="#d4d4ee"/>
<ellipse cx="152.16" cy="235.78" rx="1.39" ry="1.53" fill="#e6e6e6"/>
<ellipse cx="150.80" cy="249.60" rx="2.00" ry="2.00" fill="#4026a8"/>
<ellipse cx="150.30" cy="239.60" rx="1.20" ry="1.20" fill="#4026a8"/>
<ellipse cx="150.80" cy="249.60" rx="1.60" ry="1.60" fill="#2a44d8"/>
<ellipse cx="150.30" cy="239.60" rx="0.80" ry="0.80" fill="#2a44d8"/>
<ellipse cx="150.80" cy="249.60" rx="1.30" ry="1.30" fill="#22b4dc"/>
<ellipse cx="150.30" cy="239.60" rx="0.50" ry="0.50" fill="#22b4dc"/>
<ellipse cx="150.80" cy="249.60" rx="1.10" ry="1.10" fill="#38c23a"/>
<ellipse cx="150.80" cy="249.60" rx="0.95" ry="0.95" fill="#e4e030"/>
<ellipse cx="150.80" cy="249.60" rx="0.80" ry="0.80" fill="#e2501a"/>
</g></g>
<clipPath id="cp22"><rect x="158.30" y="228.60" width="56.3" height="29.6"/></clipPath>
<g clip-path="url(#cp22)"><g filter="url(#soft)">
<rect x="157.30" y="227.60" width="58.30" height="31.60" fill="#131313" />
<g transform="translate(164.90 228.90) rotate(7 0 15) scale(1.14 1)"><path d="M0.40,1.60 L1.50,2.40 L2.30,4.10 L2.20,5.70 L3.20,7.40 L3.90,10.00 L4.30,14.00 L4.30,18.00 L4.00,21.50 L3.50,24.00 L2.80,25.50 L3.20,27.00 L2.30,27.70 L1.20,26.40 L0.30,27.00 L-0.30,27.00 L-1.40,26.40 L-3.00,26.80 L-5.00,27.80 L-5.30,26.90 L-3.80,25.20 L-4.10,22.00 L-4.30,18.00 L-4.10,14.00 L-3.70,10.00 L-3.00,7.40 L-2.00,5.70 L-2.20,4.10 L-1.40,2.40 Z" fill="url(#mg)"/><path d="M-0.2,27 q-0.6,1.5 -0.3,2.8" stroke="#9a9a9a" stroke-width="0.7" fill="none"/><path d="M-1.8,10 q1.2,5 -0.2,11 M1.8,12 q0.8,3 -0.4,7 M-0.5,5 l1,0" stroke="#a8a8a8" stroke-width="0.9" fill="none" opacity="0.6"/><ellipse cx="2.17" cy="15.53" rx="1.01" ry="1.21" fill="#8a8a8a" opacity="0.2"/><ellipse cx="0.06" cy="15.87" rx="1.46" ry="1.98" fill="#8a8a8a" opacity="0.2"/><ellipse cx="2.33" cy="7.95" rx="0.96" ry="1.46" fill="#8a8a8a" opacity="0.2"/><ellipse cx="-0.16" cy="15.25" rx="0.97" ry="1.46" fill="#8a8a8a" opacity="0.2"/><ellipse cx="-2.47" cy="9.59" rx="1.25" ry="1.90" fill="#8a8a8a" opacity="0.2"/><ellipse cx="-2.73" cy="23.89" rx="0.93" ry="1.07" fill="#8a8a8a" opacity="0.2"/></g>
<g transform="translate(175.90 228.90) rotate(7 0 15) scale(1.14 1)"><path d="M0.40,1.60 L1.50,2.40 L2.30,4.10 L2.20,5.70 L3.20,7.40 L3.90,10.00 L4.30,14.00 L4.30,18.00 L4.00,21.50 L3.50,24.00 L2.80,25.50 L3.20,27.00 L2.30,27.70 L1.20,26.40 L0.30,27.00 L-0.30,27.00 L-1.40,26.40 L-3.00,26.80 L-5.00,27.80 L-5.30,26.90 L-3.80,25.20 L-4.10,22.00 L-4.30,18.00 L-4.10,14.00 L-3.70,10.00 L-3.00,7.40 L-2.00,5.70 L-2.20,4.10 L-1.40,2.40 Z" fill="url(#mg)"/><path d="M-0.2,27 q-0.6,1.5 -0.3,2.8" stroke="#9a9a9a" stroke-width="0.7" fill="none"/><path d="M-1.8,10 q1.2,5 -0.2,11 M1.8,12 q0.8,3 -0.4,7 M-0.5,5 l1,0" stroke="#a8a8a8" stroke-width="0.9" fill="none" opacity="0.6"/><ellipse cx="-2.72" cy="23.65" rx="0.76" ry="1.11" fill="#8a8a8a" opacity="0.2"/><ellipse cx="-1.01" cy="14.61" rx="0.72" ry="0.84" fill="#8a8a8a" opacity="0.2"/><ellipse cx="-0.21" cy="10.83" rx="1.15" ry="1.34" fill="#8a8a8a" opacity="0.2"/><ellipse cx="0.72" cy="16.61" rx="1.30" ry="1.10" fill="#8a8a8a" opacity="0.2"/><ellipse cx="0.82" cy="18.56" rx="0.67" ry="0.86" fill="#8a8a8a" opacity="0.2"/><ellipse cx="1.31" cy="21.16" rx="1.18" ry="1.52" fill="#8a8a8a" opacity="0.2"/></g>
<g transform="translate(186.90 228.90) rotate(7 0 15) scale(1.14 1)"><path d="M0.40,1.60 L1.50,2.40 L2.30,4.10 L2.20,5.70 L3.20,7.40 L3.90,10.00 L4.30,14.00 L4.30,18.00 L4.00,21.50 L3.50,24.00 L2.80,25.50 L3.20,27.00 L2.30,27.70 L1.20,26.40 L0.30,27.00 L-0.30,27.00 L-1.40,26.40 L-3.00,26.80 L-5.00,27.80 L-5.30,26.90 L-3.80,25.20 L-4.10,22.00 L-4.30,18.00 L-4.10,14.00 L-3.70,10.00 L-3.00,7.40 L-2.00,5.70 L-2.20,4.10 L-1.40,2.40 Z" fill="url(#mg)"/><path d="M-0.2,27 q-0.6,1.5 -0.3,2.8" stroke="#9a9a9a" stroke-width="0.7" fill="none"/><path d="M-1.8,10 q1.2,5 -0.2,11 M1.8,12 q0.8,3 -0.4,7 M-0.5,5 l1,0" stroke="#a8a8a8" stroke-width="0.9" fill="none" opacity="0.6"/><ellipse cx="-0.44" cy="9.14" rx="1.05" ry="1.24" fill="#8a8a8a" opacity="0.2"/><ellipse cx="1.27" cy="23.83" rx="0.79" ry="1.41" fill="#8a8a8a" opacity="0.2"/><ellipse cx="-0.42" cy="23.81" rx="0.87" ry="1.36" fill="#8a8a8a" opacity="0.2"/><ellipse cx="-2.59" cy="8.49" rx="1.49" ry="2.47" fill="#8a8a8a" opacity="0.2"/><ellipse cx="-0.74" cy="15.66" rx="0.80" ry="1.31" fill="#8a8a8a" opacity="0.2"/><ellipse cx="-0.04" cy="23.05" rx="1.04" ry="1.44" fill="#8a8a8a" opacity="0.2"/></g>
<g transform="translate(197.90 228.90) rotate(7 0 15) scale(1.14 1)"><path d="M0.40,1.60 L1.50,2.40 L2.30,4.10 L2.20,5.70 L3.20,7.40 L3.90,10.00 L4.30,14.00 L4.30,18.00 L4.00,21.50 L3.50,24.00 L2.80,25.50 L3.20,27.00 L2.30,27.70 L1.20,26.40 L0.30,27.00 L-0.30,27.00 L-1.40,26.40 L-3.00,26.80 L-5.00,27.80 L-5.30,26.90 L-3.80,25.20 L-4.10,22.00 L-4.30,18.00 L-4.10,14.00 L-3.70,10.00 L-3.00,7.40 L-2.00,5.70 L-2.20,4.10 L-1.40,2.40 Z" fill="url(#mg)"/><path d="M-0.2,27 q-0.6,1.5 -0.3,2.8" stroke="#9a9a9a" stroke-width="0.7" fill="none"/><path d="M-1.8,10 q1.2,5 -0.2,11 M1.8,12 q0.8,3 -0.4,7 M-0.5,5 l1,0" stroke="#a8a8a8" stroke-width="0.9" fill="none" opacity="0.6"/><ellipse cx="2.52" cy="19.38" rx="1.39" ry="1.94" fill="#8a8a8a" opacity="0.2"/><ellipse cx="-0.05" cy="6.28" rx="1.06" ry="1.85" fill="#8a8a8a" opacity="0.2"/><ellipse cx="-0.07" cy="13.60" rx="1.09" ry="0.93" fill="#8a8a8a" opacity="0.2"/><ellipse cx="-1.43" cy="5.80" rx="0.76" ry="0.94" fill="#8a8a8a" opacity="0.2"/><ellipse cx="-0.49" cy="17.49" rx="1.00" ry="1.15" fill="#8a8a8a" opacity="0.2"/><ellipse cx="-2.59" cy="22.55" rx="0.68" ry="0.76" fill="#8a8a8a" opacity="0.2"/></g>
<g transform="translate(208.90 228.90) rotate(7 0 15) scale(1.14 1)"><path d="M0.40,1.60 L1.50,2.40 L2.30,4.10 L2.20,5.70 L3.20,7.40 L3.90,10.00 L4.30,14.00 L4.30,18.00 L4.00,21.50 L3.50,24.00 L2.80,25.50 L3.20,27.00 L2.30,27.70 L1.20,26.40 L0.30,27.00 L-0.30,27.00 L-1.40,26.40 L-3.00,26.80 L-5.00,27.80 L-5.30,26.90 L-3.80,25.20 L-4.10,22.00 L-4.30,18.00 L-4.10,14.00 L-3.70,10.00 L-3.00,7.40 L-2.00,5.70 L-2.20,4.10 L-1.40,2.40 Z" fill="url(#mg)"/><path d="M-0.2,27 q-0.6,1.5 -0.3,2.8" stroke="#9a9a9a" stroke-width="0.7" fill="none"/><path d="M-1.8,10 q1.2,5 -0.2,11 M1.8,12 q0.8,3 -0.4,7 M-0.5,5 l1,0" stroke="#a8a8a8" stroke-width="0.9" fill="none" opacity="0.6"/><ellipse cx="-0.85" cy="6.80" rx="0.61" ry="0.70" fill="#8a8a8a" opacity="0.2"/><ellipse cx="1.97" cy="8.96" rx="0.66" ry="0.86" fill="#8a8a8a" opacity="0.2"/><ellipse cx="-1.34" cy="13.20" rx="1.45" ry="1.86" fill="#8a8a8a" opacity="0.2"/><ellipse cx="0.07" cy="15.90" rx="1.38" ry="2.15" fill="#8a8a8a" opacity="0.2"/><ellipse cx="2.31" cy="6.41" rx="0.72" ry="1.01" fill="#8a8a8a" opacity="0.2"/><ellipse cx="2.08" cy="20.78" rx="1.43" ry="1.28" fill="#8a8a8a" opacity="0.2"/></g>
</g></g>
<clipPath id="cp32"><rect x="217.10" y="228.60" width="56.3" height="29.6"/></clipPath>
<g clip-path="url(#cp32)"><g filter="url(#soft)">
<rect x="216.10" y="227.60" width="58.30" height="31.60" fill="#131313" />
<g transform="translate(223.70 228.90) rotate(7 0 15) scale(1.14 1)"><path d="M0.40,1.60 L1.50,2.40 L2.30,4.10 L2.20,5.70 L3.20,7.40 L3.90,10.00 L4.30,14.00 L4.30,18.00 L4.00,21.50 L3.50,24.00 L2.80,25.50 L3.20,27.00 L2.30,27.70 L1.20,26.40 L0.30,27.00 L-0.30,27.00 L-1.40,26.40 L-3.00,26.80 L-5.00,27.80 L-5.30,26.90 L-3.80,25.20 L-4.10,22.00 L-4.30,18.00 L-4.10,14.00 L-3.70,10.00 L-3.00,7.40 L-2.00,5.70 L-2.20,4.10 L-1.40,2.40 Z" fill="url(#mg)"/><path d="M-0.2,27 q-0.6,1.5 -0.3,2.8" stroke="#9a9a9a" stroke-width="0.7" fill="none"/><path d="M-1.8,10 q1.2,5 -0.2,11 M1.8,12 q0.8,3 -0.4,7 M-0.5,5 l1,0" stroke="#a8a8a8" stroke-width="0.9" fill="none" opacity="0.6"/><ellipse cx="-2.17" cy="21.10" rx="1.32" ry="1.10" fill="#8a8a8a" opacity="0.2"/><ellipse cx="0.87" cy="6.07" rx="0.70" ry="0.81" fill="#8a8a8a" opacity="0.2"/><ellipse cx="0.15" cy="16.95" rx="1.36" ry="1.45" fill="#8a8a8a" opacity="0.2"/><ellipse cx="-1.41" cy="17.62" rx="0.63" ry="0.70" fill="#8a8a8a" opacity="0.2"/><ellipse cx="1.68" cy="17.01" rx="1.06" ry="1.86" fill="#8a8a8a" opacity="0.2"/><ellipse cx="-0.95" cy="10.56" rx="0.68" ry="0.69" fill="#8a8a8a" opacity="0.2"/></g>
<g transform="translate(234.70 228.90) rotate(7 0 15) scale(1.14 1)"><path d="M0.40,1.60 L1.50,2.40 L2.30,4.10 L2.20,5.70 L3.20,7.40 L3.90,10.00 L4.30,14.00 L4.30,18.00 L4.00,21.50 L3.50,24.00 L2.80,25.50 L3.20,27.00 L2.30,27.70 L1.20,26.40 L0.30,27.00 L-0.30,27.00 L-1.40,26.40 L-3.00,26.80 L-5.00,27.80 L-5.30,26.90 L-3.80,25.20 L-4.10,22.00 L-4.30,18.00 L-4.10,14.00 L-3.70,10.00 L-3.00,7.40 L-2.00,5.70 L-2.20,4.10 L-1.40,2.40 Z" fill="url(#mg)"/><path d="M-0.2,27 q-0.6,1.5 -0.3,2.8" stroke="#9a9a9a" stroke-width="0.7" fill="none"/><path d="M-1.8,10 q1.2,5 -0.2,11 M1.8,12 q0.8,3 -0.4,7 M-0.5,5 l1,0" stroke="#a8a8a8" stroke-width="0.9" fill="none" opacity="0.6"/><ellipse cx="1.76" cy="14.89" rx="0.95" ry="1.33" fill="#8a8a8a" opacity="0.2"/><ellipse cx="-0.54" cy="9.15" rx="0.68" ry="0.66" fill="#8a8a8a" opacity="0.2"/><ellipse cx="-2.41" cy="13.44" rx="1.14" ry="1.62" fill="#8a8a8a" opacity="0.2"/><ellipse cx="0.64" cy="22.01" rx="0.73" ry="0.77" fill="#8a8a8a" opacity="0.2"/><ellipse cx="-0.33" cy="24.55" rx="1.01" ry="1.19" fill="#8a8a8a" opacity="0.2"/><ellipse cx="0.87" cy="23.12" rx="1.00" ry="1.75" fill="#8a8a8a" opacity="0.2"/></g>
<g transform="translate(245.70 228.90) rotate(7 0 15) scale(1.14 1)"><path d="M0.40,1.60 L1.50,2.40 L2.30,4.10 L2.20,5.70 L3.20,7.40 L3.90,10.00 L4.30,14.00 L4.30,18.00 L4.00,21.50 L3.50,24.00 L2.80,25.50 L3.20,27.00 L2.30,27.70 L1.20,26.40 L0.30,27.00 L-0.30,27.00 L-1.40,26.40 L-3.00,26.80 L-5.00,27.80 L-5.30,26.90 L-3.80,25.20 L-4.10,22.00 L-4.30,18.00 L-4.10,14.00 L-3.70,10.00 L-3.00,7.40 L-2.00,5.70 L-2.20,4.10 L-1.40,2.40 Z" fill="url(#mg)"/><path d="M-0.2,27 q-0.6,1.5 -0.3,2.8" stroke="#9a9a9a" stroke-width="0.7" fill="none"/><path d="M-1.8,10 q1.2,5 -0.2,11 M1.8,12 q0.8,3 -0.4,7 M-0.5,5 l1,0" stroke="#a8a8a8" stroke-width="0.9" fill="none" opacity="0.6"/><ellipse cx="-1.00" cy="5.06" rx="1.38" ry="1.99" fill="#8a8a8a" opacity="0.2"/><ellipse cx="0.24" cy="24.24" rx="1.46" ry="2.41" fill="#8a8a8a" opacity="0.2"/><ellipse cx="2.53" cy="14.39" rx="1.37" ry="1.39" fill="#8a8a8a" opacity="0.2"/><ellipse cx="1.31" cy="7.31" rx="0.67" ry="0.63" fill="#8a8a8a" opacity="0.2"/><ellipse cx="-2.46" cy="20.04" rx="0.87" ry="0.82" fill="#8a8a8a" opacity="0.2"/><ellipse cx="-2.22" cy="16.83" rx="1.36" ry="1.59" fill="#8a8a8a" opacity="0.2"/></g>
<g transform="translate(256.70 228.90) rotate(7 0 15) scale(1.14 1)"><path d="M0.40,1.60 L1.50,2.40 L2.30,4.10 L2.20,5.70 L3.20,7.40 L3.90,10.00 L4.30,14.00 L4.30,18.00 L4.00,21.50 L3.50,24.00 L2.80,25.50 L3.20,27.00 L2.30,27.70 L1.20,26.40 L0.30,27.00 L-0.30,27.00 L-1.40,26.40 L-3.00,26.80 L-5.00,27.80 L-5.30,26.90 L-3.80,25.20 L-4.10,22.00 L-4.30,18.00 L-4.10,14.00 L-3.70,10.00 L-3.00,7.40 L-2.00,5.70 L-2.20,4.10 L-1.40,2.40 Z" fill="url(#mg)"/><path d="M-0.2,27 q-0.6,1.5 -0.3,2.8" stroke="#9a9a9a" stroke-width="0.7" fill="none"/><path d="M-1.8,10 q1.2,5 -0.2,11 M1.8,12 q0.8,3 -0.4,7 M-0.5,5 l1,0" stroke="#a8a8a8" stroke-width="0.9" fill="none" opacity="0.6"/><ellipse cx="1.73" cy="12.63" rx="0.77" ry="0.65" fill="#8a8a8a" opacity="0.2"/><ellipse cx="1.29" cy="7.78" rx="1.03" ry="1.55" fill="#8a8a8a" opacity="0.2"/><ellipse cx="-2.21" cy="14.57" rx="0.77" ry="1.38" fill="#8a8a8a" opacity="0.2"/><ellipse cx="0.82" cy="24.72" rx="1.27" ry="2.11" fill="#8a8a8a" opacity="0.2"/><ellipse cx="0.81" cy="20.29" rx="0.88" ry="1.54" fill="#8a8a8a" opacity="0.2"/><ellipse cx="1.89" cy="8.39" rx="1.34" ry="1.88" fill="#8a8a8a" opacity="0.2"/></g>
<g transform="translate(267.70 228.90) rotate(7 0 15) scale(1.14 1)"><path d="M0.40,1.60 L1.50,2.40 L2.30,4.10 L2.20,5.70 L3.20,7.40 L3.90,10.00 L4.30,14.00 L4.30,18.00 L4.00,21.50 L3.50,24.00 L2.80,25.50 L3.20,27.00 L2.30,27.70 L1.20,26.40 L0.30,27.00 L-0.30,27.00 L-1.40,26.40 L-3.00,26.80 L-5.00,27.80 L-5.30,26.90 L-3.80,25.20 L-4.10,22.00 L-4.30,18.00 L-4.10,14.00 L-3.70,10.00 L-3.00,7.40 L-2.00,5.70 L-2.20,4.10 L-1.40,2.40 Z" fill="url(#mg)"/><path d="M-0.2,27 q-0.6,1.5 -0.3,2.8" stroke="#9a9a9a" stroke-width="0.7" fill="none"/><path d="M-1.8,10 q1.2,5 -0.2,11 M1.8,12 q0.8,3 -0.4,7 M-0.5,5 l1,0" stroke="#a8a8a8" stroke-width="0.9" fill="none" opacity="0.6"/><ellipse cx="-0.36" cy="24.98" rx="0.64" ry="0.84" fill="#8a8a8a" opacity="0.2"/><ellipse cx="1.15" cy="16.64" rx="0.88" ry="1.47" fill="#8a8a8a" opacity="0.2"/><ellipse cx="2.16" cy="6.05" rx="0.72" ry="1.23" fill="#8a8a8a" opacity="0.2"/><ellipse cx="1.59" cy="10.25" rx="0.79" ry="0.66" fill="#8a8a8a" opacity="0.2"/><ellipse cx="-0.89" cy="18.89" rx="1.23" ry="1.30" fill="#8a8a8a" opacity="0.2"/><ellipse cx="0.45" cy="13.70" rx="1.06" ry="1.69" fill="#8a8a8a" opacity="0.2"/></g>
<ellipse cx="223.70" cy="244.10" rx="3.50" ry="10.50" fill="#4026a8"/>
<ellipse cx="224.00" cy="243.60" rx="1.75" ry="6.51" fill="#e4e4ec"/>
<ellipse cx="222.55" cy="239.42" rx="1.09" ry="1.20" fill="#2a44d8"/>
<ellipse cx="225.38" cy="243.31" rx="1.16" ry="1.28" fill="#2a44d8"/>
<ellipse cx="223.98" cy="252.52" rx="0.77" ry="0.85" fill="#2a44d8"/>
<ellipse cx="224.67" cy="242.78" rx="0.69" ry="0.75" fill="#2a44d8"/>
<ellipse cx="221.44" cy="252.59" rx="1.27" ry="1.40" fill="#e6e6e6"/>
<ellipse cx="223.11" cy="235.73" rx="0.69" ry="0.76" fill="#f2f2f2"/>
<ellipse cx="226.39" cy="247.94" rx="0.79" ry="0.87" fill="#d4d4ee"/>
<ellipse cx="224.23" cy="235.78" rx="1.11" ry="1.22" fill="#e6e6e6"/>
<ellipse cx="224.95" cy="239.72" rx="1.20" ry="1.32" fill="#e6e6e6"/>
<ellipse cx="222.53" cy="237.53" rx="1.07" ry="1.17" fill="#d4d4ee"/>
<ellipse cx="224.71" cy="243.85" rx="1.10" ry="1.21" fill="#d4d4ee"/>
<ellipse cx="223.09" cy="249.57" rx="0.64" ry="0.70" fill="#e6e6e6"/>
<ellipse cx="222.70" cy="247.60" rx="2.40" ry="3.00" fill="#4026a8"/>
<ellipse cx="224.70" cy="238.60" rx="1.20" ry="1.20" fill="#4026a8"/>
<ellipse cx="222.70" cy="247.60" rx="2.00" ry="2.60" fill="#2a44d8"/>
<ellipse cx="224.70" cy="238.60" rx="0.80" ry="0.80" fill="#2a44d8"/>
<ellipse cx="222.70" cy="247.60" rx="1.70" ry="2.30" fill="#22b4dc"/>
<ellipse cx="224.70" cy="238.60" rx="0.50" ry="0.50" fill="#22b4dc"/>
<ellipse cx="222.70" cy="247.60" rx="1.50" ry="2.10" fill="#38c23a"/>
<ellipse cx="224.70" cy="238.60" rx="0.30" ry="0.30" fill="#38c23a"/>
<ellipse cx="222.70" cy="247.60" rx="1.35" ry="1.95" fill="#e4e030"/>
<ellipse cx="222.70" cy="247.60" rx="1.20" ry="1.80" fill="#e2501a"/>
<ellipse cx="234.70" cy="243.10" rx="3.50" ry="11.50" fill="#4026a8"/>
<ellipse cx="235.00" cy="242.60" rx="1.75" ry="7.13" fill="#e4e4ec"/>
<ellipse cx="234.69" cy="241.58" rx="1.09" ry="1.20" fill="#2a44d8"/>
<ellipse cx="234.59" cy="239.31" rx="0.78" ry="0.86" fill="#2a44d8"/>
<ellipse cx="232.82" cy="252.42" rx="1.01" ry="1.11" fill="#2a44d8"/>
<ellipse cx="232.13" cy="235.30" rx="1.19" ry="1.31" fill="#e6e6e6"/>
<ellipse cx="237.33" cy="252.17" rx="0.70" ry="0.77" fill="#f2f2f2"/>
<ellipse cx="233.57" cy="236.18" rx="1.31" ry="1.44" fill="#e6e6e6"/>
<ellipse cx="234.31" cy="235.73" rx="0.99" ry="1.09" fill="#e6e6e6"/>
<ellipse cx="236.95" cy="243.54" rx="0.74" ry="0.81" fill="#e6e6e6"/>
<ellipse cx="236.15" cy="241.70" rx="1.09" ry="1.20" fill="#f2f2f2"/>
<ellipse cx="236.41" cy="245.48" rx="0.73" ry="0.81" fill="#e6e6e6"/>
<ellipse cx="234.96" cy="246.09" rx="0.87" ry="0.95" fill="#d4d4ee"/>
<ellipse cx="232.58" cy="240.18" rx="1.31" ry="1.44" fill="#f2f2f2"/>
<ellipse cx="237.28" cy="247.69" rx="0.86" ry="0.95" fill="#d4d4ee"/>
<ellipse cx="234.26" cy="234.66" rx="0.95" ry="1.05" fill="#f2f2f2"/>
<ellipse cx="235.40" cy="249.14" rx="0.79" ry="0.87" fill="#f2f2f2"/>
<ellipse cx="233.08" cy="233.58" rx="0.76" ry="0.83" fill="#e6e6e6"/>
<ellipse cx="236.32" cy="237.25" rx="1.03" ry="1.13" fill="#e6e6e6"/>
<ellipse cx="232.47" cy="245.20" rx="0.65" ry="0.71" fill="#e6e6e6"/>
<ellipse cx="233.73" cy="247.84" rx="0.94" ry="1.04" fill="#f2f2f2"/>
<ellipse cx="235.87" cy="243.46" rx="1.32" ry="1.45" fill="#f2f2f2"/>
<ellipse cx="232.78" cy="250.10" rx="1.25" ry="1.38" fill="#f2f2f2"/>
<ellipse cx="234.70" cy="234.60" rx="1.80" ry="1.80" fill="#4026a8"/>
<ellipse cx="233.70" cy="247.10" rx="2.40" ry="2.60" fill="#4026a8"/>
<ellipse cx="236.20" cy="251.60" rx="1.60" ry="1.60" fill="#4026a8"/>
<ellipse cx="234.70" cy="234.60" rx="1.40" ry="1.40" fill="#2a44d8"/>
<ellipse cx="233.70" cy="247.10" rx="2.00" ry="2.20" fill="#2a44d8"/>
<ellipse cx="236.20" cy="251.60" rx="1.20" ry="1.20" fill="#2a44d8"/>
<ellipse cx="234.70" cy="234.60" rx="1.10" ry="1.10" fill="#22b4dc"/>
<ellipse cx="233.70" cy="247.10" rx="1.70" ry="1.90" fill="#22b4dc"/>
<ellipse cx="236.20" cy="251.60" rx="0.90" ry="0.90" fill="#22b4dc"/>
<ellipse cx="234.70" cy="234.60" rx="0.90" ry="0.90" fill="#38c23a"/>
<ellipse cx="233.70" cy="247.10" rx="1.50" ry="1.70" fill="#38c23a"/>
<ellipse cx="236.20" cy="251.60" rx="0.70" ry="0.70" fill="#38c23a"/>
<ellipse cx="234.70" cy="234.60" rx="0.75" ry="0.75" fill="#e4e030"/>
<ellipse cx="233.70" cy="247.10" rx="1.35" ry="1.55" fill="#e4e030"/>
<ellipse cx="236.20" cy="251.60" rx="0.55" ry="0.55" fill="#e4e030"/>
<ellipse cx="234.70" cy="234.60" rx="0.60" ry="0.60" fill="#e2501a"/>
<ellipse cx="233.70" cy="247.10" rx="1.20" ry="1.40" fill="#e2501a"/>
<ellipse cx="236.20" cy="251.60" rx="0.40" ry="0.40" fill="#e2501a"/>
<ellipse cx="245.70" cy="243.60" rx="3.50" ry="11.00" fill="#4026a8"/>
<ellipse cx="246.00" cy="243.10" rx="1.75" ry="6.82" fill="#e4e4ec"/>
<ellipse cx="247.63" cy="235.55" rx="0.99" ry="1.08" fill="#2a44d8"/>
<ellipse cx="244.52" cy="242.71" rx="0.94" ry="1.03" fill="#2a44d8"/>
<ellipse cx="242.74" cy="243.12" rx="1.09" ry="1.20" fill="#2a44d8"/>
<ellipse cx="246.86" cy="248.77" rx="1.01" ry="1.12" fill="#2a44d8"/>
<ellipse cx="244.81" cy="246.73" rx="1.19" ry="1.31" fill="#f2f2f2"/>
<ellipse cx="243.40" cy="235.35" rx="1.38" ry="1.52" fill="#d4d4ee"/>
<ellipse cx="245.81" cy="250.45" rx="1.01" ry="1.12" fill="#d4d4ee"/>
<ellipse cx="246.92" cy="234.72" rx="1.07" ry="1.17" fill="#e6e6e6"/>
<ellipse cx="244.46" cy="238.95" rx="0.92" ry="1.01" fill="#e6e6e6"/>
<ellipse cx="245.14" cy="240.80" rx="0.72" ry="0.79" fill="#f2f2f2"/>
<ellipse cx="247.24" cy="247.73" rx="1.36" ry="1.50" fill="#d4d4ee"/>
<ellipse cx="248.23" cy="240.35" rx="1.13" ry="1.24" fill="#d4d4ee"/>
<ellipse cx="245.70" cy="238.60" rx="2.00" ry="2.00" fill="#4026a8"/>
<ellipse cx="245.70" cy="248.60" rx="2.50" ry="3.00" fill="#4026a8"/>
<ellipse cx="245.70" cy="238.60" rx="1.60" ry="1.60" fill="#2a44d8"/>
<ellipse cx="245.70" cy="248.60" rx="2.10" ry="2.60" fill="#2a44d8"/>
<ellipse cx="245.70" cy="238.60" rx="1.30" ry="1.30" fill="#22b4dc"/>
<ellipse cx="245.70" cy="248.60" rx="1.80" ry="2.30" fill="#22b4dc"/>
<ellipse cx="245.70" cy="238.60" rx="1.10" ry="1.10" fill="#38c23a"/>
<ellipse cx="245.70" cy="248.60" rx="1.60" ry="2.10" fill="#38c23a"/>
<ellipse cx="245.70" cy="238.60" rx="0.95" ry="0.95" fill="#e4e030"/>
<ellipse cx="245.70" cy="248.60" rx="1.45" ry="1.95" fill="#e4e030"/>
<ellipse cx="245.70" cy="238.60" rx="0.80" ry="0.80" fill="#e2501a"/>
<ellipse cx="245.70" cy="248.60" rx="1.30" ry="1.80" fill="#e2501a"/>
<ellipse cx="256.70" cy="244.60" rx="3.50" ry="8.00" fill="#4026a8"/>
<ellipse cx="257.00" cy="244.10" rx="1.75" ry="4.96" fill="#e4e4ec"/>
<ellipse cx="255.20" cy="242.39" rx="1.07" ry="1.18" fill="#2a44d8"/>
<ellipse cx="259.64" cy="247.86" rx="0.89" ry="0.98" fill="#2a44d8"/>
<ellipse cx="258.17" cy="250.13" rx="0.84" ry="0.92" fill="#2a44d8"/>
<ellipse cx="257.62" cy="249.92" rx="1.15" ry="1.26" fill="#2a44d8"/>
<ellipse cx="255.23" cy="245.08" rx="1.13" ry="1.25" fill="#f2f2f2"/>
<ellipse cx="259.48" cy="250.68" rx="1.02" ry="1.12" fill="#e6e6e6"/>
<ellipse cx="257.00" cy="243.88" rx="0.61" ry="0.68" fill="#d4d4ee"/>
<ellipse cx="258.46" cy="244.27" rx="0.66" ry="0.72" fill="#f2f2f2"/>
<ellipse cx="254.79" cy="240.76" rx="1.37" ry="1.51" fill="#d4d4ee"/>
<ellipse cx="257.70" cy="238.85" rx="1.00" ry="1.10" fill="#f2f2f2"/>
<ellipse cx="258.50" cy="242.07" rx="0.62" ry="0.68" fill="#d4d4ee"/>
<ellipse cx="256.09" cy="248.87" rx="1.25" ry="1.38" fill="#e6e6e6"/>
<ellipse cx="255.45" cy="246.52" rx="1.21" ry="1.34" fill="#f2f2f2"/>
<ellipse cx="257.83" cy="242.88" rx="1.08" ry="1.19" fill="#f2f2f2"/>
<ellipse cx="258.38" cy="250.10" rx="1.04" ry="1.14" fill="#d4d4ee"/>
<ellipse cx="256.96" cy="242.46" rx="1.15" ry="1.26" fill="#d4d4ee"/>
<ellipse cx="256.70" cy="240.60" rx="1.40" ry="1.40" fill="#4026a8"/>
<ellipse cx="257.20" cy="249.60" rx="2.00" ry="2.00" fill="#4026a8"/>
<ellipse cx="256.70" cy="240.60" rx="1.00" ry="1.00" fill="#2a44d8"/>
<ellipse cx="257.20" cy="249.60" rx="1.60" ry="1.60" fill="#2a44d8"/>
<ellipse cx="256.70" cy="240.60" rx="0.70" ry="0.70" fill="#22b4dc"/>
<ellipse cx="257.20" cy="249.60" rx="1.30" ry="1.30" fill="#22b4dc"/>
<ellipse cx="256.70" cy="240.60" rx="0.50" ry="0.50" fill="#38c23a"/>
<ellipse cx="257.20" cy="249.60" rx="1.10" ry="1.10" fill="#38c23a"/>
<ellipse cx="257.20" cy="249.60" rx="0.95" ry="0.95" fill="#e4e030"/>
<ellipse cx="257.20" cy="249.60" rx="0.80" ry="0.80" fill="#e2501a"/>
<ellipse cx="267.70" cy="243.60" rx="3.50" ry="11.00" fill="#4026a8"/>
<ellipse cx="268.00" cy="243.10" rx="1.75" ry="6.82" fill="#e4e4ec"/>
<ellipse cx="265.22" cy="241.72" rx="0.60" ry="0.66" fill="#2a44d8"/>
<ellipse cx="268.79" cy="235.50" rx="0.68" ry="0.75" fill="#2a44d8"/>
<ellipse cx="264.83" cy="246.72" rx="1.11" ry="1.22" fill="#2a44d8"/>
<ellipse cx="267.89" cy="237.18" rx="0.95" ry="1.05" fill="#2a44d8"/>
<ellipse cx="266.60" cy="248.55" rx="1.12" ry="1.23" fill="#f2f2f2"/>
<ellipse cx="268.78" cy="242.09" rx="0.77" ry="0.84" fill="#f2f2f2"/>
<ellipse cx="266.33" cy="253.09" rx="0.86" ry="0.95" fill="#e6e6e6"/>
<ellipse cx="268.64" cy="248.76" rx="0.87" ry="0.96" fill="#e6e6e6"/>
<ellipse cx="270.04" cy="253.41" rx="1.31" ry="1.44" fill="#d4d4ee"/>
<ellipse cx="266.22" cy="246.77" rx="1.27" ry="1.40" fill="#e6e6e6"/>
<ellipse cx="266.08" cy="247.09" rx="1.14" ry="1.25" fill="#d4d4ee"/>
<ellipse cx="267.26" cy="249.47" rx="1.14" ry="1.26" fill="#d4d4ee"/>
<ellipse cx="267.70" cy="237.60" rx="1.80" ry="2.00" fill="#4026a8"/>
<ellipse cx="267.70" cy="248.60" rx="2.40" ry="2.60" fill="#4026a8"/>
<ellipse cx="267.70" cy="237.60" rx="1.40" ry="1.60" fill="#2a44d8"/>
<ellipse cx="267.70" cy="248.60" rx="2.00" ry="2.20" fill="#2a44d8"/>
<ellipse cx="267.70" cy="237.60" rx="1.10" ry="1.30" fill="#22b4dc"/>
<ellipse cx="267.70" cy="248.60" rx="1.70" ry="1.90" fill="#22b4dc"/>
<ellipse cx="267.70" cy="237.60" rx="0.90" ry="1.10" fill="#38c23a"/>
<ellipse cx="267.70" cy="248.60" rx="1.50" ry="1.70" fill="#38c23a"/>
<ellipse cx="267.70" cy="237.60" rx="0.75" ry="0.95" fill="#e4e030"/>
<ellipse cx="267.70" cy="248.60" rx="1.35" ry="1.55" fill="#e4e030"/>
<ellipse cx="267.70" cy="248.60" rx="1.20" ry="1.40" fill="#e2501a"/>
</g></g>
<clipPath id="cp42"><rect x="275.60" y="228.60" width="56.3" height="29.6"/></clipPath>
<g clip-path="url(#cp42)"><g filter="url(#soft)">
<rect x="274.60" y="227.60" width="58.30" height="31.60" fill="#131313" />
<g transform="translate(282.20 228.90) rotate(7 0 15) scale(1.14 1)"><path d="M0.40,1.60 L1.50,2.40 L2.30,4.10 L2.20,5.70 L3.20,7.40 L3.90,10.00 L4.30,14.00 L4.30,18.00 L4.00,21.50 L3.50,24.00 L2.80,25.50 L3.20,27.00 L2.30,27.70 L1.20,26.40 L0.30,27.00 L-0.30,27.00 L-1.40,26.40 L-3.00,26.80 L-5.00,27.80 L-5.30,26.90 L-3.80,25.20 L-4.10,22.00 L-4.30,18.00 L-4.10,14.00 L-3.70,10.00 L-3.00,7.40 L-2.00,5.70 L-2.20,4.10 L-1.40,2.40 Z" fill="url(#mg)"/><path d="M-0.2,27 q-0.6,1.5 -0.3,2.8" stroke="#9a9a9a" stroke-width="0.7" fill="none"/><path d="M-1.8,10 q1.2,5 -0.2,11 M1.8,12 q0.8,3 -0.4,7 M-0.5,5 l1,0" stroke="#a8a8a8" stroke-width="0.9" fill="none" opacity="0.6"/><ellipse cx="-0.80" cy="5.65" rx="1.17" ry="1.92" fill="#8a8a8a" opacity="0.2"/><ellipse cx="-1.38" cy="17.60" rx="1.30" ry="2.10" fill="#8a8a8a" opacity="0.2"/><ellipse cx="2.73" cy="23.99" rx="1.23" ry="1.92" fill="#8a8a8a" opacity="0.2"/><ellipse cx="-2.31" cy="11.18" rx="0.91" ry="0.76" fill="#8a8a8a" opacity="0.2"/><ellipse cx="0.54" cy="7.27" rx="1.38" ry="1.60" fill="#8a8a8a" opacity="0.2"/><ellipse cx="-2.68" cy="10.89" rx="1.47" ry="2.21" fill="#8a8a8a" opacity="0.2"/></g>
<g transform="translate(293.20 228.90) rotate(7 0 15) scale(1.14 1)"><path d="M0.40,1.60 L1.50,2.40 L2.30,4.10 L2.20,5.70 L3.20,7.40 L3.90,10.00 L4.30,14.00 L4.30,18.00 L4.00,21.50 L3.50,24.00 L2.80,25.50 L3.20,27.00 L2.30,27.70 L1.20,26.40 L0.30,27.00 L-0.30,27.00 L-1.40,26.40 L-3.00,26.80 L-5.00,27.80 L-5.30,26.90 L-3.80,25.20 L-4.10,22.00 L-4.30,18.00 L-4.10,14.00 L-3.70,10.00 L-3.00,7.40 L-2.00,5.70 L-2.20,4.10 L-1.40,2.40 Z" fill="url(#mg)"/><path d="M-0.2,27 q-0.6,1.5 -0.3,2.8" stroke="#9a9a9a" stroke-width="0.7" fill="none"/><path d="M-1.8,10 q1.2,5 -0.2,11 M1.8,12 q0.8,3 -0.4,7 M-0.5,5 l1,0" stroke="#a8a8a8" stroke-width="0.9" fill="none" opacity="0.6"/><ellipse cx="0.97" cy="9.38" rx="0.91" ry="1.52" fill="#8a8a8a" opacity="0.2"/><ellipse cx="-1.57" cy="13.21" rx="1.04" ry="1.23" fill="#8a8a8a" opacity="0.2"/><ellipse cx="-0.62" cy="6.76" rx="1.47" ry="2.54" fill="#8a8a8a" opacity="0.2"/><ellipse cx="0.55" cy="15.22" rx="1.25" ry="2.07" fill="#8a8a8a" opacity="0.2"/><ellipse cx="-1.24" cy="10.67" rx="0.73" ry="0.78" fill="#8a8a8a" opacity="0.2"/><ellipse cx="-2.36" cy="12.12" rx="1.21" ry="1.02" fill="#8a8a8a" opacity="0.2"/></g>
<g transform="translate(304.20 228.90) rotate(7 0 15) scale(1.14 1)"><path d="M0.40,1.60 L1.50,2.40 L2.30,4.10 L2.20,5.70 L3.20,7.40 L3.90,10.00 L4.30,14.00 L4.30,18.00 L4.00,21.50 L3.50,24.00 L2.80,25.50 L3.20,27.00 L2.30,27.70 L1.20,26.40 L0.30,27.00 L-0.30,27.00 L-1.40,26.40 L-3.00,26.80 L-5.00,27.80 L-5.30,26.90 L-3.80,25.20 L-4.10,22.00 L-4.30,18.00 L-4.10,14.00 L-3.70,10.00 L-3.00,7.40 L-2.00,5.70 L-2.20,4.10 L-1.40,2.40 Z" fill="url(#mg)"/><path d="M-0.2,27 q-0.6,1.5 -0.3,2.8" stroke="#9a9a9a" stroke-width="0.7" fill="none"/><path d="M-1.8,10 q1.2,5 -0.2,11 M1.8,12 q0.8,3 -0.4,7 M-0.5,5 l1,0" stroke="#a8a8a8" stroke-width="0.9" fill="none" opacity="0.6"/><ellipse cx="-2.27" cy="13.90" rx="1.27" ry="1.08" fill="#8a8a8a" opacity="0.2"/><ellipse cx="-0.01" cy="6.35" rx="1.20" ry="1.75" fill="#8a8a8a" opacity="0.2"/><ellipse cx="1.55" cy="9.56" rx="1.45" ry="2.28" fill="#8a8a8a" opacity="0.2"/><ellipse cx="1.85" cy="11.10" rx="0.70" ry="0.74" fill="#8a8a8a" opacity="0.2"/><ellipse cx="-2.29" cy="22.97" rx="0.65" ry="1.17" fill="#8a8a8a" opacity="0.2"/><ellipse cx="2.15" cy="23.58" rx="0.82" ry="0.71" fill="#8a8a8a" opacity="0.2"/></g>
<g transform="translate(315.20 228.90) rotate(7 0 15) scale(1.14 1)"><path d="M0.40,1.60 L1.50,2.40 L2.30,4.10 L2.20,5.70 L3.20,7.40 L3.90,10.00 L4.30,14.00 L4.30,18.00 L4.00,21.50 L3.50,24.00 L2.80,25.50 L3.20,27.00 L2.30,27.70 L1.20,26.40 L0.30,27.00 L-0.30,27.00 L-1.40,26.40 L-3.00,26.80 L-5.00,27.80 L-5.30,26.90 L-3.80,25.20 L-4.10,22.00 L-4.30,18.00 L-4.10,14.00 L-3.70,10.00 L-3.00,7.40 L-2.00,5.70 L-2.20,4.10 L-1.40,2.40 Z" fill="url(#mg)"/><path d="M-0.2,27 q-0.6,1.5 -0.3,2.8" stroke="#9a9a9a" stroke-width="0.7" fill="none"/><path d="M-1.8,10 q1.2,5 -0.2,11 M1.8,12 q0.8,3 -0.4,7 M-0.5,5 l1,0" stroke="#a8a8a8" stroke-width="0.9" fill="none" opacity="0.6"/><ellipse cx="0.21" cy="14.58" rx="1.41" ry="1.37" fill="#8a8a8a" opacity="0.2"/><ellipse cx="0.60" cy="22.27" rx="0.75" ry="0.96" fill="#8a8a8a" opacity="0.2"/><ellipse cx="-0.41" cy="17.32" rx="1.00" ry="1.77" fill="#8a8a8a" opacity="0.2"/><ellipse cx="0.38" cy="12.09" rx="0.81" ry="1.39" fill="#8a8a8a" opacity="0.2"/><ellipse cx="0.23" cy="18.91" rx="1.17" ry="1.02" fill="#8a8a8a" opacity="0.2"/><ellipse cx="0.13" cy="11.17" rx="1.46" ry="1.27" fill="#8a8a8a" opacity="0.2"/></g>
<g transform="translate(326.20 228.90) rotate(7 0 15) scale(1.14 1)"><path d="M0.40,1.60 L1.50,2.40 L2.30,4.10 L2.20,5.70 L3.20,7.40 L3.90,10.00 L4.30,14.00 L4.30,18.00 L4.00,21.50 L3.50,24.00 L2.80,25.50 L3.20,27.00 L2.30,27.70 L1.20,26.40 L0.30,27.00 L-0.30,27.00 L-1.40,26.40 L-3.00,26.80 L-5.00,27.80 L-5.30,26.90 L-3.80,25.20 L-4.10,22.00 L-4.30,18.00 L-4.10,14.00 L-3.70,10.00 L-3.00,7.40 L-2.00,5.70 L-2.20,4.10 L-1.40,2.40 Z" fill="url(#mg)"/><path d="M-0.2,27 q-0.6,1.5 -0.3,2.8" stroke="#9a9a9a" stroke-width="0.7" fill="none"/><path d="M-1.8,10 q1.2,5 -0.2,11 M1.8,12 q0.8,3 -0.4,7 M-0.5,5 l1,0" stroke="#a8a8a8" stroke-width="0.9" fill="none" opacity="0.6"/><ellipse cx="1.66" cy="21.16" rx="1.39" ry="1.49" fill="#8a8a8a" opacity="0.2"/><ellipse cx="-2.02" cy="8.91" rx="0.88" ry="1.03" fill="#8a8a8a" opacity="0.2"/><ellipse cx="-2.27" cy="24.52" rx="0.82" ry="0.91" fill="#8a8a8a" opacity="0.2"/><ellipse cx="0.21" cy="10.54" rx="0.98" ry="1.33" fill="#8a8a8a" opacity="0.2"/><ellipse cx="0.88" cy="5.88" rx="1.12" ry="1.99" fill="#8a8a8a" opacity="0.2"/><ellipse cx="1.32" cy="17.12" rx="1.10" ry="1.47" fill="#8a8a8a" opacity="0.2"/></g>
<ellipse cx="282.20" cy="247.60" rx="3.50" ry="7.00" fill="#4026a8"/>
<ellipse cx="282.50" cy="247.10" rx="1.75" ry="4.34" fill="#e4e4ec"/>
<ellipse cx="283.98" cy="252.99" rx="0.95" ry="1.04" fill="#2a44d8"/>
<ellipse cx="283.01" cy="249.97" rx="0.73" ry="0.80" fill="#2a44d8"/>
<ellipse cx="281.24" cy="248.45" rx="1.07" ry="1.18" fill="#2a44d8"/>
<ellipse cx="284.10" cy="247.26" rx="1.16" ry="1.28" fill="#e6e6e6"/>
<ellipse cx="280.76" cy="242.84" rx="1.36" ry="1.49" fill="#d4d4ee"/>
<ellipse cx="280.04" cy="242.99" rx="0.62" ry="0.68" fill="#d4d4ee"/>
<ellipse cx="283.60" cy="244.01" rx="1.00" ry="1.11" fill="#d4d4ee"/>
<ellipse cx="282.20" cy="248.60" rx="2.60" ry="3.00" fill="#4026a8"/>
<ellipse cx="282.20" cy="248.60" rx="2.20" ry="2.60" fill="#2a44d8"/>
<ellipse cx="282.20" cy="248.60" rx="1.90" ry="2.30" fill="#22b4dc"/>
<ellipse cx="282.20" cy="248.60" rx="1.70" ry="2.10" fill="#38c23a"/>
<ellipse cx="282.20" cy="248.60" rx="1.55" ry="1.95" fill="#e4e030"/>
<ellipse cx="282.20" cy="248.60" rx="1.40" ry="1.80" fill="#e2501a"/>
<ellipse cx="293.20" cy="238.10" rx="3.50" ry="6.50" fill="#4026a8"/>
<ellipse cx="293.50" cy="237.60" rx="1.75" ry="4.03" fill="#e4e4ec"/>
<ellipse cx="294.04" cy="239.52" rx="0.74" ry="0.82" fill="#2a44d8"/>
<ellipse cx="292.22" cy="236.60" rx="1.03" ry="1.13" fill="#2a44d8"/>
<ellipse cx="292.91" cy="240.59" rx="0.61" ry="0.67" fill="#2a44d8"/>
<ellipse cx="293.27" cy="239.98" rx="1.25" ry="1.38" fill="#e6e6e6"/>
<ellipse cx="291.56" cy="236.67" rx="0.93" ry="1.02" fill="#d4d4ee"/>
<ellipse cx="295.95" cy="232.79" rx="1.27" ry="1.39" fill="#f2f2f2"/>
<ellipse cx="294.78" cy="239.24" rx="0.85" ry="0.94" fill="#e6e6e6"/>
<ellipse cx="292.83" cy="237.88" rx="1.01" ry="1.11" fill="#e6e6e6"/>
<ellipse cx="294.34" cy="242.66" rx="1.19" ry="1.31" fill="#f2f2f2"/>
<ellipse cx="293.70" cy="234.60" rx="1.90" ry="1.90" fill="#4026a8"/>
<ellipse cx="293.20" cy="241.60" rx="1.00" ry="1.00" fill="#4026a8"/>
<ellipse cx="293.70" cy="234.60" rx="1.50" ry="1.50" fill="#2a44d8"/>
<ellipse cx="293.20" cy="241.60" rx="0.55" ry="0.55" fill="#2a44d8"/>
<ellipse cx="293.70" cy="234.60" rx="1.20" ry="1.20" fill="#22b4dc"/>
<ellipse cx="293.70" cy="234.60" rx="1.00" ry="1.00" fill="#38c23a"/>
<ellipse cx="293.70" cy="234.60" rx="0.85" ry="0.85" fill="#e4e030"/>
<ellipse cx="293.70" cy="234.60" rx="0.70" ry="0.70" fill="#e2501a"/>
<ellipse cx="304.20" cy="246.60" rx="3.50" ry="8.00" fill="#4026a8"/>
<ellipse cx="304.50" cy="246.10" rx="1.75" ry="4.96" fill="#e4e4ec"/>
<ellipse cx="304.23" cy="241.96" rx="0.81" ry="0.89" fill="#2a44d8"/>
<ellipse cx="306.95" cy="245.57" rx="1.03" ry="1.13" fill="#2a44d8"/>
<ellipse cx="304.24" cy="243.06" rx="0.72" ry="0.79" fill="#2a44d8"/>
<ellipse cx="301.52" cy="240.64" rx="1.00" ry="1.10" fill="#f2f2f2"/>
<ellipse cx="305.28" cy="249.42" rx="0.79" ry="0.87" fill="#f2f2f2"/>
<ellipse cx="305.93" cy="247.39" rx="1.07" ry="1.18" fill="#e6e6e6"/>
<ellipse cx="302.65" cy="242.51" rx="1.31" ry="1.44" fill="#f2f2f2"/>
<ellipse cx="304.20" cy="247.60" rx="2.50" ry="3.00" fill="#4026a8"/>
<ellipse cx="304.20" cy="247.60" rx="2.10" ry="2.60" fill="#2a44d8"/>
<ellipse cx="304.20" cy="247.60" rx="1.80" ry="2.30" fill="#22b4dc"/>
<ellipse cx="304.20" cy="247.60" rx="1.60" ry="2.10" fill="#38c23a"/>
<ellipse cx="304.20" cy="247.60" rx="1.45" ry="1.95" fill="#e4e030"/>
<ellipse cx="304.20" cy="247.60" rx="1.30" ry="1.80" fill="#e2501a"/>
<ellipse cx="315.20" cy="248.60" rx="3.50" ry="6.00" fill="#4026a8"/>
<ellipse cx="315.50" cy="248.10" rx="1.75" ry="3.72" fill="#e4e4ec"/>
<ellipse cx="313.23" cy="247.14" rx="0.72" ry="0.79" fill="#2a44d8"/>
<ellipse cx="313.02" cy="250.07" rx="0.62" ry="0.69" fill="#2a44d8"/>
<ellipse cx="316.40" cy="243.89" rx="0.62" ry="0.68" fill="#2a44d8"/>
<ellipse cx="315.04" cy="248.15" rx="0.96" ry="1.06" fill="#f2f2f2"/>
<ellipse cx="314.56" cy="251.35" rx="1.19" ry="1.31" fill="#d4d4ee"/>
<ellipse cx="316.48" cy="252.48" rx="0.74" ry="0.81" fill="#f2f2f2"/>
<ellipse cx="315.87" cy="249.31" rx="0.62" ry="0.68" fill="#e6e6e6"/>
<ellipse cx="315.20" cy="249.60" rx="2.20" ry="2.20" fill="#4026a8"/>
<ellipse cx="315.20" cy="249.60" rx="1.80" ry="1.80" fill="#2a44d8"/>
<ellipse cx="315.20" cy="249.60" rx="1.50" ry="1.50" fill="#22b4dc"/>
<ellipse cx="315.20" cy="249.60" rx="1.30" ry="1.30" fill="#38c23a"/>
<ellipse cx="315.20" cy="249.60" rx="1.15" ry="1.15" fill="#e4e030"/>
<ellipse cx="326.20" cy="245.60" rx="3.50" ry="9.00" fill="#4026a8"/>
<ellipse cx="326.50" cy="245.10" rx="1.75" ry="5.58" fill="#e4e4ec"/>
<ellipse cx="325.98" cy="246.73" rx="1.08" ry="1.19" fill="#2a44d8"/>
<ellipse cx="323.50" cy="240.54" rx="0.82" ry="0.91" fill="#2a44d8"/>
<ellipse cx="323.83" cy="248.60" rx="1.10" ry="1.21" fill="#2a44d8"/>
<ellipse cx="326.29" cy="240.36" rx="0.89" ry="0.98" fill="#e6e6e6"/>
<ellipse cx="325.50" cy="247.80" rx="0.60" ry="0.66" fill="#d4d4ee"/>
<ellipse cx="325.00" cy="251.40" rx="0.65" ry="0.72" fill="#e6e6e6"/>
<ellipse cx="323.68" cy="248.40" rx="0.75" ry="0.83" fill="#d4d4ee"/>
<ellipse cx="326.11" cy="246.92" rx="1.31" ry="1.44" fill="#e6e6e6"/>
<ellipse cx="328.88" cy="252.36" rx="0.70" ry="0.77" fill="#d4d4ee"/>
<ellipse cx="326.20" cy="246.60" rx="2.40" ry="2.80" fill="#4026a8"/>
<ellipse cx="326.20" cy="246.60" rx="2.00" ry="2.40" fill="#2a44d8"/>
<ellipse cx="326.20" cy="246.60" rx="1.70" ry="2.10" fill="#22b4dc"/>
<ellipse cx="326.20" cy="246.60" rx="1.50" ry="1.90" fill="#38c23a"/>
<ellipse cx="326.20" cy="246.60" rx="1.35" ry="1.75" fill="#e4e030"/>
</g></g>
<clipPath id="cp52"><rect x="334.50" y="228.60" width="56.3" height="29.6"/></clipPath>
<g clip-path="url(#cp52)"><g filter="url(#soft)">
<rect x="333.50" y="227.60" width="58.30" height="31.60" fill="#131313" />
<g transform="translate(341.10 228.90) rotate(7 0 15) scale(1.14 1)"><path d="M0.40,1.60 L1.50,2.40 L2.30,4.10 L2.20,5.70 L3.20,7.40 L3.90,10.00 L4.30,14.00 L4.30,18.00 L4.00,21.50 L3.50,24.00 L2.80,25.50 L3.20,27.00 L2.30,27.70 L1.20,26.40 L0.30,27.00 L-0.30,27.00 L-1.40,26.40 L-3.00,26.80 L-5.00,27.80 L-5.30,26.90 L-3.80,25.20 L-4.10,22.00 L-4.30,18.00 L-4.10,14.00 L-3.70,10.00 L-3.00,7.40 L-2.00,5.70 L-2.20,4.10 L-1.40,2.40 Z" fill="url(#mg)"/><path d="M-0.2,27 q-0.6,1.5 -0.3,2.8" stroke="#9a9a9a" stroke-width="0.7" fill="none"/><path d="M-1.8,10 q1.2,5 -0.2,11 M1.8,12 q0.8,3 -0.4,7 M-0.5,5 l1,0" stroke="#a8a8a8" stroke-width="0.9" fill="none" opacity="0.6"/><ellipse cx="-0.14" cy="10.97" rx="1.05" ry="0.91" fill="#8a8a8a" opacity="0.2"/><ellipse cx="-1.68" cy="23.25" rx="0.90" ry="1.55" fill="#8a8a8a" opacity="0.2"/><ellipse cx="-1.85" cy="21.23" rx="0.63" ry="1.12" fill="#8a8a8a" opacity="0.2"/><ellipse cx="0.67" cy="20.52" rx="0.81" ry="1.26" fill="#8a8a8a" opacity="0.2"/><ellipse cx="-1.09" cy="12.56" rx="1.45" ry="1.50" fill="#8a8a8a" opacity="0.2"/><ellipse cx="0.39" cy="24.84" rx="0.84" ry="1.40" fill="#8a8a8a" opacity="0.2"/></g>
<g transform="translate(352.10 228.90) rotate(7 0 15) scale(1.14 1)"><path d="M0.40,1.60 L1.50,2.40 L2.30,4.10 L2.20,5.70 L3.20,7.40 L3.90,10.00 L4.30,14.00 L4.30,18.00 L4.00,21.50 L3.50,24.00 L2.80,25.50 L3.20,27.00 L2.30,27.70 L1.20,26.40 L0.30,27.00 L-0.30,27.00 L-1.40,26.40 L-3.00,26.80 L-5.00,27.80 L-5.30,26.90 L-3.80,25.20 L-4.10,22.00 L-4.30,18.00 L-4.10,14.00 L-3.70,10.00 L-3.00,7.40 L-2.00,5.70 L-2.20,4.10 L-1.40,2.40 Z" fill="url(#mg)"/><path d="M-0.2,27 q-0.6,1.5 -0.3,2.8" stroke="#9a9a9a" stroke-width="0.7" fill="none"/><path d="M-1.8,10 q1.2,5 -0.2,11 M1.8,12 q0.8,3 -0.4,7 M-0.5,5 l1,0" stroke="#a8a8a8" stroke-width="0.9" fill="none" opacity="0.6"/><ellipse cx="-1.74" cy="21.85" rx="1.08" ry="1.64" fill="#8a8a8a" opacity="0.2"/><ellipse cx="-1.24" cy="10.47" rx="1.38" ry="2.15" fill="#8a8a8a" opacity="0.2"/><ellipse cx="-0.20" cy="7.72" rx="0.60" ry="0.58" fill="#8a8a8a" opacity="0.2"/><ellipse cx="1.18" cy="22.73" rx="1.22" ry="1.29" fill="#8a8a8a" opacity="0.2"/><ellipse cx="-2.31" cy="18.20" rx="1.16" ry="1.33" fill="#8a8a8a" opacity="0.2"/><ellipse cx="1.82" cy="20.64" rx="0.64" ry="0.63" fill="#8a8a8a" opacity="0.2"/></g>
<g transform="translate(363.10 228.90) rotate(7 0 15) scale(1.14 1)"><path d="M0.40,1.60 L1.50,2.40 L2.30,4.10 L2.20,5.70 L3.20,7.40 L3.90,10.00 L4.30,14.00 L4.30,18.00 L4.00,21.50 L3.50,24.00 L2.80,25.50 L3.20,27.00 L2.30,27.70 L1.20,26.40 L0.30,27.00 L-0.30,27.00 L-1.40,26.40 L-3.00,26.80 L-5.00,27.80 L-5.30,26.90 L-3.80,25.20 L-4.10,22.00 L-4.30,18.00 L-4.10,14.00 L-3.70,10.00 L-3.00,7.40 L-2.00,5.70 L-2.20,4.10 L-1.40,2.40 Z" fill="url(#mg)"/><path d="M-0.2,27 q-0.6,1.5 -0.3,2.8" stroke="#9a9a9a" stroke-width="0.7" fill="none"/><path d="M-1.8,10 q1.2,5 -0.2,11 M1.8,12 q0.8,3 -0.4,7 M-0.5,5 l1,0" stroke="#a8a8a8" stroke-width="0.9" fill="none" opacity="0.6"/><ellipse cx="-1.59" cy="14.56" rx="1.30" ry="1.32" fill="#8a8a8a" opacity="0.2"/><ellipse cx="-1.63" cy="14.56" rx="1.37" ry="2.22" fill="#8a8a8a" opacity="0.2"/><ellipse cx="-2.38" cy="10.89" rx="0.99" ry="1.45" fill="#8a8a8a" opacity="0.2"/><ellipse cx="0.84" cy="6.58" rx="0.93" ry="1.17" fill="#8a8a8a" opacity="0.2"/><ellipse cx="1.14" cy="8.75" rx="0.73" ry="0.64" fill="#8a8a8a" opacity="0.2"/><ellipse cx="-0.37" cy="18.75" rx="0.63" ry="1.10" fill="#8a8a8a" opacity="0.2"/></g>
<g transform="translate(374.10 228.90) rotate(7 0 15) scale(1.14 1)"><path d="M0.40,1.60 L1.50,2.40 L2.30,4.10 L2.20,5.70 L3.20,7.40 L3.90,10.00 L4.30,14.00 L4.30,18.00 L4.00,21.50 L3.50,24.00 L2.80,25.50 L3.20,27.00 L2.30,27.70 L1.20,26.40 L0.30,27.00 L-0.30,27.00 L-1.40,26.40 L-3.00,26.80 L-5.00,27.80 L-5.30,26.90 L-3.80,25.20 L-4.10,22.00 L-4.30,18.00 L-4.10,14.00 L-3.70,10.00 L-3.00,7.40 L-2.00,5.70 L-2.20,4.10 L-1.40,2.40 Z" fill="url(#mg)"/><path d="M-0.2,27 q-0.6,1.5 -0.3,2.8" stroke="#9a9a9a" stroke-width="0.7" fill="none"/><path d="M-1.8,10 q1.2,5 -0.2,11 M1.8,12 q0.8,3 -0.4,7 M-0.5,5 l1,0" stroke="#a8a8a8" stroke-width="0.9" fill="none" opacity="0.6"/><ellipse cx="0.81" cy="19.79" rx="0.98" ry="1.56" fill="#8a8a8a" opacity="0.2"/><ellipse cx="2.37" cy="16.10" rx="0.79" ry="1.14" fill="#8a8a8a" opacity="0.2"/><ellipse cx="0.97" cy="16.94" rx="1.34" ry="1.98" fill="#8a8a8a" opacity="0.2"/><ellipse cx="-1.17" cy="15.13" rx="1.00" ry="1.26" fill="#8a8a8a" opacity="0.2"/><ellipse cx="2.58" cy="21.89" rx="1.24" ry="1.69" fill="#8a8a8a" opacity="0.2"/><ellipse cx="-2.62" cy="8.95" rx="0.99" ry="1.38" fill="#8a8a8a" opacity="0.2"/></g>
<g transform="translate(385.10 228.90) rotate(7 0 15) scale(1.14 1)"><path d="M0.40,1.60 L1.50,2.40 L2.30,4.10 L2.20,5.70 L3.20,7.40 L3.90,10.00 L4.30,14.00 L4.30,18.00 L4.00,21.50 L3.50,24.00 L2.80,25.50 L3.20,27.00 L2.30,27.70 L1.20,26.40 L0.30,27.00 L-0.30,27.00 L-1.40,26.40 L-3.00,26.80 L-5.00,27.80 L-5.30,26.90 L-3.80,25.20 L-4.10,22.00 L-4.30,18.00 L-4.10,14.00 L-3.70,10.00 L-3.00,7.40 L-2.00,5.70 L-2.20,4.10 L-1.40,2.40 Z" fill="url(#mg)"/><path d="M-0.2,27 q-0.6,1.5 -0.3,2.8" stroke="#9a9a9a" stroke-width="0.7" fill="none"/><path d="M-1.8,10 q1.2,5 -0.2,11 M1.8,12 q0.8,3 -0.4,7 M-0.5,5 l1,0" stroke="#a8a8a8" stroke-width="0.9" fill="none" opacity="0.6"/><ellipse cx="0.80" cy="18.66" rx="1.19" ry="1.77" fill="#8a8a8a" opacity="0.2"/><ellipse cx="2.40" cy="24.76" rx="1.11" ry="1.00" fill="#8a8a8a" opacity="0.2"/><ellipse cx="-1.93" cy="6.58" rx="0.60" ry="0.74" fill="#8a8a8a" opacity="0.2"/><ellipse cx="-0.30" cy="9.72" rx="0.71" ry="1.07" fill="#8a8a8a" opacity="0.2"/><ellipse cx="-1.42" cy="8.47" rx="1.27" ry="1.57" fill="#8a8a8a" opacity="0.2"/><ellipse cx="1.49" cy="16.60" rx="0.74" ry="0.66" fill="#8a8a8a" opacity="0.2"/></g>
</g></g>
<clipPath id="cp13"><rect x="99.70" y="266.00" width="56.3" height="29.6"/></clipPath>
<g clip-path="url(#cp13)"><g filter="url(#soft)">
<rect x="98.70" y="265.00" width="58.30" height="31.60" fill="#131313" />
<g transform="translate(106.30 266.30) rotate(7 0 15) scale(1.14 1)"><path d="M0.40,1.60 L1.50,2.40 L2.30,4.10 L2.20,5.70 L3.20,7.40 L3.90,10.00 L4.30,14.00 L4.30,18.00 L4.00,21.50 L3.50,24.00 L2.80,25.50 L3.20,27.00 L2.30,27.70 L1.20,26.40 L0.30,27.00 L-0.30,27.00 L-1.40,26.40 L-3.00,26.80 L-5.00,27.80 L-5.30,26.90 L-3.80,25.20 L-4.10,22.00 L-4.30,18.00 L-4.10,14.00 L-3.70,10.00 L-3.00,7.40 L-2.00,5.70 L-2.20,4.10 L-1.40,2.40 Z" fill="url(#mg)"/><path d="M-0.2,27 q-0.6,1.5 -0.3,2.8" stroke="#9a9a9a" stroke-width="0.7" fill="none"/><path d="M-1.8,10 q1.2,5 -0.2,11 M1.8,12 q0.8,3 -0.4,7 M-0.5,5 l1,0" stroke="#a8a8a8" stroke-width="0.9" fill="none" opacity="0.6"/><ellipse cx="2.33" cy="22.06" rx="1.20" ry="1.35" fill="#8a8a8a" opacity="0.2"/><ellipse cx="1.24" cy="23.80" rx="1.42" ry="1.94" fill="#8a8a8a" opacity="0.2"/><ellipse cx="2.19" cy="22.84" rx="0.87" ry="1.19" fill="#8a8a8a" opacity="0.2"/><ellipse cx="0.80" cy="14.02" rx="0.92" ry="0.77" fill="#8a8a8a" opacity="0.2"/><ellipse cx="-1.65" cy="14.34" rx="0.60" ry="0.86" fill="#8a8a8a" opacity="0.2"/><ellipse cx="-1.87" cy="13.94" rx="1.13" ry="1.80" fill="#8a8a8a" opacity="0.2"/></g>
<g transform="translate(117.30 266.30) rotate(7 0 15) scale(1.14 1)"><path d="M0.40,1.60 L1.50,2.40 L2.30,4.10 L2.20,5.70 L3.20,7.40 L3.90,10.00 L4.30,14.00 L4.30,18.00 L4.00,21.50 L3.50,24.00 L2.80,25.50 L3.20,27.00 L2.30,27.70 L1.20,26.40 L0.30,27.00 L-0.30,27.00 L-1.40,26.40 L-3.00,26.80 L-5.00,27.80 L-5.30,26.90 L-3.80,25.20 L-4.10,22.00 L-4.30,18.00 L-4.10,14.00 L-3.70,10.00 L-3.00,7.40 L-2.00,5.70 L-2.20,4.10 L-1.40,2.40 Z" fill="url(#mg)"/><path d="M-0.2,27 q-0.6,1.5 -0.3,2.8" stroke="#9a9a9a" stroke-width="0.7" fill="none"/><path d="M-1.8,10 q1.2,5 -0.2,11 M1.8,12 q0.8,3 -0.4,7 M-0.5,5 l1,0" stroke="#a8a8a8" stroke-width="0.9" fill="none" opacity="0.6"/><ellipse cx="-1.68" cy="22.19" rx="1.31" ry="1.44" fill="#8a8a8a" opacity="0.2"/><ellipse cx="-0.68" cy="8.91" rx="1.33" ry="1.33" fill="#8a8a8a" opacity="0.2"/><ellipse cx="2.06" cy="10.39" rx="1.00" ry="0.96" fill="#8a8a8a" opacity="0.2"/><ellipse cx="-1.86" cy="19.18" rx="0.98" ry="0.92" fill="#8a8a8a" opacity="0.2"/><ellipse cx="-0.35" cy="10.12" rx="0.78" ry="1.24" fill="#8a8a8a" opacity="0.2"/><ellipse cx="2.52" cy="20.65" rx="1.14" ry="1.63" fill="#8a8a8a" opacity="0.2"/></g>
<g transform="translate(128.30 266.30) rotate(7 0 15) scale(1.14 1)"><path d="M0.40,1.60 L1.50,2.40 L2.30,4.10 L2.20,5.70 L3.20,7.40 L3.90,10.00 L4.30,14.00 L4.30,18.00 L4.00,21.50 L3.50,24.00 L2.80,25.50 L3.20,27.00 L2.30,27.70 L1.20,26.40 L0.30,27.00 L-0.30,27.00 L-1.40,26.40 L-3.00,26.80 L-5.00,27.80 L-5.30,26.90 L-3.80,25.20 L-4.10,22.00 L-4.30,18.00 L-4.10,14.00 L-3.70,10.00 L-3.00,7.40 L-2.00,5.70 L-2.20,4.10 L-1.40,2.40 Z" fill="url(#mg)"/><path d="M-0.2,27 q-0.6,1.5 -0.3,2.8" stroke="#9a9a9a" stroke-width="0.7" fill="none"/><path d="M-1.8,10 q1.2,5 -0.2,11 M1.8,12 q0.8,3 -0.4,7 M-0.5,5 l1,0" stroke="#a8a8a8" stroke-width="0.9" fill="none" opacity="0.6"/><ellipse cx="0.19" cy="15.06" rx="0.90" ry="1.61" fill="#8a8a8a" opacity="0.2"/><ellipse cx="-2.02" cy="10.05" rx="1.32" ry="1.52" fill="#8a8a8a" opacity="0.2"/><ellipse cx="-1.34" cy="6.77" rx="0.77" ry="0.73" fill="#8a8a8a" opacity="0.2"/><ellipse cx="-2.45" cy="10.01" rx="1.04" ry="1.21" fill="#8a8a8a" opacity="0.2"/><ellipse cx="-1.77" cy="14.47" rx="1.07" ry="1.40" fill="#8a8a8a" opacity="0.2"/><ellipse cx="1.29" cy="23.01" rx="1.36" ry="1.47" fill="#8a8a8a" opacity="0.2"/></g>
<g transform="translate(139.30 266.30) rotate(7 0 15) scale(1.14 1)"><path d="M0.40,1.60 L1.50,2.40 L2.30,4.10 L2.20,5.70 L3.20,7.40 L3.90,10.00 L4.30,14.00 L4.30,18.00 L4.00,21.50 L3.50,24.00 L2.80,25.50 L3.20,27.00 L2.30,27.70 L1.20,26.40 L0.30,27.00 L-0.30,27.00 L-1.40,26.40 L-3.00,26.80 L-5.00,27.80 L-5.30,26.90 L-3.80,25.20 L-4.10,22.00 L-4.30,18.00 L-4.10,14.00 L-3.70,10.00 L-3.00,7.40 L-2.00,5.70 L-2.20,4.10 L-1.40,2.40 Z" fill="url(#mg)"/><path d="M-0.2,27 q-0.6,1.5 -0.3,2.8" stroke="#9a9a9a" stroke-width="0.7" fill="none"/><path d="M-1.8,10 q1.2,5 -0.2,11 M1.8,12 q0.8,3 -0.4,7 M-0.5,5 l1,0" stroke="#a8a8a8" stroke-width="0.9" fill="none" opacity="0.6"/><ellipse cx="-1.05" cy="14.24" rx="1.15" ry="2.06" fill="#8a8a8a" opacity="0.2"/><ellipse cx="-0.88" cy="6.04" rx="1.44" ry="2.39" fill="#8a8a8a" opacity="0.2"/><ellipse cx="1.22" cy="23.03" rx="0.65" ry="0.55" fill="#8a8a8a" opacity="0.2"/><ellipse cx="1.15" cy="8.69" rx="1.19" ry="1.01" fill="#8a8a8a" opacity="0.2"/><ellipse cx="-2.74" cy="6.17" rx="1.46" ry="2.16" fill="#8a8a8a" opacity="0.2"/><ellipse cx="0.97" cy="23.70" rx="1.32" ry="2.07" fill="#8a8a8a" opacity="0.2"/></g>
<g transform="translate(150.30 266.30) rotate(7 0 15) scale(1.14 1)"><path d="M0.40,1.60 L1.50,2.40 L2.30,4.10 L2.20,5.70 L3.20,7.40 L3.90,10.00 L4.30,14.00 L4.30,18.00 L4.00,21.50 L3.50,24.00 L2.80,25.50 L3.20,27.00 L2.30,27.70 L1.20,26.40 L0.30,27.00 L-0.30,27.00 L-1.40,26.40 L-3.00,26.80 L-5.00,27.80 L-5.30,26.90 L-3.80,25.20 L-4.10,22.00 L-4.30,18.00 L-4.10,14.00 L-3.70,10.00 L-3.00,7.40 L-2.00,5.70 L-2.20,4.10 L-1.40,2.40 Z" fill="url(#mg)"/><path d="M-0.2,27 q-0.6,1.5 -0.3,2.8" stroke="#9a9a9a" stroke-width="0.7" fill="none"/><path d="M-1.8,10 q1.2,5 -0.2,11 M1.8,12 q0.8,3 -0.4,7 M-0.5,5 l1,0" stroke="#a8a8a8" stroke-width="0.9" fill="none" opacity="0.6"/><ellipse cx="-0.26" cy="12.85" rx="1.21" ry="2.11" fill="#8a8a8a" opacity="0.2"/><ellipse cx="1.29" cy="6.87" rx="0.63" ry="0.72" fill="#8a8a8a" opacity="0.2"/><ellipse cx="1.01" cy="11.16" rx="1.36" ry="1.24" fill="#8a8a8a" opacity="0.2"/><ellipse cx="-0.22" cy="15.51" rx="1.15" ry="1.28" fill="#8a8a8a" opacity="0.2"/><ellipse cx="-1.70" cy="17.12" rx="0.75" ry="0.62" fill="#8a8a8a" opacity="0.2"/><ellipse cx="1.47" cy="6.85" rx="0.86" ry="1.30" fill="#8a8a8a" opacity="0.2"/></g>
<rect x="100.10" y="268.20" width="24.6" height="26.4" rx="6" fill="#4026a8"/>
<rect x="100.90" y="269.40" width="22.8" height="24.4" rx="5" fill="#2a44d8"/>
<rect x="101.50" y="270.20" width="21.6" height="23.0" rx="4.5" fill="#22b4dc"/>
<path d="M102.30,274.00 Q102.70,270.80 106.70,271.00 Q109.70,270.40 111.70,272.50 Q113.70,270.50 117.70,271.00 Q122.20,271.00 122.30,275.00 L122.30,291.00 Q122.20,293.00 118.70,293.00 L105.70,293.00 Q102.30,293.00 102.30,290.00 Z" fill="#e2501a"/>
<ellipse cx="106.20" cy="275.50" rx="1.20" ry="1.50" fill="#4026a8"/>
<ellipse cx="117.20" cy="276.00" rx="1.30" ry="1.40" fill="#4026a8"/>
<ellipse cx="112.70" cy="291.50" rx="1.20" ry="1.00" fill="#4026a8"/>
<ellipse cx="106.20" cy="275.50" rx="0.80" ry="1.10" fill="#2a44d8"/>
<ellipse cx="117.20" cy="276.00" rx="0.90" ry="1.00" fill="#2a44d8"/>
<ellipse cx="112.70" cy="291.50" rx="0.80" ry="0.60" fill="#2a44d8"/>
<ellipse cx="106.20" cy="275.50" rx="0.50" ry="0.80" fill="#22b4dc"/>
<ellipse cx="117.20" cy="276.00" rx="0.60" ry="0.70" fill="#22b4dc"/>
<ellipse cx="112.70" cy="291.50" rx="0.50" ry="0.30" fill="#22b4dc"/>
<ellipse cx="117.20" cy="276.00" rx="0.40" ry="0.50" fill="#38c23a"/>
<path d="M0.40,1.60 L1.50,2.40 L2.30,4.10 L2.20,5.70 L3.20,7.40 L3.90,10.00 L4.30,14.00 L4.30,18.00 L4.00,21.50 L3.50,24.00 L2.80,25.50 L3.20,27.00 L2.30,27.70 L1.20,26.40 L0.30,27.00 L-0.30,27.00 L-1.40,26.40 L-3.00,26.80 L-5.00,27.80 L-5.30,26.90 L-3.80,25.20 L-4.10,22.00 L-4.30,18.00 L-4.10,14.00 L-3.70,10.00 L-3.00,7.40 L-2.00,5.70 L-2.20,4.10 L-1.40,2.40 Z" fill="#4026a8" stroke="#4026a8" stroke-width="3.2" stroke-linejoin="round" transform="translate(149.50 268.00) rotate(6) translate(0 15) scale(0.950 0.860) translate(0 -15)"/>
<path d="M0.40,1.60 L1.50,2.40 L2.30,4.10 L2.20,5.70 L3.20,7.40 L3.90,10.00 L4.30,14.00 L4.30,18.00 L4.00,21.50 L3.50,24.00 L2.80,25.50 L3.20,27.00 L2.30,27.70 L1.20,26.40 L0.30,27.00 L-0.30,27.00 L-1.40,26.40 L-3.00,26.80 L-5.00,27.80 L-5.30,26.90 L-3.80,25.20 L-4.10,22.00 L-4.30,18.00 L-4.10,14.00 L-3.70,10.00 L-3.00,7.40 L-2.00,5.70 L-2.20,4.10 L-1.40,2.40 Z" fill="#2a44d8" stroke="#2a44d8" stroke-width="2.1" stroke-linejoin="round" transform="translate(149.50 268.00) rotate(6) translate(0 15) scale(0.950 0.860) translate(0 -15)"/>
<path d="M0.40,1.60 L1.50,2.40 L2.30,4.10 L2.20,5.70 L3.20,7.40 L3.90,10.00 L4.30,14.00 L4.30,18.00 L4.00,21.50 L3.50,24.00 L2.80,25.50 L3.20,27.00 L2.30,27.70 L1.20,26.40 L0.30,27.00 L-0.30,27.00 L-1.40,26.40 L-3.00,26.80 L-5.00,27.80 L-5.30,26.90 L-3.80,25.20 L-4.10,22.00 L-4.30,18.00 L-4.10,14.00 L-3.70,10.00 L-3.00,7.40 L-2.00,5.70 L-2.20,4.10 L-1.40,2.40 Z" fill="#22b4dc" stroke="#22b4dc" stroke-width="1.3" stroke-linejoin="round" transform="translate(149.50 268.00) rotate(6) translate(0 15) scale(0.950 0.860) translate(0 -15)"/>
<path d="M0.40,1.60 L1.50,2.40 L2.30,4.10 L2.20,5.70 L3.20,7.40 L3.90,10.00 L4.30,14.00 L4.30,18.00 L4.00,21.50 L3.50,24.00 L2.80,25.50 L3.20,27.00 L2.30,27.70 L1.20,26.40 L0.30,27.00 L-0.30,27.00 L-1.40,26.40 L-3.00,26.80 L-5.00,27.80 L-5.30,26.90 L-3.80,25.20 L-4.10,22.00 L-4.30,18.00 L-4.10,14.00 L-3.70,10.00 L-3.00,7.40 L-2.00,5.70 L-2.20,4.10 L-1.40,2.40 Z" fill="#38c23a" stroke="#38c23a" stroke-width="0.7" stroke-linejoin="round" transform="translate(149.50 268.00) rotate(6) translate(0 15) scale(0.950 0.860) translate(0 -15)"/>
<path d="M0.40,1.60 L1.50,2.40 L2.30,4.10 L2.20,5.70 L3.20,7.40 L3.90,10.00 L4.30,14.00 L4.30,18.00 L4.00,21.50 L3.50,24.00 L2.80,25.50 L3.20,27.00 L2.30,27.70 L1.20,26.40 L0.30,27.00 L-0.30,27.00 L-1.40,26.40 L-3.00,26.80 L-5.00,27.80 L-5.30,26.90 L-3.80,25.20 L-4.10,22.00 L-4.30,18.00 L-4.10,14.00 L-3.70,10.00 L-3.00,7.40 L-2.00,5.70 L-2.20,4.10 L-1.40,2.40 Z" fill="#e4e030" stroke="#e4e030" stroke-width="0.25" stroke-linejoin="round" transform="translate(149.50 268.00) rotate(6) translate(0 15) scale(0.950 0.860) translate(0 -15)"/>
<path d="M0.40,1.60 L1.50,2.40 L2.30,4.10 L2.20,5.70 L3.20,7.40 L3.90,10.00 L4.30,14.00 L4.30,18.00 L4.00,21.50 L3.50,24.00 L2.80,25.50 L3.20,27.00 L2.30,27.70 L1.20,26.40 L0.30,27.00 L-0.30,27.00 L-1.40,26.40 L-3.00,26.80 L-5.00,27.80 L-5.30,26.90 L-3.80,25.20 L-4.10,22.00 L-4.30,18.00 L-4.10,14.00 L-3.70,10.00 L-3.00,7.40 L-2.00,5.70 L-2.20,4.10 L-1.40,2.40 Z" fill="#e2501a" transform="translate(149.50 268.00) rotate(6) translate(0 15) scale(0.883 0.817) translate(0 -15)"/>
</g></g>
<clipPath id="cp23"><rect x="158.30" y="266.00" width="56.3" height="29.6"/></clipPath>
<g clip-path="url(#cp23)"><g filter="url(#soft)">
<rect x="157.30" y="265.00" width="58.30" height="31.60" fill="#131313" />
<g transform="translate(164.90 266.30) rotate(7 0 15) scale(1.14 1)"><path d="M0.40,1.60 L1.50,2.40 L2.30,4.10 L2.20,5.70 L3.20,7.40 L3.90,10.00 L4.30,14.00 L4.30,18.00 L4.00,21.50 L3.50,24.00 L2.80,25.50 L3.20,27.00 L2.30,27.70 L1.20,26.40 L0.30,27.00 L-0.30,27.00 L-1.40,26.40 L-3.00,26.80 L-5.00,27.80 L-5.30,26.90 L-3.80,25.20 L-4.10,22.00 L-4.30,18.00 L-4.10,14.00 L-3.70,10.00 L-3.00,7.40 L-2.00,5.70 L-2.20,4.10 L-1.40,2.40 Z" fill="url(#mg)"/><path d="M-0.2,27 q-0.6,1.5 -0.3,2.8" stroke="#9a9a9a" stroke-width="0.7" fill="none"/><path d="M-1.8,10 q1.2,5 -0.2,11 M1.8,12 q0.8,3 -0.4,7 M-0.5,5 l1,0" stroke="#a8a8a8" stroke-width="0.9" fill="none" opacity="0.6"/><ellipse cx="-0.79" cy="21.83" rx="0.63" ry="0.68" fill="#8a8a8a" opacity="0.2"/><ellipse cx="1.83" cy="19.05" rx="0.92" ry="1.30" fill="#8a8a8a" opacity="0.2"/><ellipse cx="1.10" cy="8.83" rx="1.34" ry="1.37" fill="#8a8a8a" opacity="0.2"/><ellipse cx="0.20" cy="15.20" rx="0.86" ry="1.08" fill="#8a8a8a" opacity="0.2"/><ellipse cx="2.18" cy="7.78" rx="0.91" ry="1.62" fill="#8a8a8a" opacity="0.2"/><ellipse cx="1.17" cy="15.65" rx="0.89" ry="0.99" fill="#8a8a8a" opacity="0.2"/></g>
<g transform="translate(175.90 266.30) rotate(7 0 15) scale(1.14 1)"><path d="M0.40,1.60 L1.50,2.40 L2.30,4.10 L2.20,5.70 L3.20,7.40 L3.90,10.00 L4.30,14.00 L4.30,18.00 L4.00,21.50 L3.50,24.00 L2.80,25.50 L3.20,27.00 L2.30,27.70 L1.20,26.40 L0.30,27.00 L-0.30,27.00 L-1.40,26.40 L-3.00,26.80 L-5.00,27.80 L-5.30,26.90 L-3.80,25.20 L-4.10,22.00 L-4.30,18.00 L-4.10,14.00 L-3.70,10.00 L-3.00,7.40 L-2.00,5.70 L-2.20,4.10 L-1.40,2.40 Z" fill="url(#mg)"/><path d="M-0.2,27 q-0.6,1.5 -0.3,2.8" stroke="#9a9a9a" stroke-width="0.7" fill="none"/><path d="M-1.8,10 q1.2,5 -0.2,11 M1.8,12 q0.8,3 -0.4,7 M-0.5,5 l1,0" stroke="#a8a8a8" stroke-width="0.9" fill="none" opacity="0.6"/><ellipse cx="0.57" cy="15.04" rx="0.83" ry="0.78" fill="#8a8a8a" opacity="0.2"/><ellipse cx="2.78" cy="19.23" rx="1.25" ry="2.24" fill="#8a8a8a" opacity="0.2"/><ellipse cx="-0.50" cy="23.10" rx="0.64" ry="1.04" fill="#8a8a8a" opacity="0.2"/><ellipse cx="1.04" cy="15.65" rx="0.66" ry="1.05" fill="#8a8a8a" opacity="0.2"/><ellipse cx="-1.01" cy="17.95" rx="0.94" ry="0.92" fill="#8a8a8a" opacity="0.2"/><ellipse cx="-1.06" cy="11.74" rx="1.27" ry="1.86" fill="#8a8a8a" opacity="0.2"/></g>
<g transform="translate(186.90 266.30) rotate(7 0 15) scale(1.14 1)"><path d="M0.40,1.60 L1.50,2.40 L2.30,4.10 L2.20,5.70 L3.20,7.40 L3.90,10.00 L4.30,14.00 L4.30,18.00 L4.00,21.50 L3.50,24.00 L2.80,25.50 L3.20,27.00 L2.30,27.70 L1.20,26.40 L0.30,27.00 L-0.30,27.00 L-1.40,26.40 L-3.00,26.80 L-5.00,27.80 L-5.30,26.90 L-3.80,25.20 L-4.10,22.00 L-4.30,18.00 L-4.10,14.00 L-3.70,10.00 L-3.00,7.40 L-2.00,5.70 L-2.20,4.10 L-1.40,2.40 Z" fill="url(#mg)"/><path d="M-0.2,27 q-0.6,1.5 -0.3,2.8" stroke="#9a9a9a" stroke-width="0.7" fill="none"/><path d="M-1.8,10 q1.2,5 -0.2,11 M1.8,12 q0.8,3 -0.4,7 M-0.5,5 l1,0" stroke="#a8a8a8" stroke-width="0.9" fill="none" opacity="0.6"/><ellipse cx="-0.90" cy="16.93" rx="1.24" ry="1.46" fill="#8a8a8a" opacity="0.2"/><ellipse cx="-1.92" cy="18.57" rx="1.04" ry="1.44" fill="#8a8a8a" opacity="0.2"/><ellipse cx="0.15" cy="8.51" rx="0.68" ry="0.92" fill="#8a8a8a" opacity="0.2"/><ellipse cx="-1.44" cy="22.39" rx="0.91" ry="1.43" fill="#8a8a8a" opacity="0.2"/><ellipse cx="0.37" cy="23.61" rx="0.83" ry="1.44" fill="#8a8a8a" opacity="0.2"/><ellipse cx="-1.47" cy="21.85" rx="0.85" ry="1.13" fill="#8a8a8a" opacity="0.2"/></g>
<g transform="translate(197.90 266.30) rotate(7 0 15) scale(1.14 1)"><path d="M0.40,1.60 L1.50,2.40 L2.30,4.10 L2.20,5.70 L3.20,7.40 L3.90,10.00 L4.30,14.00 L4.30,18.00 L4.00,21.50 L3.50,24.00 L2.80,25.50 L3.20,27.00 L2.30,27.70 L1.20,26.40 L0.30,27.00 L-0.30,27.00 L-1.40,26.40 L-3.00,26.80 L-5.00,27.80 L-5.30,26.90 L-3.80,25.20 L-4.10,22.00 L-4.30,18.00 L-4.10,14.00 L-3.70,10.00 L-3.00,7.40 L-2.00,5.70 L-2.20,4.10 L-1.40,2.40 Z" fill="url(#mg)"/><path d="M-0.2,27 q-0.6,1.5 -0.3,2.8" stroke="#9a9a9a" stroke-width="0.7" fill="none"/><path d="M-1.8,10 q1.2,5 -0.2,11 M1.8,12 q0.8,3 -0.4,7 M-0.5,5 l1,0" stroke="#a8a8a8" stroke-width="0.9" fill="none" opacity="0.6"/><ellipse cx="0.24" cy="17.96" rx="0.93" ry="1.19" fill="#8a8a8a" opacity="0.2"/><ellipse cx="2.34" cy="11.38" rx="0.95" ry="1.50" fill="#8a8a8a" opacity="0.2"/><ellipse cx="2.67" cy="14.95" rx="0.86" ry="1.13" fill="#8a8a8a" opacity="0.2"/><ellipse cx="-0.12" cy="8.44" rx="1.26" ry="1.40" fill="#8a8a8a" opacity="0.2"/><ellipse cx="-2.21" cy="11.33" rx="0.75" ry="1.30" fill="#8a8a8a" opacity="0.2"/><ellipse cx="0.83" cy="18.45" rx="1.32" ry="1.14" fill="#8a8a8a" opacity="0.2"/></g>
<g transform="translate(208.90 266.30) rotate(7 0 15) scale(1.14 1)"><path d="M0.40,1.60 L1.50,2.40 L2.30,4.10 L2.20,5.70 L3.20,7.40 L3.90,10.00 L4.30,14.00 L4.30,18.00 L4.00,21.50 L3.50,24.00 L2.80,25.50 L3.20,27.00 L2.30,27.70 L1.20,26.40 L0.30,27.00 L-0.30,27.00 L-1.40,26.40 L-3.00,26.80 L-5.00,27.80 L-5.30,26.90 L-3.80,25.20 L-4.10,22.00 L-4.30,18.00 L-4.10,14.00 L-3.70,10.00 L-3.00,7.40 L-2.00,5.70 L-2.20,4.10 L-1.40,2.40 Z" fill="url(#mg)"/><path d="M-0.2,27 q-0.6,1.5 -0.3,2.8" stroke="#9a9a9a" stroke-width="0.7" fill="none"/><path d="M-1.8,10 q1.2,5 -0.2,11 M1.8,12 q0.8,3 -0.4,7 M-0.5,5 l1,0" stroke="#a8a8a8" stroke-width="0.9" fill="none" opacity="0.6"/><ellipse cx="-1.60" cy="9.27" rx="0.71" ry="1.00" fill="#8a8a8a" opacity="0.2"/><ellipse cx="0.40" cy="15.27" rx="0.96" ry="1.34" fill="#8a8a8a" opacity="0.2"/><ellipse cx="2.23" cy="13.82" rx="1.02" ry="1.14" fill="#8a8a8a" opacity="0.2"/><ellipse cx="-1.62" cy="20.07" rx="1.16" ry="1.99" fill="#8a8a8a" opacity="0.2"/><ellipse cx="1.83" cy="24.97" rx="0.81" ry="1.44" fill="#8a8a8a" opacity="0.2"/><ellipse cx="-0.35" cy="17.50" rx="1.47" ry="1.89" fill="#8a8a8a" opacity="0.2"/></g>
</g></g>
<clipPath id="cp33"><rect x="217.10" y="266.00" width="56.3" height="29.6"/></clipPath>
<g clip-path="url(#cp33)"><g filter="url(#soft)">
<rect x="216.10" y="265.00" width="58.30" height="31.60" fill="#131313" />
<ellipse cx="240.60" cy="281.50" rx="25.5" ry="16" fill="#4026a8"/>
<ellipse cx="240.10" cy="281.50" rx="22.8" ry="13.2" fill="#2a44d8"/>
<path d="M0.40,1.60 L1.50,2.40 L2.30,4.10 L2.20,5.70 L3.20,7.40 L3.90,10.00 L4.30,14.00 L4.30,18.00 L4.00,21.50 L3.50,24.00 L2.80,25.50 L3.20,27.00 L2.30,27.70 L1.20,26.40 L0.30,27.00 L-0.30,27.00 L-1.40,26.40 L-3.00,26.80 L-5.00,27.80 L-5.30,26.90 L-3.80,25.20 L-4.10,22.00 L-4.30,18.00 L-4.10,14.00 L-3.70,10.00 L-3.00,7.40 L-2.00,5.70 L-2.20,4.10 L-1.40,2.40 Z" fill="#22b4dc" stroke="#22b4dc" stroke-width="1.3" stroke-linejoin="round" transform="translate(228.90 268.60) rotate(0) translate(0 15) scale(1.900 0.880) translate(0 -15)"/>
<path d="M0.40,1.60 L1.50,2.40 L2.30,4.10 L2.20,5.70 L3.20,7.40 L3.90,10.00 L4.30,14.00 L4.30,18.00 L4.00,21.50 L3.50,24.00 L2.80,25.50 L3.20,27.00 L2.30,27.70 L1.20,26.40 L0.30,27.00 L-0.30,27.00 L-1.40,26.40 L-3.00,26.80 L-5.00,27.80 L-5.30,26.90 L-3.80,25.20 L-4.10,22.00 L-4.30,18.00 L-4.10,14.00 L-3.70,10.00 L-3.00,7.40 L-2.00,5.70 L-2.20,4.10 L-1.40,2.40 Z" fill="#22b4dc" stroke="#22b4dc" stroke-width="1.3" stroke-linejoin="round" transform="translate(245.10 269.00) rotate(0) translate(0 15) scale(1.000 0.880) translate(0 -15)"/>
<path d="M0.40,1.60 L1.50,2.40 L2.30,4.10 L2.20,5.70 L3.20,7.40 L3.90,10.00 L4.30,14.00 L4.30,18.00 L4.00,21.50 L3.50,24.00 L2.80,25.50 L3.20,27.00 L2.30,27.70 L1.20,26.40 L0.30,27.00 L-0.30,27.00 L-1.40,26.40 L-3.00,26.80 L-5.00,27.80 L-5.30,26.90 L-3.80,25.20 L-4.10,22.00 L-4.30,18.00 L-4.10,14.00 L-3.70,10.00 L-3.00,7.40 L-2.00,5.70 L-2.20,4.10 L-1.40,2.40 Z" fill="#22b4dc" stroke="#22b4dc" stroke-width="1.3" stroke-linejoin="round" transform="translate(256.90 269.00) rotate(0) translate(0 15) scale(1.050 0.880) translate(0 -15)"/>
<path d="M0.40,1.60 L1.50,2.40 L2.30,4.10 L2.20,5.70 L3.20,7.40 L3.90,10.00 L4.30,14.00 L4.30,18.00 L4.00,21.50 L3.50,24.00 L2.80,25.50 L3.20,27.00 L2.30,27.70 L1.20,26.40 L0.30,27.00 L-0.30,27.00 L-1.40,26.40 L-3.00,26.80 L-5.00,27.80 L-5.30,26.90 L-3.80,25.20 L-4.10,22.00 L-4.30,18.00 L-4.10,14.00 L-3.70,10.00 L-3.00,7.40 L-2.00,5.70 L-2.20,4.10 L-1.40,2.40 Z" fill="#38c23a" stroke="#38c23a" stroke-width="0.7" stroke-linejoin="round" transform="translate(228.90 268.60) rotate(0) translate(0 15) scale(1.900 0.880) translate(0 -15)"/>
<path d="M0.40,1.60 L1.50,2.40 L2.30,4.10 L2.20,5.70 L3.20,7.40 L3.90,10.00 L4.30,14.00 L4.30,18.00 L4.00,21.50 L3.50,24.00 L2.80,25.50 L3.20,27.00 L2.30,27.70 L1.20,26.40 L0.30,27.00 L-0.30,27.00 L-1.40,26.40 L-3.00,26.80 L-5.00,27.80 L-5.30,26.90 L-3.80,25.20 L-4.10,22.00 L-4.30,18.00 L-4.10,14.00 L-3.70,10.00 L-3.00,7.40 L-2.00,5.70 L-2.20,4.10 L-1.40,2.40 Z" fill="#38c23a" stroke="#38c23a" stroke-width="0.7" stroke-linejoin="round" transform="translate(245.10 269.00) rotate(0) translate(0 15) scale(1.000 0.880) translate(0 -15)"/>
<path d="M0.40,1.60 L1.50,2.40 L2.30,4.10 L2.20,5.70 L3.20,7.40 L3.90,10.00 L4.30,14.00 L4.30,18.00 L4.00,21.50 L3.50,24.00 L2.80,25.50 L3.20,27.00 L2.30,27.70 L1.20,26.40 L0.30,27.00 L-0.30,27.00 L-1.40,26.40 L-3.00,26.80 L-5.00,27.80 L-5.30,26.90 L-3.80,25.20 L-4.10,22.00 L-4.30,18.00 L-4.10,14.00 L-3.70,10.00 L-3.00,7.40 L-2.00,5.70 L-2.20,4.10 L-1.40,2.40 Z" fill="#38c23a" stroke="#38c23a" stroke-width="0.7" stroke-linejoin="round" transform="translate(256.90 269.00) rotate(0) translate(0 15) scale(1.050 0.880) translate(0 -15)"/>
<path d="M0.40,1.60 L1.50,2.40 L2.30,4.10 L2.20,5.70 L3.20,7.40 L3.90,10.00 L4.30,14.00 L4.30,18.00 L4.00,21.50 L3.50,24.00 L2.80,25.50 L3.20,27.00 L2.30,27.70 L1.20,26.40 L0.30,27.00 L-0.30,27.00 L-1.40,26.40 L-3.00,26.80 L-5.00,27.80 L-5.30,26.90 L-3.80,25.20 L-4.10,22.00 L-4.30,18.00 L-4.10,14.00 L-3.70,10.00 L-3.00,7.40 L-2.00,5.70 L-2.20,4.10 L-1.40,2.40 Z" fill="#e4e030" stroke="#e4e030" stroke-width="0.25" stroke-linejoin="round" transform="translate(228.90 268.60) rotate(0) translate(0 15) scale(1.900 0.880) translate(0 -15)"/>
<path d="M0.40,1.60 L1.50,2.40 L2.30,4.10 L2.20,5.70 L3.20,7.40 L3.90,10.00 L4.30,14.00 L4.30,18.00 L4.00,21.50 L3.50,24.00 L2.80,25.50 L3.20,27.00 L2.30,27.70 L1.20,26.40 L0.30,27.00 L-0.30,27.00 L-1.40,26.40 L-3.00,26.80 L-5.00,27.80 L-5.30,26.90 L-3.80,25.20 L-4.10,22.00 L-4.30,18.00 L-4.10,14.00 L-3.70,10.00 L-3.00,7.40 L-2.00,5.70 L-2.20,4.10 L-1.40,2.40 Z" fill="#e4e030" stroke="#e4e030" stroke-width="0.25" stroke-linejoin="round" transform="translate(245.10 269.00) rotate(0) translate(0 15) scale(1.000 0.880) translate(0 -15)"/>
<path d="M0.40,1.60 L1.50,2.40 L2.30,4.10 L2.20,5.70 L3.20,7.40 L3.90,10.00 L4.30,14.00 L4.30,18.00 L4.00,21.50 L3.50,24.00 L2.80,25.50 L3.20,27.00 L2.30,27.70 L1.20,26.40 L0.30,27.00 L-0.30,27.00 L-1.40,26.40 L-3.00,26.80 L-5.00,27.80 L-5.30,26.90 L-3.80,25.20 L-4.10,22.00 L-4.30,18.00 L-4.10,14.00 L-3.70,10.00 L-3.00,7.40 L-2.00,5.70 L-2.20,4.10 L-1.40,2.40 Z" fill="#e4e030" stroke="#e4e030" stroke-width="0.25" stroke-linejoin="round" transform="translate(256.90 269.00) rotate(0) translate(0 15) scale(1.050 0.880) translate(0 -15)"/>
<path d="M0.40,1.60 L1.50,2.40 L2.30,4.10 L2.20,5.70 L3.20,7.40 L3.90,10.00 L4.30,14.00 L4.30,18.00 L4.00,21.50 L3.50,24.00 L2.80,25.50 L3.20,27.00 L2.30,27.70 L1.20,26.40 L0.30,27.00 L-0.30,27.00 L-1.40,26.40 L-3.00,26.80 L-5.00,27.80 L-5.30,26.90 L-3.80,25.20 L-4.10,22.00 L-4.30,18.00 L-4.10,14.00 L-3.70,10.00 L-3.00,7.40 L-2.00,5.70 L-2.20,4.10 L-1.40,2.40 Z" fill="#e2501a" transform="translate(228.90 268.60) rotate(0) translate(0 15) scale(1.767 0.836) translate(0 -15)"/>
<path d="M0.40,1.60 L1.50,2.40 L2.30,4.10 L2.20,5.70 L3.20,7.40 L3.90,10.00 L4.30,14.00 L4.30,18.00 L4.00,21.50 L3.50,24.00 L2.80,25.50 L3.20,27.00 L2.30,27.70 L1.20,26.40 L0.30,27.00 L-0.30,27.00 L-1.40,26.40 L-3.00,26.80 L-5.00,27.80 L-5.30,26.90 L-3.80,25.20 L-4.10,22.00 L-4.30,18.00 L-4.10,14.00 L-3.70,10.00 L-3.00,7.40 L-2.00,5.70 L-2.20,4.10 L-1.40,2.40 Z" fill="#e2501a" transform="translate(245.10 269.00) rotate(0) translate(0 15) scale(0.930 0.836) translate(0 -15)"/>
<path d="M0.40,1.60 L1.50,2.40 L2.30,4.10 L2.20,5.70 L3.20,7.40 L3.90,10.00 L4.30,14.00 L4.30,18.00 L4.00,21.50 L3.50,24.00 L2.80,25.50 L3.20,27.00 L2.30,27.70 L1.20,26.40 L0.30,27.00 L-0.30,27.00 L-1.40,26.40 L-3.00,26.80 L-5.00,27.80 L-5.30,26.90 L-3.80,25.20 L-4.10,22.00 L-4.30,18.00 L-4.10,14.00 L-3.70,10.00 L-3.00,7.40 L-2.00,5.70 L-2.20,4.10 L-1.40,2.40 Z" fill="#e2501a" transform="translate(256.90 269.00) rotate(0) translate(0 15) scale(0.977 0.836) translate(0 -15)"/>
<ellipse cx="224.44" cy="274.45" rx="1.01" ry="1.11" fill="#38c23a"/>
<ellipse cx="237.19" cy="280.18" rx="1.07" ry="1.18" fill="#2a44d8"/>
<ellipse cx="239.72" cy="287.54" rx="0.75" ry="0.82" fill="#e4e030"/>
<ellipse cx="253.11" cy="275.36" rx="1.07" ry="1.18" fill="#2a44d8"/>
<ellipse cx="251.29" cy="286.33" rx="0.65" ry="0.72" fill="#2a44d8"/>
<ellipse cx="249.03" cy="283.87" rx="0.83" ry="0.91" fill="#e4e030"/>
<ellipse cx="236.13" cy="290.57" rx="0.99" ry="1.09" fill="#2a44d8"/>
<ellipse cx="228.04" cy="274.59" rx="1.00" ry="1.10" fill="#38c23a"/>
<ellipse cx="257.39" cy="286.65" rx="0.91" ry="1.00" fill="#22b4dc"/>
<ellipse cx="257.05" cy="279.54" rx="0.92" ry="1.01" fill="#22b4dc"/>
</g></g>
<clipPath id="cp43"><rect x="275.60" y="266.00" width="56.3" height="29.6"/></clipPath>
<g clip-path="url(#cp43)"><g filter="url(#soft)">
<rect x="274.60" y="265.00" width="58.30" height="31.60" fill="#131313" />
<g transform="translate(282.20 266.30) rotate(7 0 15) scale(1.14 1)"><path d="M0.40,1.60 L1.50,2.40 L2.30,4.10 L2.20,5.70 L3.20,7.40 L3.90,10.00 L4.30,14.00 L4.30,18.00 L4.00,21.50 L3.50,24.00 L2.80,25.50 L3.20,27.00 L2.30,27.70 L1.20,26.40 L0.30,27.00 L-0.30,27.00 L-1.40,26.40 L-3.00,26.80 L-5.00,27.80 L-5.30,26.90 L-3.80,25.20 L-4.10,22.00 L-4.30,18.00 L-4.10,14.00 L-3.70,10.00 L-3.00,7.40 L-2.00,5.70 L-2.20,4.10 L-1.40,2.40 Z" fill="url(#mg)"/><path d="M-0.2,27 q-0.6,1.5 -0.3,2.8" stroke="#9a9a9a" stroke-width="0.7" fill="none"/><path d="M-1.8,10 q1.2,5 -0.2,11 M1.8,12 q0.8,3 -0.4,7 M-0.5,5 l1,0" stroke="#a8a8a8" stroke-width="0.9" fill="none" opacity="0.6"/><ellipse cx="0.75" cy="23.49" rx="0.71" ry="0.91" fill="#8a8a8a" opacity="0.2"/><ellipse cx="-2.33" cy="10.40" rx="0.97" ry="0.92" fill="#8a8a8a" opacity="0.2"/><ellipse cx="0.01" cy="22.99" rx="1.22" ry="1.08" fill="#8a8a8a" opacity="0.2"/><ellipse cx="2.57" cy="13.80" rx="0.68" ry="0.62" fill="#8a8a8a" opacity="0.2"/><ellipse cx="0.87" cy="5.80" rx="1.09" ry="1.58" fill="#8a8a8a" opacity="0.2"/><ellipse cx="-1.01" cy="21.36" rx="1.24" ry="2.19" fill="#8a8a8a" opacity="0.2"/></g>
<g transform="translate(293.20 266.30) rotate(7 0 15) scale(1.14 1)"><path d="M0.40,1.60 L1.50,2.40 L2.30,4.10 L2.20,5.70 L3.20,7.40 L3.90,10.00 L4.30,14.00 L4.30,18.00 L4.00,21.50 L3.50,24.00 L2.80,25.50 L3.20,27.00 L2.30,27.70 L1.20,26.40 L0.30,27.00 L-0.30,27.00 L-1.40,26.40 L-3.00,26.80 L-5.00,27.80 L-5.30,26.90 L-3.80,25.20 L-4.10,22.00 L-4.30,18.00 L-4.10,14.00 L-3.70,10.00 L-3.00,7.40 L-2.00,5.70 L-2.20,4.10 L-1.40,2.40 Z" fill="url(#mg)"/><path d="M-0.2,27 q-0.6,1.5 -0.3,2.8" stroke="#9a9a9a" stroke-width="0.7" fill="none"/><path d="M-1.8,10 q1.2,5 -0.2,11 M1.8,12 q0.8,3 -0.4,7 M-0.5,5 l1,0" stroke="#a8a8a8" stroke-width="0.9" fill="none" opacity="0.6"/><ellipse cx="0.15" cy="5.44" rx="1.39" ry="1.96" fill="#8a8a8a" opacity="0.2"/><ellipse cx="-0.04" cy="15.94" rx="0.91" ry="1.23" fill="#8a8a8a" opacity="0.2"/><ellipse cx="1.49" cy="9.08" rx="1.03" ry="1.09" fill="#8a8a8a" opacity="0.2"/><ellipse cx="-0.08" cy="8.95" rx="0.71" ry="0.66" fill="#8a8a8a" opacity="0.2"/><ellipse cx="-2.16" cy="20.50" rx="1.26" ry="1.51" fill="#8a8a8a" opacity="0.2"/><ellipse cx="-1.44" cy="17.71" rx="0.74" ry="0.84" fill="#8a8a8a" opacity="0.2"/></g>
<g transform="translate(304.20 266.30) rotate(7 0 15) scale(1.14 1)"><path d="M0.40,1.60 L1.50,2.40 L2.30,4.10 L2.20,5.70 L3.20,7.40 L3.90,10.00 L4.30,14.00 L4.30,18.00 L4.00,21.50 L3.50,24.00 L2.80,25.50 L3.20,27.00 L2.30,27.70 L1.20,26.40 L0.30,27.00 L-0.30,27.00 L-1.40,26.40 L-3.00,26.80 L-5.00,27.80 L-5.30,26.90 L-3.80,25.20 L-4.10,22.00 L-4.30,18.00 L-4.10,14.00 L-3.70,10.00 L-3.00,7.40 L-2.00,5.70 L-2.20,4.10 L-1.40,2.40 Z" fill="url(#mg)"/><path d="M-0.2,27 q-0.6,1.5 -0.3,2.8" stroke="#9a9a9a" stroke-width="0.7" fill="none"/><path d="M-1.8,10 q1.2,5 -0.2,11 M1.8,12 q0.8,3 -0.4,7 M-0.5,5 l1,0" stroke="#a8a8a8" stroke-width="0.9" fill="none" opacity="0.6"/><ellipse cx="-1.81" cy="15.61" rx="0.87" ry="1.55" fill="#8a8a8a" opacity="0.2"/><ellipse cx="2.52" cy="13.56" rx="1.34" ry="2.08" fill="#8a8a8a" opacity="0.2"/><ellipse cx="0.77" cy="7.12" rx="1.15" ry="1.19" fill="#8a8a8a" opacity="0.2"/><ellipse cx="-2.35" cy="24.77" rx="1.34" ry="1.71" fill="#8a8a8a" opacity="0.2"/><ellipse cx="-0.61" cy="17.93" rx="1.13" ry="1.18" fill="#8a8a8a" opacity="0.2"/><ellipse cx="0.21" cy="5.57" rx="1.07" ry="1.84" fill="#8a8a8a" opacity="0.2"/></g>
<g transform="translate(315.20 266.30) rotate(7 0 15) scale(1.14 1)"><path d="M0.40,1.60 L1.50,2.40 L2.30,4.10 L2.20,5.70 L3.20,7.40 L3.90,10.00 L4.30,14.00 L4.30,18.00 L4.00,21.50 L3.50,24.00 L2.80,25.50 L3.20,27.00 L2.30,27.70 L1.20,26.40 L0.30,27.00 L-0.30,27.00 L-1.40,26.40 L-3.00,26.80 L-5.00,27.80 L-5.30,26.90 L-3.80,25.20 L-4.10,22.00 L-4.30,18.00 L-4.10,14.00 L-3.70,10.00 L-3.00,7.40 L-2.00,5.70 L-2.20,4.10 L-1.40,2.40 Z" fill="url(#mg)"/><path d="M-0.2,27 q-0.6,1.5 -0.3,2.8" stroke="#9a9a9a" stroke-width="0.7" fill="none"/><path d="M-1.8,10 q1.2,5 -0.2,11 M1.8,12 q0.8,3 -0.4,7 M-0.5,5 l1,0" stroke="#a8a8a8" stroke-width="0.9" fill="none" opacity="0.6"/><ellipse cx="-0.54" cy="9.94" rx="1.30" ry="1.94" fill="#8a8a8a" opacity="0.2"/><ellipse cx="-0.08" cy="7.23" rx="0.63" ry="0.90" fill="#8a8a8a" opacity="0.2"/><ellipse cx="1.23" cy="23.22" rx="0.86" ry="1.07" fill="#8a8a8a" opacity="0.2"/><ellipse cx="-0.53" cy="11.07" rx="0.75" ry="0.87" fill="#8a8a8a" opacity="0.2"/><ellipse cx="0.48" cy="8.95" rx="1.40" ry="1.62" fill="#8a8a8a" opacity="0.2"/><ellipse cx="-0.05" cy="13.95" rx="1.30" ry="1.89" fill="#8a8a8a" opacity="0.2"/></g>
<g transform="translate(326.20 266.30) rotate(7 0 15) scale(1.14 1)"><path d="M0.40,1.60 L1.50,2.40 L2.30,4.10 L2.20,5.70 L3.20,7.40 L3.90,10.00 L4.30,14.00 L4.30,18.00 L4.00,21.50 L3.50,24.00 L2.80,25.50 L3.20,27.00 L2.30,27.70 L1.20,26.40 L0.30,27.00 L-0.30,27.00 L-1.40,26.40 L-3.00,26.80 L-5.00,27.80 L-5.30,26.90 L-3.80,25.20 L-4.10,22.00 L-4.30,18.00 L-4.10,14.00 L-3.70,10.00 L-3.00,7.40 L-2.00,5.70 L-2.20,4.10 L-1.40,2.40 Z" fill="url(#mg)"/><path d="M-0.2,27 q-0.6,1.5 -0.3,2.8" stroke="#9a9a9a" stroke-width="0.7" fill="none"/><path d="M-1.8,10 q1.2,5 -0.2,11 M1.8,12 q0.8,3 -0.4,7 M-0.5,5 l1,0" stroke="#a8a8a8" stroke-width="0.9" fill="none" opacity="0.6"/><ellipse cx="2.68" cy="19.16" rx="0.80" ry="1.05" fill="#8a8a8a" opacity="0.2"/><ellipse cx="1.60" cy="7.71" rx="1.44" ry="1.34" fill="#8a8a8a" opacity="0.2"/><ellipse cx="-1.74" cy="17.22" rx="1.11" ry="1.76" fill="#8a8a8a" opacity="0.2"/><ellipse cx="1.11" cy="13.08" rx="1.04" ry="1.08" fill="#8a8a8a" opacity="0.2"/><ellipse cx="-2.60" cy="24.01" rx="0.87" ry="1.11" fill="#8a8a8a" opacity="0.2"/><ellipse cx="1.86" cy="10.02" rx="0.71" ry="0.91" fill="#8a8a8a" opacity="0.2"/></g>
<rect x="276.60" y="272.00" width="54.5" height="23.5" rx="6" fill="#4026a8"/>
<ellipse cx="282.50" cy="280.00" rx="5.20" ry="6.50" fill="#4026a8"/>
<ellipse cx="282.20" cy="286.00" rx="5.90" ry="7.60" fill="#4026a8"/>
<ellipse cx="293.70" cy="277.50" rx="5.20" ry="6.50" fill="#4026a8"/>
<ellipse cx="293.40" cy="285.00" rx="5.90" ry="8.20" fill="#4026a8"/>
<ellipse cx="304.50" cy="278.00" rx="5.40" ry="6.50" fill="#4026a8"/>
<ellipse cx="304.40" cy="285.00" rx="6.10" ry="8.20" fill="#4026a8"/>
<ellipse cx="315.50" cy="279.50" rx="5.40" ry="6.50" fill="#4026a8"/>
<ellipse cx="315.40" cy="286.00" rx="6.10" ry="7.80" fill="#4026a8"/>
<ellipse cx="326.70" cy="277.00" rx="5.60" ry="7.00" fill="#4026a8"/>
<ellipse cx="326.40" cy="285.00" rx="6.40" ry="8.60" fill="#4026a8"/>
<ellipse cx="282.50" cy="280.00" rx="4.60" ry="5.90" fill="#2a44d8"/>
<ellipse cx="282.20" cy="286.00" rx="5.30" ry="7.00" fill="#2a44d8"/>
<ellipse cx="293.70" cy="277.50" rx="4.60" ry="5.90" fill="#2a44d8"/>
<ellipse cx="293.40" cy="285.00" rx="5.30" ry="7.60" fill="#2a44d8"/>
<ellipse cx="304.50" cy="278.00" rx="4.80" ry="5.90" fill="#2a44d8"/>
<ellipse cx="304.40" cy="285.00" rx="5.50" ry="7.60" fill="#2a44d8"/>
<ellipse cx="315.50" cy="279.50" rx="4.80" ry="5.90" fill="#2a44d8"/>
<ellipse cx="315.40" cy="286.00" rx="5.50" ry="7.20" fill="#2a44d8"/>
<ellipse cx="326.70" cy="277.00" rx="5.00" ry="6.40" fill="#2a44d8"/>
<ellipse cx="326.40" cy="285.00" rx="5.80" ry="8.00" fill="#2a44d8"/>
<ellipse cx="282.50" cy="280.00" rx="4.20" ry="5.50" fill="#22b4dc"/>
<ellipse cx="282.20" cy="286.00" rx="4.90" ry="6.60" fill="#22b4dc"/>
<ellipse cx="293.70" cy="277.50" rx="4.20" ry="5.50" fill="#22b4dc"/>
<ellipse cx="293.40" cy="285.00" rx="4.90" ry="7.20" fill="#22b4dc"/>
<ellipse cx="304.50" cy="278.00" rx="4.40" ry="5.50" fill="#22b4dc"/>
<ellipse cx="304.40" cy="285.00" rx="5.10" ry="7.20" fill="#22b4dc"/>
<ellipse cx="315.50" cy="279.50" rx="4.40" ry="5.50" fill="#22b4dc"/>
<ellipse cx="315.40" cy="286.00" rx="5.10" ry="6.80" fill="#22b4dc"/>
<ellipse cx="326.70" cy="277.00" rx="4.60" ry="6.00" fill="#22b4dc"/>
<ellipse cx="326.40" cy="285.00" rx="5.40" ry="7.60" fill="#22b4dc"/>
<ellipse cx="282.50" cy="280.00" rx="3.90" ry="5.20" fill="#38c23a"/>
<ellipse cx="282.20" cy="286.00" rx="4.60" ry="6.30" fill="#38c23a"/>
<ellipse cx="293.70" cy="277.50" rx="3.90" ry="5.20" fill="#38c23a"/>
<ellipse cx="293.40" cy="285.00" rx="4.60" ry="6.90" fill="#38c23a"/>
<ellipse cx="304.50" cy="278.00" rx="4.10" ry="5.20" fill="#38c23a"/>
<ellipse cx="304.40" cy="285.00" rx="4.80" ry="6.90" fill="#38c23a"/>
<ellipse cx="315.50" cy="279.50" rx="4.10" ry="5.20" fill="#38c23a"/>
<ellipse cx="315.40" cy="286.00" rx="4.80" ry="6.50" fill="#38c23a"/>
<ellipse cx="326.70" cy="277.00" rx="4.30" ry="5.70" fill="#38c23a"/>
<ellipse cx="326.40" cy="285.00" rx="5.10" ry="7.30" fill="#38c23a"/>
<ellipse cx="282.50" cy="280.00" rx="3.70" ry="5.00" fill="#e4e030"/>
<ellipse cx="282.20" cy="286.00" rx="4.40" ry="6.10" fill="#e4e030"/>
<ellipse cx="293.70" cy="277.50" rx="3.70" ry="5.00" fill="#e4e030"/>
<ellipse cx="293.40" cy="285.00" rx="4.40" ry="6.70" fill="#e4e030"/>
<ellipse cx="304.50" cy="278.00" rx="3.90" ry="5.00" fill="#e4e030"/>
<ellipse cx="304.40" cy="285.00" rx="4.60" ry="6.70" fill="#e4e030"/>
<ellipse cx="315.50" cy="279.50" rx="3.90" ry="5.00" fill="#e4e030"/>
<ellipse cx="315.40" cy="286.00" rx="4.60" ry="6.30" fill="#e4e030"/>
<ellipse cx="326.70" cy="277.00" rx="4.10" ry="5.50" fill="#e4e030"/>
<ellipse cx="326.40" cy="285.00" rx="4.90" ry="7.10" fill="#e4e030"/>
<ellipse cx="282.50" cy="280.00" rx="3.55" ry="4.85" fill="#e2501a"/>
<ellipse cx="282.20" cy="286.00" rx="4.25" ry="5.95" fill="#e2501a"/>
<ellipse cx="293.70" cy="277.50" rx="3.55" ry="4.85" fill="#e2501a"/>
<ellipse cx="293.40" cy="285.00" rx="4.25" ry="6.55" fill="#e2501a"/>
<ellipse cx="304.50" cy="278.00" rx="3.75" ry="4.85" fill="#e2501a"/>
<ellipse cx="304.40" cy="285.00" rx="4.45" ry="6.55" fill="#e2501a"/>
<ellipse cx="315.50" cy="279.50" rx="3.75" ry="4.85" fill="#e2501a"/>
<ellipse cx="315.40" cy="286.00" rx="4.45" ry="6.15" fill="#e2501a"/>
<ellipse cx="326.70" cy="277.00" rx="3.95" ry="5.35" fill="#e2501a"/>
<ellipse cx="326.40" cy="285.00" rx="4.75" ry="6.95" fill="#e2501a"/>
<ellipse cx="318.56" cy="275.61" rx="0.74" ry="0.82" fill="#22b4dc"/>
<ellipse cx="293.22" cy="280.62" rx="1.20" ry="1.32" fill="#22b4dc"/>
<ellipse cx="285.87" cy="278.05" rx="0.90" ry="0.99" fill="#38c23a"/>
<ellipse cx="280.02" cy="280.66" rx="0.70" ry="0.77" fill="#22b4dc"/>
<ellipse cx="303.97" cy="279.69" rx="0.71" ry="0.78" fill="#38c23a"/>
<ellipse cx="284.47" cy="277.41" rx="0.76" ry="0.83" fill="#38c23a"/>
<ellipse cx="288.85" cy="274.53" rx="0.65" ry="0.71" fill="#22b4dc"/>
<ellipse cx="313.46" cy="280.21" rx="0.96" ry="1.05" fill="#2a44d8"/>
<ellipse cx="282.41" cy="279.72" rx="1.19" ry="1.31" fill="#2a44d8"/>
<ellipse cx="289.20" cy="275.63" rx="0.65" ry="0.72" fill="#2a44d8"/>
</g></g>
<clipPath id="cp53"><rect x="334.50" y="266.00" width="56.3" height="29.6"/></clipPath>
<g clip-path="url(#cp53)"><g filter="url(#soft)">
<rect x="333.50" y="265.00" width="58.30" height="31.60" fill="#131313" />
<g transform="translate(341.10 266.30) rotate(7 0 15) scale(1.14 1)"><path d="M0.40,1.60 L1.50,2.40 L2.30,4.10 L2.20,5.70 L3.20,7.40 L3.90,10.00 L4.30,14.00 L4.30,18.00 L4.00,21.50 L3.50,24.00 L2.80,25.50 L3.20,27.00 L2.30,27.70 L1.20,26.40 L0.30,27.00 L-0.30,27.00 L-1.40,26.40 L-3.00,26.80 L-5.00,27.80 L-5.30,26.90 L-3.80,25.20 L-4.10,22.00 L-4.30,18.00 L-4.10,14.00 L-3.70,10.00 L-3.00,7.40 L-2.00,5.70 L-2.20,4.10 L-1.40,2.40 Z" fill="url(#mg)"/><path d="M-0.2,27 q-0.6,1.5 -0.3,2.8" stroke="#9a9a9a" stroke-width="0.7" fill="none"/><path d="M-1.8,10 q1.2,5 -0.2,11 M1.8,12 q0.8,3 -0.4,7 M-0.5,5 l1,0" stroke="#a8a8a8" stroke-width="0.9" fill="none" opacity="0.6"/><ellipse cx="-0.79" cy="24.99" rx="0.93" ry="0.90" fill="#8a8a8a" opacity="0.2"/><ellipse cx="2.57" cy="17.59" rx="0.73" ry="1.28" fill="#8a8a8a" opacity="0.2"/><ellipse cx="1.25" cy="22.02" rx="0.80" ry="0.73" fill="#8a8a8a" opacity="0.2"/><ellipse cx="1.94" cy="10.34" rx="1.16" ry="1.53" fill="#8a8a8a" opacity="0.2"/><ellipse cx="1.70" cy="8.90" rx="0.88" ry="0.97" fill="#8a8a8a" opacity="0.2"/><ellipse cx="2.79" cy="17.32" rx="0.93" ry="0.77" fill="#8a8a8a" opacity="0.2"/></g>
<g transform="translate(352.10 266.30) rotate(7 0 15) scale(1.14 1)"><path d="M0.40,1.60 L1.50,2.40 L2.30,4.10 L2.20,5.70 L3.20,7.40 L3.90,10.00 L4.30,14.00 L4.30,18.00 L4.00,21.50 L3.50,24.00 L2.80,25.50 L3.20,27.00 L2.30,27.70 L1.20,26.40 L0.30,27.00 L-0.30,27.00 L-1.40,26.40 L-3.00,26.80 L-5.00,27.80 L-5.30,26.90 L-3.80,25.20 L-4.10,22.00 L-4.30,18.00 L-4.10,14.00 L-3.70,10.00 L-3.00,7.40 L-2.00,5.70 L-2.20,4.10 L-1.40,2.40 Z" fill="url(#mg)"/><path d="M-0.2,27 q-0.6,1.5 -0.3,2.8" stroke="#9a9a9a" stroke-width="0.7" fill="none"/><path d="M-1.8,10 q1.2,5 -0.2,11 M1.8,12 q0.8,3 -0.4,7 M-0.5,5 l1,0" stroke="#a8a8a8" stroke-width="0.9" fill="none" opacity="0.6"/><ellipse cx="1.29" cy="7.64" rx="1.22" ry="2.06" fill="#8a8a8a" opacity="0.2"/><ellipse cx="1.53" cy="13.29" rx="0.74" ry="1.18" fill="#8a8a8a" opacity="0.2"/><ellipse cx="-1.19" cy="18.47" rx="0.83" ry="1.18" fill="#8a8a8a" opacity="0.2"/><ellipse cx="-0.22" cy="10.99" rx="1.05" ry="1.78" fill="#8a8a8a" opacity="0.2"/><ellipse cx="1.67" cy="21.81" rx="0.83" ry="0.76" fill="#8a8a8a" opacity="0.2"/><ellipse cx="2.48" cy="20.88" rx="0.78" ry="0.72" fill="#8a8a8a" opacity="0.2"/></g>
<g transform="translate(363.10 266.30) rotate(7 0 15) scale(1.14 1)"><path d="M0.40,1.60 L1.50,2.40 L2.30,4.10 L2.20,5.70 L3.20,7.40 L3.90,10.00 L4.30,14.00 L4.30,18.00 L4.00,21.50 L3.50,24.00 L2.80,25.50 L3.20,27.00 L2.30,27.70 L1.20,26.40 L0.30,27.00 L-0.30,27.00 L-1.40,26.40 L-3.00,26.80 L-5.00,27.80 L-5.30,26.90 L-3.80,25.20 L-4.10,22.00 L-4.30,18.00 L-4.10,14.00 L-3.70,10.00 L-3.00,7.40 L-2.00,5.70 L-2.20,4.10 L-1.40,2.40 Z" fill="url(#mg)"/><path d="M-0.2,27 q-0.6,1.5 -0.3,2.8" stroke="#9a9a9a" stroke-width="0.7" fill="none"/><path d="M-1.8,10 q1.2,5 -0.2,11 M1.8,12 q0.8,3 -0.4,7 M-0.5,5 l1,0" stroke="#a8a8a8" stroke-width="0.9" fill="none" opacity="0.6"/><ellipse cx="-0.55" cy="14.49" rx="1.02" ry="1.80" fill="#8a8a8a" opacity="0.2"/><ellipse cx="0.78" cy="8.90" rx="1.32" ry="1.24" fill="#8a8a8a" opacity="0.2"/><ellipse cx="-0.61" cy="21.12" rx="0.97" ry="1.11" fill="#8a8a8a" opacity="0.2"/><ellipse cx="-1.96" cy="16.51" rx="1.21" ry="2.06" fill="#8a8a8a" opacity="0.2"/><ellipse cx="-0.35" cy="11.41" rx="1.42" ry="2.33" fill="#8a8a8a" opacity="0.2"/><ellipse cx="2.35" cy="19.17" rx="1.19" ry="1.37" fill="#8a8a8a" opacity="0.2"/></g>
<g transform="translate(374.10 266.30) rotate(7 0 15) scale(1.14 1)"><path d="M0.40,1.60 L1.50,2.40 L2.30,4.10 L2.20,5.70 L3.20,7.40 L3.90,10.00 L4.30,14.00 L4.30,18.00 L4.00,21.50 L3.50,24.00 L2.80,25.50 L3.20,27.00 L2.30,27.70 L1.20,26.40 L0.30,27.00 L-0.30,27.00 L-1.40,26.40 L-3.00,26.80 L-5.00,27.80 L-5.30,26.90 L-3.80,25.20 L-4.10,22.00 L-4.30,18.00 L-4.10,14.00 L-3.70,10.00 L-3.00,7.40 L-2.00,5.70 L-2.20,4.10 L-1.40,2.40 Z" fill="url(#mg)"/><path d="M-0.2,27 q-0.6,1.5 -0.3,2.8" stroke="#9a9a9a" stroke-width="0.7" fill="none"/><path d="M-1.8,10 q1.2,5 -0.2,11 M1.8,12 q0.8,3 -0.4,7 M-0.5,5 l1,0" stroke="#a8a8a8" stroke-width="0.9" fill="none" opacity="0.6"/><ellipse cx="-1.38" cy="23.90" rx="0.69" ry="1.13" fill="#8a8a8a" opacity="0.2"/><ellipse cx="-1.02" cy="24.37" rx="0.95" ry="1.70" fill="#8a8a8a" opacity="0.2"/><ellipse cx="-0.98" cy="8.70" rx="0.79" ry="0.89" fill="#8a8a8a" opacity="0.2"/><ellipse cx="-2.20" cy="6.73" rx="0.93" ry="1.00" fill="#8a8a8a" opacity="0.2"/><ellipse cx="-0.31" cy="19.39" rx="0.68" ry="0.73" fill="#8a8a8a" opacity="0.2"/><ellipse cx="-1.97" cy="9.58" rx="1.33" ry="2.25" fill="#8a8a8a" opacity="0.2"/></g>
<g transform="translate(385.10 266.30) rotate(7 0 15) scale(1.14 1)"><path d="M0.40,1.60 L1.50,2.40 L2.30,4.10 L2.20,5.70 L3.20,7.40 L3.90,10.00 L4.30,14.00 L4.30,18.00 L4.00,21.50 L3.50,24.00 L2.80,25.50 L3.20,27.00 L2.30,27.70 L1.20,26.40 L0.30,27.00 L-0.30,27.00 L-1.40,26.40 L-3.00,26.80 L-5.00,27.80 L-5.30,26.90 L-3.80,25.20 L-4.10,22.00 L-4.30,18.00 L-4.10,14.00 L-3.70,10.00 L-3.00,7.40 L-2.00,5.70 L-2.20,4.10 L-1.40,2.40 Z" fill="url(#mg)"/><path d="M-0.2,27 q-0.6,1.5 -0.3,2.8" stroke="#9a9a9a" stroke-width="0.7" fill="none"/><path d="M-1.8,10 q1.2,5 -0.2,11 M1.8,12 q0.8,3 -0.4,7 M-0.5,5 l1,0" stroke="#a8a8a8" stroke-width="0.9" fill="none" opacity="0.6"/><ellipse cx="1.48" cy="6.75" rx="1.08" ry="0.99" fill="#8a8a8a" opacity="0.2"/><ellipse cx="-1.94" cy="9.42" rx="1.21" ry="1.44" fill="#8a8a8a" opacity="0.2"/><ellipse cx="0.83" cy="20.01" rx="0.96" ry="1.56" fill="#8a8a8a" opacity="0.2"/><ellipse cx="-1.98" cy="11.21" rx="0.80" ry="1.14" fill="#8a8a8a" opacity="0.2"/><ellipse cx="-1.77" cy="20.37" rx="0.64" ry="0.82" fill="#8a8a8a" opacity="0.2"/><ellipse cx="-1.09" cy="10.87" rx="0.68" ry="0.57" fill="#8a8a8a" opacity="0.2"/></g>
</g></g>
<clipPath id="cp24"><rect x="158.30" y="305.80" width="56.3" height="29.6"/></clipPath>
<g clip-path="url(#cp24)"><g filter="url(#soft)">
<rect x="157.30" y="304.80" width="58.30" height="31.60" fill="#131313" />
<g transform="translate(164.90 306.10) rotate(7 0 15) scale(1.14 1)"><path d="M0.40,1.60 L1.50,2.40 L2.30,4.10 L2.20,5.70 L3.20,7.40 L3.90,10.00 L4.30,14.00 L4.30,18.00 L4.00,21.50 L3.50,24.00 L2.80,25.50 L3.20,27.00 L2.30,27.70 L1.20,26.40 L0.30,27.00 L-0.30,27.00 L-1.40,26.40 L-3.00,26.80 L-5.00,27.80 L-5.30,26.90 L-3.80,25.20 L-4.10,22.00 L-4.30,18.00 L-4.10,14.00 L-3.70,10.00 L-3.00,7.40 L-2.00,5.70 L-2.20,4.10 L-1.40,2.40 Z" fill="url(#mg)"/><path d="M-0.2,27 q-0.6,1.5 -0.3,2.8" stroke="#9a9a9a" stroke-width="0.7" fill="none"/><path d="M-1.8,10 q1.2,5 -0.2,11 M1.8,12 q0.8,3 -0.4,7 M-0.5,5 l1,0" stroke="#a8a8a8" stroke-width="0.9" fill="none" opacity="0.6"/><ellipse cx="-0.24" cy="11.66" rx="1.49" ry="2.63" fill="#8a8a8a" opacity="0.2"/><ellipse cx="-1.59" cy="22.98" rx="0.80" ry="1.31" fill="#8a8a8a" opacity="0.2"/><ellipse cx="2.24" cy="10.83" rx="0.70" ry="0.95" fill="#8a8a8a" opacity="0.2"/><ellipse cx="-0.05" cy="22.96" rx="0.61" ry="1.01" fill="#8a8a8a" opacity="0.2"/><ellipse cx="-2.12" cy="6.15" rx="1.35" ry="1.58" fill="#8a8a8a" opacity="0.2"/><ellipse cx="0.24" cy="5.55" rx="0.65" ry="1.05" fill="#8a8a8a" opacity="0.2"/></g>
<g transform="translate(175.90 306.10) rotate(7 0 15) scale(1.14 1)"><path d="M0.40,1.60 L1.50,2.40 L2.30,4.10 L2.20,5.70 L3.20,7.40 L3.90,10.00 L4.30,14.00 L4.30,18.00 L4.00,21.50 L3.50,24.00 L2.80,25.50 L3.20,27.00 L2.30,27.70 L1.20,26.40 L0.30,27.00 L-0.30,27.00 L-1.40,26.40 L-3.00,26.80 L-5.00,27.80 L-5.30,26.90 L-3.80,25.20 L-4.10,22.00 L-4.30,18.00 L-4.10,14.00 L-3.70,10.00 L-3.00,7.40 L-2.00,5.70 L-2.20,4.10 L-1.40,2.40 Z" fill="url(#mg)"/><path d="M-0.2,27 q-0.6,1.5 -0.3,2.8" stroke="#9a9a9a" stroke-width="0.7" fill="none"/><path d="M-1.8,10 q1.2,5 -0.2,11 M1.8,12 q0.8,3 -0.4,7 M-0.5,5 l1,0" stroke="#a8a8a8" stroke-width="0.9" fill="none" opacity="0.6"/><ellipse cx="0.91" cy="20.64" rx="0.98" ry="1.47" fill="#8a8a8a" opacity="0.2"/><ellipse cx="0.98" cy="23.05" rx="0.66" ry="1.10" fill="#8a8a8a" opacity="0.2"/><ellipse cx="2.53" cy="11.92" rx="1.11" ry="1.34" fill="#8a8a8a" opacity="0.2"/><ellipse cx="-2.05" cy="10.85" rx="1.42" ry="2.10" fill="#8a8a8a" opacity="0.2"/><ellipse cx="-0.09" cy="12.89" rx="1.39" ry="1.58" fill="#8a8a8a" opacity="0.2"/><ellipse cx="-2.28" cy="6.01" rx="0.76" ry="1.09" fill="#8a8a8a" opacity="0.2"/></g>
<g transform="translate(186.90 306.10) rotate(7 0 15) scale(1.14 1)"><path d="M0.40,1.60 L1.50,2.40 L2.30,4.10 L2.20,5.70 L3.20,7.40 L3.90,10.00 L4.30,14.00 L4.30,18.00 L4.00,21.50 L3.50,24.00 L2.80,25.50 L3.20,27.00 L2.30,27.70 L1.20,26.40 L0.30,27.00 L-0.30,27.00 L-1.40,26.40 L-3.00,26.80 L-5.00,27.80 L-5.30,26.90 L-3.80,25.20 L-4.10,22.00 L-4.30,18.00 L-4.10,14.00 L-3.70,10.00 L-3.00,7.40 L-2.00,5.70 L-2.20,4.10 L-1.40,2.40 Z" fill="url(#mg)"/><path d="M-0.2,27 q-0.6,1.5 -0.3,2.8" stroke="#9a9a9a" stroke-width="0.7" fill="none"/><path d="M-1.8,10 q1.2,5 -0.2,11 M1.8,12 q0.8,3 -0.4,7 M-0.5,5 l1,0" stroke="#a8a8a8" stroke-width="0.9" fill="none" opacity="0.6"/><ellipse cx="-1.43" cy="17.65" rx="1.10" ry="1.80" fill="#8a8a8a" opacity="0.2"/><ellipse cx="-0.26" cy="21.01" rx="1.35" ry="1.58" fill="#8a8a8a" opacity="0.2"/><ellipse cx="-1.17" cy="17.29" rx="0.69" ry="1.17" fill="#8a8a8a" opacity="0.2"/><ellipse cx="-2.06" cy="20.66" rx="0.71" ry="0.71" fill="#8a8a8a" opacity="0.2"/><ellipse cx="1.93" cy="19.14" rx="0.96" ry="1.43" fill="#8a8a8a" opacity="0.2"/><ellipse cx="-1.00" cy="10.12" rx="0.93" ry="1.26" fill="#8a8a8a" opacity="0.2"/></g>
<g transform="translate(197.90 306.10) rotate(7 0 15) scale(1.14 1)"><path d="M0.40,1.60 L1.50,2.40 L2.30,4.10 L2.20,5.70 L3.20,7.40 L3.90,10.00 L4.30,14.00 L4.30,18.00 L4.00,21.50 L3.50,24.00 L2.80,25.50 L3.20,27.00 L2.30,27.70 L1.20,26.40 L0.30,27.00 L-0.30,27.00 L-1.40,26.40 L-3.00,26.80 L-5.00,27.80 L-5.30,26.90 L-3.80,25.20 L-4.10,22.00 L-4.30,18.00 L-4.10,14.00 L-3.70,10.00 L-3.00,7.40 L-2.00,5.70 L-2.20,4.10 L-1.40,2.40 Z" fill="url(#mg)"/><path d="M-0.2,27 q-0.6,1.5 -0.3,2.8" stroke="#9a9a9a" stroke-width="0.7" fill="none"/><path d="M-1.8,10 q1.2,5 -0.2,11 M1.8,12 q0.8,3 -0.4,7 M-0.5,5 l1,0" stroke="#a8a8a8" stroke-width="0.9" fill="none" opacity="0.6"/><ellipse cx="-0.63" cy="24.31" rx="1.16" ry="1.63" fill="#8a8a8a" opacity="0.2"/><ellipse cx="2.28" cy="21.46" rx="1.11" ry="1.61" fill="#8a8a8a" opacity="0.2"/><ellipse cx="-2.34" cy="24.79" rx="1.33" ry="1.16" fill="#8a8a8a" opacity="0.2"/><ellipse cx="2.30" cy="13.24" rx="0.99" ry="1.22" fill="#8a8a8a" opacity="0.2"/><ellipse cx="1.22" cy="11.96" rx="1.03" ry="1.41" fill="#8a8a8a" opacity="0.2"/><ellipse cx="-2.72" cy="18.73" rx="0.75" ry="1.12" fill="#8a8a8a" opacity="0.2"/></g>
<g transform="translate(208.90 306.10) rotate(7 0 15) scale(1.14 1)"><path d="M0.40,1.60 L1.50,2.40 L2.30,4.10 L2.20,5.70 L3.20,7.40 L3.90,10.00 L4.30,14.00 L4.30,18.00 L4.00,21.50 L3.50,24.00 L2.80,25.50 L3.20,27.00 L2.30,27.70 L1.20,26.40 L0.30,27.00 L-0.30,27.00 L-1.40,26.40 L-3.00,26.80 L-5.00,27.80 L-5.30,26.90 L-3.80,25.20 L-4.10,22.00 L-4.30,18.00 L-4.10,14.00 L-3.70,10.00 L-3.00,7.40 L-2.00,5.70 L-2.20,4.10 L-1.40,2.40 Z" fill="url(#mg)"/><path d="M-0.2,27 q-0.6,1.5 -0.3,2.8" stroke="#9a9a9a" stroke-width="0.7" fill="none"/><path d="M-1.8,10 q1.2,5 -0.2,11 M1.8,12 q0.8,3 -0.4,7 M-0.5,5 l1,0" stroke="#a8a8a8" stroke-width="0.9" fill="none" opacity="0.6"/><ellipse cx="-0.13" cy="17.58" rx="0.68" ry="1.04" fill="#8a8a8a" opacity="0.2"/><ellipse cx="-1.17" cy="16.91" rx="0.68" ry="0.85" fill="#8a8a8a" opacity="0.2"/><ellipse cx="-0.45" cy="13.88" rx="1.39" ry="1.94" fill="#8a8a8a" opacity="0.2"/><ellipse cx="2.24" cy="22.98" rx="0.95" ry="1.40" fill="#8a8a8a" opacity="0.2"/><ellipse cx="-0.36" cy="7.01" rx="0.89" ry="1.39" fill="#8a8a8a" opacity="0.2"/><ellipse cx="-2.77" cy="11.83" rx="0.71" ry="0.62" fill="#8a8a8a" opacity="0.2"/></g>
<ellipse cx="186.50" cy="320.30" rx="4.4" ry="11.5" fill="#4026a8"/>
<ellipse cx="186.30" cy="320.30" rx="3.4" ry="10.3" fill="#2a44d8"/>
<ellipse cx="186.10" cy="322.30" rx="2.6" ry="7.8" fill="#e2501a"/>
<ellipse cx="186.10" cy="313.30" rx="1.8" ry="2.4" fill="#e2501a"/>
<ellipse cx="187.10" cy="318.30" rx="1.6" ry="3.0" fill="#f2f2f2"/>
<ellipse cx="185.30" cy="316.30" rx="1.0" ry="1.2" fill="#f2f2f2"/>
<ellipse cx="210.90" cy="326.80" rx="1.40" ry="2.20" fill="#4026a8"/>
<ellipse cx="210.90" cy="326.80" rx="1.00" ry="1.80" fill="#2a44d8"/>
<ellipse cx="210.90" cy="326.80" rx="0.70" ry="1.50" fill="#22b4dc"/>
<ellipse cx="210.90" cy="326.80" rx="0.50" ry="1.30" fill="#38c23a"/>
<ellipse cx="210.90" cy="326.80" rx="0.35" ry="1.15" fill="#e4e030"/>
</g></g>
<clipPath id="cp54"><rect x="334.50" y="305.80" width="56.3" height="29.6"/></clipPath>
<g clip-path="url(#cp54)"><g filter="url(#soft)">
<rect x="333.50" y="304.80" width="58.30" height="31.60" fill="#131313" />
<g transform="translate(341.10 306.10) rotate(7 0 15) scale(1.14 1)"><path d="M0.40,1.60 L1.50,2.40 L2.30,4.10 L2.20,5.70 L3.20,7.40 L3.90,10.00 L4.30,14.00 L4.30,18.00 L4.00,21.50 L3.50,24.00 L2.80,25.50 L3.20,27.00 L2.30,27.70 L1.20,26.40 L0.30,27.00 L-0.30,27.00 L-1.40,26.40 L-3.00,26.80 L-5.00,27.80 L-5.30,26.90 L-3.80,25.20 L-4.10,22.00 L-4.30,18.00 L-4.10,14.00 L-3.70,10.00 L-3.00,7.40 L-2.00,5.70 L-2.20,4.10 L-1.40,2.40 Z" fill="url(#mg)"/><path d="M-0.2,27 q-0.6,1.5 -0.3,2.8" stroke="#9a9a9a" stroke-width="0.7" fill="none"/><path d="M-1.8,10 q1.2,5 -0.2,11 M1.8,12 q0.8,3 -0.4,7 M-0.5,5 l1,0" stroke="#a8a8a8" stroke-width="0.9" fill="none" opacity="0.6"/><ellipse cx="-1.58" cy="11.89" rx="1.18" ry="1.37" fill="#8a8a8a" opacity="0.2"/><ellipse cx="-2.33" cy="15.08" rx="0.77" ry="1.29" fill="#8a8a8a" opacity="0.2"/><ellipse cx="-0.91" cy="18.66" rx="0.99" ry="1.42" fill="#8a8a8a" opacity="0.2"/><ellipse cx="2.58" cy="8.54" rx="0.85" ry="0.71" fill="#8a8a8a" opacity="0.2"/><ellipse cx="-0.12" cy="11.95" rx="0.88" ry="0.81" fill="#8a8a8a" opacity="0.2"/><ellipse cx="0.76" cy="16.71" rx="1.47" ry="2.48" fill="#8a8a8a" opacity="0.2"/></g>
<g transform="translate(352.10 306.10) rotate(7 0 15) scale(1.14 1)"><path d="M0.40,1.60 L1.50,2.40 L2.30,4.10 L2.20,5.70 L3.20,7.40 L3.90,10.00 L4.30,14.00 L4.30,18.00 L4.00,21.50 L3.50,24.00 L2.80,25.50 L3.20,27.00 L2.30,27.70 L1.20,26.40 L0.30,27.00 L-0.30,27.00 L-1.40,26.40 L-3.00,26.80 L-5.00,27.80 L-5.30,26.90 L-3.80,25.20 L-4.10,22.00 L-4.30,18.00 L-4.10,14.00 L-3.70,10.00 L-3.00,7.40 L-2.00,5.70 L-2.20,4.10 L-1.40,2.40 Z" fill="url(#mg)"/><path d="M-0.2,27 q-0.6,1.5 -0.3,2.8" stroke="#9a9a9a" stroke-width="0.7" fill="none"/><path d="M-1.8,10 q1.2,5 -0.2,11 M1.8,12 q0.8,3 -0.4,7 M-0.5,5 l1,0" stroke="#a8a8a8" stroke-width="0.9" fill="none" opacity="0.6"/><ellipse cx="-1.22" cy="10.09" rx="1.28" ry="1.06" fill="#8a8a8a" opacity="0.2"/><ellipse cx="1.83" cy="19.53" rx="1.11" ry="1.88" fill="#8a8a8a" opacity="0.2"/><ellipse cx="-1.87" cy="15.31" rx="1.34" ry="2.32" fill="#8a8a8a" opacity="0.2"/><ellipse cx="-2.40" cy="5.90" rx="1.22" ry="2.16" fill="#8a8a8a" opacity="0.2"/><ellipse cx="-2.67" cy="12.57" rx="1.23" ry="1.52" fill="#8a8a8a" opacity="0.2"/><ellipse cx="2.72" cy="13.98" rx="0.73" ry="1.10" fill="#8a8a8a" opacity="0.2"/></g>
<g transform="translate(363.10 306.10) rotate(7 0 15) scale(1.14 1)"><path d="M0.40,1.60 L1.50,2.40 L2.30,4.10 L2.20,5.70 L3.20,7.40 L3.90,10.00 L4.30,14.00 L4.30,18.00 L4.00,21.50 L3.50,24.00 L2.80,25.50 L3.20,27.00 L2.30,27.70 L1.20,26.40 L0.30,27.00 L-0.30,27.00 L-1.40,26.40 L-3.00,26.80 L-5.00,27.80 L-5.30,26.90 L-3.80,25.20 L-4.10,22.00 L-4.30,18.00 L-4.10,14.00 L-3.70,10.00 L-3.00,7.40 L-2.00,5.70 L-2.20,4.10 L-1.40,2.40 Z" fill="url(#mg)"/><path d="M-0.2,27 q-0.6,1.5 -0.3,2.8" stroke="#9a9a9a" stroke-width="0.7" fill="none"/><path d="M-1.8,10 q1.2,5 -0.2,11 M1.8,12 q0.8,3 -0.4,7 M-0.5,5 l1,0" stroke="#a8a8a8" stroke-width="0.9" fill="none" opacity="0.6"/><ellipse cx="-2.64" cy="9.08" rx="1.35" ry="1.24" fill="#8a8a8a" opacity="0.2"/><ellipse cx="-2.70" cy="24.02" rx="0.70" ry="0.96" fill="#8a8a8a" opacity="0.2"/><ellipse cx="-2.46" cy="16.26" rx="1.40" ry="1.24" fill="#8a8a8a" opacity="0.2"/><ellipse cx="1.49" cy="18.53" rx="0.64" ry="0.58" fill="#8a8a8a" opacity="0.2"/><ellipse cx="2.12" cy="16.23" rx="0.84" ry="1.29" fill="#8a8a8a" opacity="0.2"/><ellipse cx="-2.08" cy="10.34" rx="1.33" ry="1.49" fill="#8a8a8a" opacity="0.2"/></g>
<g transform="translate(374.10 306.10) rotate(7 0 15) scale(1.14 1)"><path d="M0.40,1.60 L1.50,2.40 L2.30,4.10 L2.20,5.70 L3.20,7.40 L3.90,10.00 L4.30,14.00 L4.30,18.00 L4.00,21.50 L3.50,24.00 L2.80,25.50 L3.20,27.00 L2.30,27.70 L1.20,26.40 L0.30,27.00 L-0.30,27.00 L-1.40,26.40 L-3.00,26.80 L-5.00,27.80 L-5.30,26.90 L-3.80,25.20 L-4.10,22.00 L-4.30,18.00 L-4.10,14.00 L-3.70,10.00 L-3.00,7.40 L-2.00,5.70 L-2.20,4.10 L-1.40,2.40 Z" fill="url(#mg)"/><path d="M-0.2,27 q-0.6,1.5 -0.3,2.8" stroke="#9a9a9a" stroke-width="0.7" fill="none"/><path d="M-1.8,10 q1.2,5 -0.2,11 M1.8,12 q0.8,3 -0.4,7 M-0.5,5 l1,0" stroke="#a8a8a8" stroke-width="0.9" fill="none" opacity="0.6"/><ellipse cx="0.17" cy="14.04" rx="1.23" ry="2.00" fill="#8a8a8a" opacity="0.2"/><ellipse cx="0.83" cy="16.85" rx="0.99" ry="1.03" fill="#8a8a8a" opacity="0.2"/><ellipse cx="1.35" cy="19.19" rx="1.48" ry="1.68" fill="#8a8a8a" opacity="0.2"/><ellipse cx="2.72" cy="10.16" rx="1.13" ry="1.78" fill="#8a8a8a" opacity="0.2"/><ellipse cx="2.30" cy="21.65" rx="1.45" ry="2.48" fill="#8a8a8a" opacity="0.2"/><ellipse cx="-0.28" cy="12.34" rx="1.05" ry="1.83" fill="#8a8a8a" opacity="0.2"/></g>
<g transform="translate(385.10 306.10) rotate(7 0 15) scale(1.14 1)"><path d="M0.40,1.60 L1.50,2.40 L2.30,4.10 L2.20,5.70 L3.20,7.40 L3.90,10.00 L4.30,14.00 L4.30,18.00 L4.00,21.50 L3.50,24.00 L2.80,25.50 L3.20,27.00 L2.30,27.70 L1.20,26.40 L0.30,27.00 L-0.30,27.00 L-1.40,26.40 L-3.00,26.80 L-5.00,27.80 L-5.30,26.90 L-3.80,25.20 L-4.10,22.00 L-4.30,18.00 L-4.10,14.00 L-3.70,10.00 L-3.00,7.40 L-2.00,5.70 L-2.20,4.10 L-1.40,2.40 Z" fill="url(#mg)"/><path d="M-0.2,27 q-0.6,1.5 -0.3,2.8" stroke="#9a9a9a" stroke-width="0.7" fill="none"/><path d="M-1.8,10 q1.2,5 -0.2,11 M1.8,12 q0.8,3 -0.4,7 M-0.5,5 l1,0" stroke="#a8a8a8" stroke-width="0.9" fill="none" opacity="0.6"/><ellipse cx="-1.29" cy="5.63" rx="0.79" ry="1.14" fill="#8a8a8a" opacity="0.2"/><ellipse cx="1.25" cy="18.23" rx="0.85" ry="0.70" fill="#8a8a8a" opacity="0.2"/><ellipse cx="0.99" cy="16.58" rx="1.11" ry="1.47" fill="#8a8a8a" opacity="0.2"/><ellipse cx="0.55" cy="22.60" rx="1.50" ry="1.63" fill="#8a8a8a" opacity="0.2"/><ellipse cx="-2.34" cy="15.10" rx="0.99" ry="1.76" fill="#8a8a8a" opacity="0.2"/><ellipse cx="-0.05" cy="11.38" rx="0.93" ry="0.86" fill="#8a8a8a" opacity="0.2"/></g>
</g></g>
<rect x="396.10" y="152.70" width="1.80" height="28.60" fill="url(#cb)" />
<text x="393.90" y="149.00" font-size="5.4" textLength="34.20" lengthAdjust="spacingAndGlyphs" fill="#5a5a5a" >Luminescence</text>
<text x="400.40" y="159.30" font-size="8.8" textLength="23.50" lengthAdjust="spacingAndGlyphs" >5.0x10</text>
<text x="424.20" y="155.60" font-size="5.8" >5</text>
<text x="400.40" y="181.10" font-size="8.8" textLength="23.50" lengthAdjust="spacingAndGlyphs" >5.0x10</text>
<text x="424.20" y="177.40" font-size="5.8" >4</text>
<rect x="396.10" y="190.10" width="1.80" height="28.60" fill="url(#cb)" />
<text x="393.90" y="186.40" font-size="5.4" textLength="34.20" lengthAdjust="spacingAndGlyphs" fill="#5a5a5a" >Luminescence</text>
<text x="400.40" y="196.70" font-size="8.8" textLength="23.50" lengthAdjust="spacingAndGlyphs" >5.0x10</text>
<text x="424.20" y="193.00" font-size="5.8" >5</text>
<text x="400.40" y="218.50" font-size="8.8" textLength="23.50" lengthAdjust="spacingAndGlyphs" >5.0x10</text>
<text x="424.20" y="214.80" font-size="5.8" >4</text>
<rect x="396.10" y="227.30" width="1.80" height="28.60" fill="url(#cb)" />
<text x="393.90" y="223.60" font-size="5.4" textLength="34.20" lengthAdjust="spacingAndGlyphs" fill="#5a5a5a" >Luminescence</text>
<text x="400.40" y="233.90" font-size="8.8" textLength="23.50" lengthAdjust="spacingAndGlyphs" >1.0x10</text>
<text x="424.20" y="230.20" font-size="5.8" >7</text>
<text x="400.40" y="255.70" font-size="8.8" textLength="23.50" lengthAdjust="spacingAndGlyphs" >1.0x10</text>
<text x="424.20" y="252.00" font-size="5.8" >6</text>
<rect x="396.10" y="264.80" width="1.80" height="28.60" fill="url(#cb)" />
<text x="393.90" y="261.10" font-size="5.4" textLength="34.20" lengthAdjust="spacingAndGlyphs" fill="#5a5a5a" >Luminescence</text>
<text x="400.40" y="271.40" font-size="8.8" textLength="23.50" lengthAdjust="spacingAndGlyphs" >1.0x10</text>
<text x="424.20" y="267.70" font-size="5.8" >7</text>
<text x="400.40" y="293.20" font-size="8.8" textLength="23.50" lengthAdjust="spacingAndGlyphs" >1.0x10</text>
<text x="424.20" y="289.50" font-size="5.8" >6</text>
<rect x="396.10" y="306.20" width="1.80" height="28.60" fill="url(#cb)" />
<text x="393.90" y="302.50" font-size="5.4" textLength="34.20" lengthAdjust="spacingAndGlyphs" fill="#5a5a5a" >Luminescence</text>
<text x="400.40" y="312.80" font-size="8.8" textLength="23.50" lengthAdjust="spacingAndGlyphs" >1.0x10</text>
<text x="424.20" y="309.10" font-size="5.8" >7</text>
<text x="400.40" y="334.60" font-size="8.8" textLength="23.50" lengthAdjust="spacingAndGlyphs" >1.0x10</text>
<text x="424.20" y="330.90" font-size="5.8" >6</text>
<text x="8.80" y="357.60" font-size="15" font-weight="bold" fill="#000" stroke="#000" stroke-width="0.3">C</text>
<line x1="67.80" y1="369.30" x2="67.80" y2="472.50" stroke="#000" stroke-width="1.9" />
<line x1="63.90" y1="471.60" x2="67.80" y2="471.60" stroke="#000" stroke-width="1.1" />
<line x1="65.60" y1="466.69" x2="67.80" y2="466.69" stroke="#000" stroke-width="0.7" />
<line x1="65.60" y1="463.81" x2="67.80" y2="463.81" stroke="#000" stroke-width="0.7" />
<line x1="65.60" y1="461.77" x2="67.80" y2="461.77" stroke="#000" stroke-width="0.7" />
<line x1="65.60" y1="460.19" x2="67.80" y2="460.19" stroke="#000" stroke-width="0.7" />
<line x1="65.60" y1="458.90" x2="67.80" y2="458.90" stroke="#000" stroke-width="0.7" />
<line x1="65.60" y1="457.81" x2="67.80" y2="457.81" stroke="#000" stroke-width="0.7" />
<line x1="65.60" y1="456.86" x2="67.80" y2="456.86" stroke="#000" stroke-width="0.7" />
<line x1="65.60" y1="456.03" x2="67.80" y2="456.03" stroke="#000" stroke-width="0.7" />
<text x="56.30" y="476.30" font-size="10.3" text-anchor="end" >10</text>
<text x="56.90" y="472.10" font-size="6.9" >5</text>
<line x1="63.90" y1="455.28" x2="67.80" y2="455.28" stroke="#000" stroke-width="1.1" />
<line x1="65.60" y1="450.37" x2="67.80" y2="450.37" stroke="#000" stroke-width="0.7" />
<line x1="65.60" y1="447.49" x2="67.80" y2="447.49" stroke="#000" stroke-width="0.7" />
<line x1="65.60" y1="445.45" x2="67.80" y2="445.45" stroke="#000" stroke-width="0.7" />
<line x1="65.60" y1="443.87" x2="67.80" y2="443.87" stroke="#000" stroke-width="0.7" />
<line x1="65.60" y1="442.58" x2="67.80" y2="442.58" stroke="#000" stroke-width="0.7" />
<line x1="65.60" y1="441.49" x2="67.80" y2="441.49" stroke="#000" stroke-width="0.7" />
<line x1="65.60" y1="440.54" x2="67.80" y2="440.54" stroke="#000" stroke-width="0.7" />
<line x1="65.60" y1="439.71" x2="67.80" y2="439.71" stroke="#000" stroke-width="0.7" />
<text x="56.30" y="459.98" font-size="10.3" text-anchor="end" >10</text>
<text x="56.90" y="455.78" font-size="6.9" >6</text>
<line x1="63.90" y1="438.96" x2="67.80" y2="438.96" stroke="#000" stroke-width="1.1" />
<line x1="65.60" y1="434.05" x2="67.80" y2="434.05" stroke="#000" stroke-width="0.7" />
<line x1="65.60" y1="431.17" x2="67.80" y2="431.17" stroke="#000" stroke-width="0.7" />
<line x1="65.60" y1="429.13" x2="67.80" y2="429.13" stroke="#000" stroke-width="0.7" />
<line x1="65.60" y1="427.55" x2="67.80" y2="427.55" stroke="#000" stroke-width="0.7" />
<line x1="65.60" y1="426.26" x2="67.80" y2="426.26" stroke="#000" stroke-width="0.7" />
<line x1="65.60" y1="425.17" x2="67.80" y2="425.17" stroke="#000" stroke-width="0.7" />
<line x1="65.60" y1="424.22" x2="67.80" y2="424.22" stroke="#000" stroke-width="0.7" />
<line x1="65.60" y1="423.39" x2="67.80" y2="423.39" stroke="#000" stroke-width="0.7" />
<text x="56.30" y="443.66" font-size="10.3" text-anchor="end" >10</text>
<text x="56.90" y="439.46" font-size="6.9" >7</text>
<line x1="63.90" y1="422.64" x2="67.80" y2="422.64" stroke="#000" stroke-width="1.1" />
<line x1="65.60" y1="417.73" x2="67.80" y2="417.73" stroke="#000" stroke-width="0.7" />
<line x1="65.60" y1="414.85" x2="67.80" y2="414.85" stroke="#000" stroke-width="0.7" />
<line x1="65.60" y1="412.81" x2="67.80" y2="412.81" stroke="#000" stroke-width="0.7" />
<line x1="65.60" y1="411.23" x2="67.80" y2="411.23" stroke="#000" stroke-width="0.7" />
<line x1="65.60" y1="409.94" x2="67.80" y2="409.94" stroke="#000" stroke-width="0.7" />
<line x1="65.60" y1="408.85" x2="67.80" y2="408.85" stroke="#000" stroke-width="0.7" />
<line x1="65.60" y1="407.90" x2="67.80" y2="407.90" stroke="#000" stroke-width="0.7" />
<line x1="65.60" y1="407.07" x2="67.80" y2="407.07" stroke="#000" stroke-width="0.7" />
<text x="56.30" y="427.34" font-size="10.3" text-anchor="end" >10</text>
<text x="56.90" y="423.14" font-size="6.9" >8</text>
<line x1="63.90" y1="406.32" x2="67.80" y2="406.32" stroke="#000" stroke-width="1.1" />
<line x1="65.60" y1="401.41" x2="67.80" y2="401.41" stroke="#000" stroke-width="0.7" />
<line x1="65.60" y1="398.53" x2="67.80" y2="398.53" stroke="#000" stroke-width="0.7" />
<line x1="65.60" y1="396.49" x2="67.80" y2="396.49" stroke="#000" stroke-width="0.7" />
<line x1="65.60" y1="394.91" x2="67.80" y2="394.91" stroke="#000" stroke-width="0.7" />
<line x1="65.60" y1="393.62" x2="67.80" y2="393.62" stroke="#000" stroke-width="0.7" />
<line x1="65.60" y1="392.53" x2="67.80" y2="392.53" stroke="#000" stroke-width="0.7" />
<line x1="65.60" y1="391.58" x2="67.80" y2="391.58" stroke="#000" stroke-width="0.7" />
<line x1="65.60" y1="390.75" x2="67.80" y2="390.75" stroke="#000" stroke-width="0.7" />
<text x="56.30" y="411.02" font-size="10.3" text-anchor="end" >10</text>
<text x="56.90" y="406.82" font-size="6.9" >9</text>
<line x1="63.90" y1="390.00" x2="67.80" y2="390.00" stroke="#000" stroke-width="1.1" />
<line x1="65.60" y1="385.09" x2="67.80" y2="385.09" stroke="#000" stroke-width="0.7" />
<line x1="65.60" y1="382.21" x2="67.80" y2="382.21" stroke="#000" stroke-width="0.7" />
<line x1="65.60" y1="380.17" x2="67.80" y2="380.17" stroke="#000" stroke-width="0.7" />
<line x1="65.60" y1="378.59" x2="67.80" y2="378.59" stroke="#000" stroke-width="0.7" />
<line x1="65.60" y1="377.30" x2="67.80" y2="377.30" stroke="#000" stroke-width="0.7" />
<line x1="65.60" y1="376.21" x2="67.80" y2="376.21" stroke="#000" stroke-width="0.7" />
<line x1="65.60" y1="375.26" x2="67.80" y2="375.26" stroke="#000" stroke-width="0.7" />
<line x1="65.60" y1="374.43" x2="67.80" y2="374.43" stroke="#000" stroke-width="0.7" />
<text x="52.60" y="394.70" font-size="10.3" text-anchor="end" >10</text>
<text x="53.20" y="390.50" font-size="6.9" >10</text>
<line x1="63.90" y1="373.68" x2="67.80" y2="373.68" stroke="#000" stroke-width="1.1" />
<text x="52.60" y="378.38" font-size="10.3" text-anchor="end" >10</text>
<text x="53.20" y="374.18" font-size="6.9" >11</text>
<line x1="67.80" y1="471.60" x2="200.80" y2="471.60" stroke="#000" stroke-width="1.9" />
<line x1="78.90" y1="471.60" x2="78.90" y2="475.40" stroke="#000" stroke-width="1.0" />
<text x="83.50" y="483.00" font-size="10.2" text-anchor="end" transform="rotate(-45 83.50 483.00)" >d0</text>
<line x1="94.80" y1="471.60" x2="94.80" y2="475.40" stroke="#000" stroke-width="1.0" />
<text x="99.40" y="483.00" font-size="10.2" text-anchor="end" transform="rotate(-45 99.40 483.00)" >d7</text>
<line x1="110.70" y1="471.60" x2="110.70" y2="475.40" stroke="#000" stroke-width="1.0" />
<text x="115.30" y="483.00" font-size="10.2" text-anchor="end" transform="rotate(-45 115.30 483.00)" >d14</text>
<line x1="126.60" y1="471.60" x2="126.60" y2="475.40" stroke="#000" stroke-width="1.0" />
<text x="131.20" y="483.00" font-size="10.2" text-anchor="end" transform="rotate(-45 131.20 483.00)" >d21</text>
<line x1="142.50" y1="471.60" x2="142.50" y2="475.40" stroke="#000" stroke-width="1.0" />
<text x="147.10" y="483.00" font-size="10.2" text-anchor="end" transform="rotate(-45 147.10 483.00)" >d28</text>
<line x1="158.40" y1="471.60" x2="158.40" y2="475.40" stroke="#000" stroke-width="1.0" />
<text x="163.00" y="483.00" font-size="10.2" text-anchor="end" transform="rotate(-45 163.00 483.00)" >d35</text>
<line x1="174.30" y1="471.60" x2="174.30" y2="475.40" stroke="#000" stroke-width="1.0" />
<text x="178.90" y="483.00" font-size="10.2" text-anchor="end" transform="rotate(-45 178.90 483.00)" >d42</text>
<line x1="190.20" y1="471.60" x2="190.20" y2="475.40" stroke="#000" stroke-width="1.0" />
<text x="194.80" y="483.00" font-size="10.2" text-anchor="end" transform="rotate(-45 194.80 483.00)" >d50</text>
<text x="83.20" y="513.50" font-size="11.9" textLength="102.50" lengthAdjust="spacingAndGlyphs" >Days after T cell infusion</text>
<text x="33.5" y="478.9" font-size="12.2" textLength="121.4" lengthAdjust="spacingAndGlyphs" transform="rotate(-90 33.5 478.9)">ROI expansion (p/sec/cm<tspan dy="-4.4" font-size="7.6">2</tspan><tspan dy="4.4">/sr)</tspan></text>
<path d="M78.90,440.00 L94.80,404.40 L110.70,381.00" fill="none" stroke="#b5b5b5" stroke-width="1.1" stroke-linejoin="round" opacity="1" stroke-dasharray="3,2"/>
<path d="M78.90,441.00 L94.80,415.60 L110.70,390.80" fill="none" stroke="#b5b5b5" stroke-width="1.1" stroke-linejoin="round" opacity="1" stroke-dasharray="3,2"/>
<path d="M78.90,442.00 L94.80,419.00 L110.70,391.30" fill="none" stroke="#b5b5b5" stroke-width="1.1" stroke-linejoin="round" opacity="1" stroke-dasharray="3,2"/>
<path d="M78.90,443.00 L94.80,421.00 L110.70,392.50" fill="none" stroke="#b5b5b5" stroke-width="1.1" stroke-linejoin="round" opacity="1" stroke-dasharray="3,2"/>
<path d="M78.90,444.00 L94.80,423.00 L110.70,393.50" fill="none" stroke="#b5b5b5" stroke-width="1.1" stroke-linejoin="round" opacity="1" stroke-dasharray="3,2"/>
<path d="M78.90,442.00 L94.80,437.00 L110.70,440.40 L126.60,449.00 L142.50,418.50 L158.40,412.80 L174.30,401.80 L190.20,402.30" fill="none" stroke="#22407a" stroke-width="1.2" stroke-linejoin="round" opacity="1"/>
<path d="M78.90,441.00 L94.80,436.00 L110.70,440.80 L126.60,439.80 L142.50,434.60 L158.40,432.00 L174.30,413.80 L190.20,395.40" fill="none" stroke="#22407a" stroke-width="1.2" stroke-linejoin="round" opacity="1"/>
<path d="M78.90,443.00 L94.80,438.00 L110.70,447.90 L126.60,448.80 L142.50,448.00 L158.40,447.20 L174.30,436.50 L190.20,428.50" fill="none" stroke="#22407a" stroke-width="1.2" stroke-linejoin="round" opacity="1"/>
<path d="M78.90,444.00 L94.80,439.00 L110.70,450.00 L126.60,451.00 L142.50,452.00 L158.40,452.00 L174.30,443.80 L190.20,428.80" fill="none" stroke="#22407a" stroke-width="1.2" stroke-linejoin="round" opacity="1"/>
<path d="M78.90,445.00 L94.80,440.00 L110.70,451.00 L126.60,451.50 L142.50,452.50 L158.40,453.00 L174.30,447.00 L190.20,437.20" fill="none" stroke="#22407a" stroke-width="1.2" stroke-linejoin="round" opacity="1"/>
<path d="M78.90,437.50 L94.80,437.00 L110.70,436.30 L126.60,450.50 L142.50,452.00 L158.40,452.50 L174.30,450.00 L190.20,448.50" fill="none" stroke="#b01035" stroke-width="1.5" stroke-linejoin="round" opacity="1"/>
<path d="M78.90,438.50 L94.80,438.00 L110.70,450.80 L126.60,451.00 L142.50,453.00 L158.40,454.00 L174.30,451.00 L190.20,451.00" fill="none" stroke="#b01035" stroke-width="1.5" stroke-linejoin="round" opacity="1"/>
<path d="M78.90,439.00 L94.80,438.50 L110.70,452.00 L126.60,451.50 L142.50,454.00 L158.40,455.50 L174.30,452.00 L190.20,452.30" fill="none" stroke="#b01035" stroke-width="1.5" stroke-linejoin="round" opacity="1"/>
<path d="M78.90,440.00 L94.80,439.50 L110.70,453.00 L126.60,452.00 L142.50,455.00 L158.40,456.50 L174.30,453.00 L190.20,452.00" fill="none" stroke="#b01035" stroke-width="1.5" stroke-linejoin="round" opacity="1"/>
<path d="M78.90,439.50 L94.80,440.00 L110.70,453.70 L126.60,452.50 L142.50,454.50 L158.40,457.50 L174.30,452.50 L190.20,451.50" fill="none" stroke="#b01035" stroke-width="1.5" stroke-linejoin="round" opacity="1"/>
<path d="M78.90,439.80 L94.80,424.50 L110.70,396.50 L126.60,377.50" fill="none" stroke="#f0a01e" stroke-width="1.4" stroke-linejoin="round" opacity="1"/>
<path d="M78.90,441.00 L94.80,427.00 L110.70,397.50 L126.60,378.50" fill="none" stroke="#f0a01e" stroke-width="1.4" stroke-linejoin="round" opacity="1"/>
<path d="M78.90,442.00 L94.80,430.00 L110.70,398.50 L126.60,379.50" fill="none" stroke="#f0a01e" stroke-width="1.4" stroke-linejoin="round" opacity="1"/>
<path d="M78.90,443.00 L94.80,437.00 L110.70,419.80 L126.60,408.40 L142.50,405.80 L158.40,397.20" fill="none" stroke="#f0a01e" stroke-width="1.2" stroke-linejoin="round" opacity="1"/>
<path d="M78.90,445.00 L94.80,439.00 L110.70,433.20 L126.60,414.20 L142.50,417.70 L158.40,405.40" fill="none" stroke="#f0a01e" stroke-width="1.2" stroke-linejoin="round" opacity="1"/>
<path d="M78.90,447.00 L94.80,440.00 L110.70,399.00 L126.60,379.00" fill="none" stroke="#c8862e" stroke-width="1.2" stroke-linejoin="round" opacity="1"/>
<path d="M78.90,448.00 L94.80,441.00 L110.70,401.00 L126.60,380.00" fill="none" stroke="#c8862e" stroke-width="1.2" stroke-linejoin="round" opacity="1"/>
<path d="M78.90,448.70 L94.80,442.10 L110.70,403.00 L126.60,382.00" fill="none" stroke="#c8862e" stroke-width="1.2" stroke-linejoin="round" opacity="1"/>
<path d="M78.90,447.50 L94.80,441.00 L110.70,400.00 L126.60,381.00" fill="none" stroke="#c8862e" stroke-width="1.2" stroke-linejoin="round" opacity="1"/>
<path d="M78.90,448.00 L94.80,440.50 L110.70,402.00 L126.60,380.50" fill="none" stroke="#c8862e" stroke-width="1.2" stroke-linejoin="round" opacity="1"/>
<path d="M78.90,443.00 L94.80,424.20 L110.70,401.20 L126.60,381.00" fill="none" stroke="#9c90d4" stroke-width="2.0" stroke-linejoin="round" opacity="1"/>
<path d="M78.90,444.00 L94.80,432.90 L110.70,404.00 L126.60,383.80" fill="none" stroke="#9c90d4" stroke-width="2.0" stroke-linejoin="round" opacity="1"/>
<path d="M78.90,445.00 L94.80,435.20 L110.70,406.90 L126.60,386.70" fill="none" stroke="#9c90d4" stroke-width="2.0" stroke-linejoin="round" opacity="1"/>
<path d="M78.90,446.00 L94.80,437.00 L110.70,409.80 L126.60,385.00" fill="none" stroke="#9c90d4" stroke-width="2.0" stroke-linejoin="round" opacity="1"/>
<path d="M78.90,446.50 L94.80,439.20 L110.70,408.00 L126.60,384.00" fill="none" stroke="#9c90d4" stroke-width="2.0" stroke-linejoin="round" opacity="1"/>
<circle cx="78.90" cy="440.00" r="1.8" fill="#fff" stroke="#555" stroke-width="0.75" />
<circle cx="94.80" cy="404.40" r="1.8" fill="#fff" stroke="#555" stroke-width="0.75" />
<circle cx="110.70" cy="381.00" r="1.8" fill="#fff" stroke="#555" stroke-width="0.75" />
<circle cx="78.90" cy="441.00" r="1.8" fill="#fff" stroke="#555" stroke-width="0.75" />
<circle cx="94.80" cy="415.60" r="1.8" fill="#fff" stroke="#555" stroke-width="0.75" />
<circle cx="110.70" cy="390.80" r="1.8" fill="#fff" stroke="#555" stroke-width="0.75" />
<circle cx="78.90" cy="442.00" r="1.8" fill="#fff" stroke="#555" stroke-width="0.75" />
<circle cx="94.80" cy="419.00" r="1.8" fill="#fff" stroke="#555" stroke-width="0.75" />
<circle cx="110.70" cy="391.30" r="1.8" fill="#fff" stroke="#555" stroke-width="0.75" />
<circle cx="78.90" cy="443.00" r="1.8" fill="#fff" stroke="#555" stroke-width="0.75" />
<circle cx="94.80" cy="421.00" r="1.8" fill="#fff" stroke="#555" stroke-width="0.75" />
<circle cx="110.70" cy="392.50" r="1.8" fill="#fff" stroke="#555" stroke-width="0.75" />
<circle cx="78.90" cy="444.00" r="1.8" fill="#fff" stroke="#555" stroke-width="0.75" />
<circle cx="94.80" cy="423.00" r="1.8" fill="#fff" stroke="#555" stroke-width="0.75" />
<circle cx="110.70" cy="393.50" r="1.8" fill="#fff" stroke="#555" stroke-width="0.75" />
<circle cx="78.90" cy="442.00" r="1.8" fill="#22407a" stroke="#1a1a1a" stroke-width="0.75" />
<circle cx="94.80" cy="437.00" r="1.8" fill="#22407a" stroke="#1a1a1a" stroke-width="0.75" />
<circle cx="110.70" cy="440.40" r="1.8" fill="#22407a" stroke="#1a1a1a" stroke-width="0.75" />
<circle cx="126.60" cy="449.00" r="1.8" fill="#22407a" stroke="#1a1a1a" stroke-width="0.75" />
<circle cx="142.50" cy="418.50" r="1.8" fill="#22407a" stroke="#1a1a1a" stroke-width="0.75" />
<circle cx="158.40" cy="412.80" r="1.8" fill="#22407a" stroke="#1a1a1a" stroke-width="0.75" />
<circle cx="174.30" cy="401.80" r="1.8" fill="#22407a" stroke="#1a1a1a" stroke-width="0.75" />
<circle cx="190.20" cy="402.30" r="1.8" fill="#22407a" stroke="#1a1a1a" stroke-width="0.75" />
<circle cx="78.90" cy="441.00" r="1.8" fill="#22407a" stroke="#1a1a1a" stroke-width="0.75" />
<circle cx="94.80" cy="436.00" r="1.8" fill="#22407a" stroke="#1a1a1a" stroke-width="0.75" />
<circle cx="110.70" cy="440.80" r="1.8" fill="#22407a" stroke="#1a1a1a" stroke-width="0.75" />
<circle cx="126.60" cy="439.80" r="1.8" fill="#22407a" stroke="#1a1a1a" stroke-width="0.75" />
<circle cx="142.50" cy="434.60" r="1.8" fill="#22407a" stroke="#1a1a1a" stroke-width="0.75" />
<circle cx="158.40" cy="432.00" r="1.8" fill="#22407a" stroke="#1a1a1a" stroke-width="0.75" />
<circle cx="174.30" cy="413.80" r="1.8" fill="#22407a" stroke="#1a1a1a" stroke-width="0.75" />
<circle cx="190.20" cy="395.40" r="1.8" fill="#22407a" stroke="#1a1a1a" stroke-width="0.75" />
<circle cx="78.90" cy="443.00" r="1.8" fill="#22407a" stroke="#1a1a1a" stroke-width="0.75" />
<circle cx="94.80" cy="438.00" r="1.8" fill="#22407a" stroke="#1a1a1a" stroke-width="0.75" />
<circle cx="110.70" cy="447.90" r="1.8" fill="#22407a" stroke="#1a1a1a" stroke-width="0.75" />
<circle cx="126.60" cy="448.80" r="1.8" fill="#22407a" stroke="#1a1a1a" stroke-width="0.75" />
<circle cx="142.50" cy="448.00" r="1.8" fill="#22407a" stroke="#1a1a1a" stroke-width="0.75" />
<circle cx="158.40" cy="447.20" r="1.8" fill="#22407a" stroke="#1a1a1a" stroke-width="0.75" />
<circle cx="174.30" cy="436.50" r="1.8" fill="#22407a" stroke="#1a1a1a" stroke-width="0.75" />
<circle cx="190.20" cy="428.50" r="1.8" fill="#22407a" stroke="#1a1a1a" stroke-width="0.75" />
<circle cx="78.90" cy="444.00" r="1.8" fill="#22407a" stroke="#1a1a1a" stroke-width="0.75" />
<circle cx="94.80" cy="439.00" r="1.8" fill="#22407a" stroke="#1a1a1a" stroke-width="0.75" />
<circle cx="110.70" cy="450.00" r="1.8" fill="#22407a" stroke="#1a1a1a" stroke-width="0.75" />
<circle cx="126.60" cy="451.00" r="1.8" fill="#22407a" stroke="#1a1a1a" stroke-width="0.75" />
<circle cx="142.50" cy="452.00" r="1.8" fill="#22407a" stroke="#1a1a1a" stroke-width="0.75" />
<circle cx="158.40" cy="452.00" r="1.8" fill="#22407a" stroke="#1a1a1a" stroke-width="0.75" />
<circle cx="174.30" cy="443.80" r="1.8" fill="#22407a" stroke="#1a1a1a" stroke-width="0.75" />
<circle cx="190.20" cy="428.80" r="1.8" fill="#22407a" stroke="#1a1a1a" stroke-width="0.75" />
<circle cx="78.90" cy="445.00" r="1.8" fill="#22407a" stroke="#1a1a1a" stroke-width="0.75" />
<circle cx="94.80" cy="440.00" r="1.8" fill="#22407a" stroke="#1a1a1a" stroke-width="0.75" />
<circle cx="110.70" cy="451.00" r="1.8" fill="#22407a" stroke="#1a1a1a" stroke-width="0.75" />
<circle cx="126.60" cy="451.50" r="1.8" fill="#22407a" stroke="#1a1a1a" stroke-width="0.75" />
<circle cx="142.50" cy="452.50" r="1.8" fill="#22407a" stroke="#1a1a1a" stroke-width="0.75" />
<circle cx="158.40" cy="453.00" r="1.8" fill="#22407a" stroke="#1a1a1a" stroke-width="0.75" />
<circle cx="174.30" cy="447.00" r="1.8" fill="#22407a" stroke="#1a1a1a" stroke-width="0.75" />
<circle cx="190.20" cy="437.20" r="1.8" fill="#22407a" stroke="#1a1a1a" stroke-width="0.75" />
<circle cx="78.90" cy="437.50" r="1.8" fill="#b01035" stroke="#1a1a1a" stroke-width="0.75" />
<circle cx="94.80" cy="437.00" r="1.8" fill="#b01035" stroke="#1a1a1a" stroke-width="0.75" />
<circle cx="110.70" cy="436.30" r="1.8" fill="#b01035" stroke="#1a1a1a" stroke-width="0.75" />
<circle cx="126.60" cy="450.50" r="1.8" fill="#b01035" stroke="#1a1a1a" stroke-width="0.75" />
<circle cx="142.50" cy="452.00" r="1.8" fill="#b01035" stroke="#1a1a1a" stroke-width="0.75" />
<circle cx="158.40" cy="452.50" r="1.8" fill="#b01035" stroke="#1a1a1a" stroke-width="0.75" />
<circle cx="174.30" cy="450.00" r="1.8" fill="#b01035" stroke="#1a1a1a" stroke-width="0.75" />
<circle cx="190.20" cy="448.50" r="1.8" fill="#b01035" stroke="#1a1a1a" stroke-width="0.75" />
<circle cx="78.90" cy="438.50" r="1.8" fill="#b01035" stroke="#1a1a1a" stroke-width="0.75" />
<circle cx="94.80" cy="438.00" r="1.8" fill="#b01035" stroke="#1a1a1a" stroke-width="0.75" />
<circle cx="110.70" cy="450.80" r="1.8" fill="#b01035" stroke="#1a1a1a" stroke-width="0.75" />
<circle cx="126.60" cy="451.00" r="1.8" fill="#b01035" stroke="#1a1a1a" stroke-width="0.75" />
<circle cx="142.50" cy="453.00" r="1.8" fill="#b01035" stroke="#1a1a1a" stroke-width="0.75" />
<circle cx="158.40" cy="454.00" r="1.8" fill="#b01035" stroke="#1a1a1a" stroke-width="0.75" />
<circle cx="174.30" cy="451.00" r="1.8" fill="#b01035" stroke="#1a1a1a" stroke-width="0.75" />
<circle cx="190.20" cy="451.00" r="1.8" fill="#b01035" stroke="#1a1a1a" stroke-width="0.75" />
<circle cx="78.90" cy="439.00" r="1.8" fill="#b01035" stroke="#1a1a1a" stroke-width="0.75" />
<circle cx="94.80" cy="438.50" r="1.8" fill="#b01035" stroke="#1a1a1a" stroke-width="0.75" />
<circle cx="110.70" cy="452.00" r="1.8" fill="#b01035" stroke="#1a1a1a" stroke-width="0.75" />
<circle cx="126.60" cy="451.50" r="1.8" fill="#b01035" stroke="#1a1a1a" stroke-width="0.75" />
<circle cx="142.50" cy="454.00" r="1.8" fill="#b01035" stroke="#1a1a1a" stroke-width="0.75" />
<circle cx="158.40" cy="455.50" r="1.8" fill="#b01035" stroke="#1a1a1a" stroke-width="0.75" />
<circle cx="174.30" cy="452.00" r="1.8" fill="#b01035" stroke="#1a1a1a" stroke-width="0.75" />
<circle cx="190.20" cy="452.30" r="1.8" fill="#b01035" stroke="#1a1a1a" stroke-width="0.75" />
<circle cx="78.90" cy="440.00" r="1.8" fill="#b01035" stroke="#1a1a1a" stroke-width="0.75" />
<circle cx="94.80" cy="439.50" r="1.8" fill="#b01035" stroke="#1a1a1a" stroke-width="0.75" />
<circle cx="110.70" cy="453.00" r="1.8" fill="#b01035" stroke="#1a1a1a" stroke-width="0.75" />
<circle cx="126.60" cy="452.00" r="1.8" fill="#b01035" stroke="#1a1a1a" stroke-width="0.75" />
<circle cx="142.50" cy="455.00" r="1.8" fill="#b01035" stroke="#1a1a1a" stroke-width="0.75" />
<circle cx="158.40" cy="456.50" r="1.8" fill="#b01035" stroke="#1a1a1a" stroke-width="0.75" />
<circle cx="174.30" cy="453.00" r="1.8" fill="#b01035" stroke="#1a1a1a" stroke-width="0.75" />
<circle cx="190.20" cy="452.00" r="1.8" fill="#b01035" stroke="#1a1a1a" stroke-width="0.75" />
<circle cx="78.90" cy="439.50" r="1.8" fill="#b01035" stroke="#1a1a1a" stroke-width="0.75" />
<circle cx="94.80" cy="440.00" r="1.8" fill="#b01035" stroke="#1a1a1a" stroke-width="0.75" />
<circle cx="110.70" cy="453.70" r="1.8" fill="#b01035" stroke="#1a1a1a" stroke-width="0.75" />
<circle cx="126.60" cy="452.50" r="1.8" fill="#b01035" stroke="#1a1a1a" stroke-width="0.75" />
<circle cx="142.50" cy="454.50" r="1.8" fill="#b01035" stroke="#1a1a1a" stroke-width="0.75" />
<circle cx="158.40" cy="457.50" r="1.8" fill="#b01035" stroke="#1a1a1a" stroke-width="0.75" />
<circle cx="174.30" cy="452.50" r="1.8" fill="#b01035" stroke="#1a1a1a" stroke-width="0.75" />
<circle cx="190.20" cy="451.50" r="1.8" fill="#b01035" stroke="#1a1a1a" stroke-width="0.75" />
<circle cx="78.90" cy="439.80" r="1.8" fill="#f0a01e" stroke="#1a1a1a" stroke-width="0.75" />
<circle cx="94.80" cy="424.50" r="1.8" fill="#f0a01e" stroke="#1a1a1a" stroke-width="0.75" />
<circle cx="110.70" cy="396.50" r="1.8" fill="#f0a01e" stroke="#1a1a1a" stroke-width="0.75" />
<circle cx="126.60" cy="377.50" r="1.8" fill="#f0a01e" stroke="#1a1a1a" stroke-width="0.75" />
<circle cx="78.90" cy="441.00" r="1.8" fill="#f0a01e" stroke="#1a1a1a" stroke-width="0.75" />
<circle cx="94.80" cy="427.00" r="1.8" fill="#f0a01e" stroke="#1a1a1a" stroke-width="0.75" />
<circle cx="110.70" cy="397.50" r="1.8" fill="#f0a01e" stroke="#1a1a1a" stroke-width="0.75" />
<circle cx="126.60" cy="378.50" r="1.8" fill="#f0a01e" stroke="#1a1a1a" stroke-width="0.75" />
<circle cx="78.90" cy="442.00" r="1.8" fill="#f0a01e" stroke="#1a1a1a" stroke-width="0.75" />
<circle cx="94.80" cy="430.00" r="1.8" fill="#f0a01e" stroke="#1a1a1a" stroke-width="0.75" />
<circle cx="110.70" cy="398.50" r="1.8" fill="#f0a01e" stroke="#1a1a1a" stroke-width="0.75" />
<circle cx="126.60" cy="379.50" r="1.8" fill="#f0a01e" stroke="#1a1a1a" stroke-width="0.75" />
<circle cx="78.90" cy="443.00" r="1.8" fill="#f0a01e" stroke="#1a1a1a" stroke-width="0.75" />
<circle cx="94.80" cy="437.00" r="1.8" fill="#f0a01e" stroke="#1a1a1a" stroke-width="0.75" />
<circle cx="110.70" cy="419.80" r="1.8" fill="#f0a01e" stroke="#1a1a1a" stroke-width="0.75" />
<circle cx="126.60" cy="408.40" r="1.8" fill="#f0a01e" stroke="#1a1a1a" stroke-width="0.75" />
<circle cx="142.50" cy="405.80" r="1.8" fill="#f0a01e" stroke="#1a1a1a" stroke-width="0.75" />
<circle cx="158.40" cy="397.20" r="1.8" fill="#f0a01e" stroke="#1a1a1a" stroke-width="0.75" />
<circle cx="78.90" cy="445.00" r="1.8" fill="#f0a01e" stroke="#1a1a1a" stroke-width="0.75" />
<circle cx="94.80" cy="439.00" r="1.8" fill="#f0a01e" stroke="#1a1a1a" stroke-width="0.75" />
<circle cx="110.70" cy="433.20" r="1.8" fill="#f0a01e" stroke="#1a1a1a" stroke-width="0.75" />
<circle cx="126.60" cy="414.20" r="1.8" fill="#f0a01e" stroke="#1a1a1a" stroke-width="0.75" />
<circle cx="142.50" cy="417.70" r="1.8" fill="#f0a01e" stroke="#1a1a1a" stroke-width="0.75" />
<circle cx="158.40" cy="405.40" r="1.8" fill="#f0a01e" stroke="#1a1a1a" stroke-width="0.75" />
<circle cx="78.90" cy="447.00" r="1.8" fill="#c8862e" stroke="#1a1a1a" stroke-width="0.75" />
<circle cx="94.80" cy="440.00" r="1.8" fill="#c8862e" stroke="#1a1a1a" stroke-width="0.75" />
<circle cx="110.70" cy="399.00" r="1.8" fill="#c8862e" stroke="#1a1a1a" stroke-width="0.75" />
<circle cx="126.60" cy="379.00" r="1.8" fill="#c8862e" stroke="#1a1a1a" stroke-width="0.75" />
<circle cx="78.90" cy="448.00" r="1.8" fill="#c8862e" stroke="#1a1a1a" stroke-width="0.75" />
<circle cx="94.80" cy="441.00" r="1.8" fill="#c8862e" stroke="#1a1a1a" stroke-width="0.75" />
<circle cx="110.70" cy="401.00" r="1.8" fill="#c8862e" stroke="#1a1a1a" stroke-width="0.75" />
<circle cx="126.60" cy="380.00" r="1.8" fill="#c8862e" stroke="#1a1a1a" stroke-width="0.75" />
<circle cx="78.90" cy="448.70" r="1.8" fill="#c8862e" stroke="#1a1a1a" stroke-width="0.75" />
<circle cx="94.80" cy="442.10" r="1.8" fill="#c8862e" stroke="#1a1a1a" stroke-width="0.75" />
<circle cx="110.70" cy="403.00" r="1.8" fill="#c8862e" stroke="#1a1a1a" stroke-width="0.75" />
<circle cx="126.60" cy="382.00" r="1.8" fill="#c8862e" stroke="#1a1a1a" stroke-width="0.75" />
<circle cx="78.90" cy="447.50" r="1.8" fill="#c8862e" stroke="#1a1a1a" stroke-width="0.75" />
<circle cx="94.80" cy="441.00" r="1.8" fill="#c8862e" stroke="#1a1a1a" stroke-width="0.75" />
<circle cx="110.70" cy="400.00" r="1.8" fill="#c8862e" stroke="#1a1a1a" stroke-width="0.75" />
<circle cx="126.60" cy="381.00" r="1.8" fill="#c8862e" stroke="#1a1a1a" stroke-width="0.75" />
<circle cx="78.90" cy="448.00" r="1.8" fill="#c8862e" stroke="#1a1a1a" stroke-width="0.75" />
<circle cx="94.80" cy="440.50" r="1.8" fill="#c8862e" stroke="#1a1a1a" stroke-width="0.75" />
<circle cx="110.70" cy="402.00" r="1.8" fill="#c8862e" stroke="#1a1a1a" stroke-width="0.75" />
<circle cx="126.60" cy="380.50" r="1.8" fill="#c8862e" stroke="#1a1a1a" stroke-width="0.75" />
<circle cx="78.90" cy="443.00" r="1.8" fill="#9c90d4" stroke="#1a1a1a" stroke-width="0.75" />
<circle cx="94.80" cy="424.20" r="1.8" fill="#9c90d4" stroke="#1a1a1a" stroke-width="0.75" />
<circle cx="110.70" cy="401.20" r="1.8" fill="#9c90d4" stroke="#1a1a1a" stroke-width="0.75" />
<circle cx="126.60" cy="381.00" r="1.8" fill="#9c90d4" stroke="#1a1a1a" stroke-width="0.75" />
<circle cx="78.90" cy="444.00" r="1.8" fill="#9c90d4" stroke="#1a1a1a" stroke-width="0.75" />
<circle cx="94.80" cy="432.90" r="1.8" fill="#9c90d4" stroke="#1a1a1a" stroke-width="0.75" />
<circle cx="110.70" cy="404.00" r="1.8" fill="#9c90d4" stroke="#1a1a1a" stroke-width="0.75" />
<circle cx="126.60" cy="383.80" r="1.8" fill="#9c90d4" stroke="#1a1a1a" stroke-width="0.75" />
<circle cx="78.90" cy="445.00" r="1.8" fill="#9c90d4" stroke="#1a1a1a" stroke-width="0.75" />
<circle cx="94.80" cy="435.20" r="1.8" fill="#9c90d4" stroke="#1a1a1a" stroke-width="0.75" />
<circle cx="110.70" cy="406.90" r="1.8" fill="#9c90d4" stroke="#1a1a1a" stroke-width="0.75" />
<circle cx="126.60" cy="386.70" r="1.8" fill="#9c90d4" stroke="#1a1a1a" stroke-width="0.75" />
<circle cx="78.90" cy="446.00" r="1.8" fill="#9c90d4" stroke="#1a1a1a" stroke-width="0.75" />
<circle cx="94.80" cy="437.00" r="1.8" fill="#9c90d4" stroke="#1a1a1a" stroke-width="0.75" />
<circle cx="110.70" cy="409.80" r="1.8" fill="#9c90d4" stroke="#1a1a1a" stroke-width="0.75" />
<circle cx="126.60" cy="385.00" r="1.8" fill="#9c90d4" stroke="#1a1a1a" stroke-width="0.75" />
<circle cx="78.90" cy="446.50" r="1.8" fill="#9c90d4" stroke="#1a1a1a" stroke-width="0.75" />
<circle cx="94.80" cy="439.20" r="1.8" fill="#9c90d4" stroke="#1a1a1a" stroke-width="0.75" />
<circle cx="110.70" cy="408.00" r="1.8" fill="#9c90d4" stroke="#1a1a1a" stroke-width="0.75" />
<circle cx="126.60" cy="384.00" r="1.8" fill="#9c90d4" stroke="#1a1a1a" stroke-width="0.75" />
<line x1="204.70" y1="389.40" x2="214.90" y2="389.40" stroke="#b5b5b5" stroke-width="1.2" />
<circle cx="209.80" cy="389.40" r="2.0" fill="#fff" stroke="#555" stroke-width="0.8" />
<text x="219.20" y="392.80" font-size="9.7" textLength="19.50" lengthAdjust="spacingAndGlyphs" >NTC</text>
<line x1="204.70" y1="401.85" x2="214.90" y2="401.85" stroke="#f0a01e" stroke-width="1.2" />
<circle cx="209.80" cy="401.85" r="2.0" fill="#f0a01e" stroke="#1a1a1a" stroke-width="0.8" />
<text x="219.20" y="405.25" font-size="9.7" textLength="29.20" lengthAdjust="spacingAndGlyphs" >IM-28z</text>
<line x1="204.70" y1="414.30" x2="214.90" y2="414.30" stroke="#22407a" stroke-width="1.2" />
<circle cx="209.80" cy="414.30" r="2.0" fill="#22407a" stroke="#1a1a1a" stroke-width="0.8" />
<text x="219.20" y="417.70" font-size="9.7" textLength="28.80" lengthAdjust="spacingAndGlyphs" >LF-28z</text>
<line x1="204.70" y1="426.75" x2="214.90" y2="426.75" stroke="#c8862e" stroke-width="1.2" />
<circle cx="209.80" cy="426.75" r="2.0" fill="#c8862e" stroke="#1a1a1a" stroke-width="0.8" />
<text x="219.20" y="430.15" font-size="9.7" textLength="30.00" lengthAdjust="spacingAndGlyphs" >LF-BBz</text>
<line x1="204.70" y1="439.20" x2="214.90" y2="439.20" stroke="#9c90d4" stroke-width="1.2" />
<circle cx="209.80" cy="439.20" r="2.0" fill="#9c90d4" stroke="#1a1a1a" stroke-width="0.8" />
<text x="219.20" y="442.60" font-size="9.7" textLength="28.60" lengthAdjust="spacingAndGlyphs" >LF-27z</text>
<line x1="204.70" y1="451.65" x2="214.90" y2="451.65" stroke="#b01035" stroke-width="1.2" />
<circle cx="209.80" cy="451.65" r="2.0" fill="#b01035" stroke="#1a1a1a" stroke-width="0.8" />
<text x="219.20" y="455.05" font-size="9.7" textLength="29.20" lengthAdjust="spacingAndGlyphs" >CD27z</text>
<text x="256.70" y="357.30" font-size="15" font-weight="bold" fill="#000" stroke="#000" stroke-width="0.3">D</text>
<line x1="315.40" y1="377.90" x2="315.40" y2="472.60" stroke="#000" stroke-width="1.4" />
<line x1="311.70" y1="471.70" x2="315.40" y2="471.70" stroke="#000" stroke-width="1.1" />
<text x="307.40" y="475.30" font-size="10.2" text-anchor="end" >0</text>
<line x1="311.70" y1="450.36" x2="315.40" y2="450.36" stroke="#000" stroke-width="1.1" />
<text x="307.40" y="453.96" font-size="10.2" text-anchor="end" >25</text>
<line x1="311.70" y1="429.02" x2="315.40" y2="429.02" stroke="#000" stroke-width="1.1" />
<text x="307.40" y="432.62" font-size="10.2" text-anchor="end" >50</text>
<line x1="311.70" y1="407.69" x2="315.40" y2="407.69" stroke="#000" stroke-width="1.1" />
<text x="307.40" y="411.29" font-size="10.2" text-anchor="end" >75</text>
<line x1="311.70" y1="386.35" x2="315.40" y2="386.35" stroke="#000" stroke-width="1.1" />
<text x="307.40" y="389.95" font-size="10.2" text-anchor="end" >100</text>
<line x1="315.40" y1="471.70" x2="408.20" y2="471.70" stroke="#000" stroke-width="1.4" />
<line x1="315.40" y1="471.70" x2="315.40" y2="475.30" stroke="#000" stroke-width="1.1" />
<text x="315.40" y="488.60" font-size="10.2" text-anchor="middle" >0</text>
<line x1="332.84" y1="471.70" x2="332.84" y2="475.30" stroke="#000" stroke-width="1.1" />
<text x="332.84" y="488.60" font-size="10.2" text-anchor="middle" >15</text>
<line x1="350.29" y1="471.70" x2="350.29" y2="475.30" stroke="#000" stroke-width="1.1" />
<text x="350.29" y="488.60" font-size="10.2" text-anchor="middle" >30</text>
<line x1="367.73" y1="471.70" x2="367.73" y2="475.30" stroke="#000" stroke-width="1.1" />
<text x="367.73" y="488.60" font-size="10.2" text-anchor="middle" >45</text>
<line x1="385.18" y1="471.70" x2="385.18" y2="475.30" stroke="#000" stroke-width="1.1" />
<text x="385.18" y="488.60" font-size="10.2" text-anchor="middle" >60</text>
<line x1="402.62" y1="471.70" x2="402.62" y2="475.30" stroke="#000" stroke-width="1.1" />
<text x="402.62" y="488.60" font-size="10.2" text-anchor="middle" >75</text>
<text x="283.10" y="457.90" font-size="12.2" textLength="66.60" lengthAdjust="spacingAndGlyphs" transform="rotate(-90 283.10 457.90)" >Percent survival</text>
<text x="297.80" y="505.00" font-size="11.9" textLength="128.50" lengthAdjust="spacingAndGlyphs" >Days after tumor cell injection</text>
<path d="M343.31,386.35 L345.06,386.35 L345.06,403.42 L345.64,403.42 L345.64,437.56 L359.59,437.56 L359.59,454.63 L368.67,454.63 L368.67,471.70" fill="none" stroke="#f0a01e" stroke-width="1.5"/>
<path d="M344.47,386.35 L346.22,386.35 L346.22,471.70" fill="none" stroke="#c8862e" stroke-width="1.3"/>
<path d="M345.64,386.35 L347.38,386.35 L347.38,471.70" fill="none" stroke="#9c90d4" stroke-width="1.3"/>
<path d="M346.80,386.35 L386.34,386.35 L386.34,403.42 L388.09,403.42 L388.09,420.49 L407.86,420.49" fill="none" stroke="#22407a" stroke-width="1.4"/>
<path d="M388.09,386.35 L407.86,386.35" fill="none" stroke="#b01035" stroke-width="1.4"/>
<path d="M315.40,386.35 L343.31,386.35 L343.31,454.63 L343.89,454.63 L343.89,471.70" fill="none" stroke="#c4c4c4" stroke-width="1.4"/>
<line x1="412.30" y1="391.80" x2="417.50" y2="391.80" stroke="#c4c4c4" stroke-width="1.4" />
<text x="421.80" y="395.20" font-size="9.7" textLength="19.50" lengthAdjust="spacingAndGlyphs" >NTC</text>
<line x1="412.30" y1="404.22" x2="417.50" y2="404.22" stroke="#f0a01e" stroke-width="1.4" />
<text x="421.80" y="407.62" font-size="9.7" textLength="29.20" lengthAdjust="spacingAndGlyphs" >IM-28z</text>
<line x1="412.30" y1="416.64" x2="417.50" y2="416.64" stroke="#c8862e" stroke-width="1.4" />
<text x="421.80" y="420.04" font-size="9.7" textLength="30.00" lengthAdjust="spacingAndGlyphs" >LF-BBz</text>
<line x1="412.30" y1="429.06" x2="417.50" y2="429.06" stroke="#9c90d4" stroke-width="1.4" />
<text x="421.80" y="432.46" font-size="9.7" textLength="28.60" lengthAdjust="spacingAndGlyphs" >LF-27z</text>
<line x1="412.30" y1="441.48" x2="417.50" y2="441.48" stroke="#22407a" stroke-width="1.4" />
<text x="421.80" y="444.88" font-size="9.7" textLength="28.80" lengthAdjust="spacingAndGlyphs" >LF-28z</text>
<line x1="412.30" y1="453.90" x2="417.50" y2="453.90" stroke="#b01035" stroke-width="1.4" />
<text x="421.80" y="457.30" font-size="9.7" textLength="29.20" lengthAdjust="spacingAndGlyphs" >CD27z</text>
<text x="421.80" y="469.00" font-size="9.9" textLength="52.00" lengthAdjust="spacingAndGlyphs" >(n=5/group)</text>
<path d="M457.6,406.6 C461,406.6 460.8,408 460.8,411.5 L460.8,420.5 C460.8,423.5 461.5,424.9 463.6,424.9 C461.5,424.9 460.8,426.3 460.8,429.3 L460.8,438.6 C460.8,442 461,443.6 457.6,443.6" fill="none" stroke="#111" stroke-width="1.5" />
<path d="M457,449.6 L460.4,449.6 L460.4,458.9 L457,458.9" fill="none" stroke="#111" stroke-width="1.2" />
<text x="462.60" y="460.60" font-size="10.5" >*</text>
<path d="M469.8,425.4 L472.4,425.4 L472.4,450.4 L469.8,450.4" fill="none" stroke="#111" stroke-width="1.2" />
<text x="474.40" y="443.60" font-size="10.5" >**</text>
<path d="M482.2,425.4 L485.4,425.4 L485.4,459.2 L482.2,459.2" fill="none" stroke="#111" stroke-width="1.2" />
<text x="487.00" y="446.40" font-size="10.5" >**</text>
<text x="8.90" y="538.30" font-size="15" font-weight="bold" fill="#000" stroke="#000" stroke-width="0.3">E</text>
<text x="35.80" y="586.90" font-size="10.0" textLength="21.10" lengthAdjust="spacingAndGlyphs" >2 Gy</text>
<text x="70.30" y="568.50" font-size="10.0" textLength="19.20" lengthAdjust="spacingAndGlyphs" >1x10</text>
<text x="90.00" y="565.40" font-size="6.8" >6</text>
<text x="67.70" y="581.10" font-size="10.0" textLength="30.00" lengthAdjust="spacingAndGlyphs" >THP-1.</text>
<text x="62.60" y="593.50" font-size="10.0" textLength="39.40" lengthAdjust="spacingAndGlyphs" >zsg.CBG</text>
<text x="110.00" y="581.20" font-size="10.0" textLength="20.00" lengthAdjust="spacingAndGlyphs" >5x10</text>
<text x="130.80" y="578.10" font-size="6.8" >6</text>
<text x="110.20" y="593.50" font-size="10.0" textLength="27.00" lengthAdjust="spacingAndGlyphs" >T-cells</text>
<text x="142.50" y="581.20" font-size="10.0" textLength="77.50" lengthAdjust="spacingAndGlyphs" >Bioluminescence</text>
<text x="162.50" y="593.50" font-size="10.0" textLength="37.50" lengthAdjust="spacingAndGlyphs" >Imaging</text>
<polygon points="52.8,593.6 57.6,591.2 59.0,597.4 61.0,596.6 63.6,608.8 57.8,599.6 56.2,600.4" fill="#f2c01c" stroke="#9a7a10" stroke-width="0.4"/>
<g transform="translate(9.00 535.50)"><path d="M51.2,83.4 Q48.0,87 49.2,92.0" fill="none" stroke="#3a3a3a" stroke-width="1.0"/><ellipse cx="36.3" cy="69.6" rx="2.4" ry="1.1" transform="rotate(-45 36.3 69.6)" fill="#111"/><line x1="36.4" y1="69.6" x2="39.8" y2="72.8" stroke="#111" stroke-width="1.1"/><line x1="39.4" y1="72.4" x2="48.6" y2="81.8" stroke="#111" stroke-width="4.0"/><line x1="40.6" y1="73.6" x2="47.5" y2="80.7" stroke="#fff" stroke-width="1.5"/><line x1="48.4" y1="81.6" x2="52.2" y2="84.2" stroke="#111" stroke-width="0.9"/><path d="M53.2,82.5 C54,77.6 58.5,75.9 64,76.3 C68.5,76.8 71.6,79.2 74.3,82.3 C71.6,85.6 68.5,87.9 64,88.6 C58.5,89.2 54,87.4 53.2,82.5 Z" fill="#a9a9a9" stroke="#1a1a1a" stroke-width="0.8"/><circle cx="71.0" cy="79.8" r="1.25" fill="#111"/><circle cx="70.8" cy="84.4" r="1.25" fill="#111"/><circle cx="73.6" cy="82.3" r="1.35" fill="#111"/><circle cx="67.0" cy="76.7" r="2.6" fill="#626262" stroke="#111" stroke-width="0.9"/><circle cx="67.0" cy="87.8" r="2.6" fill="#626262" stroke="#111" stroke-width="0.9"/><path d="M73.6,78.4 l2.2,-2.0 M74.4,79.2 l2.2,-2.0 M73.0,86.4 l2.0,1.8 M73.8,85.6 l2.0,1.8" stroke="#c4c4c4" stroke-width="0.7"/></g>
<g transform="translate(58.20 535.50)"><path d="M51.2,83.4 Q48.0,87 49.2,92.0" fill="none" stroke="#3a3a3a" stroke-width="1.0"/><ellipse cx="36.3" cy="69.6" rx="2.4" ry="1.1" transform="rotate(-45 36.3 69.6)" fill="#111"/><line x1="36.4" y1="69.6" x2="39.8" y2="72.8" stroke="#111" stroke-width="1.1"/><line x1="39.4" y1="72.4" x2="48.6" y2="81.8" stroke="#111" stroke-width="4.0"/><line x1="40.6" y1="73.6" x2="47.5" y2="80.7" stroke="#fff" stroke-width="1.5"/><line x1="48.4" y1="81.6" x2="52.2" y2="84.2" stroke="#111" stroke-width="0.9"/><path d="M53.2,82.5 C54,77.6 58.5,75.9 64,76.3 C68.5,76.8 71.6,79.2 74.3,82.3 C71.6,85.6 68.5,87.9 64,88.6 C58.5,89.2 54,87.4 53.2,82.5 Z" fill="#a9a9a9" stroke="#1a1a1a" stroke-width="0.8"/><circle cx="71.0" cy="79.8" r="1.25" fill="#111"/><circle cx="70.8" cy="84.4" r="1.25" fill="#111"/><circle cx="73.6" cy="82.3" r="1.35" fill="#111"/><circle cx="67.0" cy="76.7" r="2.6" fill="#626262" stroke="#111" stroke-width="0.9"/><circle cx="67.0" cy="87.8" r="2.6" fill="#626262" stroke="#111" stroke-width="0.9"/><path d="M73.6,78.4 l2.2,-2.0 M74.4,79.2 l2.2,-2.0 M73.0,86.4 l2.0,1.8 M73.8,85.6 l2.0,1.8" stroke="#c4c4c4" stroke-width="0.7"/></g>
<line x1="69.80" y1="633.30" x2="214.20" y2="633.30" stroke="#000" stroke-width="2.4" />
<line x1="70.80" y1="628.40" x2="70.80" y2="637.90" stroke="#000" stroke-width="2.4" />
<line x1="121.90" y1="628.40" x2="121.90" y2="637.90" stroke="#000" stroke-width="2.4" />
<line x1="161.30" y1="628.40" x2="161.30" y2="637.90" stroke="#000" stroke-width="2.4" />
<line x1="187.00" y1="628.40" x2="187.00" y2="637.90" stroke="#000" stroke-width="2.4" />
<line x1="213.20" y1="628.40" x2="213.20" y2="637.90" stroke="#000" stroke-width="2.4" />
<polygon points="168.60,637.90 173.40,630.10 175.20,630.10 170.40,637.90" fill="#fff"/>
<line x1="168.20" y1="637.90" x2="173.00" y2="630.10" stroke="#000" stroke-width="1.1" />
<line x1="170.80" y1="637.90" x2="175.60" y2="630.10" stroke="#000" stroke-width="1.1" />
<polygon points="195.60,637.90 200.40,630.10 202.20,630.10 197.40,637.90" fill="#fff"/>
<line x1="195.20" y1="637.90" x2="200.00" y2="630.10" stroke="#000" stroke-width="1.1" />
<line x1="197.80" y1="637.90" x2="202.60" y2="630.10" stroke="#000" stroke-width="1.1" />
<text x="70.80" y="650.20" font-size="10.2" text-anchor="middle" >-4</text>
<text x="121.90" y="650.20" font-size="10.2" text-anchor="middle" >0</text>
<text x="161.30" y="650.20" font-size="10.2" text-anchor="middle" >3</text>
<text x="187.00" y="650.20" font-size="10.2" text-anchor="middle" >10</text>
<text x="213.20" y="650.20" font-size="10.2" text-anchor="middle" >17</text>
<text x="256.90" y="537.50" font-size="15" font-weight="bold" fill="#000" stroke="#000" stroke-width="0.3">F</text>
<line x1="315.40" y1="542.40" x2="315.40" y2="672.20" stroke="#000" stroke-width="1.9" />
<line x1="311.50" y1="671.30" x2="315.40" y2="671.30" stroke="#000" stroke-width="1.1" />
<line x1="313.20" y1="663.71" x2="315.40" y2="663.71" stroke="#000" stroke-width="0.7" />
<line x1="313.20" y1="659.27" x2="315.40" y2="659.27" stroke="#000" stroke-width="0.7" />
<line x1="313.20" y1="656.12" x2="315.40" y2="656.12" stroke="#000" stroke-width="0.7" />
<line x1="313.20" y1="653.67" x2="315.40" y2="653.67" stroke="#000" stroke-width="0.7" />
<line x1="313.20" y1="651.68" x2="315.40" y2="651.68" stroke="#000" stroke-width="0.7" />
<line x1="313.20" y1="649.99" x2="315.40" y2="649.99" stroke="#000" stroke-width="0.7" />
<line x1="313.20" y1="648.52" x2="315.40" y2="648.52" stroke="#000" stroke-width="0.7" />
<line x1="313.20" y1="647.23" x2="315.40" y2="647.23" stroke="#000" stroke-width="0.7" />
<text x="301.10" y="676.00" font-size="10.3" text-anchor="end" >10</text>
<text x="301.70" y="671.80" font-size="6.9" >5</text>
<line x1="311.50" y1="646.08" x2="315.40" y2="646.08" stroke="#000" stroke-width="1.1" />
<line x1="313.20" y1="638.49" x2="315.40" y2="638.49" stroke="#000" stroke-width="0.7" />
<line x1="313.20" y1="634.05" x2="315.40" y2="634.05" stroke="#000" stroke-width="0.7" />
<line x1="313.20" y1="630.90" x2="315.40" y2="630.90" stroke="#000" stroke-width="0.7" />
<line x1="313.20" y1="628.45" x2="315.40" y2="628.45" stroke="#000" stroke-width="0.7" />
<line x1="313.20" y1="626.46" x2="315.40" y2="626.46" stroke="#000" stroke-width="0.7" />
<line x1="313.20" y1="624.77" x2="315.40" y2="624.77" stroke="#000" stroke-width="0.7" />
<line x1="313.20" y1="623.30" x2="315.40" y2="623.30" stroke="#000" stroke-width="0.7" />
<line x1="313.20" y1="622.01" x2="315.40" y2="622.01" stroke="#000" stroke-width="0.7" />
<text x="301.10" y="650.78" font-size="10.3" text-anchor="end" >10</text>
<text x="301.70" y="646.58" font-size="6.9" >6</text>
<line x1="311.50" y1="620.86" x2="315.40" y2="620.86" stroke="#000" stroke-width="1.1" />
<line x1="313.20" y1="613.27" x2="315.40" y2="613.27" stroke="#000" stroke-width="0.7" />
<line x1="313.20" y1="608.83" x2="315.40" y2="608.83" stroke="#000" stroke-width="0.7" />
<line x1="313.20" y1="605.68" x2="315.40" y2="605.68" stroke="#000" stroke-width="0.7" />
<line x1="313.20" y1="603.23" x2="315.40" y2="603.23" stroke="#000" stroke-width="0.7" />
<line x1="313.20" y1="601.24" x2="315.40" y2="601.24" stroke="#000" stroke-width="0.7" />
<line x1="313.20" y1="599.55" x2="315.40" y2="599.55" stroke="#000" stroke-width="0.7" />
<line x1="313.20" y1="598.08" x2="315.40" y2="598.08" stroke="#000" stroke-width="0.7" />
<line x1="313.20" y1="596.79" x2="315.40" y2="596.79" stroke="#000" stroke-width="0.7" />
<text x="301.10" y="625.56" font-size="10.3" text-anchor="end" >10</text>
<text x="301.70" y="621.36" font-size="6.9" >7</text>
<line x1="311.50" y1="595.64" x2="315.40" y2="595.64" stroke="#000" stroke-width="1.1" />
<line x1="313.20" y1="588.05" x2="315.40" y2="588.05" stroke="#000" stroke-width="0.7" />
<line x1="313.20" y1="583.61" x2="315.40" y2="583.61" stroke="#000" stroke-width="0.7" />
<line x1="313.20" y1="580.46" x2="315.40" y2="580.46" stroke="#000" stroke-width="0.7" />
<line x1="313.20" y1="578.01" x2="315.40" y2="578.01" stroke="#000" stroke-width="0.7" />
<line x1="313.20" y1="576.02" x2="315.40" y2="576.02" stroke="#000" stroke-width="0.7" />
<line x1="313.20" y1="574.33" x2="315.40" y2="574.33" stroke="#000" stroke-width="0.7" />
<line x1="313.20" y1="572.86" x2="315.40" y2="572.86" stroke="#000" stroke-width="0.7" />
<line x1="313.20" y1="571.57" x2="315.40" y2="571.57" stroke="#000" stroke-width="0.7" />
<text x="301.10" y="600.34" font-size="10.3" text-anchor="end" >10</text>
<text x="301.70" y="596.14" font-size="6.9" >8</text>
<line x1="311.50" y1="570.42" x2="315.40" y2="570.42" stroke="#000" stroke-width="1.1" />
<line x1="313.20" y1="562.83" x2="315.40" y2="562.83" stroke="#000" stroke-width="0.7" />
<line x1="313.20" y1="558.39" x2="315.40" y2="558.39" stroke="#000" stroke-width="0.7" />
<line x1="313.20" y1="555.24" x2="315.40" y2="555.24" stroke="#000" stroke-width="0.7" />
<line x1="313.20" y1="552.79" x2="315.40" y2="552.79" stroke="#000" stroke-width="0.7" />
<line x1="313.20" y1="550.80" x2="315.40" y2="550.80" stroke="#000" stroke-width="0.7" />
<line x1="313.20" y1="549.11" x2="315.40" y2="549.11" stroke="#000" stroke-width="0.7" />
<line x1="313.20" y1="547.64" x2="315.40" y2="547.64" stroke="#000" stroke-width="0.7" />
<line x1="313.20" y1="546.35" x2="315.40" y2="546.35" stroke="#000" stroke-width="0.7" />
<text x="301.10" y="575.12" font-size="10.3" text-anchor="end" >10</text>
<text x="301.70" y="570.92" font-size="6.9" >9</text>
<line x1="311.50" y1="545.20" x2="315.40" y2="545.20" stroke="#000" stroke-width="1.1" />
<text x="297.40" y="549.90" font-size="10.3" text-anchor="end" >10</text>
<text x="298.00" y="545.70" font-size="6.9" >10</text>
<line x1="315.40" y1="671.30" x2="435.50" y2="671.30" stroke="#000" stroke-width="1.9" />
<line x1="333.80" y1="671.30" x2="333.80" y2="674.80" stroke="#000" stroke-width="1.0" />
<text x="333.80" y="688.00" font-size="10.4" text-anchor="middle" >d-1</text>
<line x1="361.50" y1="671.30" x2="361.50" y2="674.80" stroke="#000" stroke-width="1.0" />
<text x="361.50" y="688.00" font-size="10.4" text-anchor="middle" >d3</text>
<line x1="389.30" y1="671.30" x2="389.30" y2="674.80" stroke="#000" stroke-width="1.0" />
<text x="389.30" y="688.00" font-size="10.4" text-anchor="middle" >d10</text>
<line x1="416.90" y1="671.30" x2="416.90" y2="674.80" stroke="#000" stroke-width="1.0" />
<text x="416.90" y="688.00" font-size="10.4" text-anchor="middle" >d17</text>
<text x="324.20" y="705.00" font-size="11.9" textLength="103.20" lengthAdjust="spacingAndGlyphs" >Days after T cell infusion</text>
<text x="281.4" y="654.2" font-size="12.2" textLength="110.9" lengthAdjust="spacingAndGlyphs" transform="rotate(-90 281.4 654.2)">ROI expansion (p/sec/cm<tspan dy="-4.4" font-size="7.6">2</tspan><tspan dy="4.4">/sr)</tspan></text>
<path d="M333.80,638.80 L361.50,623.10 L389.30,595.75 L416.90,571.25" fill="none" stroke="#b8b8b8" stroke-width="1.2" stroke-linejoin="round" stroke-dasharray="3.2,2.2"/>
<path d="M333.80,633.00 L361.50,628.70 L389.30,600.00 L416.90,578.00" fill="none" stroke="#b8b8b8" stroke-width="1.2" stroke-linejoin="round" stroke-dasharray="3.2,2.2"/>
<path d="M333.80,644.60 L361.50,644.00 L389.30,605.00 L416.90,596.25" fill="none" stroke="#b8b8b8" stroke-width="1.2" stroke-linejoin="round" stroke-dasharray="3.2,2.2"/>
<path d="M333.80,636.00 L361.50,640.00 L389.30,608.75 L416.90,603.00" fill="none" stroke="#b8b8b8" stroke-width="1.2" stroke-linejoin="round" stroke-dasharray="3.2,2.2"/>
<path d="M333.80,628.00 L361.50,637.00 L389.30,641.00 L416.90,641.00" fill="none" stroke="#22407a" stroke-width="1.5" stroke-linejoin="round"/>
<path d="M333.80,630.00 L361.50,639.00 L389.30,642.00 L416.90,642.00" fill="none" stroke="#22407a" stroke-width="1.5" stroke-linejoin="round"/>
<path d="M333.80,632.00 L361.50,640.00 L389.30,643.00 L416.90,643.00" fill="none" stroke="#22407a" stroke-width="1.5" stroke-linejoin="round"/>
<path d="M333.80,634.00 L361.50,642.00 L389.30,644.00 L416.90,644.00" fill="none" stroke="#22407a" stroke-width="1.5" stroke-linejoin="round"/>
<path d="M333.80,636.00 L361.50,643.00 L389.30,645.00 L416.90,645.00" fill="none" stroke="#22407a" stroke-width="1.5" stroke-linejoin="round"/>
<path d="M333.80,624.40 L361.50,635.00 L389.30,639.00 L416.90,638.50" fill="none" stroke="#b01035" stroke-width="1.6" stroke-linejoin="round"/>
<path d="M333.80,626.30 L361.50,637.00 L389.30,640.50 L416.90,640.50" fill="none" stroke="#b01035" stroke-width="1.6" stroke-linejoin="round"/>
<path d="M333.80,629.20 L361.50,638.80 L389.30,642.00 L416.90,642.50" fill="none" stroke="#b01035" stroke-width="1.6" stroke-linejoin="round"/>
<path d="M333.80,631.00 L361.50,641.00 L389.30,644.00 L416.90,644.50" fill="none" stroke="#b01035" stroke-width="1.6" stroke-linejoin="round"/>
<path d="M333.80,633.10 L361.50,643.70 L389.30,645.60 L416.90,646.50" fill="none" stroke="#b01035" stroke-width="1.6" stroke-linejoin="round"/>
<circle cx="333.80" cy="638.80" r="2.1" fill="#fff" stroke="#666" stroke-width="0.8" />
<circle cx="361.50" cy="623.10" r="2.1" fill="#fff" stroke="#666" stroke-width="0.8" />
<circle cx="389.30" cy="595.75" r="2.1" fill="#fff" stroke="#666" stroke-width="0.8" />
<circle cx="416.90" cy="571.25" r="2.1" fill="#fff" stroke="#666" stroke-width="0.8" />
<circle cx="333.80" cy="633.00" r="2.1" fill="#fff" stroke="#666" stroke-width="0.8" />
<circle cx="361.50" cy="628.70" r="2.1" fill="#fff" stroke="#666" stroke-width="0.8" />
<circle cx="389.30" cy="600.00" r="2.1" fill="#fff" stroke="#666" stroke-width="0.8" />
<circle cx="416.90" cy="578.00" r="2.1" fill="#fff" stroke="#666" stroke-width="0.8" />
<circle cx="333.80" cy="644.60" r="2.1" fill="#fff" stroke="#666" stroke-width="0.8" />
<circle cx="361.50" cy="644.00" r="2.1" fill="#fff" stroke="#666" stroke-width="0.8" />
<circle cx="389.30" cy="605.00" r="2.1" fill="#fff" stroke="#666" stroke-width="0.8" />
<circle cx="416.90" cy="596.25" r="2.1" fill="#fff" stroke="#666" stroke-width="0.8" />
<circle cx="333.80" cy="636.00" r="2.1" fill="#fff" stroke="#666" stroke-width="0.8" />
<circle cx="361.50" cy="640.00" r="2.1" fill="#fff" stroke="#666" stroke-width="0.8" />
<circle cx="389.30" cy="608.75" r="2.1" fill="#fff" stroke="#666" stroke-width="0.8" />
<circle cx="416.90" cy="603.00" r="2.1" fill="#fff" stroke="#666" stroke-width="0.8" />
<circle cx="333.80" cy="628.00" r="2.1" fill="#22407a" stroke="#1a1a1a" stroke-width="0.8" />
<circle cx="361.50" cy="637.00" r="2.1" fill="#22407a" stroke="#1a1a1a" stroke-width="0.8" />
<circle cx="389.30" cy="641.00" r="2.1" fill="#22407a" stroke="#1a1a1a" stroke-width="0.8" />
<circle cx="416.90" cy="641.00" r="2.1" fill="#22407a" stroke="#1a1a1a" stroke-width="0.8" />
<circle cx="333.80" cy="630.00" r="2.1" fill="#22407a" stroke="#1a1a1a" stroke-width="0.8" />
<circle cx="361.50" cy="639.00" r="2.1" fill="#22407a" stroke="#1a1a1a" stroke-width="0.8" />
<circle cx="389.30" cy="642.00" r="2.1" fill="#22407a" stroke="#1a1a1a" stroke-width="0.8" />
<circle cx="416.90" cy="642.00" r="2.1" fill="#22407a" stroke="#1a1a1a" stroke-width="0.8" />
<circle cx="333.80" cy="632.00" r="2.1" fill="#22407a" stroke="#1a1a1a" stroke-width="0.8" />
<circle cx="361.50" cy="640.00" r="2.1" fill="#22407a" stroke="#1a1a1a" stroke-width="0.8" />
<circle cx="389.30" cy="643.00" r="2.1" fill="#22407a" stroke="#1a1a1a" stroke-width="0.8" />
<circle cx="416.90" cy="643.00" r="2.1" fill="#22407a" stroke="#1a1a1a" stroke-width="0.8" />
<circle cx="333.80" cy="634.00" r="2.1" fill="#22407a" stroke="#1a1a1a" stroke-width="0.8" />
<circle cx="361.50" cy="642.00" r="2.1" fill="#22407a" stroke="#1a1a1a" stroke-width="0.8" />
<circle cx="389.30" cy="644.00" r="2.1" fill="#22407a" stroke="#1a1a1a" stroke-width="0.8" />
<circle cx="416.90" cy="644.00" r="2.1" fill="#22407a" stroke="#1a1a1a" stroke-width="0.8" />
<circle cx="333.80" cy="636.00" r="2.1" fill="#22407a" stroke="#1a1a1a" stroke-width="0.8" />
<circle cx="361.50" cy="643.00" r="2.1" fill="#22407a" stroke="#1a1a1a" stroke-width="0.8" />
<circle cx="389.30" cy="645.00" r="2.1" fill="#22407a" stroke="#1a1a1a" stroke-width="0.8" />
<circle cx="416.90" cy="645.00" r="2.1" fill="#22407a" stroke="#1a1a1a" stroke-width="0.8" />
<circle cx="333.80" cy="624.40" r="2.1" fill="#b01035" stroke="#1a1a1a" stroke-width="0.8" />
<circle cx="361.50" cy="635.00" r="2.1" fill="#b01035" stroke="#1a1a1a" stroke-width="0.8" />
<circle cx="389.30" cy="639.00" r="2.1" fill="#b01035" stroke="#1a1a1a" stroke-width="0.8" />
<circle cx="416.90" cy="638.50" r="2.1" fill="#b01035" stroke="#1a1a1a" stroke-width="0.8" />
<circle cx="333.80" cy="626.30" r="2.1" fill="#b01035" stroke="#1a1a1a" stroke-width="0.8" />
<circle cx="361.50" cy="637.00" r="2.1" fill="#b01035" stroke="#1a1a1a" stroke-width="0.8" />
<circle cx="389.30" cy="640.50" r="2.1" fill="#b01035" stroke="#1a1a1a" stroke-width="0.8" />
<circle cx="416.90" cy="640.50" r="2.1" fill="#b01035" stroke="#1a1a1a" stroke-width="0.8" />
<circle cx="333.80" cy="629.20" r="2.1" fill="#b01035" stroke="#1a1a1a" stroke-width="0.8" />
<circle cx="361.50" cy="638.80" r="2.1" fill="#b01035" stroke="#1a1a1a" stroke-width="0.8" />
<circle cx="389.30" cy="642.00" r="2.1" fill="#b01035" stroke="#1a1a1a" stroke-width="0.8" />
<circle cx="416.90" cy="642.50" r="2.1" fill="#b01035" stroke="#1a1a1a" stroke-width="0.8" />
<circle cx="333.80" cy="631.00" r="2.1" fill="#b01035" stroke="#1a1a1a" stroke-width="0.8" />
<circle cx="361.50" cy="641.00" r="2.1" fill="#b01035" stroke="#1a1a1a" stroke-width="0.8" />
<circle cx="389.30" cy="644.00" r="2.1" fill="#b01035" stroke="#1a1a1a" stroke-width="0.8" />
<circle cx="416.90" cy="644.50" r="2.1" fill="#b01035" stroke="#1a1a1a" stroke-width="0.8" />
<circle cx="333.80" cy="633.10" r="2.1" fill="#b01035" stroke="#1a1a1a" stroke-width="0.8" />
<circle cx="361.50" cy="643.70" r="2.1" fill="#b01035" stroke="#1a1a1a" stroke-width="0.8" />
<circle cx="389.30" cy="645.60" r="2.1" fill="#b01035" stroke="#1a1a1a" stroke-width="0.8" />
<circle cx="416.90" cy="646.50" r="2.1" fill="#b01035" stroke="#1a1a1a" stroke-width="0.8" />
<line x1="439.50" y1="592.10" x2="452.50" y2="592.10" stroke="#bdbdbd" stroke-width="1.2" stroke-dasharray="2.5,1.5"/>
<circle cx="446.00" cy="592.10" r="2.3" fill="#fff" stroke="#555" stroke-width="0.8" />
<text x="456.80" y="595.60" font-size="9.6" textLength="44.20" lengthAdjust="spacingAndGlyphs" >NTC (n=4)</text>
<line x1="439.50" y1="606.80" x2="452.50" y2="606.80" stroke="#22407a" stroke-width="1.2" />
<circle cx="446.00" cy="606.80" r="2.3" fill="#22407a" stroke="#1a1a1a" stroke-width="0.8" />
<text x="456.80" y="610.30" font-size="9.6" textLength="53.70" lengthAdjust="spacingAndGlyphs" >LF-28z (n=5)</text>
<line x1="439.50" y1="621.00" x2="452.50" y2="621.00" stroke="#b01035" stroke-width="1.2" />
<circle cx="446.00" cy="621.00" r="2.3" fill="#b01035" stroke="#1a1a1a" stroke-width="0.8" />
<text x="456.80" y="624.50" font-size="9.6" textLength="54.20" lengthAdjust="spacingAndGlyphs" >CD27z (n=5)</text>
<text x="8.90" y="728.60" font-size="15" font-weight="bold" fill="#000" stroke="#000" stroke-width="0.3">G</text>
<text x="71.90" y="738.70" font-size="11.3" textLength="81.70" lengthAdjust="spacingAndGlyphs" >AML pat. 0001</text>
<line x1="68.00" y1="759.30" x2="68.00" y2="857.20" stroke="#000" stroke-width="1.4" />
<line x1="64.70" y1="856.40" x2="68.00" y2="856.40" stroke="#000" stroke-width="1.1" />
<text x="60.60" y="860.10" font-size="10.5" text-anchor="end" >0</text>
<line x1="64.70" y1="833.06" x2="68.00" y2="833.06" stroke="#000" stroke-width="1.1" />
<text x="60.60" y="836.76" font-size="10.5" text-anchor="end" >20</text>
<line x1="64.70" y1="809.72" x2="68.00" y2="809.72" stroke="#000" stroke-width="1.1" />
<text x="60.60" y="813.42" font-size="10.5" text-anchor="end" >40</text>
<line x1="64.70" y1="786.38" x2="68.00" y2="786.38" stroke="#000" stroke-width="1.1" />
<text x="60.60" y="790.08" font-size="10.5" text-anchor="end" >60</text>
<line x1="64.70" y1="763.04" x2="68.00" y2="763.04" stroke="#000" stroke-width="1.1" />
<text x="60.60" y="766.74" font-size="10.5" text-anchor="end" >80</text>
<text x="42.00" y="826.20" font-size="10.0" textLength="36.80" lengthAdjust="spacingAndGlyphs" transform="rotate(-90 42.00 826.20)" >Lysis (%)</text>
<rect x="77.30" y="842.98" width="17.40" height="13.42" fill="#c8c8cb" />
<rect x="104.20" y="796.30" width="17.40" height="60.10" fill="#2c4a82" />
<rect x="130.90" y="799.22" width="17.40" height="57.18" fill="#ad0b33" />
<line x1="68.00" y1="856.50" x2="156.50" y2="856.50" stroke="#000" stroke-width="1.5" />
<line x1="86.00" y1="856.50" x2="86.00" y2="859.80" stroke="#000" stroke-width="1.0" />
<line x1="86.00" y1="834.81" x2="86.00" y2="849.98" stroke="#000" stroke-width="1.4" />
<line x1="82.70" y1="834.81" x2="89.30" y2="834.81" stroke="#000" stroke-width="1.4" />
<line x1="82.70" y1="849.98" x2="89.30" y2="849.98" stroke="#000" stroke-width="1.4" />
<polygon points="86.00,832.21 88.50,836.51 83.50,836.51" fill="#000"/>
<polygon points="86.00,842.13 88.50,846.43 83.50,846.43" fill="#000"/>
<circle cx="86.00" cy="849.98" r="1.8" fill="#000" stroke="none" stroke-width="0" />
<line x1="112.90" y1="856.50" x2="112.90" y2="859.80" stroke="#000" stroke-width="1.0" />
<line x1="112.90" y1="775.88" x2="112.90" y2="814.97" stroke="#000" stroke-width="1.4" />
<line x1="109.60" y1="775.88" x2="116.20" y2="775.88" stroke="#000" stroke-width="1.4" />
<line x1="109.60" y1="814.97" x2="116.20" y2="814.97" stroke="#000" stroke-width="1.4" />
<polygon points="112.90,773.28 115.40,777.58 110.40,777.58" fill="#000"/>
<polygon points="112.90,793.70 115.40,798.00 110.40,798.00" fill="#000"/>
<circle cx="112.90" cy="814.97" r="1.8" fill="#000" stroke="none" stroke-width="0" />
<line x1="139.60" y1="856.50" x2="139.60" y2="859.80" stroke="#000" stroke-width="1.0" />
<line x1="139.60" y1="778.79" x2="139.60" y2="819.06" stroke="#000" stroke-width="1.4" />
<line x1="136.30" y1="778.79" x2="142.90" y2="778.79" stroke="#000" stroke-width="1.4" />
<line x1="136.30" y1="819.06" x2="142.90" y2="819.06" stroke="#000" stroke-width="1.4" />
<polygon points="139.60,776.19 142.10,780.49 137.10,780.49" fill="#000"/>
<circle cx="139.60" cy="800.38" r="1.8" fill="#000" stroke="none" stroke-width="0" />
<circle cx="139.60" cy="819.06" r="1.8" fill="#000" stroke="none" stroke-width="0" />
<text x="91.00" y="866.80" font-size="10.5" text-anchor="end" transform="rotate(-45 91.00 866.80)" >NTC</text>
<text x="117.90" y="866.80" font-size="10.5" text-anchor="end" transform="rotate(-45 117.90 866.80)" >LF-28z</text>
<text x="144.60" y="866.80" font-size="10.5" text-anchor="end" transform="rotate(-45 144.60 866.80)" >CD27z</text>
<path d="M86.50,822.50 L86.50,766.60 L113.25,766.60 L113.25,768.60" fill="none" stroke="#111" stroke-width="1.25" />
<text x="99.80" y="768.10" font-size="10.5" text-anchor="middle" >*</text>
<path d="M86.50,755.90 L86.50,753.90 L140.30,753.90 L140.30,755.90" fill="none" stroke="#111" stroke-width="1.25" />
<text x="113.40" y="755.50" font-size="10.5" text-anchor="middle" >*</text>
<text x="206.70" y="738.70" font-size="11.3" textLength="82.50" lengthAdjust="spacingAndGlyphs" >AML pat. 0003</text>
<line x1="203.30" y1="759.30" x2="203.30" y2="857.20" stroke="#000" stroke-width="1.4" />
<line x1="200.00" y1="856.40" x2="203.30" y2="856.40" stroke="#000" stroke-width="1.1" />
<text x="195.90" y="860.10" font-size="10.5" text-anchor="end" >0</text>
<line x1="200.00" y1="833.06" x2="203.30" y2="833.06" stroke="#000" stroke-width="1.1" />
<text x="195.90" y="836.76" font-size="10.5" text-anchor="end" >20</text>
<line x1="200.00" y1="809.72" x2="203.30" y2="809.72" stroke="#000" stroke-width="1.1" />
<text x="195.90" y="813.42" font-size="10.5" text-anchor="end" >40</text>
<line x1="200.00" y1="786.38" x2="203.30" y2="786.38" stroke="#000" stroke-width="1.1" />
<text x="195.90" y="790.08" font-size="10.5" text-anchor="end" >60</text>
<line x1="200.00" y1="763.04" x2="203.30" y2="763.04" stroke="#000" stroke-width="1.1" />
<text x="195.90" y="766.74" font-size="10.5" text-anchor="end" >80</text>
<text x="177.30" y="826.20" font-size="10.0" textLength="36.80" lengthAdjust="spacingAndGlyphs" transform="rotate(-90 177.30 826.20)" >Lysis (%)</text>
<rect x="212.60" y="847.06" width="17.40" height="9.34" fill="#c8c8cb" />
<rect x="239.50" y="820.22" width="17.40" height="36.18" fill="#2c4a82" />
<rect x="266.20" y="812.05" width="17.40" height="44.35" fill="#ad0b33" />
<line x1="203.30" y1="856.50" x2="291.80" y2="856.50" stroke="#000" stroke-width="1.5" />
<line x1="221.30" y1="856.50" x2="221.30" y2="859.80" stroke="#000" stroke-width="1.0" />
<line x1="221.30" y1="843.56" x2="221.30" y2="848.81" stroke="#000" stroke-width="1.4" />
<line x1="218.00" y1="843.56" x2="224.60" y2="843.56" stroke="#000" stroke-width="1.4" />
<line x1="218.00" y1="848.81" x2="224.60" y2="848.81" stroke="#000" stroke-width="1.4" />
<polygon points="217.30,840.96 219.80,845.26 214.80,845.26" fill="#000"/>
<circle cx="221.30" cy="847.06" r="1.8" fill="#000" stroke="none" stroke-width="0" />
<circle cx="225.30" cy="848.81" r="1.8" fill="#000" stroke="none" stroke-width="0" />
<line x1="248.20" y1="856.50" x2="248.20" y2="859.80" stroke="#000" stroke-width="1.0" />
<line x1="248.20" y1="812.64" x2="248.20" y2="827.81" stroke="#000" stroke-width="1.4" />
<line x1="244.90" y1="812.64" x2="251.50" y2="812.64" stroke="#000" stroke-width="1.4" />
<line x1="244.90" y1="827.81" x2="251.50" y2="827.81" stroke="#000" stroke-width="1.4" />
<polygon points="248.20,810.04 250.70,814.34 245.70,814.34" fill="#000"/>
<circle cx="248.20" cy="820.22" r="1.8" fill="#000" stroke="none" stroke-width="0" />
<polygon points="248.20,825.21 250.70,829.51 245.70,829.51" fill="#000"/>
<line x1="274.90" y1="856.50" x2="274.90" y2="859.80" stroke="#000" stroke-width="1.0" />
<line x1="274.90" y1="805.64" x2="274.90" y2="816.72" stroke="#000" stroke-width="1.4" />
<line x1="271.60" y1="805.64" x2="278.20" y2="805.64" stroke="#000" stroke-width="1.4" />
<line x1="271.60" y1="816.72" x2="278.20" y2="816.72" stroke="#000" stroke-width="1.4" />
<polygon points="274.90,803.04 277.40,807.34 272.40,807.34" fill="#000"/>
<circle cx="278.90" cy="814.39" r="1.8" fill="#000" stroke="none" stroke-width="0" />
<polygon points="271.90,813.54 274.40,817.84 269.40,817.84" fill="#000"/>
<text x="226.30" y="866.80" font-size="10.5" text-anchor="end" transform="rotate(-45 226.30 866.80)" >NTC</text>
<text x="253.20" y="866.80" font-size="10.5" text-anchor="end" transform="rotate(-45 253.20 866.80)" >LF-28z</text>
<text x="279.90" y="866.80" font-size="10.5" text-anchor="end" transform="rotate(-45 279.90 866.80)" >CD27z</text>
<path d="M221.10,826.70 L221.10,785.80 L247.70,785.80 L247.70,787.90" fill="none" stroke="#111" stroke-width="1.25" />
<text x="234.90" y="786.80" font-size="10.5" text-anchor="middle" >**</text>
<path d="M221.10,774.60 L221.10,772.60 L274.60,772.60 L274.60,774.60" fill="none" stroke="#111" stroke-width="1.25" />
<text x="248.00" y="774.00" font-size="10.5" text-anchor="middle" >***</text>
<text x="341.80" y="738.70" font-size="11.3" textLength="82.20" lengthAdjust="spacingAndGlyphs" >AML pat. 0012</text>
<line x1="338.10" y1="759.30" x2="338.10" y2="857.20" stroke="#000" stroke-width="1.4" />
<line x1="334.80" y1="856.40" x2="338.10" y2="856.40" stroke="#000" stroke-width="1.1" />
<text x="330.70" y="860.10" font-size="10.5" text-anchor="end" >0</text>
<line x1="334.80" y1="833.06" x2="338.10" y2="833.06" stroke="#000" stroke-width="1.1" />
<text x="330.70" y="836.76" font-size="10.5" text-anchor="end" >20</text>
<line x1="334.80" y1="809.72" x2="338.10" y2="809.72" stroke="#000" stroke-width="1.1" />
<text x="330.70" y="813.42" font-size="10.5" text-anchor="end" >40</text>
<line x1="334.80" y1="786.38" x2="338.10" y2="786.38" stroke="#000" stroke-width="1.1" />
<text x="330.70" y="790.08" font-size="10.5" text-anchor="end" >60</text>
<line x1="334.80" y1="763.04" x2="338.10" y2="763.04" stroke="#000" stroke-width="1.1" />
<text x="330.70" y="766.74" font-size="10.5" text-anchor="end" >80</text>
<text x="312.10" y="826.20" font-size="10.0" textLength="36.80" lengthAdjust="spacingAndGlyphs" transform="rotate(-90 312.10 826.20)" >Lysis (%)</text>
<rect x="347.40" y="854.65" width="17.40" height="1.75" fill="#c8c8cb" />
<rect x="374.30" y="823.14" width="17.40" height="33.26" fill="#2c4a82" />
<rect x="401.00" y="832.48" width="17.40" height="23.92" fill="#ad0b33" />
<line x1="338.10" y1="856.50" x2="426.60" y2="856.50" stroke="#000" stroke-width="1.5" />
<line x1="356.10" y1="856.50" x2="356.10" y2="859.80" stroke="#000" stroke-width="1.0" />
<line x1="356.10" y1="851.15" x2="356.10" y2="857.57" stroke="#000" stroke-width="1.4" />
<line x1="352.80" y1="851.15" x2="359.40" y2="851.15" stroke="#000" stroke-width="1.4" />
<line x1="352.80" y1="857.57" x2="359.40" y2="857.57" stroke="#000" stroke-width="1.4" />
<polygon points="356.10,848.55 358.60,852.85 353.60,852.85" fill="#000"/>
<circle cx="359.10" cy="855.23" r="1.8" fill="#000" stroke="none" stroke-width="0" />
<polygon points="353.10,854.97 355.60,859.27 350.60,859.27" fill="#000"/>
<line x1="383.00" y1="856.50" x2="383.00" y2="859.80" stroke="#000" stroke-width="1.0" />
<line x1="383.00" y1="816.14" x2="383.00" y2="830.14" stroke="#000" stroke-width="1.4" />
<line x1="379.70" y1="816.14" x2="386.30" y2="816.14" stroke="#000" stroke-width="1.4" />
<line x1="379.70" y1="830.14" x2="386.30" y2="830.14" stroke="#000" stroke-width="1.4" />
<polygon points="383.00,813.54 385.50,817.84 380.50,817.84" fill="#000"/>
<circle cx="383.00" cy="823.72" r="1.8" fill="#000" stroke="none" stroke-width="0" />
<circle cx="383.00" cy="830.14" r="1.8" fill="#000" stroke="none" stroke-width="0" />
<line x1="409.70" y1="856.50" x2="409.70" y2="859.80" stroke="#000" stroke-width="1.0" />
<line x1="409.70" y1="830.14" x2="409.70" y2="833.29" stroke="#000" stroke-width="1.4" />
<line x1="406.40" y1="830.14" x2="413.00" y2="830.14" stroke="#000" stroke-width="1.4" />
<line x1="406.40" y1="833.29" x2="413.00" y2="833.29" stroke="#000" stroke-width="1.4" />
<polygon points="409.70,827.54 412.20,831.84 407.20,831.84" fill="#000"/>
<circle cx="406.70" cy="833.06" r="1.8" fill="#000" stroke="none" stroke-width="0" />
<polygon points="413.70,829.29 416.20,833.59 411.20,833.59" fill="#000"/>
<text x="361.10" y="866.80" font-size="10.5" text-anchor="end" transform="rotate(-45 361.10 866.80)" >NTC</text>
<text x="388.00" y="866.80" font-size="10.5" text-anchor="end" transform="rotate(-45 388.00 866.80)" >LF-28z</text>
<text x="414.70" y="866.80" font-size="10.5" text-anchor="end" transform="rotate(-45 414.70 866.80)" >CD27z</text>
<path d="M356.00,851.00 L356.00,802.20 L382.60,802.20 L382.60,804.00" fill="none" stroke="#111" stroke-width="1.25" />
<text x="369.50" y="803.10" font-size="10.5" text-anchor="middle" >**</text>
<path d="M356.00,790.90 L356.00,788.90 L409.50,788.90 L409.50,790.90" fill="none" stroke="#111" stroke-width="1.25" />
<text x="382.80" y="790.50" font-size="10.5" text-anchor="middle" >***</text>
<rect x="0" y="0" width="1.4" height="901" fill="#000"/><rect x="0" y="0" width="520" height="1.3" fill="#000"/><rect x="518.3" y="0" width="1.7" height="901" fill="#000"/><rect x="0" y="898.9" width="520" height="2.1" fill="#000"/>
</svg>
</body></html>
